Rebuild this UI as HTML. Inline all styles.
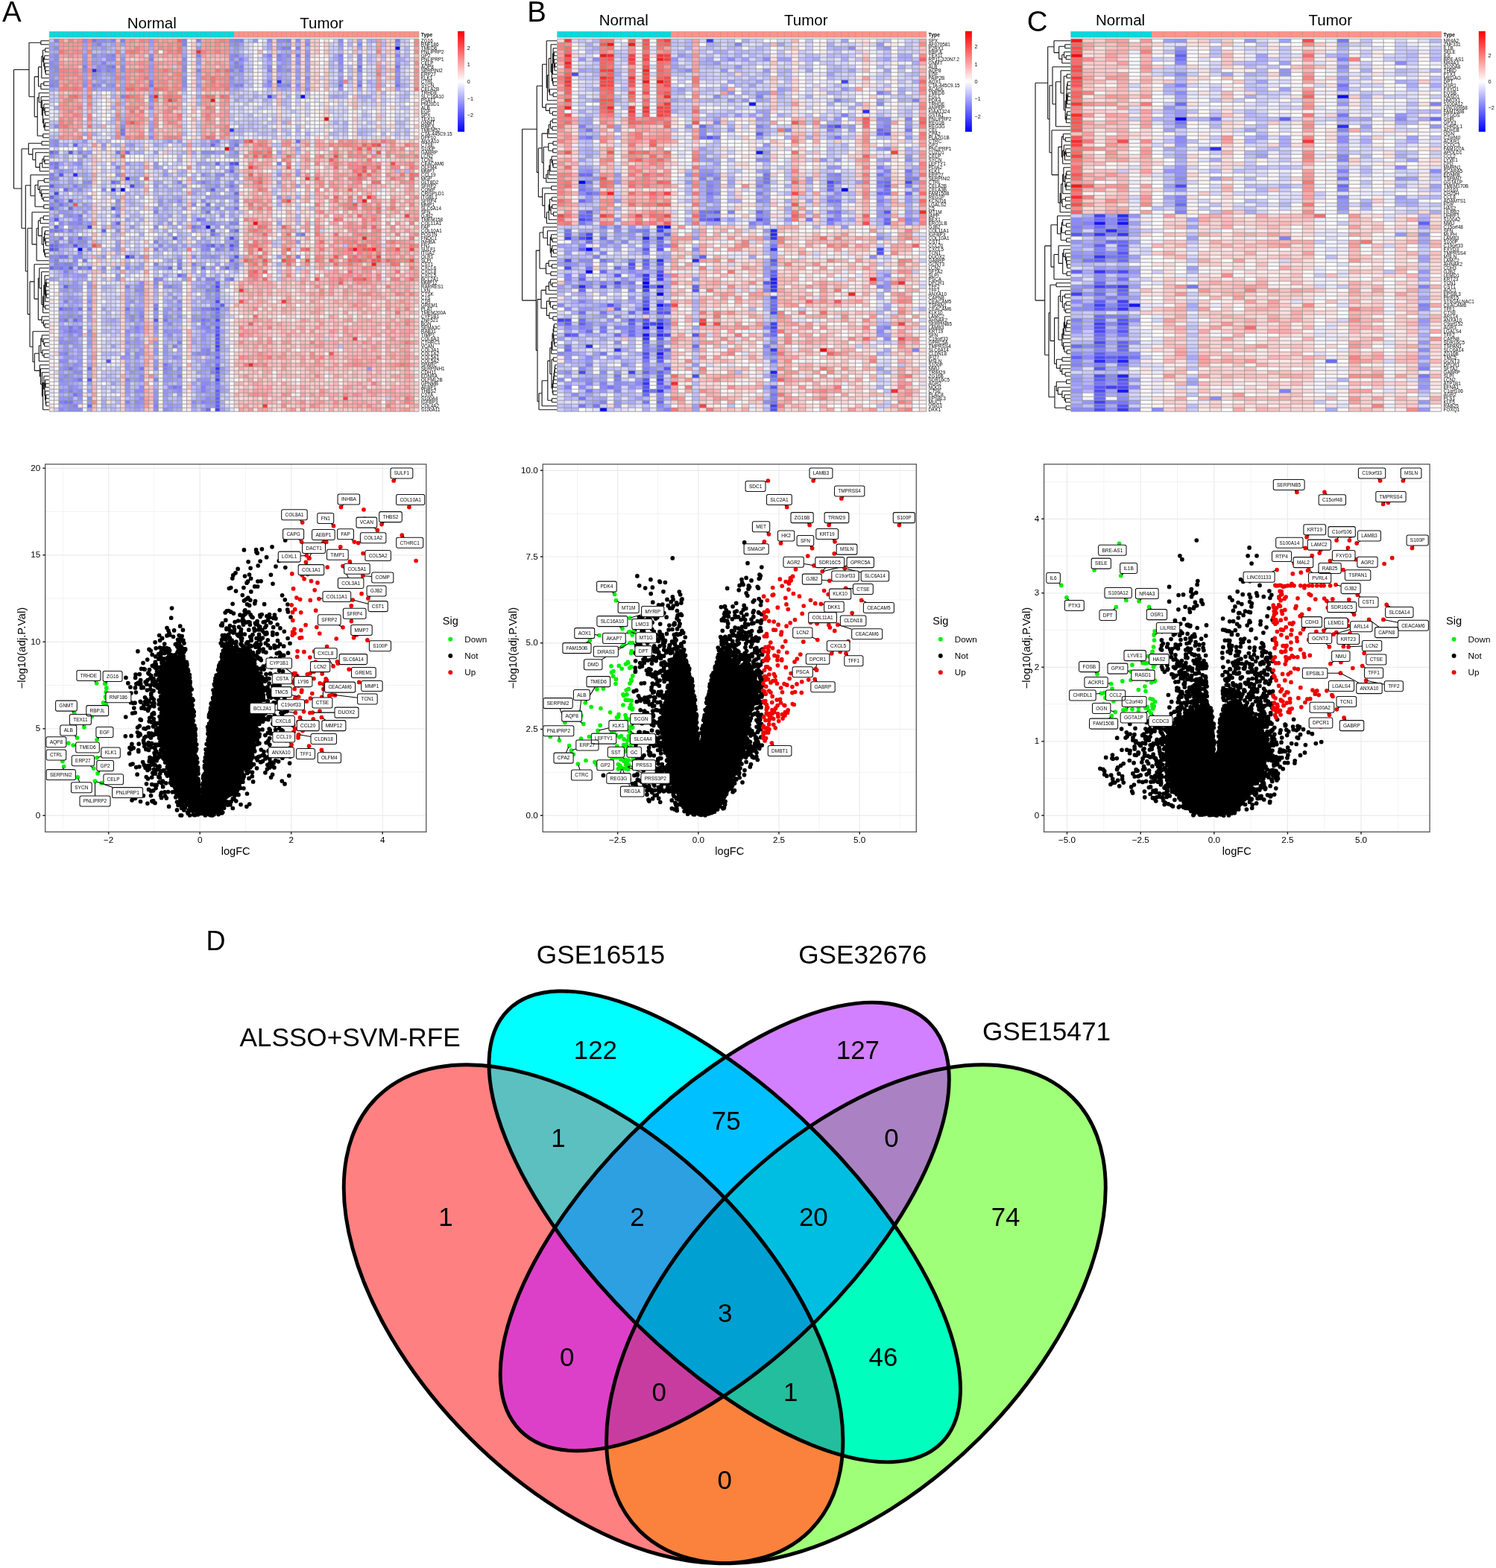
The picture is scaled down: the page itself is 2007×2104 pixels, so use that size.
<!DOCTYPE html>
<html><head><meta charset="utf-8"><title>Figure</title>
<style>
html,body{margin:0;padding:0;background:#fff}
svg{display:block}
text{font-family:"Liberation Sans",sans-serif;fill:#000}
</style></head>
<body>
<svg width="2007" height="2104" viewBox="0 0 2007 2104">
<rect width="2007" height="2104" fill="#fff"/>
<g id="venn"><defs>
<clipPath id="e1"><ellipse cx="0.35" cy="0.47" rx="0.35" ry="0.2" transform="translate(385.00 2314.80) scale(1174.5 -1173.5) rotate(135 0.35 0.47)" /></clipPath>
<clipPath id="e2"><ellipse cx="0.5" cy="0.57" rx="0.35" ry="0.15" transform="translate(385.00 2314.80) scale(1174.5 -1173.5) rotate(135 0.5 0.57)" /></clipPath>
<clipPath id="e3"><ellipse cx="0.5" cy="0.57" rx="0.33" ry="0.15" transform="translate(385.00 2314.80) scale(1174.5 -1173.5) rotate(45 0.5 0.57)" /></clipPath>
<clipPath id="e4"><ellipse cx="0.65" cy="0.47" rx="0.35" ry="0.2" transform="translate(385.00 2314.80) scale(1174.5 -1173.5) rotate(45 0.65 0.47)" /></clipPath>
</defs>
<ellipse cx="0.35" cy="0.47" rx="0.35" ry="0.2" transform="translate(385.00 2314.80) scale(1174.5 -1173.5) rotate(135 0.35 0.47)" fill="#ff8080"/>
<ellipse cx="0.5" cy="0.57" rx="0.35" ry="0.15" transform="translate(385.00 2314.80) scale(1174.5 -1173.5) rotate(135 0.5 0.57)" fill="#00ffff"/>
<ellipse cx="0.5" cy="0.57" rx="0.33" ry="0.15" transform="translate(385.00 2314.80) scale(1174.5 -1173.5) rotate(45 0.5 0.57)" fill="#d280ff"/>
<ellipse cx="0.65" cy="0.47" rx="0.35" ry="0.2" transform="translate(385.00 2314.80) scale(1174.5 -1173.5) rotate(45 0.65 0.47)" fill="#a0ff78"/>
<g clip-path="url(#e1)"><ellipse cx="0.5" cy="0.57" rx="0.35" ry="0.15" transform="translate(385.00 2314.80) scale(1174.5 -1173.5) rotate(135 0.5 0.57)" fill="#5cc0c0"/></g>
<g clip-path="url(#e1)"><ellipse cx="0.5" cy="0.57" rx="0.33" ry="0.15" transform="translate(385.00 2314.80) scale(1174.5 -1173.5) rotate(45 0.5 0.57)" fill="#dc40c8"/></g>
<g clip-path="url(#e1)"><ellipse cx="0.65" cy="0.47" rx="0.35" ry="0.2" transform="translate(385.00 2314.80) scale(1174.5 -1173.5) rotate(45 0.65 0.47)" fill="#fa823c"/></g>
<g clip-path="url(#e2)"><ellipse cx="0.5" cy="0.57" rx="0.33" ry="0.15" transform="translate(385.00 2314.80) scale(1174.5 -1173.5) rotate(45 0.5 0.57)" fill="#00c0ff"/></g>
<g clip-path="url(#e2)"><ellipse cx="0.65" cy="0.47" rx="0.35" ry="0.2" transform="translate(385.00 2314.80) scale(1174.5 -1173.5) rotate(45 0.65 0.47)" fill="#00ffbe"/></g>
<g clip-path="url(#e3)"><ellipse cx="0.65" cy="0.47" rx="0.35" ry="0.2" transform="translate(385.00 2314.80) scale(1174.5 -1173.5) rotate(45 0.65 0.47)" fill="#aa82c3"/></g>
<g clip-path="url(#e1)"><g clip-path="url(#e2)"><ellipse cx="0.5" cy="0.57" rx="0.33" ry="0.15" transform="translate(385.00 2314.80) scale(1174.5 -1173.5) rotate(45 0.5 0.57)" fill="#2da0e1"/></g></g>
<g clip-path="url(#e1)"><g clip-path="url(#e2)"><ellipse cx="0.65" cy="0.47" rx="0.35" ry="0.2" transform="translate(385.00 2314.80) scale(1174.5 -1173.5) rotate(45 0.65 0.47)" fill="#23be9e"/></g></g>
<g clip-path="url(#e1)"><g clip-path="url(#e3)"><ellipse cx="0.65" cy="0.47" rx="0.35" ry="0.2" transform="translate(385.00 2314.80) scale(1174.5 -1173.5) rotate(45 0.65 0.47)" fill="#c83ca0"/></g></g>
<g clip-path="url(#e2)"><g clip-path="url(#e3)"><ellipse cx="0.65" cy="0.47" rx="0.35" ry="0.2" transform="translate(385.00 2314.80) scale(1174.5 -1173.5) rotate(45 0.65 0.47)" fill="#00bee1"/></g></g>
<g clip-path="url(#e1)"><g clip-path="url(#e2)"><g clip-path="url(#e3)"><ellipse cx="0.65" cy="0.47" rx="0.35" ry="0.2" transform="translate(385.00 2314.80) scale(1174.5 -1173.5) rotate(45 0.65 0.47)" fill="#00a0d2"/></g></g></g>
<ellipse cx="0.35" cy="0.47" rx="0.35" ry="0.2" transform="translate(385.00 2314.80) scale(1174.5 -1173.5) rotate(135 0.35 0.47)" fill="none" stroke="#000" stroke-width="4.9" vector-effect="non-scaling-stroke"/>
<ellipse cx="0.5" cy="0.57" rx="0.35" ry="0.15" transform="translate(385.00 2314.80) scale(1174.5 -1173.5) rotate(135 0.5 0.57)" fill="none" stroke="#000" stroke-width="4.9" vector-effect="non-scaling-stroke"/>
<ellipse cx="0.5" cy="0.57" rx="0.33" ry="0.15" transform="translate(385.00 2314.80) scale(1174.5 -1173.5) rotate(45 0.5 0.57)" fill="none" stroke="#000" stroke-width="4.9" vector-effect="non-scaling-stroke"/>
<ellipse cx="0.65" cy="0.47" rx="0.35" ry="0.2" transform="translate(385.00 2314.80) scale(1174.5 -1173.5) rotate(45 0.65 0.47)" fill="none" stroke="#000" stroke-width="4.9" vector-effect="non-scaling-stroke"/>
<g font-size="34.9">
<text x="276.6" y="1274.8" font-size="36">D</text>
<g font-size="35.2"><text x="719.8" y="1292.6">GSE16515</text>
<text x="1071.2" y="1292.6">GSE32676</text>
<text x="321.4" y="1404.2">ALSSO+SVM-RFE</text>
<text x="1317.9" y="1396">GSE15471</text></g>
<g text-anchor="middle">
<text x="798.9" y="1421.4" font-size="34.9" text-anchor="middle">122</text>
<text x="1150.9" y="1421.4" font-size="34.9" text-anchor="middle">127</text>
<text x="974.2" y="1516.4" font-size="34.9" text-anchor="middle">75</text>
<text x="749.0" y="1539.3" font-size="34.9" text-anchor="middle">1</text>
<text x="1196.0" y="1539.3" font-size="34.9" text-anchor="middle">0</text>
<text x="597.9" y="1645.3" font-size="34.9" text-anchor="middle">1</text>
<text x="855.0" y="1645.3" font-size="34.9" text-anchor="middle">2</text>
<text x="1091.3" y="1645.3" font-size="34.9" text-anchor="middle">20</text>
<text x="1349.1" y="1645.3" font-size="34.9" text-anchor="middle">74</text>
<text x="972.8" y="1774.2" font-size="34.9" text-anchor="middle">3</text>
<text x="760.7" y="1833.1" font-size="34.9" text-anchor="middle">0</text>
<text x="1184.9" y="1833.1" font-size="34.9" text-anchor="middle">46</text>
<text x="884.1" y="1880.2" font-size="34.9" text-anchor="middle">0</text>
<text x="1060.8" y="1880.2" font-size="34.9" text-anchor="middle">1</text>
<text x="972.1" y="1998.0" font-size="34.9" text-anchor="middle">0</text>
</g></g></g>
<rect x="66.20" y="42.3" width="247.92" height="7.9" fill="#00dae0"/>
<rect x="314.12" y="42.3" width="247.92" height="7.9" fill="#ff9289"/>
<path fill="none" stroke="#999" stroke-width="0.9" opacity="0.55" d="M66.20 42.3v7.9M72.56 42.3v7.9M78.91 42.3v7.9M85.27 42.3v7.9M91.63 42.3v7.9M97.98 42.3v7.9M104.34 42.3v7.9M110.70 42.3v7.9M117.06 42.3v7.9M123.41 42.3v7.9M129.77 42.3v7.9M136.13 42.3v7.9M142.48 42.3v7.9M148.84 42.3v7.9M155.20 42.3v7.9M161.56 42.3v7.9M167.91 42.3v7.9M174.27 42.3v7.9M180.63 42.3v7.9M186.98 42.3v7.9M193.34 42.3v7.9M199.70 42.3v7.9M206.05 42.3v7.9M212.41 42.3v7.9M218.77 42.3v7.9M225.12 42.3v7.9M231.48 42.3v7.9M237.84 42.3v7.9M244.20 42.3v7.9M250.55 42.3v7.9M256.91 42.3v7.9M263.27 42.3v7.9M269.62 42.3v7.9M275.98 42.3v7.9M282.34 42.3v7.9M288.69 42.3v7.9M295.05 42.3v7.9M301.41 42.3v7.9M307.77 42.3v7.9M314.12 42.3v7.9M320.48 42.3v7.9M326.84 42.3v7.9M333.19 42.3v7.9M339.55 42.3v7.9M345.91 42.3v7.9M352.26 42.3v7.9M358.62 42.3v7.9M364.98 42.3v7.9M371.34 42.3v7.9M377.69 42.3v7.9M384.05 42.3v7.9M390.41 42.3v7.9M396.76 42.3v7.9M403.12 42.3v7.9M409.48 42.3v7.9M415.83 42.3v7.9M422.19 42.3v7.9M428.55 42.3v7.9M434.91 42.3v7.9M441.26 42.3v7.9M447.62 42.3v7.9M453.98 42.3v7.9M460.33 42.3v7.9M466.69 42.3v7.9M473.05 42.3v7.9M479.41 42.3v7.9M485.76 42.3v7.9M492.12 42.3v7.9M498.48 42.3v7.9M504.83 42.3v7.9M511.19 42.3v7.9M517.55 42.3v7.9M523.90 42.3v7.9M530.26 42.3v7.9M536.62 42.3v7.9M542.98 42.3v7.9M549.33 42.3v7.9M555.69 42.3v7.9M562.05 42.3v7.9M66.20 42.3h495.85M66.20 50.2h495.85"/>
<g transform="translate(66.20,52.20) scale(6.3570,5.0000)" shape-rendering="crispEdges">
<path fill="#0000ff" d="M73 2h1v1h-1zM15 40h1v1h-1zM6 56h1v1h-1z"/>
<path fill="#0b0bff" d="M53 15h1v1h-1zM33 50h1v1h-1z"/>
<path fill="#2a2aff" d="M9 8h1v1h-1zM48 11h1v1h-1zM5 36h1v1h-1zM13 40h1v1h-1z"/>
<path fill="#3535ff" d="M38 24h1v1h-1zM16 37h1v1h-1zM16 58h1v1h-1zM35 88h1v1h-1z"/>
<path fill="#4040ff" d="M46 15h1v1h-1zM8 50h1v1h-1zM35 82h1v1h-1zM35 91h1v1h-1zM35 99h1v1h-1z"/>
<path fill="#4a4aff" d="M39 33h1v1h-1zM17 39h1v1h-1zM1 41h1v1h-1zM38 53h1v1h-1zM35 66h1v1h-1zM35 70h1v1h-1zM35 75h1v1h-1zM35 79h1v1h-1z"/>
<path fill="#5555ff" d="M4 30h1v1h-1zM38 33h1v1h-1zM2 36h1v1h-1zM4 43h1v1h-1zM13 45h1v1h-1zM1 48h1v1h-1zM5 55h1v1h-1zM38 55h1v1h-1zM0 56h1v1h-1zM39 58h1v1h-1zM35 72h1v1h-1zM22 75h1v1h-1zM35 77h1v1h-1zM35 80h1v1h-1zM35 81h1v1h-1zM35 83h1v1h-1zM12 86h1v1h-1zM35 89h1v1h-1zM8 91h1v1h-1z"/>
<path fill="#6060ff" d="M5 28h1v1h-1zM0 39h1v1h-1zM34 40h1v1h-1zM0 45h1v1h-1zM14 49h1v1h-1zM1 50h1v1h-1zM11 51h1v1h-1zM34 51h1v1h-1zM26 53h1v1h-1zM34 55h1v1h-1zM4 61h1v1h-1zM35 65h1v1h-1zM3 66h1v1h-1zM36 71h1v1h-1zM35 78h1v1h-1zM35 85h1v1h-1zM35 94h1v1h-1zM35 96h1v1h-1zM35 97h1v1h-1zM35 98h1v1h-1z"/>
<path fill="#6a6aff" d="M52 27h1v1h-1zM34 28h1v1h-1zM0 30h1v1h-1zM16 30h1v1h-1zM35 33h1v1h-1zM38 35h1v1h-1zM13 38h1v1h-1zM3 40h1v1h-1zM39 41h1v1h-1zM0 42h1v1h-1zM33 44h1v1h-1zM4 45h1v1h-1zM39 51h1v1h-1zM6 53h1v1h-1zM0 55h1v1h-1zM1 56h1v1h-1zM17 58h1v1h-1zM38 59h1v1h-1zM0 61h1v1h-1zM8 61h1v1h-1zM25 61h1v1h-1zM32 61h1v1h-1zM37 61h1v1h-1zM27 63h1v1h-1zM35 67h1v1h-1zM2 72h1v1h-1zM34 72h1v1h-1zM5 75h1v1h-1zM35 87h1v1h-1zM8 88h1v1h-1zM35 90h1v1h-1zM35 95h1v1h-1zM8 98h1v1h-1zM33 99h1v1h-1z"/>
<path fill="#7575ff" d="M9 0h1v1h-1zM73 0h1v1h-1zM52 4h1v1h-1zM13 7h1v1h-1zM65 7h1v1h-1zM73 7h1v1h-1zM21 12h1v1h-1zM61 12h1v1h-1zM65 12h1v1h-1zM73 12h1v1h-1zM15 24h1v1h-1zM15 25h1v1h-1zM39 28h1v1h-1zM14 30h1v1h-1zM1 33h1v1h-1zM1 34h1v1h-1zM38 39h1v1h-1zM1 43h1v1h-1zM2 44h1v1h-1zM39 45h1v1h-1zM33 46h1v1h-1zM6 47h1v1h-1zM14 47h1v1h-1zM31 48h1v1h-1zM30 50h1v1h-1zM1 51h1v1h-1zM34 52h1v1h-1zM53 52h1v1h-1zM1 55h1v1h-1zM33 55h1v1h-1zM38 56h1v1h-1zM2 58h2v1h-2zM7 59h1v1h-1zM2 61h1v1h-1zM6 61h1v1h-1zM27 61h1v1h-1zM38 64h1v1h-1zM6 72h1v1h-1zM16 72h1v1h-1zM22 72h1v1h-1zM35 73h1v1h-1zM35 74h1v1h-1zM3 75h1v1h-1zM24 75h1v1h-1zM32 75h1v1h-1zM4 77h1v1h-1zM4 78h1v1h-1zM24 87h1v1h-1zM4 88h1v1h-1zM19 88h1v1h-1zM6 91h1v1h-1zM35 92h1v1h-1zM26 93h1v1h-1zM5 95h1v1h-1zM3 97h2v1h-2z"/>
<path fill="#8080ff" d="M1 0h1v1h-1zM13 0h1v1h-1zM15 0h1v1h-1zM28 0h1v1h-1zM31 0h1v1h-1zM39 0h2v1h-2zM50 0h1v1h-1zM10 1h1v1h-1zM28 1h1v1h-1zM49 2h2v1h-2zM52 2h1v1h-1zM13 4h1v1h-1zM31 4h1v1h-1zM39 4h1v1h-1zM46 4h1v1h-1zM48 4h1v1h-1zM61 4h1v1h-1zM73 4h1v1h-1zM21 5h1v1h-1zM40 5h1v1h-1zM11 6h1v1h-1zM39 6h1v1h-1zM7 7h1v1h-1zM12 7h1v1h-1zM39 7h2v1h-2zM10 8h1v1h-1zM12 8h1v1h-1zM31 8h1v1h-1zM38 8h1v1h-1zM40 8h1v1h-1zM46 8h1v1h-1zM65 8h1v1h-1zM21 11h1v1h-1zM46 11h1v1h-1zM0 12h1v1h-1zM9 12h1v1h-1zM39 12h2v1h-2zM48 12h1v1h-1zM50 12h1v1h-1zM15 15h1v1h-1zM21 15h1v1h-1zM35 27h1v1h-1zM1 30h1v1h-1zM6 30h1v1h-1zM0 33h1v1h-1zM48 33h1v1h-1zM14 34h1v1h-1zM38 34h1v1h-1zM0 36h1v1h-1zM0 37h1v1h-1zM14 38h1v1h-1zM27 38h1v1h-1zM32 38h1v1h-1zM5 39h1v1h-1zM39 43h1v1h-1zM22 46h1v1h-1zM6 48h1v1h-1zM32 48h1v1h-1zM6 49h1v1h-1zM38 49h2v1h-2zM0 51h1v1h-1zM2 51h1v1h-1zM4 51h1v1h-1zM2 53h1v1h-1zM1 54h1v1h-1zM4 54h1v1h-1zM22 54h1v1h-1zM39 54h1v1h-1zM36 55h1v1h-1zM39 55h1v1h-1zM8 56h1v1h-1zM22 56h1v1h-1zM33 56h1v1h-1zM35 56h1v1h-1zM6 57h1v1h-1zM52 58h1v1h-1zM1 59h1v1h-1zM1 60h1v1h-1zM3 60h2v1h-2zM22 60h1v1h-1zM27 60h1v1h-1zM30 60h1v1h-1zM39 60h1v1h-1zM1 61h1v1h-1zM14 61h1v1h-1zM39 61h1v1h-1zM3 62h1v1h-1zM22 64h1v1h-1zM33 64h2v1h-2zM16 66h1v1h-1zM25 66h1v1h-1zM33 67h1v1h-1zM35 69h1v1h-1zM3 70h1v1h-1zM22 71h1v1h-1zM3 72h2v1h-2zM8 72h1v1h-1zM27 72h1v1h-1zM32 72h2v1h-2zM19 74h1v1h-1zM33 75h1v1h-1zM32 76h1v1h-1zM35 76h1v1h-1zM6 77h1v1h-1zM18 77h1v1h-1zM33 77h1v1h-1zM5 78h1v1h-1zM27 81h1v1h-1zM26 82h1v1h-1zM33 83h1v1h-1zM3 84h1v1h-1zM33 84h1v1h-1zM35 84h1v1h-1zM24 88h1v1h-1zM34 89h1v1h-1zM27 90h1v1h-1zM16 91h1v1h-1zM22 91h1v1h-1zM27 93h1v1h-1zM32 93h1v1h-1zM35 93h1v1h-1zM4 94h1v1h-1zM32 94h1v1h-1zM2 97h1v1h-1zM16 97h1v1h-1zM32 97h1v1h-1zM5 98h1v1h-1zM22 98h1v1h-1z"/>
<path fill="#8a8aff" d="M7 0h1v1h-1zM10 0h2v1h-2zM38 0h1v1h-1zM46 0h1v1h-1zM48 0h2v1h-2zM52 0h1v1h-1zM61 0h1v1h-1zM39 1h1v1h-1zM54 1h1v1h-1zM65 1h1v1h-1zM73 1h1v1h-1zM1 2h1v1h-1zM1 4h1v1h-1zM9 4h1v1h-1zM12 4h1v1h-1zM21 4h1v1h-1zM38 4h1v1h-1zM50 4h1v1h-1zM54 4h1v1h-1zM65 4h1v1h-1zM1 5h1v1h-1zM12 5h2v1h-2zM28 5h1v1h-1zM38 5h1v1h-1zM48 5h1v1h-1zM61 5h1v1h-1zM65 5h1v1h-1zM0 6h1v1h-1zM52 6h1v1h-1zM61 6h1v1h-1zM0 7h2v1h-2zM10 7h1v1h-1zM15 7h1v1h-1zM28 7h1v1h-1zM46 7h1v1h-1zM48 7h1v1h-1zM1 8h1v1h-1zM7 8h1v1h-1zM13 8h1v1h-1zM15 8h1v1h-1zM28 8h1v1h-1zM48 8h1v1h-1zM50 8h1v1h-1zM61 8h1v1h-1zM73 8h1v1h-1zM9 9h1v1h-1zM28 10h1v1h-1zM38 10h1v1h-1zM54 10h1v1h-1zM73 10h1v1h-1zM0 11h2v1h-2zM28 11h1v1h-1zM61 11h1v1h-1zM65 11h1v1h-1zM73 11h1v1h-1zM1 12h1v1h-1zM7 12h1v1h-1zM10 12h1v1h-1zM13 12h1v1h-1zM28 12h1v1h-1zM46 12h1v1h-1zM49 12h1v1h-1zM52 12h1v1h-1zM54 13h1v1h-1zM21 16h1v1h-1zM21 18h1v1h-1zM1 23h1v1h-1zM15 23h1v1h-1zM21 26h1v1h-1zM1 27h1v1h-1zM34 27h1v1h-1zM39 27h1v1h-1zM1 28h1v1h-1zM38 29h1v1h-1zM32 30h3v1h-3zM39 30h1v1h-1zM7 31h1v1h-1zM6 33h1v1h-1zM2 35h1v1h-1zM14 36h1v1h-1zM32 36h1v1h-1zM35 36h2v1h-2zM1 37h1v1h-1zM7 38h2v1h-2zM38 38h1v1h-1zM35 39h1v1h-1zM6 40h1v1h-1zM11 40h1v1h-1zM14 43h1v1h-1zM27 43h1v1h-1zM32 43h1v1h-1zM0 44h1v1h-1zM30 44h1v1h-1zM1 45h1v1h-1zM14 45h1v1h-1zM32 45h1v1h-1zM35 45h1v1h-1zM4 47h1v1h-1zM2 49h1v1h-1zM4 49h2v1h-2zM34 49h1v1h-1zM22 50h1v1h-1zM31 50h1v1h-1zM14 51h1v1h-1zM38 51h1v1h-1zM52 52h1v1h-1zM4 53h1v1h-1zM6 54h2v1h-2zM2 55h1v1h-1zM23 55h1v1h-1zM32 55h1v1h-1zM32 56h1v1h-1zM0 58h2v1h-2zM5 58h2v1h-2zM30 58h1v1h-1zM34 58h1v1h-1zM5 59h1v1h-1zM27 59h1v1h-1zM2 60h1v1h-1zM3 61h1v1h-1zM7 61h1v1h-1zM11 61h1v1h-1zM16 61h1v1h-1zM28 63h1v1h-1zM23 64h1v1h-1zM37 64h1v1h-1zM19 65h1v1h-1zM22 65h1v1h-1zM19 66h1v1h-1zM24 66h1v1h-1zM34 66h1v1h-1zM18 67h2v1h-2zM34 67h1v1h-1zM35 68h1v1h-1zM8 70h1v1h-1zM27 70h1v1h-1zM35 71h1v1h-1zM19 73h1v1h-1zM4 74h1v1h-1zM6 74h1v1h-1zM17 74h1v1h-1zM24 74h1v1h-1zM27 74h1v1h-1zM34 74h1v1h-1zM2 75h1v1h-1zM6 75h1v1h-1zM17 75h1v1h-1zM19 75h1v1h-1zM25 76h1v1h-1zM34 76h1v1h-1zM22 77h1v1h-1zM32 77h1v1h-1zM3 78h1v1h-1zM6 78h1v1h-1zM8 78h1v1h-1zM16 78h1v1h-1zM18 78h1v1h-1zM24 78h1v1h-1zM33 78h1v1h-1zM4 79h1v1h-1zM6 79h1v1h-1zM25 79h1v1h-1zM2 81h3v1h-3zM16 81h1v1h-1zM32 83h1v1h-1zM2 84h1v1h-1zM16 84h1v1h-1zM18 84h1v1h-1zM31 84h2v1h-2zM18 85h1v1h-1zM26 85h1v1h-1zM2 86h2v1h-2zM35 86h1v1h-1zM5 87h1v1h-1zM3 88h1v1h-1zM22 88h1v1h-1zM25 88h1v1h-1zM27 88h1v1h-1zM34 88h1v1h-1zM5 89h2v1h-2zM24 89h1v1h-1zM3 90h1v1h-1zM19 90h1v1h-1zM2 91h1v1h-1zM5 91h1v1h-1zM19 91h1v1h-1zM32 92h2v1h-2zM4 93h1v1h-1zM19 93h1v1h-1zM25 93h1v1h-1zM2 94h1v1h-1zM6 94h1v1h-1zM18 94h2v1h-2zM27 94h1v1h-1zM6 95h1v1h-1zM4 96h1v1h-1zM8 96h1v1h-1zM19 96h1v1h-1zM33 96h1v1h-1zM18 97h1v1h-1zM22 97h1v1h-1zM30 97h1v1h-1zM33 97h2v1h-2zM4 98h1v1h-1zM2 99h1v1h-1zM4 99h3v1h-3zM22 99h1v1h-1zM24 99h1v1h-1z"/>
<path fill="#9595ff" d="M12 0h1v1h-1zM21 0h1v1h-1zM43 0h1v1h-1zM54 0h1v1h-1zM9 1h1v1h-1zM38 1h1v1h-1zM61 1h1v1h-1zM11 2h1v1h-1zM31 2h1v1h-1zM39 2h1v1h-1zM48 2h1v1h-1zM54 3h1v1h-1zM0 4h1v1h-1zM7 4h1v1h-1zM11 4h1v1h-1zM49 4h1v1h-1zM7 5h1v1h-1zM15 5h1v1h-1zM46 5h1v1h-1zM49 5h1v1h-1zM52 5h1v1h-1zM54 5h1v1h-1zM1 6h1v1h-1zM7 6h1v1h-1zM9 6h1v1h-1zM28 6h1v1h-1zM31 6h1v1h-1zM40 6h1v1h-1zM49 6h1v1h-1zM65 6h1v1h-1zM73 6h1v1h-1zM11 7h1v1h-1zM21 7h1v1h-1zM38 7h1v1h-1zM54 7h1v1h-1zM61 7h1v1h-1zM0 8h1v1h-1zM11 8h1v1h-1zM21 8h1v1h-1zM49 8h1v1h-1zM52 8h1v1h-1zM54 8h1v1h-1zM0 9h2v1h-2zM10 9h1v1h-1zM13 9h1v1h-1zM73 9h1v1h-1zM0 10h1v1h-1zM9 10h1v1h-1zM15 10h1v1h-1zM48 10h1v1h-1zM52 10h1v1h-1zM61 10h1v1h-1zM7 11h1v1h-1zM11 11h1v1h-1zM38 11h1v1h-1zM54 11h1v1h-1zM12 12h1v1h-1zM31 12h1v1h-1zM38 12h1v1h-1zM9 13h1v1h-1zM61 13h1v1h-1zM21 24h1v1h-1zM0 27h1v1h-1zM7 27h1v1h-1zM25 27h1v1h-1zM27 27h1v1h-1zM38 27h1v1h-1zM0 28h1v1h-1zM11 28h1v1h-1zM17 28h1v1h-1zM38 28h1v1h-1zM8 30h1v1h-1zM22 30h1v1h-1zM0 31h1v1h-1zM5 33h1v1h-1zM16 33h1v1h-1zM22 33h1v1h-1zM0 34h1v1h-1zM22 34h1v1h-1zM24 36h1v1h-1zM39 36h1v1h-1zM48 36h1v1h-1zM52 36h1v1h-1zM35 37h1v1h-1zM33 38h1v1h-1zM1 39h1v1h-1zM7 39h1v1h-1zM22 39h1v1h-1zM28 39h1v1h-1zM39 39h1v1h-1zM4 40h1v1h-1zM33 40h1v1h-1zM38 40h1v1h-1zM1 42h1v1h-1zM33 42h1v1h-1zM39 42h1v1h-1zM48 42h1v1h-1zM2 43h1v1h-1zM23 43h1v1h-1zM1 44h1v1h-1zM3 44h1v1h-1zM7 44h1v1h-1zM14 44h1v1h-1zM23 44h1v1h-1zM22 45h1v1h-1zM28 45h1v1h-1zM2 46h2v1h-2zM7 46h1v1h-1zM1 47h1v1h-1zM3 47h1v1h-1zM5 47h1v1h-1zM36 47h1v1h-1zM39 48h1v1h-1zM8 49h1v1h-1zM25 49h1v1h-1zM32 49h2v1h-2zM5 50h1v1h-1zM17 50h1v1h-1zM35 50h1v1h-1zM30 51h1v1h-1zM35 52h1v1h-1zM7 53h1v1h-1zM39 53h1v1h-1zM38 54h1v1h-1zM52 54h1v1h-1zM3 55h1v1h-1zM6 55h2v1h-2zM14 55h1v1h-1zM14 56h1v1h-1zM26 56h1v1h-1zM36 56h1v1h-1zM39 56h1v1h-1zM11 58h1v1h-1zM19 58h1v1h-1zM32 58h2v1h-2zM35 58h1v1h-1zM38 58h1v1h-1zM0 59h1v1h-1zM5 60h1v1h-1zM35 60h1v1h-1zM38 60h1v1h-1zM18 61h1v1h-1zM24 61h1v1h-1zM34 61h1v1h-1zM36 61h1v1h-1zM3 63h1v1h-1zM6 63h2v1h-2zM14 63h1v1h-1zM14 64h1v1h-1zM31 64h1v1h-1zM5 65h1v1h-1zM33 65h1v1h-1zM4 66h2v1h-2zM8 66h1v1h-1zM18 66h1v1h-1zM22 66h1v1h-1zM26 66h1v1h-1zM32 66h1v1h-1zM3 67h1v1h-1zM5 67h1v1h-1zM19 68h1v1h-1zM33 68h1v1h-1zM4 69h1v1h-1zM26 69h1v1h-1zM33 69h1v1h-1zM5 70h1v1h-1zM17 70h1v1h-1zM5 72h1v1h-1zM18 72h2v1h-2zM24 72h2v1h-2zM4 73h1v1h-1zM16 73h1v1h-1zM22 73h1v1h-1zM24 73h1v1h-1zM32 73h1v1h-1zM34 73h1v1h-1zM2 74h2v1h-2zM5 74h1v1h-1zM16 74h1v1h-1zM22 74h1v1h-1zM25 74h1v1h-1zM30 74h1v1h-1zM32 74h1v1h-1zM30 75h2v1h-2zM34 75h1v1h-1zM2 77h2v1h-2zM5 77h1v1h-1zM19 77h1v1h-1zM22 78h1v1h-1zM25 78h3v1h-3zM34 78h1v1h-1zM8 79h1v1h-1zM16 79h1v1h-1zM32 79h1v1h-1zM2 80h1v1h-1zM4 80h2v1h-2zM18 80h1v1h-1zM32 80h1v1h-1zM5 81h1v1h-1zM8 81h1v1h-1zM18 81h1v1h-1zM22 81h1v1h-1zM3 82h1v1h-1zM5 82h1v1h-1zM24 82h1v1h-1zM3 83h1v1h-1zM16 83h1v1h-1zM19 83h1v1h-1zM22 83h1v1h-1zM24 83h1v1h-1zM19 84h1v1h-1zM22 84h1v1h-1zM24 84h1v1h-1zM30 84h1v1h-1zM34 84h1v1h-1zM3 85h2v1h-2zM15 85h2v1h-2zM27 85h1v1h-1zM6 86h1v1h-1zM22 86h1v1h-1zM33 86h2v1h-2zM3 87h1v1h-1zM6 87h1v1h-1zM16 87h1v1h-1zM22 87h1v1h-1zM25 87h1v1h-1zM33 87h1v1h-1zM2 88h1v1h-1zM5 88h1v1h-1zM16 88h1v1h-1zM18 88h1v1h-1zM36 88h1v1h-1zM67 88h1v1h-1zM17 89h1v1h-1zM25 89h1v1h-1zM27 89h1v1h-1zM2 90h1v1h-1zM4 90h1v1h-1zM25 90h1v1h-1zM3 91h2v1h-2zM18 91h1v1h-1zM24 91h2v1h-2zM31 91h3v1h-3zM2 92h2v1h-2zM16 92h1v1h-1zM5 93h1v1h-1zM16 93h1v1h-1zM3 94h1v1h-1zM5 94h1v1h-1zM8 94h1v1h-1zM16 94h1v1h-1zM22 94h1v1h-1zM24 94h1v1h-1zM26 94h1v1h-1zM33 94h1v1h-1zM22 95h1v1h-1zM24 95h1v1h-1zM27 95h1v1h-1zM2 96h2v1h-2zM6 96h1v1h-1zM22 96h1v1h-1zM34 96h1v1h-1zM8 97h1v1h-1zM19 97h1v1h-1zM3 98h1v1h-1zM18 98h1v1h-1zM25 98h1v1h-1zM33 98h2v1h-2zM3 99h1v1h-1zM25 99h1v1h-1zM32 99h1v1h-1z"/>
<path fill="#9f9fff" d="M65 0h1v1h-1zM0 1h1v1h-1zM7 1h1v1h-1zM13 1h1v1h-1zM15 1h1v1h-1zM21 1h1v1h-1zM40 1h1v1h-1zM46 1h1v1h-1zM48 1h1v1h-1zM50 1h1v1h-1zM0 2h1v1h-1zM7 2h1v1h-1zM9 2h1v1h-1zM46 2h1v1h-1zM61 2h1v1h-1zM65 2h1v1h-1zM39 3h1v1h-1zM10 4h1v1h-1zM15 4h1v1h-1zM28 4h1v1h-1zM40 4h1v1h-1zM45 4h1v1h-1zM0 5h1v1h-1zM9 5h2v1h-2zM31 5h1v1h-1zM50 5h1v1h-1zM73 5h1v1h-1zM10 6h1v1h-1zM15 6h1v1h-1zM21 6h1v1h-1zM38 6h1v1h-1zM50 6h1v1h-1zM54 6h1v1h-1zM49 7h1v1h-1zM39 8h1v1h-1zM7 9h1v1h-1zM12 9h1v1h-1zM21 9h1v1h-1zM28 9h1v1h-1zM31 9h1v1h-1zM39 9h2v1h-2zM52 9h1v1h-1zM65 9h1v1h-1zM7 10h1v1h-1zM10 10h1v1h-1zM13 10h1v1h-1zM21 10h1v1h-1zM31 10h1v1h-1zM40 10h1v1h-1zM46 10h1v1h-1zM65 10h1v1h-1zM10 11h1v1h-1zM13 11h1v1h-1zM40 11h1v1h-1zM50 11h1v1h-1zM15 12h1v1h-1zM45 12h1v1h-1zM54 12h1v1h-1zM0 13h1v1h-1zM11 13h3v1h-3zM15 13h1v1h-1zM21 13h1v1h-1zM28 13h1v1h-1zM39 13h1v1h-1zM49 13h1v1h-1zM52 13h1v1h-1zM73 13h1v1h-1zM31 15h1v1h-1zM47 15h1v1h-1zM60 15h1v1h-1zM39 16h1v1h-1zM21 17h1v1h-1zM15 22h1v1h-1zM21 22h1v1h-1zM21 23h1v1h-1zM7 25h1v1h-1zM3 28h1v1h-1zM16 28h1v1h-1zM22 28h1v1h-1zM32 28h1v1h-1zM35 28h1v1h-1zM52 29h1v1h-1zM7 30h1v1h-1zM30 30h1v1h-1zM35 30h2v1h-2zM38 30h1v1h-1zM48 30h1v1h-1zM38 31h2v1h-2zM6 32h1v1h-1zM2 33h1v1h-1zM13 33h1v1h-1zM31 33h3v1h-3zM6 34h1v1h-1zM1 35h1v1h-1zM3 35h2v1h-2zM24 35h1v1h-1zM37 35h1v1h-1zM52 35h1v1h-1zM7 36h1v1h-1zM33 36h1v1h-1zM17 37h2v1h-2zM39 37h1v1h-1zM4 38h1v1h-1zM18 38h1v1h-1zM22 38h1v1h-1zM31 38h1v1h-1zM35 38h1v1h-1zM48 38h1v1h-1zM2 39h1v1h-1zM6 39h1v1h-1zM18 39h1v1h-1zM33 39h2v1h-2zM37 39h1v1h-1zM52 39h1v1h-1zM30 41h1v1h-1zM8 42h1v1h-1zM27 42h1v1h-1zM34 42h5v1h-5zM25 43h1v1h-1zM6 45h1v1h-1zM8 45h1v1h-1zM24 45h1v1h-1zM33 45h1v1h-1zM37 45h2v1h-2zM4 46h1v1h-1zM14 46h1v1h-1zM32 46h1v1h-1zM25 47h1v1h-1zM38 47h1v1h-1zM0 48h1v1h-1zM5 48h1v1h-1zM16 48h1v1h-1zM7 49h1v1h-1zM13 49h1v1h-1zM23 49h1v1h-1zM27 49h1v1h-1zM35 49h1v1h-1zM48 49h1v1h-1zM2 50h1v1h-1zM4 50h1v1h-1zM6 50h2v1h-2zM13 50h1v1h-1zM37 50h1v1h-1zM25 52h1v1h-1zM0 53h2v1h-2zM5 53h1v1h-1zM32 53h1v1h-1zM0 54h1v1h-1zM5 54h1v1h-1zM14 54h1v1h-1zM33 54h1v1h-1zM37 54h1v1h-1zM4 55h1v1h-1zM25 55h2v1h-2zM28 55h1v1h-1zM35 55h1v1h-1zM24 56h1v1h-1zM27 58h1v1h-1zM48 58h1v1h-1zM25 59h1v1h-1zM39 59h1v1h-1zM16 60h1v1h-1zM19 60h1v1h-1zM19 61h1v1h-1zM23 61h1v1h-1zM30 61h1v1h-1zM38 61h1v1h-1zM4 62h1v1h-1zM11 62h1v1h-1zM5 63h1v1h-1zM24 63h1v1h-1zM32 63h1v1h-1zM35 63h1v1h-1zM0 64h1v1h-1zM28 64h1v1h-1zM8 65h1v1h-1zM34 65h1v1h-1zM6 66h1v1h-1zM27 66h1v1h-1zM31 66h1v1h-1zM2 67h1v1h-1zM6 67h1v1h-1zM16 67h1v1h-1zM27 67h1v1h-1zM25 68h1v1h-1zM3 69h1v1h-1zM5 69h1v1h-1zM8 69h1v1h-1zM16 69h1v1h-1zM19 69h1v1h-1zM34 69h1v1h-1zM6 70h1v1h-1zM16 70h1v1h-1zM19 70h1v1h-1zM25 70h1v1h-1zM32 70h1v1h-1zM34 70h1v1h-1zM4 71h1v1h-1zM16 71h1v1h-1zM27 71h1v1h-1zM34 71h1v1h-1zM11 72h1v1h-1zM30 72h2v1h-2zM36 72h2v1h-2zM3 73h1v1h-1zM5 73h1v1h-1zM18 73h1v1h-1zM27 73h1v1h-1zM8 74h1v1h-1zM18 74h1v1h-1zM31 74h1v1h-1zM33 74h1v1h-1zM36 74h1v1h-1zM8 75h1v1h-1zM13 75h1v1h-1zM16 75h1v1h-1zM25 75h3v1h-3zM18 76h1v1h-1zM22 76h1v1h-1zM24 76h1v1h-1zM33 76h1v1h-1zM17 77h1v1h-1zM31 77h1v1h-1zM2 78h1v1h-1zM17 78h1v1h-1zM19 78h1v1h-1zM36 78h1v1h-1zM3 79h1v1h-1zM24 79h1v1h-1zM8 80h1v1h-1zM16 80h1v1h-1zM25 80h1v1h-1zM27 80h1v1h-1zM17 81h1v1h-1zM19 81h1v1h-1zM30 81h1v1h-1zM32 81h1v1h-1zM6 82h1v1h-1zM8 82h1v1h-1zM13 82h1v1h-1zM18 82h1v1h-1zM22 82h1v1h-1zM32 82h2v1h-2zM4 83h1v1h-1zM6 83h1v1h-1zM27 83h1v1h-1zM6 84h1v1h-1zM5 85h2v1h-2zM8 85h1v1h-1zM24 85h1v1h-1zM4 87h1v1h-1zM8 87h1v1h-1zM18 87h1v1h-1zM32 87h1v1h-1zM32 88h2v1h-2zM2 89h1v1h-1zM4 89h1v1h-1zM8 89h1v1h-1zM18 89h2v1h-2zM26 89h1v1h-1zM31 89h2v1h-2zM36 89h1v1h-1zM6 90h1v1h-1zM8 90h1v1h-1zM24 90h1v1h-1zM17 91h1v1h-1zM26 91h2v1h-2zM4 92h1v1h-1zM8 92h1v1h-1zM13 92h1v1h-1zM24 92h1v1h-1zM27 92h1v1h-1zM30 92h1v1h-1zM34 92h1v1h-1zM33 93h1v1h-1zM36 93h1v1h-1zM25 94h1v1h-1zM31 94h1v1h-1zM36 94h1v1h-1zM4 95h1v1h-1zM16 95h1v1h-1zM18 95h1v1h-1zM33 95h2v1h-2zM18 96h1v1h-1zM24 96h1v1h-1zM32 96h1v1h-1zM5 97h2v1h-2zM24 97h2v1h-2zM31 97h1v1h-1zM2 98h1v1h-1zM16 98h1v1h-1zM19 98h1v1h-1zM26 98h2v1h-2zM30 98h1v1h-1zM8 99h1v1h-1zM18 99h1v1h-1zM36 99h1v1h-1z"/>
<path fill="#aaaaff" d="M67 0h2v1h-2zM1 1h1v1h-1zM11 1h1v1h-1zM49 1h1v1h-1zM52 1h1v1h-1zM10 2h1v1h-1zM12 2h1v1h-1zM21 2h1v1h-1zM28 2h1v1h-1zM38 2h1v1h-1zM40 2h1v1h-1zM54 2h1v1h-1zM0 3h2v1h-2zM7 3h1v1h-1zM11 3h1v1h-1zM28 3h1v1h-1zM38 3h1v1h-1zM49 3h2v1h-2zM52 3h1v1h-1zM73 3h1v1h-1zM60 4h1v1h-1zM39 5h1v1h-1zM41 5h1v1h-1zM60 5h1v1h-1zM74 5h1v1h-1zM12 6h2v1h-2zM46 6h1v1h-1zM48 6h1v1h-1zM9 7h1v1h-1zM50 7h1v1h-1zM52 7h1v1h-1zM11 9h1v1h-1zM15 9h1v1h-1zM38 9h1v1h-1zM46 9h1v1h-1zM48 9h2v1h-2zM54 9h1v1h-1zM61 9h1v1h-1zM1 10h1v1h-1zM49 10h2v1h-2zM63 10h1v1h-1zM12 11h1v1h-1zM15 11h1v1h-1zM31 11h1v1h-1zM39 11h1v1h-1zM49 11h1v1h-1zM52 11h1v1h-1zM67 11h1v1h-1zM74 12h1v1h-1zM1 13h1v1h-1zM10 13h1v1h-1zM31 13h1v1h-1zM38 13h1v1h-1zM48 13h1v1h-1zM50 13h1v1h-1zM65 13h1v1h-1zM21 14h1v1h-1zM13 15h1v1h-1zM40 15h1v1h-1zM43 15h1v1h-1zM50 15h1v1h-1zM52 15h1v1h-1zM59 15h1v1h-1zM61 15h1v1h-1zM65 15h3v1h-3zM42 16h1v1h-1zM45 16h1v1h-1zM15 17h1v1h-1zM31 17h1v1h-1zM1 18h1v1h-1zM13 18h1v1h-1zM21 20h1v1h-1zM15 21h1v1h-1zM49 22h1v1h-1zM60 22h1v1h-1zM62 22h1v1h-1zM40 24h1v1h-1zM47 24h1v1h-1zM52 24h1v1h-1zM9 25h1v1h-1zM21 25h1v1h-1zM54 25h1v1h-1zM65 25h1v1h-1zM24 27h1v1h-1zM32 27h1v1h-1zM40 27h1v1h-1zM14 28h1v1h-1zM28 28h1v1h-1zM33 28h1v1h-1zM6 29h1v1h-1zM11 29h1v1h-1zM18 30h2v1h-2zM28 30h1v1h-1zM1 31h1v1h-1zM3 31h1v1h-1zM33 31h1v1h-1zM27 32h1v1h-1zM4 33h1v1h-1zM19 33h1v1h-1zM37 33h1v1h-1zM23 34h1v1h-1zM14 35h1v1h-1zM28 35h1v1h-1zM1 36h1v1h-1zM6 36h1v1h-1zM19 36h1v1h-1zM27 36h1v1h-1zM38 36h1v1h-1zM4 37h1v1h-1zM7 37h1v1h-1zM0 38h2v1h-2zM23 38h1v1h-1zM26 38h1v1h-1zM34 38h1v1h-1zM3 39h2v1h-2zM8 39h1v1h-1zM19 39h1v1h-1zM24 39h1v1h-1zM0 40h2v1h-2zM5 40h1v1h-1zM22 40h1v1h-1zM25 40h1v1h-1zM27 40h1v1h-1zM30 40h2v1h-2zM36 40h1v1h-1zM39 40h1v1h-1zM16 41h1v1h-1zM34 41h1v1h-1zM38 41h1v1h-1zM23 42h1v1h-1zM26 42h1v1h-1zM50 42h1v1h-1zM52 42h1v1h-1zM0 43h1v1h-1zM6 43h1v1h-1zM26 43h1v1h-1zM4 44h1v1h-1zM8 44h1v1h-1zM17 44h1v1h-1zM27 44h1v1h-1zM35 44h2v1h-2zM39 44h1v1h-1zM48 44h1v1h-1zM2 45h1v1h-1zM5 45h1v1h-1zM7 45h1v1h-1zM34 45h1v1h-1zM36 46h1v1h-1zM38 46h1v1h-1zM13 47h1v1h-1zM23 47h1v1h-1zM28 47h1v1h-1zM30 47h1v1h-1zM19 48h1v1h-1zM23 48h2v1h-2zM30 48h1v1h-1zM34 48h1v1h-1zM3 49h1v1h-1zM36 49h1v1h-1zM11 50h1v1h-1zM14 50h1v1h-1zM26 50h1v1h-1zM32 50h1v1h-1zM3 51h1v1h-1zM5 51h2v1h-2zM24 51h1v1h-1zM0 52h1v1h-1zM19 52h1v1h-1zM27 52h1v1h-1zM39 52h1v1h-1zM8 53h1v1h-1zM23 53h1v1h-1zM37 53h1v1h-1zM24 54h1v1h-1zM27 54h1v1h-1zM31 54h1v1h-1zM30 55h2v1h-2zM37 55h1v1h-1zM2 56h1v1h-1zM13 56h1v1h-1zM2 57h1v1h-1zM14 57h1v1h-1zM32 57h2v1h-2zM39 57h1v1h-1zM22 58h1v1h-1zM0 60h1v1h-1zM31 60h2v1h-2zM48 60h1v1h-1zM22 61h1v1h-1zM33 61h1v1h-1zM2 62h1v1h-1zM30 62h1v1h-1zM32 62h1v1h-1zM39 62h1v1h-1zM4 63h1v1h-1zM1 64h1v1h-1zM5 64h3v1h-3zM35 64h1v1h-1zM2 65h3v1h-3zM24 65h1v1h-1zM26 65h2v1h-2zM32 65h1v1h-1zM11 66h1v1h-1zM33 66h1v1h-1zM4 67h1v1h-1zM8 67h1v1h-1zM22 67h1v1h-1zM26 67h1v1h-1zM30 67h1v1h-1zM32 67h1v1h-1zM3 68h2v1h-2zM8 68h1v1h-1zM16 68h1v1h-1zM18 68h1v1h-1zM22 68h1v1h-1zM34 68h1v1h-1zM2 69h1v1h-1zM6 69h1v1h-1zM18 69h1v1h-1zM4 70h1v1h-1zM24 70h1v1h-1zM30 70h1v1h-1zM33 70h1v1h-1zM5 71h1v1h-1zM8 71h1v1h-1zM18 71h2v1h-2zM25 71h2v1h-2zM17 72h1v1h-1zM2 73h1v1h-1zM8 73h1v1h-1zM26 73h1v1h-1zM33 73h1v1h-1zM36 73h1v1h-1zM4 75h1v1h-1zM12 75h1v1h-1zM18 75h1v1h-1zM2 76h1v1h-1zM5 76h1v1h-1zM19 76h1v1h-1zM27 76h1v1h-1zM36 76h1v1h-1zM8 77h1v1h-1zM24 77h3v1h-3zM34 77h1v1h-1zM32 78h1v1h-1zM2 79h1v1h-1zM5 79h1v1h-1zM22 79h1v1h-1zM27 79h1v1h-1zM33 79h1v1h-1zM3 80h1v1h-1zM30 80h1v1h-1zM33 80h1v1h-1zM36 80h1v1h-1zM6 81h1v1h-1zM24 81h1v1h-1zM33 81h1v1h-1zM36 81h1v1h-1zM16 82h2v1h-2zM19 82h1v1h-1zM27 82h1v1h-1zM36 82h1v1h-1zM2 83h1v1h-1zM36 83h1v1h-1zM4 84h1v1h-1zM25 84h1v1h-1zM27 84h1v1h-1zM25 85h1v1h-1zM34 85h1v1h-1zM16 86h1v1h-1zM18 86h1v1h-1zM24 86h1v1h-1zM27 86h1v1h-1zM31 86h1v1h-1zM36 86h1v1h-1zM2 87h1v1h-1zM19 87h1v1h-1zM27 87h1v1h-1zM34 87h1v1h-1zM6 88h1v1h-1zM17 88h1v1h-1zM16 89h1v1h-1zM33 89h1v1h-1zM5 90h1v1h-1zM17 90h2v1h-2zM22 90h1v1h-1zM26 90h1v1h-1zM32 90h2v1h-2zM36 90h1v1h-1zM36 91h1v1h-1zM5 92h1v1h-1zM2 93h2v1h-2zM6 93h1v1h-1zM22 93h1v1h-1zM31 93h1v1h-1zM34 93h1v1h-1zM13 94h1v1h-1zM34 94h1v1h-1zM37 94h1v1h-1zM2 95h1v1h-1zM19 95h1v1h-1zM25 95h1v1h-1zM31 95h1v1h-1zM27 96h1v1h-1zM31 96h1v1h-1zM11 97h1v1h-1zM17 97h1v1h-1zM27 97h1v1h-1zM36 97h1v1h-1zM11 98h1v1h-1zM17 98h1v1h-1zM24 98h1v1h-1zM16 99h2v1h-2zM19 99h1v1h-1zM26 99h2v1h-2zM30 99h1v1h-1z"/>
<path fill="#b5b5ff" d="M12 1h1v1h-1zM63 1h1v1h-1zM70 1h1v1h-1zM13 2h1v1h-1zM75 2h1v1h-1zM13 3h1v1h-1zM61 3h1v1h-1zM67 4h1v1h-1zM70 4h1v1h-1zM75 4h1v1h-1zM67 5h1v1h-1zM59 6h1v1h-1zM75 6h1v1h-1zM31 7h1v1h-1zM45 7h1v1h-1zM59 7h1v1h-1zM70 7h1v1h-1zM42 8h1v1h-1zM63 8h1v1h-1zM50 9h1v1h-1zM11 10h2v1h-2zM39 10h1v1h-1zM9 11h1v1h-1zM41 11h1v1h-1zM45 11h1v1h-1zM42 12h1v1h-1zM60 12h1v1h-1zM68 12h1v1h-1zM70 12h1v1h-1zM75 12h1v1h-1zM7 13h1v1h-1zM40 13h1v1h-1zM46 13h1v1h-1zM15 14h1v1h-1zM38 14h1v1h-1zM54 14h1v1h-1zM70 14h1v1h-1zM75 14h1v1h-1zM7 15h1v1h-1zM62 15h1v1h-1zM74 15h2v1h-2zM15 16h1v1h-1zM46 16h1v1h-1zM49 16h1v1h-1zM66 16h1v1h-1zM68 16h1v1h-1zM49 17h1v1h-1zM21 19h1v1h-1zM15 20h1v1h-1zM42 20h1v1h-1zM66 20h1v1h-1zM13 21h1v1h-1zM13 22h1v1h-1zM42 22h1v1h-1zM73 22h2v1h-2zM0 23h1v1h-1zM10 23h1v1h-1zM40 23h1v1h-1zM42 23h1v1h-1zM45 23h1v1h-1zM52 23h1v1h-1zM62 23h1v1h-1zM39 24h1v1h-1zM43 24h1v1h-1zM49 24h1v1h-1zM62 24h1v1h-1zM65 24h2v1h-2zM75 24h1v1h-1zM28 25h1v1h-1zM40 25h1v1h-1zM45 25h1v1h-1zM50 25h1v1h-1zM59 25h2v1h-2zM66 25h1v1h-1zM70 25h1v1h-1zM73 25h1v1h-1zM75 25h1v1h-1zM0 26h1v1h-1zM13 26h1v1h-1zM15 26h1v1h-1zM5 27h2v1h-2zM10 27h1v1h-1zM12 27h1v1h-1zM2 28h1v1h-1zM6 28h2v1h-2zM13 28h1v1h-1zM23 28h1v1h-1zM17 29h1v1h-1zM3 30h1v1h-1zM5 30h1v1h-1zM52 30h1v1h-1zM27 31h1v1h-1zM32 31h1v1h-1zM37 31h1v1h-1zM3 32h1v1h-1zM32 32h1v1h-1zM17 33h2v1h-2zM34 33h1v1h-1zM4 34h1v1h-1zM17 34h1v1h-1zM19 34h1v1h-1zM31 34h1v1h-1zM34 34h1v1h-1zM36 34h1v1h-1zM39 34h1v1h-1zM7 35h1v1h-1zM18 35h2v1h-2zM27 35h1v1h-1zM39 35h1v1h-1zM48 35h1v1h-1zM73 35h1v1h-1zM75 35h1v1h-1zM8 36h1v1h-1zM18 36h1v1h-1zM25 36h1v1h-1zM28 36h1v1h-1zM30 36h1v1h-1zM8 37h1v1h-1zM30 37h1v1h-1zM33 37h1v1h-1zM5 38h1v1h-1zM16 38h1v1h-1zM19 38h1v1h-1zM30 38h1v1h-1zM37 38h1v1h-1zM11 39h1v1h-1zM27 39h1v1h-1zM32 39h1v1h-1zM48 39h1v1h-1zM7 40h1v1h-1zM14 40h1v1h-1zM26 40h1v1h-1zM35 40h1v1h-1zM6 41h1v1h-1zM13 41h1v1h-1zM18 41h1v1h-1zM22 41h1v1h-1zM25 41h1v1h-1zM32 41h1v1h-1zM35 41h1v1h-1zM2 42h1v1h-1zM7 42h1v1h-1zM13 42h2v1h-2zM19 42h1v1h-1zM5 43h1v1h-1zM16 43h2v1h-2zM30 43h1v1h-1zM36 43h1v1h-1zM24 44h2v1h-2zM11 45h1v1h-1zM25 45h1v1h-1zM1 46h1v1h-1zM24 46h1v1h-1zM27 46h1v1h-1zM0 47h1v1h-1zM8 47h1v1h-1zM17 47h2v1h-2zM34 47h1v1h-1zM39 47h1v1h-1zM52 47h1v1h-1zM2 48h1v1h-1zM7 48h1v1h-1zM28 48h1v1h-1zM52 48h1v1h-1zM0 49h1v1h-1zM18 49h1v1h-1zM30 49h1v1h-1zM37 49h1v1h-1zM52 49h1v1h-1zM38 50h1v1h-1zM16 51h1v1h-1zM22 51h1v1h-1zM27 51h1v1h-1zM31 51h2v1h-2zM5 52h1v1h-1zM13 52h2v1h-2zM38 52h1v1h-1zM27 53h2v1h-2zM30 53h1v1h-1zM35 53h1v1h-1zM23 54h1v1h-1zM32 54h1v1h-1zM8 55h1v1h-1zM3 56h1v1h-1zM11 56h1v1h-1zM27 56h1v1h-1zM37 56h1v1h-1zM1 57h1v1h-1zM4 57h1v1h-1zM17 57h1v1h-1zM35 57h1v1h-1zM4 58h1v1h-1zM7 58h1v1h-1zM10 58h1v1h-1zM26 58h1v1h-1zM37 58h1v1h-1zM24 59h1v1h-1zM34 59h1v1h-1zM37 60h1v1h-1zM40 60h1v1h-1zM13 61h1v1h-1zM17 61h1v1h-1zM5 62h1v1h-1zM17 62h1v1h-1zM2 63h1v1h-1zM3 64h1v1h-1zM11 64h1v1h-1zM6 65h1v1h-1zM18 65h1v1h-1zM30 65h2v1h-2zM37 65h1v1h-1zM2 66h1v1h-1zM12 66h1v1h-1zM17 66h1v1h-1zM30 66h1v1h-1zM37 66h1v1h-1zM11 67h1v1h-1zM31 67h1v1h-1zM27 68h1v1h-1zM32 68h1v1h-1zM17 69h1v1h-1zM22 69h1v1h-1zM24 69h1v1h-1zM31 69h1v1h-1zM2 70h1v1h-1zM2 71h1v1h-1zM6 71h1v1h-1zM26 72h1v1h-1zM12 73h1v1h-1zM17 73h1v1h-1zM25 73h1v1h-1zM30 73h1v1h-1zM26 74h1v1h-1zM11 75h1v1h-1zM14 75h1v1h-1zM36 75h1v1h-1zM4 76h1v1h-1zM6 76h1v1h-1zM12 76h2v1h-2zM16 76h1v1h-1zM26 76h1v1h-1zM30 76h1v1h-1zM16 77h1v1h-1zM27 77h1v1h-1zM30 77h1v1h-1zM11 78h2v1h-2zM14 78h1v1h-1zM18 79h1v1h-1zM31 79h1v1h-1zM34 79h1v1h-1zM36 79h1v1h-1zM6 80h1v1h-1zM17 80h1v1h-1zM19 80h1v1h-1zM24 80h1v1h-1zM26 80h1v1h-1zM25 81h1v1h-1zM31 81h1v1h-1zM34 81h1v1h-1zM2 82h1v1h-1zM31 82h1v1h-1zM5 83h1v1h-1zM8 83h1v1h-1zM17 83h2v1h-2zM25 83h1v1h-1zM37 83h1v1h-1zM5 84h1v1h-1zM8 84h1v1h-1zM11 84h3v1h-3zM26 84h1v1h-1zM2 85h1v1h-1zM17 85h1v1h-1zM19 85h1v1h-1zM30 85h2v1h-2zM33 85h1v1h-1zM36 85h1v1h-1zM8 86h1v1h-1zM17 86h1v1h-1zM32 86h1v1h-1zM17 87h1v1h-1zM26 87h1v1h-1zM30 88h1v1h-1zM37 88h1v1h-1zM3 89h1v1h-1zM37 89h1v1h-1zM12 90h1v1h-1zM16 90h1v1h-1zM11 91h1v1h-1zM14 91h1v1h-1zM6 92h1v1h-1zM18 92h2v1h-2zM22 92h1v1h-1zM25 92h1v1h-1zM8 93h1v1h-1zM18 93h1v1h-1zM17 94h1v1h-1zM30 94h1v1h-1zM3 95h1v1h-1zM32 95h1v1h-1zM11 96h1v1h-1zM17 96h1v1h-1zM14 97h1v1h-1zM26 97h1v1h-1zM32 98h1v1h-1zM36 98h1v1h-1zM11 99h1v1h-1zM13 99h1v1h-1zM37 99h1v1h-1z"/>
<path fill="#bfbfff" d="M0 0h1v1h-1zM42 0h1v1h-1zM63 0h1v1h-1zM70 0h1v1h-1zM74 0h1v1h-1zM31 1h1v1h-1zM67 1h1v1h-1zM45 2h1v1h-1zM67 2h1v1h-1zM9 3h2v1h-2zM12 3h1v1h-1zM15 3h1v1h-1zM21 3h1v1h-1zM40 3h1v1h-1zM46 3h1v1h-1zM48 3h1v1h-1zM75 3h1v1h-1zM41 4h1v1h-1zM63 4h1v1h-1zM68 4h1v1h-1zM11 5h1v1h-1zM45 5h1v1h-1zM59 5h1v1h-1zM70 5h1v1h-1zM45 6h1v1h-1zM67 6h1v1h-1zM74 6h1v1h-1zM60 7h1v1h-1zM63 7h1v1h-1zM41 8h1v1h-1zM59 8h1v1h-1zM70 8h1v1h-1zM70 9h1v1h-1zM42 10h1v1h-1zM75 10h1v1h-1zM59 11h2v1h-2zM63 11h1v1h-1zM68 11h1v1h-1zM74 11h1v1h-1zM59 12h1v1h-1zM67 12h1v1h-1zM7 14h1v1h-1zM13 14h1v1h-1zM28 14h1v1h-1zM31 14h1v1h-1zM39 14h1v1h-1zM43 14h1v1h-1zM46 14h1v1h-1zM52 14h1v1h-1zM62 14h1v1h-1zM68 14h1v1h-1zM39 15h1v1h-1zM44 15h1v1h-1zM54 15h1v1h-1zM0 16h1v1h-1zM28 16h1v1h-1zM31 16h1v1h-1zM40 16h1v1h-1zM50 16h1v1h-1zM70 16h1v1h-1zM74 16h1v1h-1zM13 17h1v1h-1zM41 17h1v1h-1zM46 17h1v1h-1zM50 17h1v1h-1zM15 18h1v1h-1zM38 18h1v1h-1zM40 18h1v1h-1zM44 18h1v1h-1zM50 18h1v1h-1zM74 18h2v1h-2zM51 19h1v1h-1zM38 20h1v1h-1zM38 21h1v1h-1zM47 21h1v1h-1zM50 21h1v1h-1zM75 21h1v1h-1zM0 22h2v1h-2zM39 22h1v1h-1zM43 22h1v1h-1zM46 22h2v1h-2zM67 22h1v1h-1zM9 23h1v1h-1zM31 23h1v1h-1zM74 23h1v1h-1zM41 24h2v1h-2zM45 24h1v1h-1zM50 24h1v1h-1zM60 24h2v1h-2zM67 24h2v1h-2zM73 24h1v1h-1zM1 25h1v1h-1zM38 25h2v1h-2zM44 25h1v1h-1zM47 25h1v1h-1zM52 25h1v1h-1zM62 25h1v1h-1zM1 26h1v1h-1zM47 26h1v1h-1zM16 27h2v1h-2zM22 27h1v1h-1zM33 27h1v1h-1zM37 27h1v1h-1zM18 28h2v1h-2zM24 28h1v1h-1zM30 28h2v1h-2zM47 28h2v1h-2zM19 29h1v1h-1zM17 30h1v1h-1zM27 30h1v1h-1zM6 31h1v1h-1zM14 31h1v1h-1zM48 31h1v1h-1zM8 32h1v1h-1zM3 33h1v1h-1zM24 33h1v1h-1zM27 33h1v1h-1zM36 33h1v1h-1zM7 34h1v1h-1zM33 34h1v1h-1zM6 35h1v1h-1zM11 35h1v1h-1zM16 35h1v1h-1zM31 35h1v1h-1zM33 35h1v1h-1zM3 36h2v1h-2zM17 36h1v1h-1zM23 36h1v1h-1zM34 36h1v1h-1zM26 37h1v1h-1zM34 37h1v1h-1zM2 38h2v1h-2zM11 38h1v1h-1zM17 38h1v1h-1zM40 38h1v1h-1zM26 39h1v1h-1zM8 40h1v1h-1zM18 40h1v1h-1zM23 40h2v1h-2zM32 40h1v1h-1zM47 40h1v1h-1zM0 41h1v1h-1zM3 41h1v1h-1zM5 41h1v1h-1zM31 41h1v1h-1zM37 41h1v1h-1zM47 41h1v1h-1zM5 42h1v1h-1zM17 42h1v1h-1zM22 42h1v1h-1zM24 42h2v1h-2zM3 43h1v1h-1zM22 43h1v1h-1zM24 43h1v1h-1zM28 43h1v1h-1zM33 43h2v1h-2zM38 43h1v1h-1zM48 43h1v1h-1zM6 44h1v1h-1zM13 44h1v1h-1zM16 44h1v1h-1zM18 44h2v1h-2zM38 44h1v1h-1zM19 45h1v1h-1zM52 45h1v1h-1zM55 45h1v1h-1zM0 46h1v1h-1zM5 46h2v1h-2zM16 46h1v1h-1zM18 46h1v1h-1zM23 46h1v1h-1zM25 46h1v1h-1zM35 46h1v1h-1zM40 46h1v1h-1zM22 47h1v1h-1zM24 47h1v1h-1zM27 47h1v1h-1zM33 47h1v1h-1zM4 48h1v1h-1zM17 48h1v1h-1zM22 48h1v1h-1zM27 48h1v1h-1zM48 48h1v1h-1zM22 49h1v1h-1zM18 50h1v1h-1zM25 50h1v1h-1zM28 50h1v1h-1zM34 50h1v1h-1zM39 50h1v1h-1zM18 51h1v1h-1zM4 52h1v1h-1zM11 52h1v1h-1zM28 52h2v1h-2zM32 52h1v1h-1zM13 53h1v1h-1zM22 53h1v1h-1zM33 53h1v1h-1zM3 54h1v1h-1zM16 54h1v1h-1zM25 54h1v1h-1zM35 54h1v1h-1zM47 54h1v1h-1zM18 55h1v1h-1zM24 55h1v1h-1zM27 55h1v1h-1zM47 55h1v1h-1zM62 55h1v1h-1zM4 56h1v1h-1zM7 56h1v1h-1zM18 56h1v1h-1zM23 56h1v1h-1zM25 56h1v1h-1zM28 56h1v1h-1zM11 57h1v1h-1zM18 57h1v1h-1zM22 57h2v1h-2zM36 57h3v1h-3zM8 58h1v1h-1zM13 58h2v1h-2zM18 58h1v1h-1zM23 58h1v1h-1zM31 58h1v1h-1zM40 58h1v1h-1zM2 59h2v1h-2zM16 59h1v1h-1zM32 59h1v1h-1zM35 59h1v1h-1zM8 60h1v1h-1zM18 60h1v1h-1zM23 60h1v1h-1zM25 60h1v1h-1zM5 61h1v1h-1zM10 61h1v1h-1zM52 61h1v1h-1zM1 62h1v1h-1zM8 62h1v1h-1zM14 62h1v1h-1zM18 62h1v1h-1zM22 62h1v1h-1zM34 62h1v1h-1zM48 62h1v1h-1zM1 63h1v1h-1zM16 63h1v1h-1zM22 63h1v1h-1zM25 63h1v1h-1zM31 63h1v1h-1zM37 63h1v1h-1zM13 64h1v1h-1zM48 64h1v1h-1zM25 65h1v1h-1zM13 66h1v1h-1zM36 66h1v1h-1zM17 67h1v1h-1zM24 67h1v1h-1zM5 68h1v1h-1zM17 68h1v1h-1zM14 69h1v1h-1zM25 69h1v1h-1zM27 69h1v1h-1zM32 69h1v1h-1zM36 69h1v1h-1zM18 70h1v1h-1zM22 70h1v1h-1zM26 70h1v1h-1zM37 70h1v1h-1zM3 71h1v1h-1zM30 71h2v1h-2zM13 72h1v1h-1zM6 73h1v1h-1zM31 73h1v1h-1zM37 73h1v1h-1zM11 74h2v1h-2zM37 74h1v1h-1zM8 76h1v1h-1zM11 76h1v1h-1zM14 76h1v1h-1zM37 76h1v1h-1zM13 77h1v1h-1zM36 77h1v1h-1zM31 78h1v1h-1zM37 78h1v1h-1zM13 79h1v1h-1zM19 79h1v1h-1zM26 79h1v1h-1zM30 79h1v1h-1zM31 80h1v1h-1zM34 80h1v1h-1zM12 81h1v1h-1zM26 81h1v1h-1zM4 82h1v1h-1zM25 82h1v1h-1zM30 82h1v1h-1zM34 82h1v1h-1zM37 82h1v1h-1zM61 82h1v1h-1zM31 83h1v1h-1zM34 83h1v1h-1zM14 84h1v1h-1zM36 84h1v1h-1zM22 85h1v1h-1zM4 86h2v1h-2zM19 86h1v1h-1zM26 86h1v1h-1zM30 86h1v1h-1zM37 86h1v1h-1zM30 87h1v1h-1zM37 87h1v1h-1zM14 88h1v1h-1zM26 88h1v1h-1zM31 88h1v1h-1zM11 89h1v1h-1zM13 89h1v1h-1zM22 89h1v1h-1zM13 90h1v1h-1zM34 90h1v1h-1zM12 91h2v1h-2zM34 91h1v1h-1zM14 92h1v1h-1zM26 92h1v1h-1zM31 92h1v1h-1zM36 92h2v1h-2zM11 93h1v1h-1zM17 93h1v1h-1zM24 93h1v1h-1zM30 93h1v1h-1zM37 93h1v1h-1zM36 95h1v1h-1zM5 96h1v1h-1zM13 96h2v1h-2zM16 96h1v1h-1zM25 96h2v1h-2zM30 96h1v1h-1zM37 96h1v1h-1zM12 98h2v1h-2zM31 98h1v1h-1zM31 99h1v1h-1z"/>
<path fill="#cacaff" d="M60 0h1v1h-1zM75 0h1v1h-1zM59 1h1v1h-1zM15 2h1v1h-1zM41 2h1v1h-1zM59 2h2v1h-2zM68 2h1v1h-1zM70 2h1v1h-1zM59 3h1v1h-1zM65 3h1v1h-1zM42 4h1v1h-1zM59 4h1v1h-1zM74 4h1v1h-1zM63 5h1v1h-1zM68 5h1v1h-1zM75 5h1v1h-1zM41 6h2v1h-2zM68 6h1v1h-1zM26 7h1v1h-1zM41 7h2v1h-2zM74 7h2v1h-2zM45 8h1v1h-1zM67 8h2v1h-2zM74 8h1v1h-1zM45 9h1v1h-1zM59 9h1v1h-1zM63 9h1v1h-1zM67 9h2v1h-2zM74 9h1v1h-1zM41 10h1v1h-1zM45 10h1v1h-1zM74 10h1v1h-1zM42 11h1v1h-1zM70 11h1v1h-1zM75 11h1v1h-1zM11 12h1v1h-1zM41 12h1v1h-1zM63 12h1v1h-1zM67 13h2v1h-2zM74 13h1v1h-1zM0 14h1v1h-1zM41 14h1v1h-1zM45 14h1v1h-1zM49 14h2v1h-2zM60 14h2v1h-2zM65 14h1v1h-1zM74 14h1v1h-1zM0 15h2v1h-2zM9 15h2v1h-2zM38 15h1v1h-1zM41 15h2v1h-2zM45 15h1v1h-1zM68 15h1v1h-1zM70 15h1v1h-1zM73 15h1v1h-1zM1 16h1v1h-1zM7 16h1v1h-1zM9 16h1v1h-1zM41 16h1v1h-1zM52 16h1v1h-1zM65 16h1v1h-1zM75 16h1v1h-1zM9 17h1v1h-1zM45 17h1v1h-1zM52 17h1v1h-1zM54 17h1v1h-1zM61 17h1v1h-1zM66 17h1v1h-1zM68 17h1v1h-1zM70 17h1v1h-1zM28 18h1v1h-1zM45 18h1v1h-1zM54 18h1v1h-1zM9 19h1v1h-1zM15 19h1v1h-1zM28 19h1v1h-1zM40 19h1v1h-1zM59 19h1v1h-1zM62 19h1v1h-1zM66 19h1v1h-1zM7 20h1v1h-1zM13 20h1v1h-1zM41 20h1v1h-1zM45 20h1v1h-1zM47 20h1v1h-1zM54 20h1v1h-1zM61 20h1v1h-1zM67 20h1v1h-1zM70 20h1v1h-1zM73 20h1v1h-1zM9 21h1v1h-1zM21 21h1v1h-1zM41 21h3v1h-3zM45 21h1v1h-1zM49 21h1v1h-1zM52 21h1v1h-1zM60 21h1v1h-1zM66 21h1v1h-1zM73 21h1v1h-1zM7 22h1v1h-1zM12 22h1v1h-1zM31 22h1v1h-1zM40 22h2v1h-2zM44 22h1v1h-1zM59 22h1v1h-1zM68 22h1v1h-1zM28 23h1v1h-1zM41 23h1v1h-1zM43 23h2v1h-2zM61 23h1v1h-1zM66 23h1v1h-1zM73 23h1v1h-1zM13 24h1v1h-1zM28 24h1v1h-1zM31 24h1v1h-1zM44 24h1v1h-1zM46 24h1v1h-1zM54 24h1v1h-1zM70 24h1v1h-1zM74 24h1v1h-1zM0 25h1v1h-1zM10 25h1v1h-1zM13 25h1v1h-1zM31 25h1v1h-1zM46 25h1v1h-1zM67 25h1v1h-1zM54 26h1v1h-1zM60 26h1v1h-1zM66 26h1v1h-1zM73 26h1v1h-1zM3 27h1v1h-1zM11 27h1v1h-1zM18 27h2v1h-2zM23 27h1v1h-1zM26 27h1v1h-1zM31 27h1v1h-1zM36 27h1v1h-1zM26 28h2v1h-2zM52 28h1v1h-1zM1 29h1v1h-1zM8 29h1v1h-1zM39 29h1v1h-1zM25 30h2v1h-2zM37 30h1v1h-1zM68 30h1v1h-1zM2 31h1v1h-1zM8 31h1v1h-1zM13 31h1v1h-1zM30 31h1v1h-1zM35 31h1v1h-1zM7 32h1v1h-1zM39 32h1v1h-1zM7 33h1v1h-1zM11 33h1v1h-1zM14 33h1v1h-1zM26 33h1v1h-1zM52 33h1v1h-1zM2 34h1v1h-1zM5 34h1v1h-1zM8 34h1v1h-1zM11 34h1v1h-1zM18 34h1v1h-1zM25 34h1v1h-1zM8 35h1v1h-1zM13 35h1v1h-1zM17 35h1v1h-1zM22 35h1v1h-1zM32 35h1v1h-1zM35 35h1v1h-1zM16 36h1v1h-1zM2 37h2v1h-2zM13 37h1v1h-1zM22 37h1v1h-1zM24 37h1v1h-1zM32 37h1v1h-1zM38 37h1v1h-1zM13 39h1v1h-1zM23 39h1v1h-1zM36 39h1v1h-1zM17 40h1v1h-1zM7 41h1v1h-1zM12 41h1v1h-1zM17 41h1v1h-1zM19 41h1v1h-1zM24 41h1v1h-1zM27 41h2v1h-2zM3 42h2v1h-2zM6 42h1v1h-1zM11 42h1v1h-1zM16 42h1v1h-1zM28 42h1v1h-1zM30 42h2v1h-2zM8 43h1v1h-1zM18 43h1v1h-1zM32 44h1v1h-1zM52 44h1v1h-1zM3 45h1v1h-1zM23 45h1v1h-1zM26 45h2v1h-2zM8 46h1v1h-1zM30 46h1v1h-1zM39 46h1v1h-1zM10 47h2v1h-2zM19 47h1v1h-1zM31 47h1v1h-1zM3 48h1v1h-1zM11 48h1v1h-1zM14 48h1v1h-1zM33 48h1v1h-1zM38 48h1v1h-1zM11 49h1v1h-1zM16 49h1v1h-1zM24 49h1v1h-1zM16 50h1v1h-1zM48 50h1v1h-1zM7 51h1v1h-1zM19 51h1v1h-1zM26 51h1v1h-1zM33 51h1v1h-1zM36 51h1v1h-1zM48 51h1v1h-1zM52 51h1v1h-1zM57 51h1v1h-1zM23 52h1v1h-1zM36 52h1v1h-1zM14 53h1v1h-1zM17 53h2v1h-2zM24 53h2v1h-2zM34 53h1v1h-1zM48 53h1v1h-1zM2 54h1v1h-1zM8 54h1v1h-1zM10 54h1v1h-1zM18 54h1v1h-1zM48 54h1v1h-1zM16 55h1v1h-1zM21 55h2v1h-2zM29 55h1v1h-1zM48 55h1v1h-1zM31 56h1v1h-1zM0 57h1v1h-1zM3 57h1v1h-1zM5 57h1v1h-1zM7 57h1v1h-1zM16 57h1v1h-1zM26 57h2v1h-2zM30 57h1v1h-1zM34 57h1v1h-1zM24 58h2v1h-2zM28 58h1v1h-1zM36 58h1v1h-1zM4 59h1v1h-1zM11 59h1v1h-1zM26 59h1v1h-1zM31 59h1v1h-1zM33 59h1v1h-1zM14 60h1v1h-1zM17 60h1v1h-1zM24 60h1v1h-1zM28 60h1v1h-1zM53 61h1v1h-1zM7 62h1v1h-1zM13 62h1v1h-1zM16 62h1v1h-1zM25 62h1v1h-1zM38 62h1v1h-1zM34 63h1v1h-1zM2 64h1v1h-1zM4 64h1v1h-1zM18 64h1v1h-1zM24 64h1v1h-1zM32 64h1v1h-1zM16 65h2v1h-2zM36 65h1v1h-1zM12 67h2v1h-2zM25 67h1v1h-1zM36 67h1v1h-1zM2 68h1v1h-1zM6 68h1v1h-1zM24 68h1v1h-1zM26 68h1v1h-1zM36 68h1v1h-1zM11 69h3v1h-3zM30 69h1v1h-1zM12 70h1v1h-1zM31 70h1v1h-1zM36 70h1v1h-1zM11 71h2v1h-2zM24 71h1v1h-1zM32 71h1v1h-1zM37 71h1v1h-1zM12 72h1v1h-1zM14 72h1v1h-1zM14 74h1v1h-1zM28 74h1v1h-1zM38 74h1v1h-1zM3 76h1v1h-1zM17 76h1v1h-1zM11 77h1v1h-1zM14 77h1v1h-1zM13 78h1v1h-1zM30 78h1v1h-1zM14 79h1v1h-1zM37 80h1v1h-1zM14 81h1v1h-1zM11 82h1v1h-1zM14 82h1v1h-1zM30 83h1v1h-1zM17 84h1v1h-1zM37 84h1v1h-1zM11 85h2v1h-2zM25 86h1v1h-1zM31 87h1v1h-1zM36 87h1v1h-1zM12 88h1v1h-1zM12 89h1v1h-1zM14 89h1v1h-1zM11 90h1v1h-1zM30 91h1v1h-1zM17 92h1v1h-1zM11 94h1v1h-1zM14 94h1v1h-1zM8 95h1v1h-1zM17 95h1v1h-1zM36 96h1v1h-1zM71 96h1v1h-1zM1 99h1v1h-1zM12 99h1v1h-1zM14 99h1v1h-1z"/>
<path fill="#d4d4ff" d="M41 0h1v1h-1zM41 1h1v1h-1zM45 1h1v1h-1zM60 1h1v1h-1zM74 1h2v1h-2zM63 2h1v1h-1zM74 2h1v1h-1zM60 3h1v1h-1zM67 3h1v1h-1zM70 3h1v1h-1zM42 5h1v1h-1zM44 5h1v1h-1zM60 6h1v1h-1zM67 7h1v1h-1zM60 8h1v1h-1zM41 9h2v1h-2zM60 9h1v1h-1zM57 10h1v1h-1zM59 10h1v1h-1zM68 10h1v1h-1zM41 13h1v1h-1zM63 13h1v1h-1zM10 14h1v1h-1zM40 14h1v1h-1zM42 14h1v1h-1zM59 14h1v1h-1zM67 14h1v1h-1zM28 15h1v1h-1zM49 15h1v1h-1zM13 16h1v1h-1zM38 16h1v1h-1zM43 16h1v1h-1zM59 16h1v1h-1zM61 16h1v1h-1zM67 16h1v1h-1zM73 16h1v1h-1zM0 17h1v1h-1zM7 17h1v1h-1zM38 17h1v1h-1zM65 17h1v1h-1zM67 17h1v1h-1zM73 17h2v1h-2zM7 18h1v1h-1zM9 18h2v1h-2zM31 18h1v1h-1zM39 18h1v1h-1zM43 18h1v1h-1zM46 18h1v1h-1zM49 18h1v1h-1zM59 18h1v1h-1zM61 18h2v1h-2zM65 18h1v1h-1zM68 18h1v1h-1zM70 18h1v1h-1zM7 19h1v1h-1zM43 19h1v1h-1zM49 19h2v1h-2zM52 19h1v1h-1zM54 19h1v1h-1zM60 19h2v1h-2zM70 19h1v1h-1zM75 19h1v1h-1zM1 20h1v1h-1zM28 20h1v1h-1zM39 20h2v1h-2zM46 20h1v1h-1zM52 20h1v1h-1zM60 20h1v1h-1zM74 20h1v1h-1zM40 21h1v1h-1zM44 21h1v1h-1zM61 21h1v1h-1zM65 21h1v1h-1zM70 21h1v1h-1zM9 22h2v1h-2zM28 22h1v1h-1zM38 22h1v1h-1zM52 22h1v1h-1zM54 22h1v1h-1zM61 22h1v1h-1zM65 22h1v1h-1zM70 22h1v1h-1zM75 22h1v1h-1zM7 23h1v1h-1zM13 23h1v1h-1zM59 23h2v1h-2zM65 23h1v1h-1zM70 23h1v1h-1zM71 24h1v1h-1zM12 25h1v1h-1zM43 25h1v1h-1zM49 25h1v1h-1zM61 25h1v1h-1zM72 25h1v1h-1zM74 25h1v1h-1zM38 26h1v1h-1zM40 26h1v1h-1zM43 26h1v1h-1zM45 26h1v1h-1zM49 26h1v1h-1zM52 26h1v1h-1zM62 26h1v1h-1zM68 26h1v1h-1zM70 26h1v1h-1zM75 26h1v1h-1zM2 27h1v1h-1zM4 27h1v1h-1zM8 27h1v1h-1zM21 27h1v1h-1zM30 27h1v1h-1zM4 28h1v1h-1zM8 28h1v1h-1zM36 28h1v1h-1zM40 28h1v1h-1zM70 28h1v1h-1zM16 29h1v1h-1zM23 29h1v1h-1zM27 29h1v1h-1zM33 29h1v1h-1zM48 29h1v1h-1zM13 30h1v1h-1zM31 30h1v1h-1zM40 30h1v1h-1zM21 31h2v1h-2zM52 31h1v1h-1zM2 32h1v1h-1zM4 32h1v1h-1zM14 32h1v1h-1zM10 33h1v1h-1zM13 34h1v1h-1zM16 34h1v1h-1zM26 34h1v1h-1zM48 34h1v1h-1zM52 34h1v1h-1zM5 35h1v1h-1zM23 35h1v1h-1zM11 36h1v1h-1zM22 36h1v1h-1zM26 36h1v1h-1zM37 36h1v1h-1zM40 36h1v1h-1zM47 36h1v1h-1zM5 37h1v1h-1zM11 37h1v1h-1zM14 37h1v1h-1zM25 37h1v1h-1zM36 37h2v1h-2zM47 37h1v1h-1zM6 38h1v1h-1zM12 38h1v1h-1zM25 38h1v1h-1zM36 38h1v1h-1zM39 38h1v1h-1zM10 39h1v1h-1zM16 39h1v1h-1zM25 39h1v1h-1zM19 40h1v1h-1zM48 40h1v1h-1zM2 41h1v1h-1zM11 41h1v1h-1zM23 41h1v1h-1zM26 41h1v1h-1zM52 41h1v1h-1zM55 42h1v1h-1zM7 43h1v1h-1zM11 43h1v1h-1zM64 43h1v1h-1zM28 44h1v1h-1zM37 44h1v1h-1zM16 45h2v1h-2zM21 45h1v1h-1zM31 45h1v1h-1zM48 45h1v1h-1zM17 46h1v1h-1zM26 46h1v1h-1zM31 46h1v1h-1zM7 47h1v1h-1zM32 47h1v1h-1zM8 48h1v1h-1zM13 48h1v1h-1zM18 48h1v1h-1zM36 48h1v1h-1zM19 49h1v1h-1zM28 49h1v1h-1zM31 49h1v1h-1zM55 49h1v1h-1zM0 50h1v1h-1zM23 51h1v1h-1zM28 51h1v1h-1zM3 52h1v1h-1zM7 52h1v1h-1zM37 52h1v1h-1zM11 53h1v1h-1zM19 53h1v1h-1zM11 54h1v1h-1zM28 54h1v1h-1zM34 54h1v1h-1zM70 55h1v1h-1zM17 56h1v1h-1zM19 56h1v1h-1zM52 56h1v1h-1zM8 57h1v1h-1zM21 58h1v1h-1zM18 59h2v1h-2zM7 60h1v1h-1zM11 60h2v1h-2zM34 60h1v1h-1zM47 60h1v1h-1zM70 60h1v1h-1zM31 61h1v1h-1zM48 61h1v1h-1zM0 62h1v1h-1zM24 62h1v1h-1zM28 62h1v1h-1zM36 62h1v1h-1zM52 62h1v1h-1zM26 63h1v1h-1zM30 63h1v1h-1zM26 64h1v1h-1zM52 64h1v1h-1zM14 66h1v1h-1zM12 68h2v1h-2zM30 68h1v1h-1zM37 68h1v1h-1zM37 69h1v1h-1zM13 70h1v1h-1zM13 71h1v1h-1zM17 71h1v1h-1zM33 71h1v1h-1zM11 73h1v1h-1zM14 73h1v1h-1zM13 74h1v1h-1zM12 77h1v1h-1zM11 79h1v1h-1zM17 79h1v1h-1zM12 80h2v1h-2zM58 80h1v1h-1zM11 81h1v1h-1zM13 81h1v1h-1zM12 82h1v1h-1zM11 83h2v1h-2zM37 85h1v1h-1zM11 87h1v1h-1zM10 88h1v1h-1zM13 88h1v1h-1zM1 89h1v1h-1zM30 89h1v1h-1zM14 90h1v1h-1zM30 90h2v1h-2zM37 90h1v1h-1zM10 91h1v1h-1zM37 91h1v1h-1zM12 92h1v1h-1zM12 93h1v1h-1zM14 93h1v1h-1zM28 94h1v1h-1zM11 95h1v1h-1zM30 95h1v1h-1zM37 95h1v1h-1zM12 96h1v1h-1zM13 97h1v1h-1zM37 98h1v1h-1z"/>
<path fill="#dfdfff" d="M45 0h1v1h-1zM42 1h1v1h-1zM68 1h1v1h-1zM42 2h1v1h-1zM42 3h1v1h-1zM68 3h1v1h-1zM74 3h1v1h-1zM76 5h1v1h-1zM70 6h1v1h-1zM44 7h1v1h-1zM62 7h1v1h-1zM68 7h1v1h-1zM66 8h1v1h-1zM75 8h1v1h-1zM75 9h1v1h-1zM60 10h1v1h-1zM67 10h1v1h-1zM70 10h1v1h-1zM72 11h1v1h-1zM29 12h1v1h-1zM57 12h1v1h-1zM42 13h1v1h-1zM45 13h1v1h-1zM59 13h2v1h-2zM75 13h1v1h-1zM1 14h1v1h-1zM63 14h1v1h-1zM73 14h1v1h-1zM10 16h1v1h-1zM44 16h1v1h-1zM47 16h1v1h-1zM56 16h1v1h-1zM62 16h1v1h-1zM71 16h1v1h-1zM39 17h1v1h-1zM57 17h1v1h-1zM42 18h1v1h-1zM47 18h1v1h-1zM52 18h1v1h-1zM60 18h1v1h-1zM67 18h1v1h-1zM73 18h1v1h-1zM12 19h1v1h-1zM38 19h2v1h-2zM41 19h1v1h-1zM44 19h1v1h-1zM73 19h1v1h-1zM10 20h1v1h-1zM44 20h1v1h-1zM49 20h2v1h-2zM62 20h1v1h-1zM65 20h1v1h-1zM75 20h1v1h-1zM0 21h1v1h-1zM10 21h1v1h-1zM28 21h1v1h-1zM31 21h1v1h-1zM62 21h1v1h-1zM67 21h1v1h-1zM74 21h1v1h-1zM45 22h1v1h-1zM46 23h1v1h-1zM49 23h2v1h-2zM67 23h2v1h-2zM75 23h1v1h-1zM7 24h1v1h-1zM9 24h1v1h-1zM11 24h1v1h-1zM56 24h2v1h-2zM55 25h1v1h-1zM68 25h1v1h-1zM9 26h3v1h-3zM28 26h1v1h-1zM31 26h1v1h-1zM46 26h1v1h-1zM50 26h1v1h-1zM61 26h1v1h-1zM65 26h1v1h-1zM67 26h1v1h-1zM74 26h1v1h-1zM28 27h1v1h-1zM48 27h1v1h-1zM55 27h1v1h-1zM21 28h1v1h-1zM55 28h1v1h-1zM14 29h1v1h-1zM22 29h1v1h-1zM24 29h1v1h-1zM32 29h1v1h-1zM35 29h1v1h-1zM2 30h1v1h-1zM11 30h1v1h-1zM21 30h1v1h-1zM4 31h1v1h-1zM11 31h1v1h-1zM20 31h1v1h-1zM34 31h1v1h-1zM0 32h2v1h-2zM21 32h1v1h-1zM30 32h2v1h-2zM34 32h1v1h-1zM8 33h1v1h-1zM30 33h1v1h-1zM30 34h1v1h-1zM0 35h1v1h-1zM12 35h1v1h-1zM21 35h1v1h-1zM34 35h1v1h-1zM36 35h1v1h-1zM47 35h1v1h-1zM10 36h1v1h-1zM31 36h1v1h-1zM48 37h1v1h-1zM21 38h1v1h-1zM24 38h1v1h-1zM28 38h1v1h-1zM12 39h1v1h-1zM47 39h1v1h-1zM21 41h1v1h-1zM55 41h1v1h-1zM32 42h1v1h-1zM19 43h1v1h-1zM31 43h1v1h-1zM35 43h1v1h-1zM10 44h2v1h-2zM47 44h1v1h-1zM12 45h1v1h-1zM70 45h1v1h-1zM11 46h2v1h-2zM34 46h1v1h-1zM37 46h1v1h-1zM52 46h1v1h-1zM2 47h1v1h-1zM16 47h1v1h-1zM26 47h1v1h-1zM35 47h1v1h-1zM37 47h1v1h-1zM10 48h1v1h-1zM21 48h1v1h-1zM25 48h2v1h-2zM35 48h1v1h-1zM8 51h1v1h-1zM10 51h1v1h-1zM13 51h1v1h-1zM17 51h1v1h-1zM35 51h1v1h-1zM40 51h1v1h-1zM2 52h1v1h-1zM24 52h1v1h-1zM33 52h1v1h-1zM3 53h1v1h-1zM16 53h1v1h-1zM13 54h1v1h-1zM17 54h1v1h-1zM13 55h1v1h-1zM19 55h1v1h-1zM52 55h1v1h-1zM5 56h1v1h-1zM12 56h1v1h-1zM34 56h1v1h-1zM25 57h1v1h-1zM31 57h1v1h-1zM47 58h1v1h-1zM8 59h1v1h-1zM13 59h1v1h-1zM36 59h1v1h-1zM21 61h1v1h-1zM26 61h1v1h-1zM28 61h1v1h-1zM40 61h1v1h-1zM55 61h1v1h-1zM58 61h1v1h-1zM6 62h1v1h-1zM19 62h1v1h-1zM35 62h1v1h-1zM40 62h1v1h-1zM0 63h1v1h-1zM23 63h1v1h-1zM33 63h1v1h-1zM36 63h1v1h-1zM38 63h2v1h-2zM48 63h1v1h-1zM27 64h1v1h-1zM36 64h1v1h-1zM39 64h1v1h-1zM70 64h1v1h-1zM12 65h3v1h-3zM11 68h1v1h-1zM14 68h1v1h-1zM38 69h1v1h-1zM14 70h1v1h-1zM38 70h1v1h-1zM14 71h1v1h-1zM37 75h1v1h-1zM31 76h1v1h-1zM37 77h1v1h-1zM12 79h1v1h-1zM37 79h1v1h-1zM14 80h1v1h-1zM37 81h2v1h-2zM13 83h2v1h-2zM0 85h1v1h-1zM11 86h1v1h-1zM14 87h1v1h-1zM0 88h1v1h-1zM28 88h1v1h-1zM1 91h1v1h-1zM13 93h1v1h-1zM0 94h1v1h-1zM12 94h1v1h-1zM26 95h1v1h-1zM14 98h1v1h-1zM10 99h1v1h-1zM38 99h1v1h-1z"/>
<path fill="#eaeaff" d="M41 3h1v1h-1zM63 3h1v1h-1zM29 4h1v1h-1zM44 4h1v1h-1zM66 5h1v1h-1zM29 6h1v1h-1zM57 7h1v1h-1zM44 8h1v1h-1zM29 9h1v1h-1zM43 11h1v1h-1zM66 11h1v1h-1zM44 12h1v1h-1zM62 12h1v1h-1zM76 12h1v1h-1zM70 13h1v1h-1zM9 14h1v1h-1zM44 14h1v1h-1zM47 14h1v1h-1zM66 14h1v1h-1zM76 14h1v1h-1zM12 15h1v1h-1zM29 15h1v1h-1zM56 15h2v1h-2zM71 15h1v1h-1zM54 16h1v1h-1zM72 16h1v1h-1zM10 17h1v1h-1zM28 17h1v1h-1zM40 17h1v1h-1zM42 17h1v1h-1zM44 17h1v1h-1zM60 17h1v1h-1zM62 17h1v1h-1zM0 18h1v1h-1zM41 18h1v1h-1zM57 18h1v1h-1zM66 18h1v1h-1zM0 19h2v1h-2zM10 19h1v1h-1zM13 19h1v1h-1zM42 19h1v1h-1zM46 19h2v1h-2zM53 19h1v1h-1zM67 19h1v1h-1zM74 19h1v1h-1zM0 20h1v1h-1zM31 20h1v1h-1zM43 20h1v1h-1zM59 20h1v1h-1zM68 20h1v1h-1zM1 21h1v1h-1zM7 21h1v1h-1zM39 21h1v1h-1zM59 21h1v1h-1zM68 21h1v1h-1zM66 22h1v1h-1zM12 23h1v1h-1zM38 23h1v1h-1zM47 23h1v1h-1zM57 23h1v1h-1zM0 24h2v1h-2zM10 24h1v1h-1zM12 24h1v1h-1zM29 24h1v1h-1zM76 24h1v1h-1zM29 25h1v1h-1zM41 25h2v1h-2zM56 25h1v1h-1zM7 26h1v1h-1zM41 26h2v1h-2zM44 26h1v1h-1zM53 26h1v1h-1zM59 26h1v1h-1zM20 27h1v1h-1zM37 28h1v1h-1zM0 29h1v1h-1zM18 29h1v1h-1zM26 29h1v1h-1zM36 29h1v1h-1zM9 30h1v1h-1zM20 30h1v1h-1zM23 30h1v1h-1zM70 30h1v1h-1zM5 31h1v1h-1zM17 31h1v1h-1zM31 31h1v1h-1zM11 32h1v1h-1zM22 32h1v1h-1zM24 32h2v1h-2zM33 32h1v1h-1zM52 32h1v1h-1zM70 32h1v1h-1zM28 33h1v1h-1zM40 33h1v1h-1zM3 34h1v1h-1zM32 34h1v1h-1zM37 34h1v1h-1zM55 36h1v1h-1zM6 37h1v1h-1zM23 37h1v1h-1zM28 37h1v1h-1zM52 38h1v1h-1zM14 39h1v1h-1zM31 39h1v1h-1zM2 40h1v1h-1zM28 40h1v1h-1zM37 40h1v1h-1zM70 40h1v1h-1zM4 41h1v1h-1zM14 41h1v1h-1zM48 41h1v1h-1zM29 42h1v1h-1zM47 42h1v1h-1zM52 43h1v1h-1zM22 44h1v1h-1zM26 44h1v1h-1zM34 44h1v1h-1zM18 45h1v1h-1zM36 45h1v1h-1zM10 46h1v1h-1zM13 46h1v1h-1zM48 46h1v1h-1zM20 47h1v1h-1zM40 47h1v1h-1zM47 47h1v1h-1zM55 47h1v1h-1zM12 48h1v1h-1zM15 48h1v1h-1zM17 49h1v1h-1zM19 50h1v1h-1zM52 50h1v1h-1zM25 51h1v1h-1zM55 51h1v1h-1zM1 52h1v1h-1zM8 52h1v1h-1zM18 52h1v1h-1zM10 53h1v1h-1zM12 53h1v1h-1zM36 53h1v1h-1zM52 53h1v1h-1zM70 53h1v1h-1zM19 54h1v1h-1zM26 54h1v1h-1zM30 54h1v1h-1zM36 54h1v1h-1zM70 54h1v1h-1zM12 55h1v1h-1zM20 55h1v1h-1zM16 56h1v1h-1zM30 56h1v1h-1zM9 57h1v1h-1zM19 57h1v1h-1zM48 57h1v1h-1zM70 57h1v1h-1zM6 59h1v1h-1zM14 59h1v1h-1zM30 59h1v1h-1zM48 59h1v1h-1zM6 60h1v1h-1zM36 60h1v1h-1zM55 60h1v1h-1zM12 62h1v1h-1zM26 62h1v1h-1zM55 62h1v1h-1zM8 63h1v1h-1zM10 63h1v1h-1zM17 63h1v1h-1zM19 63h1v1h-1zM70 63h1v1h-1zM8 64h1v1h-1zM10 64h1v1h-1zM16 64h1v1h-1zM47 64h1v1h-1zM11 65h1v1h-1zM10 66h1v1h-1zM14 67h1v1h-1zM0 69h1v1h-1zM10 70h1v1h-1zM0 71h1v1h-1zM28 71h1v1h-1zM0 72h1v1h-1zM13 73h1v1h-1zM23 73h1v1h-1zM7 74h1v1h-1zM10 74h1v1h-1zM0 75h2v1h-2zM28 75h1v1h-1zM7 76h1v1h-1zM23 76h1v1h-1zM38 77h1v1h-1zM10 79h1v1h-1zM11 80h1v1h-1zM7 82h1v1h-1zM1 83h1v1h-1zM0 84h1v1h-1zM23 84h1v1h-1zM13 85h2v1h-2zM14 86h1v1h-1zM10 87h1v1h-1zM12 87h2v1h-2zM11 88h1v1h-1zM77 89h1v1h-1zM10 90h1v1h-1zM23 91h1v1h-1zM28 91h1v1h-1zM38 91h1v1h-1zM10 92h1v1h-1zM28 92h1v1h-1zM10 93h1v1h-1zM23 93h1v1h-1zM0 95h1v1h-1zM12 95h2v1h-2zM1 96h1v1h-1zM38 96h1v1h-1zM37 97h1v1h-1zM23 99h1v1h-1z"/>
<path fill="#f4f4ff" d="M29 0h1v1h-1zM29 1h1v1h-1zM44 1h1v1h-1zM66 1h1v1h-1zM76 1h1v1h-1zM62 2h1v1h-1zM45 3h1v1h-1zM66 4h1v1h-1zM43 5h1v1h-1zM47 5h1v1h-1zM57 5h1v1h-1zM62 5h1v1h-1zM63 6h1v1h-1zM66 6h1v1h-1zM66 7h1v1h-1zM76 7h1v1h-1zM43 8h1v1h-1zM62 8h1v1h-1zM43 12h1v1h-1zM12 14h1v1h-1zM29 14h1v1h-1zM55 14h2v1h-2zM29 16h1v1h-1zM53 16h1v1h-1zM1 17h1v1h-1zM43 17h1v1h-1zM47 17h1v1h-1zM71 17h1v1h-1zM56 18h1v1h-1zM65 19h1v1h-1zM72 19h1v1h-1zM9 20h1v1h-1zM63 20h1v1h-1zM72 20h1v1h-1zM12 21h1v1h-1zM51 21h1v1h-1zM56 21h1v1h-1zM11 22h1v1h-1zM53 22h1v1h-1zM55 22h1v1h-1zM63 22h1v1h-1zM39 23h1v1h-1zM54 23h3v1h-3zM63 23h1v1h-1zM55 24h1v1h-1zM59 24h1v1h-1zM63 24h1v1h-1zM11 25h1v1h-1zM53 25h1v1h-1zM57 25h1v1h-1zM39 26h1v1h-1zM51 26h1v1h-1zM76 26h1v1h-1zM14 27h1v1h-1zM25 28h1v1h-1zM4 29h1v1h-1zM21 29h1v1h-1zM31 29h1v1h-1zM55 30h1v1h-1zM25 31h1v1h-1zM28 31h1v1h-1zM5 32h1v1h-1zM18 32h1v1h-1zM23 32h1v1h-1zM26 32h1v1h-1zM35 32h3v1h-3zM23 33h1v1h-1zM25 33h1v1h-1zM55 33h1v1h-1zM10 34h1v1h-1zM24 34h1v1h-1zM27 34h1v1h-1zM35 34h1v1h-1zM25 35h1v1h-1zM30 35h1v1h-1zM55 35h1v1h-1zM52 37h1v1h-1zM21 39h1v1h-1zM30 39h1v1h-1zM10 40h1v1h-1zM12 40h1v1h-1zM40 40h1v1h-1zM69 41h1v1h-1zM18 42h1v1h-1zM20 42h1v1h-1zM70 42h1v1h-1zM37 43h1v1h-1zM40 43h1v1h-1zM54 44h2v1h-2zM30 45h1v1h-1zM19 46h1v1h-1zM28 46h1v1h-1zM61 46h1v1h-1zM12 47h1v1h-1zM21 47h1v1h-1zM37 48h1v1h-1zM1 49h1v1h-1zM10 49h1v1h-1zM12 49h1v1h-1zM40 49h1v1h-1zM27 50h1v1h-1zM36 50h1v1h-1zM55 50h1v1h-1zM12 51h1v1h-1zM6 52h1v1h-1zM16 52h1v1h-1zM22 52h1v1h-1zM20 53h1v1h-1zM31 53h1v1h-1zM11 55h1v1h-1zM17 55h1v1h-1zM40 56h1v1h-1zM28 57h1v1h-1zM15 58h1v1h-1zM55 58h1v1h-1zM28 59h1v1h-1zM26 60h1v1h-1zM23 62h1v1h-1zM27 62h1v1h-1zM37 62h1v1h-1zM47 62h1v1h-1zM15 63h1v1h-1zM18 63h1v1h-1zM55 63h1v1h-1zM57 63h1v1h-1zM17 64h1v1h-1zM25 64h1v1h-1zM30 64h1v1h-1zM0 66h1v1h-1zM7 66h1v1h-1zM28 66h1v1h-1zM0 67h1v1h-1zM38 67h1v1h-1zM38 68h1v1h-1zM11 70h1v1h-1zM1 71h1v1h-1zM1 72h1v1h-1zM10 72h1v1h-1zM23 72h1v1h-1zM77 72h1v1h-1zM1 73h1v1h-1zM7 73h1v1h-1zM10 73h1v1h-1zM0 74h1v1h-1zM21 74h1v1h-1zM52 74h1v1h-1zM10 75h1v1h-1zM28 76h1v1h-1zM10 78h1v1h-1zM28 79h1v1h-1zM0 80h1v1h-1zM7 80h1v1h-1zM0 81h2v1h-2zM10 81h1v1h-1zM1 82h1v1h-1zM7 83h1v1h-1zM28 83h1v1h-1zM38 83h1v1h-1zM10 85h1v1h-1zM28 85h1v1h-1zM13 86h1v1h-1zM0 89h1v1h-1zM7 89h1v1h-1zM38 89h1v1h-1zM23 92h1v1h-1zM1 94h1v1h-1zM7 94h1v1h-1zM14 95h1v1h-1zM0 96h1v1h-1zM7 97h1v1h-1zM28 97h1v1h-1zM38 97h1v1h-1zM10 98h1v1h-1zM28 98h1v1h-1zM7 99h1v1h-1z"/>
<path fill="#ffffff" d="M44 0h1v1h-1zM57 0h1v1h-1zM62 0h1v1h-1zM76 0h1v1h-1zM43 1h1v1h-1zM57 2h1v1h-1zM76 2h1v1h-1zM23 3h1v1h-1zM76 3h1v1h-1zM43 4h1v1h-1zM57 4h1v1h-1zM62 4h1v1h-1zM76 4h1v1h-1zM29 5h1v1h-1zM58 5h1v1h-1zM64 5h1v1h-1zM44 6h1v1h-1zM57 6h1v1h-1zM29 7h1v1h-1zM43 7h1v1h-1zM47 7h1v1h-1zM29 8h1v1h-1zM57 9h1v1h-1zM66 9h1v1h-1zM29 10h1v1h-1zM29 11h1v1h-1zM66 12h1v1h-1zM71 12h1v1h-1zM43 13h2v1h-2zM11 14h1v1h-1zM30 14h1v1h-1zM58 14h1v1h-1zM51 15h1v1h-1zM63 15h1v1h-1zM76 15h1v1h-1zM11 16h1v1h-1zM76 16h1v1h-1zM11 17h1v1h-1zM55 17h1v1h-1zM59 17h1v1h-1zM75 17h1v1h-1zM11 18h1v1h-1zM51 18h1v1h-1zM55 18h1v1h-1zM29 19h1v1h-1zM45 19h1v1h-1zM68 19h1v1h-1zM71 19h1v1h-1zM76 19h1v1h-1zM12 20h1v1h-1zM51 20h1v1h-1zM55 20h1v1h-1zM11 21h1v1h-1zM29 21h1v1h-1zM56 22h1v1h-1zM51 24h1v1h-1zM51 25h1v1h-1zM63 25h1v1h-1zM69 25h1v1h-1zM55 26h1v1h-1zM57 26h1v1h-1zM63 26h1v1h-1zM13 27h1v1h-1zM47 27h1v1h-1zM2 29h2v1h-2zM5 29h1v1h-1zM34 29h1v1h-1zM47 30h1v1h-1zM16 31h1v1h-1zM18 31h2v1h-2zM55 31h1v1h-1zM16 32h2v1h-2zM48 32h1v1h-1zM12 33h1v1h-1zM47 33h1v1h-1zM12 34h1v1h-1zM28 34h1v1h-1zM40 34h1v1h-1zM57 34h1v1h-1zM70 34h1v1h-1zM19 37h1v1h-1zM31 37h1v1h-1zM70 38h1v1h-1zM9 40h1v1h-1zM16 40h1v1h-1zM21 40h1v1h-1zM52 40h2v1h-2zM55 40h1v1h-1zM57 40h1v1h-1zM10 41h1v1h-1zM33 41h1v1h-1zM70 41h1v1h-1zM10 42h1v1h-1zM71 42h1v1h-1zM9 43h1v1h-1zM13 43h1v1h-1zM20 43h1v1h-1zM47 43h1v1h-1zM55 43h1v1h-1zM21 44h1v1h-1zM40 44h1v1h-1zM42 46h1v1h-1zM49 47h1v1h-1zM70 47h1v1h-1zM29 48h1v1h-1zM40 48h1v1h-1zM55 48h1v1h-1zM70 48h1v1h-1zM58 49h1v1h-1zM70 49h1v1h-1zM72 49h1v1h-1zM3 50h1v1h-1zM20 50h2v1h-2zM70 50h1v1h-1zM20 51h1v1h-1zM37 51h1v1h-1zM21 52h1v1h-1zM26 52h1v1h-1zM30 52h1v1h-1zM48 52h1v1h-1zM21 54h1v1h-1zM40 54h1v1h-1zM55 54h1v1h-1zM40 55h1v1h-1zM21 57h1v1h-1zM24 57h1v1h-1zM47 57h1v1h-1zM53 58h1v1h-1zM52 59h1v1h-1zM21 60h1v1h-1zM33 60h1v1h-1zM52 60h1v1h-1zM31 62h1v1h-1zM33 62h1v1h-1zM12 63h2v1h-2zM40 63h1v1h-1zM45 63h1v1h-1zM52 63h1v1h-1zM21 64h1v1h-1zM55 64h1v1h-1zM28 65h1v1h-1zM1 66h1v1h-1zM38 66h1v1h-1zM1 67h1v1h-1zM7 67h1v1h-1zM37 67h1v1h-1zM0 68h1v1h-1zM28 68h1v1h-1zM1 69h1v1h-1zM1 70h1v1h-1zM23 70h1v1h-1zM10 71h1v1h-1zM23 71h1v1h-1zM52 71h1v1h-1zM28 73h1v1h-1zM23 74h1v1h-1zM40 74h1v1h-1zM38 75h1v1h-1zM10 77h1v1h-1zM1 78h1v1h-1zM7 78h1v1h-1zM10 80h1v1h-1zM23 80h1v1h-1zM7 81h1v1h-1zM23 82h1v1h-1zM28 82h1v1h-1zM52 83h1v1h-1zM38 84h1v1h-1zM1 85h1v1h-1zM7 85h1v1h-1zM23 85h1v1h-1zM1 86h1v1h-1zM7 86h1v1h-1zM10 86h1v1h-1zM29 86h1v1h-1zM28 87h1v1h-1zM21 89h1v1h-1zM23 89h1v1h-1zM28 89h1v1h-1zM23 90h1v1h-1zM0 91h1v1h-1zM7 91h1v1h-1zM29 91h1v1h-1zM39 91h1v1h-1zM52 91h1v1h-1zM1 92h1v1h-1zM7 92h1v1h-1zM11 92h1v1h-1zM21 92h1v1h-1zM38 92h1v1h-1zM23 94h1v1h-1zM1 95h1v1h-1zM10 95h1v1h-1zM7 96h1v1h-1zM23 96h1v1h-1zM28 96h1v1h-1zM70 97h1v1h-1zM1 98h1v1h-1zM34 99h1v1h-1z"/>
<path fill="#fff4f4" d="M59 0h1v1h-1zM57 1h1v1h-1zM29 2h1v1h-1zM43 2h2v1h-2zM51 2h1v1h-1zM43 3h1v1h-1zM57 3h1v1h-1zM55 5h2v1h-2zM43 6h1v1h-1zM62 6h1v1h-1zM76 6h1v1h-1zM76 8h1v1h-1zM43 9h2v1h-2zM62 9h1v1h-1zM43 10h2v1h-2zM66 10h1v1h-1zM76 10h1v1h-1zM44 11h1v1h-1zM29 13h1v1h-1zM57 13h1v1h-1zM62 13h1v1h-1zM51 14h1v1h-1zM53 14h1v1h-1zM57 14h1v1h-1zM71 14h2v1h-2zM72 15h1v1h-1zM51 16h1v1h-1zM55 16h1v1h-1zM57 16h1v1h-1zM77 16h1v1h-1zM51 17h1v1h-1zM56 17h1v1h-1zM72 17h1v1h-1zM76 17h1v1h-1zM29 18h1v1h-1zM35 18h1v1h-1zM63 18h1v1h-1zM71 18h1v1h-1zM11 19h1v1h-1zM31 19h1v1h-1zM63 19h1v1h-1zM56 20h1v1h-1zM71 20h1v1h-1zM76 20h1v1h-1zM46 21h1v1h-1zM54 21h2v1h-2zM63 21h1v1h-1zM71 21h1v1h-1zM76 21h1v1h-1zM51 22h1v1h-1zM57 22h1v1h-1zM71 22h1v1h-1zM76 22h2v1h-2zM29 23h1v1h-1zM51 23h1v1h-1zM76 23h1v1h-1zM53 24h1v1h-1zM48 25h1v1h-1zM71 25h1v1h-1zM77 25h1v1h-1zM29 26h1v1h-1zM72 26h1v1h-1zM15 27h1v1h-1zM7 29h1v1h-1zM13 29h1v1h-1zM47 29h1v1h-1zM59 29h1v1h-1zM57 30h1v1h-1zM24 31h1v1h-1zM36 31h1v1h-1zM40 31h1v1h-1zM19 32h1v1h-1zM38 32h1v1h-1zM69 32h1v1h-1zM49 33h1v1h-1zM51 33h1v1h-1zM46 35h1v1h-1zM70 35h1v1h-1zM13 36h1v1h-1zM29 36h1v1h-1zM70 36h1v1h-1zM10 37h1v1h-1zM40 37h1v1h-1zM70 37h1v1h-1zM10 38h1v1h-1zM66 38h1v1h-1zM40 39h1v1h-1zM77 39h1v1h-1zM8 41h1v1h-1zM36 41h1v1h-1zM53 41h1v1h-1zM21 42h1v1h-1zM31 44h1v1h-1zM53 44h1v1h-1zM51 45h1v1h-1zM75 45h1v1h-1zM20 46h1v1h-1zM48 47h1v1h-1zM59 47h1v1h-1zM21 49h1v1h-1zM47 49h1v1h-1zM10 50h1v1h-1zM23 50h1v1h-1zM12 52h1v1h-1zM17 52h1v1h-1zM20 52h1v1h-1zM40 52h1v1h-1zM55 52h1v1h-1zM15 53h1v1h-1zM21 53h1v1h-1zM46 53h1v1h-1zM55 53h1v1h-1zM73 53h1v1h-1zM10 56h1v1h-1zM40 57h1v1h-1zM50 57h1v1h-1zM52 57h2v1h-2zM12 58h1v1h-1zM62 58h1v1h-1zM9 59h1v1h-1zM17 59h1v1h-1zM21 59h1v1h-1zM23 59h1v1h-1zM47 59h1v1h-1zM12 61h1v1h-1zM47 61h1v1h-1zM59 61h1v1h-1zM21 62h1v1h-1zM46 62h1v1h-1zM21 63h1v1h-1zM0 65h2v1h-2zM10 65h1v1h-1zM23 66h1v1h-1zM10 67h1v1h-1zM23 67h1v1h-1zM28 67h1v1h-1zM31 68h1v1h-1zM7 69h1v1h-1zM10 69h1v1h-1zM23 69h1v1h-1zM52 69h1v1h-1zM47 70h1v1h-1zM7 71h1v1h-1zM28 72h1v1h-1zM0 73h1v1h-1zM29 73h1v1h-1zM70 73h1v1h-1zM1 74h1v1h-1zM48 74h1v1h-1zM61 74h1v1h-1zM64 74h1v1h-1zM67 74h1v1h-1zM10 76h1v1h-1zM1 77h1v1h-1zM7 77h1v1h-1zM38 78h1v1h-1zM1 79h1v1h-1zM23 79h1v1h-1zM38 80h1v1h-1zM47 80h1v1h-1zM28 81h1v1h-1zM0 82h1v1h-1zM10 82h1v1h-1zM38 82h1v1h-1zM26 83h1v1h-1zM61 83h1v1h-1zM7 84h1v1h-1zM10 84h1v1h-1zM58 84h1v1h-1zM0 86h1v1h-1zM38 86h1v1h-1zM1 88h1v1h-1zM7 88h1v1h-1zM23 88h1v1h-1zM10 89h1v1h-1zM47 89h1v1h-1zM7 90h1v1h-1zM38 90h1v1h-1zM58 90h1v1h-1zM61 91h1v1h-1zM77 91h1v1h-1zM0 92h1v1h-1zM1 93h1v1h-1zM7 93h1v1h-1zM28 93h1v1h-1zM38 93h1v1h-1zM10 94h1v1h-1zM38 94h1v1h-1zM52 94h1v1h-1zM23 95h1v1h-1zM10 96h1v1h-1zM0 97h2v1h-2zM23 97h1v1h-1zM7 98h1v1h-1zM38 98h1v1h-1zM39 99h1v1h-1z"/>
<path fill="#ffeaea" d="M66 0h1v1h-1zM62 1h1v1h-1zM64 1h1v1h-1zM30 5h1v1h-1zM71 5h2v1h-2zM64 7h1v1h-1zM57 8h1v1h-1zM76 9h1v1h-1zM62 10h1v1h-1zM57 11h1v1h-1zM66 13h1v1h-1zM76 13h1v1h-1zM64 14h1v1h-1zM55 15h1v1h-1zM20 16h1v1h-1zM58 16h1v1h-1zM69 16h1v1h-1zM12 17h1v1h-1zM53 17h1v1h-1zM76 18h1v1h-1zM55 19h3v1h-3zM11 20h1v1h-1zM53 20h1v1h-1zM57 20h1v1h-1zM64 20h1v1h-1zM35 21h1v1h-1zM53 21h1v1h-1zM72 21h1v1h-1zM77 21h1v1h-1zM23 22h1v1h-1zM29 22h1v1h-1zM69 22h1v1h-1zM72 22h1v1h-1zM23 23h1v1h-1zM20 24h1v1h-1zM72 24h1v1h-1zM77 24h1v1h-1zM30 25h1v1h-1zM76 25h1v1h-1zM12 26h1v1h-1zM12 29h1v1h-1zM28 29h1v1h-1zM30 29h1v1h-1zM55 29h1v1h-1zM75 29h1v1h-1zM10 31h1v1h-1zM12 31h1v1h-1zM23 31h1v1h-1zM26 31h1v1h-1zM28 32h1v1h-1zM40 32h1v1h-1zM21 33h1v1h-1zM55 34h1v1h-1zM74 34h1v1h-1zM20 35h1v1h-1zM45 35h1v1h-1zM54 35h1v1h-1zM77 35h1v1h-1zM12 36h1v1h-1zM21 37h1v1h-1zM27 37h1v1h-1zM67 38h1v1h-1zM15 39h1v1h-1zM41 40h1v1h-1zM73 40h1v1h-1zM65 41h1v1h-1zM12 42h1v1h-1zM40 42h1v1h-1zM75 42h1v1h-1zM58 43h1v1h-1zM67 43h1v1h-1zM12 44h1v1h-1zM58 44h1v1h-1zM70 44h1v1h-1zM40 45h1v1h-1zM47 45h1v1h-1zM49 45h1v1h-1zM58 45h1v1h-1zM21 46h1v1h-1zM29 46h1v1h-1zM47 46h1v1h-1zM49 46h1v1h-1zM55 46h1v1h-1zM53 47h1v1h-1zM73 47h1v1h-1zM72 48h1v1h-1zM26 49h1v1h-1zM61 49h1v1h-1zM75 49h1v1h-1zM77 49h1v1h-1zM40 50h1v1h-1zM59 50h1v1h-1zM73 50h1v1h-1zM9 51h1v1h-1zM29 51h1v1h-1zM53 51h1v1h-1zM59 51h1v1h-1zM62 51h1v1h-1zM10 52h1v1h-1zM51 52h1v1h-1zM70 52h1v1h-1zM75 52h1v1h-1zM40 53h1v1h-1zM47 53h1v1h-1zM71 53h1v1h-1zM77 53h1v1h-1zM12 54h1v1h-1zM58 55h1v1h-1zM47 56h1v1h-1zM44 57h1v1h-1zM55 57h1v1h-1zM46 58h1v1h-1zM22 59h1v1h-1zM74 60h1v1h-1zM9 61h1v1h-1zM15 61h1v1h-1zM29 61h1v1h-1zM35 61h1v1h-1zM49 61h1v1h-1zM51 61h1v1h-1zM61 61h1v1h-1zM56 62h1v1h-1zM70 62h1v1h-1zM41 63h1v1h-1zM47 63h1v1h-1zM40 64h1v1h-1zM7 65h1v1h-1zM54 66h1v1h-1zM58 66h1v1h-1zM51 67h1v1h-1zM70 67h1v1h-1zM7 68h1v1h-1zM10 68h1v1h-1zM39 68h1v1h-1zM28 69h1v1h-1zM39 69h1v1h-1zM47 69h2v1h-2zM28 70h1v1h-1zM38 71h1v1h-1zM7 72h1v1h-1zM61 72h1v1h-1zM21 73h1v1h-1zM38 73h2v1h-2zM58 73h1v1h-1zM29 74h1v1h-1zM49 74h1v1h-1zM54 74h1v1h-1zM57 74h1v1h-1zM76 74h2v1h-2zM7 75h1v1h-1zM48 75h1v1h-1zM51 75h1v1h-1zM1 76h1v1h-1zM23 77h1v1h-1zM29 77h1v1h-1zM70 77h1v1h-1zM23 78h1v1h-1zM0 79h1v1h-1zM61 79h1v1h-1zM28 80h1v1h-1zM39 80h1v1h-1zM43 80h1v1h-1zM48 80h1v1h-1zM70 80h1v1h-1zM23 81h1v1h-1zM0 83h1v1h-1zM23 83h1v1h-1zM39 83h1v1h-1zM70 83h1v1h-1zM15 84h1v1h-1zM28 84h1v1h-1zM70 84h1v1h-1zM77 84h1v1h-1zM38 85h1v1h-1zM28 86h1v1h-1zM70 86h1v1h-1zM0 87h2v1h-2zM7 87h1v1h-1zM38 87h1v1h-1zM52 89h1v1h-1zM1 90h1v1h-1zM28 90h1v1h-1zM47 90h1v1h-1zM40 91h1v1h-1zM47 91h1v1h-1zM49 91h1v1h-1zM51 91h1v1h-1zM58 91h1v1h-1zM70 91h1v1h-1zM52 92h1v1h-1zM61 92h1v1h-1zM70 92h1v1h-1zM0 93h1v1h-1zM28 95h2v1h-2zM51 95h2v1h-2zM29 96h1v1h-1zM54 96h1v1h-1zM58 96h1v1h-1zM77 96h1v1h-1zM10 97h1v1h-1zM28 99h2v1h-2z"/>
<path fill="#ffdfdf" d="M30 0h1v1h-1zM58 0h1v1h-1zM72 1h1v1h-1zM66 2h1v1h-1zM29 3h1v1h-1zM62 3h1v1h-1zM66 3h1v1h-1zM51 4h1v1h-1zM56 4h1v1h-1zM58 4h1v1h-1zM64 4h1v1h-1zM51 5h1v1h-1zM53 5h1v1h-1zM47 6h1v1h-1zM64 6h1v1h-1zM72 6h1v1h-1zM30 7h1v1h-1zM51 7h1v1h-1zM53 7h1v1h-1zM55 7h2v1h-2zM58 7h1v1h-1zM72 7h1v1h-1zM47 9h1v1h-1zM71 9h2v1h-2zM30 10h1v1h-1zM51 10h1v1h-1zM53 10h1v1h-1zM64 10h1v1h-1zM47 11h1v1h-1zM76 11h1v1h-1zM51 12h1v1h-1zM56 12h1v1h-1zM72 12h1v1h-1zM23 14h1v1h-1zM77 14h1v1h-1zM35 16h1v1h-1zM63 16h1v1h-1zM29 17h1v1h-1zM12 18h1v1h-1zM53 18h1v1h-1zM69 18h1v1h-1zM20 19h1v1h-1zM35 19h1v1h-1zM48 19h1v1h-1zM64 19h1v1h-1zM69 19h1v1h-1zM30 20h1v1h-1zM57 21h1v1h-1zM35 22h1v1h-1zM58 22h1v1h-1zM48 23h1v1h-1zM64 23h1v1h-1zM71 23h1v1h-1zM30 24h1v1h-1zM35 24h1v1h-1zM58 24h1v1h-1zM69 24h1v1h-1zM20 25h1v1h-1zM35 25h1v1h-1zM9 27h1v1h-1zM58 27h1v1h-1zM60 27h1v1h-1zM74 27h1v1h-1zM77 27h1v1h-1zM12 28h1v1h-1zM20 28h1v1h-1zM10 29h1v1h-1zM49 29h1v1h-1zM54 29h1v1h-1zM41 30h1v1h-1zM53 30h1v1h-1zM70 31h1v1h-1zM12 32h1v1h-1zM29 32h1v1h-1zM44 32h1v1h-1zM51 32h1v1h-1zM29 33h1v1h-1zM41 33h1v1h-1zM70 33h1v1h-1zM51 34h1v1h-1zM10 35h1v1h-1zM57 35h1v1h-1zM59 35h1v1h-1zM20 38h1v1h-1zM47 38h1v1h-1zM54 38h2v1h-2zM55 39h1v1h-1zM58 39h1v1h-1zM66 39h1v1h-1zM74 39h1v1h-1zM59 40h1v1h-1zM71 40h1v1h-1zM15 41h1v1h-1zM41 41h1v1h-1zM61 41h1v1h-1zM71 41h1v1h-1zM9 42h1v1h-1zM59 42h1v1h-1zM10 43h1v1h-1zM12 43h1v1h-1zM21 43h1v1h-1zM20 44h1v1h-1zM51 44h1v1h-1zM73 44h1v1h-1zM10 45h1v1h-1zM53 45h1v1h-1zM54 46h1v1h-1zM15 47h1v1h-1zM20 48h1v1h-1zM46 48h1v1h-1zM49 48h1v1h-1zM53 48h1v1h-1zM58 48h2v1h-2zM62 48h1v1h-1zM65 48h1v1h-1zM71 48h1v1h-1zM73 48h1v1h-1zM20 49h1v1h-1zM49 49h1v1h-1zM51 49h1v1h-1zM53 49h1v1h-1zM47 50h1v1h-1zM47 51h1v1h-1zM58 51h1v1h-1zM67 51h1v1h-1zM31 52h1v1h-1zM58 52h1v1h-1zM74 52h1v1h-1zM29 53h1v1h-1zM53 54h1v1h-1zM77 54h1v1h-1zM15 55h1v1h-1zM54 55h2v1h-2zM9 56h1v1h-1zM21 56h1v1h-1zM48 56h1v1h-1zM10 57h1v1h-1zM29 57h1v1h-1zM41 57h1v1h-1zM58 57h1v1h-1zM70 58h1v1h-1zM12 59h1v1h-1zM37 59h1v1h-1zM10 60h1v1h-1zM46 60h1v1h-1zM70 61h1v1h-1zM74 61h1v1h-1zM62 62h1v1h-1zM74 62h1v1h-1zM11 63h1v1h-1zM19 64h1v1h-1zM71 64h1v1h-1zM38 65h1v1h-1zM48 65h1v1h-1zM29 66h1v1h-1zM48 66h1v1h-1zM70 66h1v1h-1zM15 67h1v1h-1zM47 67h1v1h-1zM54 67h1v1h-1zM1 68h1v1h-1zM54 69h1v1h-1zM58 69h1v1h-1zM0 70h1v1h-1zM7 70h1v1h-1zM54 70h1v1h-1zM70 70h1v1h-1zM21 71h1v1h-1zM48 71h1v1h-1zM68 71h1v1h-1zM21 72h1v1h-1zM39 72h1v1h-1zM44 72h1v1h-1zM46 72h1v1h-1zM70 72h1v1h-1zM43 73h1v1h-1zM52 73h1v1h-1zM61 73h1v1h-1zM63 73h2v1h-2zM39 74h1v1h-1zM42 74h1v1h-1zM46 74h1v1h-1zM55 74h1v1h-1zM58 74h1v1h-1zM62 74h1v1h-1zM70 74h1v1h-1zM72 74h1v1h-1zM23 75h1v1h-1zM0 76h1v1h-1zM29 76h1v1h-1zM38 76h1v1h-1zM63 76h1v1h-1zM0 77h1v1h-1zM28 77h1v1h-1zM39 77h1v1h-1zM15 78h1v1h-1zM28 78h1v1h-1zM52 78h1v1h-1zM54 78h1v1h-1zM38 79h2v1h-2zM70 79h1v1h-1zM1 80h1v1h-1zM15 80h1v1h-1zM42 80h1v1h-1zM51 80h1v1h-1zM55 80h1v1h-1zM65 80h2v1h-2zM68 80h2v1h-2zM77 82h1v1h-1zM10 83h1v1h-1zM48 83h1v1h-1zM51 83h1v1h-1zM23 86h1v1h-1zM51 86h2v1h-2zM15 88h1v1h-1zM29 88h1v1h-1zM38 88h2v1h-2zM70 88h1v1h-1zM77 88h1v1h-1zM15 89h1v1h-1zM40 89h1v1h-1zM44 89h1v1h-1zM58 89h1v1h-1zM63 89h1v1h-1zM73 89h1v1h-1zM0 90h1v1h-1zM29 90h1v1h-1zM43 91h1v1h-1zM65 91h1v1h-1zM68 91h1v1h-1zM72 91h1v1h-1zM48 92h1v1h-1zM73 92h1v1h-1zM40 93h1v1h-1zM58 93h1v1h-1zM61 93h1v1h-1zM67 93h1v1h-1zM29 94h1v1h-1zM39 94h1v1h-1zM7 95h1v1h-1zM38 95h1v1h-1zM15 96h1v1h-1zM40 96h1v1h-1zM44 96h1v1h-1zM46 96h1v1h-1zM50 96h1v1h-1zM70 96h1v1h-1zM12 97h1v1h-1zM48 97h1v1h-1zM0 98h1v1h-1zM6 98h1v1h-1zM23 98h1v1h-1zM29 98h1v1h-1zM70 98h1v1h-1zM0 99h1v1h-1zM43 99h1v1h-1zM48 99h1v1h-1zM52 99h1v1h-1zM58 99h1v1h-1z"/>
<path fill="#ffd4d4" d="M51 0h1v1h-1zM47 1h1v1h-1zM30 2h1v1h-1zM53 2h1v1h-1zM55 2h1v1h-1zM58 2h1v1h-1zM71 2h2v1h-2zM55 3h1v1h-1zM72 3h1v1h-1zM47 4h1v1h-1zM53 4h1v1h-1zM55 4h1v1h-1zM71 4h2v1h-2zM17 5h1v1h-1zM23 5h1v1h-1zM69 5h1v1h-1zM56 6h1v1h-1zM58 6h1v1h-1zM71 7h1v1h-1zM55 8h2v1h-2zM51 9h1v1h-1zM55 9h1v1h-1zM64 9h1v1h-1zM47 10h1v1h-1zM56 10h1v1h-1zM53 11h1v1h-1zM55 11h1v1h-1zM64 11h1v1h-1zM71 11h1v1h-1zM30 12h1v1h-1zM64 12h1v1h-1zM14 14h1v1h-1zM27 14h1v1h-1zM32 14h1v1h-1zM35 14h1v1h-1zM69 14h1v1h-1zM11 15h1v1h-1zM20 15h1v1h-1zM58 15h1v1h-1zM77 15h1v1h-1zM12 16h1v1h-1zM30 16h1v1h-1zM60 16h1v1h-1zM30 17h1v1h-1zM58 17h1v1h-1zM63 17h1v1h-1zM48 18h1v1h-1zM72 18h1v1h-1zM77 18h1v1h-1zM20 20h1v1h-1zM23 20h1v1h-1zM29 20h1v1h-1zM58 20h1v1h-1zM30 22h1v1h-1zM48 22h1v1h-1zM64 22h1v1h-1zM20 23h1v1h-1zM30 23h1v1h-1zM53 23h1v1h-1zM72 23h1v1h-1zM48 24h1v1h-1zM64 24h1v1h-1zM58 25h1v1h-1zM64 25h1v1h-1zM30 26h1v1h-1zM35 26h1v1h-1zM48 26h1v1h-1zM56 26h1v1h-1zM64 26h1v1h-1zM69 26h1v1h-1zM73 27h1v1h-1zM75 27h1v1h-1zM10 28h1v1h-1zM51 28h1v1h-1zM9 29h1v1h-1zM20 29h1v1h-1zM25 29h1v1h-1zM40 29h2v1h-2zM53 29h1v1h-1zM10 30h1v1h-1zM12 30h1v1h-1zM58 30h1v1h-1zM29 31h1v1h-1zM62 31h1v1h-1zM72 31h1v1h-1zM10 32h1v1h-1zM13 32h1v1h-1zM20 32h1v1h-1zM41 32h1v1h-1zM63 32h1v1h-1zM71 32h1v1h-1zM57 33h2v1h-2zM21 34h1v1h-1zM62 34h1v1h-1zM9 35h1v1h-1zM15 35h1v1h-1zM26 35h1v1h-1zM29 35h1v1h-1zM49 35h1v1h-1zM51 35h1v1h-1zM61 35h1v1h-1zM67 35h1v1h-1zM21 36h1v1h-1zM12 37h1v1h-1zM51 37h1v1h-1zM58 37h2v1h-2zM62 37h1v1h-1zM75 37h1v1h-1zM77 37h1v1h-1zM58 38h1v1h-1zM72 38h1v1h-1zM9 39h1v1h-1zM29 39h1v1h-1zM53 39h1v1h-1zM72 39h1v1h-1zM29 40h1v1h-1zM42 40h1v1h-1zM46 40h1v1h-1zM74 40h1v1h-1zM44 41h1v1h-1zM50 41h2v1h-2zM58 41h2v1h-2zM73 41h2v1h-2zM77 41h1v1h-1zM62 42h1v1h-1zM64 42h1v1h-1zM66 42h1v1h-1zM74 43h1v1h-1zM49 44h1v1h-1zM71 44h1v1h-1zM41 45h1v1h-1zM50 45h1v1h-1zM65 45h1v1h-1zM15 46h1v1h-1zM51 46h1v1h-1zM63 46h1v1h-1zM70 46h1v1h-1zM74 46h1v1h-1zM29 47h1v1h-1zM51 47h1v1h-1zM54 47h1v1h-1zM57 47h1v1h-1zM47 48h1v1h-1zM64 48h1v1h-1zM74 48h1v1h-1zM41 49h1v1h-1zM15 50h1v1h-1zM24 50h1v1h-1zM51 50h1v1h-1zM58 50h1v1h-1zM76 50h1v1h-1zM70 51h1v1h-1zM47 52h1v1h-1zM54 52h1v1h-1zM72 52h1v1h-1zM9 53h1v1h-1zM53 53h1v1h-1zM58 53h1v1h-1zM29 54h1v1h-1zM42 54h1v1h-1zM59 54h1v1h-1zM46 55h1v1h-1zM53 55h1v1h-1zM73 55h1v1h-1zM12 57h2v1h-2zM77 58h1v1h-1zM29 59h1v1h-1zM55 59h1v1h-1zM58 59h1v1h-1zM61 59h1v1h-1zM20 60h1v1h-1zM66 60h1v1h-1zM20 61h1v1h-1zM41 61h1v1h-1zM46 61h1v1h-1zM71 61h1v1h-1zM75 61h1v1h-1zM29 62h1v1h-1zM51 62h1v1h-1zM68 62h1v1h-1zM29 63h1v1h-1zM53 63h1v1h-1zM73 63h1v1h-1zM12 64h1v1h-1zM20 64h1v1h-1zM21 65h1v1h-1zM23 65h1v1h-1zM39 65h1v1h-1zM51 65h1v1h-1zM39 66h1v1h-1zM61 66h2v1h-2zM69 66h1v1h-1zM77 66h1v1h-1zM21 67h1v1h-1zM29 67h1v1h-1zM61 67h1v1h-1zM77 67h1v1h-1zM21 68h1v1h-1zM23 68h1v1h-1zM51 68h2v1h-2zM29 69h1v1h-1zM43 69h1v1h-1zM45 69h1v1h-1zM51 69h1v1h-1zM53 69h1v1h-1zM59 69h3v1h-3zM72 69h2v1h-2zM39 70h1v1h-1zM46 70h1v1h-1zM57 70h1v1h-1zM69 70h1v1h-1zM15 71h1v1h-1zM29 71h1v1h-1zM45 71h1v1h-1zM49 71h1v1h-1zM58 71h1v1h-1zM70 71h1v1h-1zM77 71h1v1h-1zM38 72h1v1h-1zM48 72h1v1h-1zM52 72h1v1h-1zM48 73h1v1h-1zM59 73h1v1h-1zM9 74h1v1h-1zM47 74h1v1h-1zM50 74h2v1h-2zM53 74h1v1h-1zM66 74h1v1h-1zM69 74h1v1h-1zM15 75h1v1h-1zM21 75h1v1h-1zM47 75h1v1h-1zM64 75h1v1h-1zM70 75h1v1h-1zM15 76h1v1h-1zM54 76h1v1h-1zM51 77h1v1h-1zM54 77h1v1h-1zM61 77h1v1h-1zM0 78h1v1h-1zM47 78h1v1h-1zM56 78h1v1h-1zM61 78h1v1h-1zM77 78h1v1h-1zM47 79h1v1h-1zM58 79h1v1h-1zM65 79h1v1h-1zM77 79h1v1h-1zM20 80h1v1h-1zM45 80h1v1h-1zM52 80h3v1h-3zM60 80h1v1h-1zM76 80h1v1h-1zM20 81h1v1h-1zM48 81h1v1h-1zM52 81h1v1h-1zM15 82h1v1h-1zM21 82h1v1h-1zM48 82h1v1h-1zM52 82h1v1h-1zM70 82h1v1h-1zM15 83h1v1h-1zM40 83h1v1h-1zM44 83h1v1h-1zM55 83h1v1h-1zM60 83h1v1h-1zM72 83h1v1h-1zM76 83h2v1h-2zM1 84h1v1h-1zM29 84h1v1h-1zM54 84h1v1h-1zM61 84h1v1h-1zM32 85h1v1h-1zM39 85h1v1h-1zM21 86h1v1h-1zM43 86h1v1h-1zM48 86h1v1h-1zM54 86h2v1h-2zM58 86h1v1h-1zM61 86h2v1h-2zM76 86h2v1h-2zM15 87h1v1h-1zM23 87h1v1h-1zM21 88h1v1h-1zM43 88h1v1h-1zM47 88h2v1h-2zM51 88h2v1h-2zM76 88h1v1h-1zM29 89h1v1h-1zM41 89h1v1h-1zM51 89h1v1h-1zM61 89h1v1h-1zM66 89h1v1h-1zM68 89h1v1h-1zM70 89h1v1h-1zM72 89h1v1h-1zM39 90h1v1h-1zM43 90h1v1h-1zM59 90h1v1h-1zM9 91h1v1h-1zM20 91h2v1h-2zM50 91h1v1h-1zM54 91h1v1h-1zM59 91h1v1h-1zM63 91h2v1h-2zM66 91h1v1h-1zM41 92h1v1h-1zM51 92h1v1h-1zM57 92h1v1h-1zM15 93h1v1h-1zM39 93h1v1h-1zM42 93h1v1h-1zM47 93h1v1h-1zM70 93h2v1h-2zM77 93h1v1h-1zM15 94h1v1h-1zM47 94h1v1h-1zM56 94h1v1h-1zM39 96h1v1h-1zM41 96h2v1h-2zM52 96h1v1h-1zM57 96h1v1h-1zM15 97h1v1h-1zM29 97h1v1h-1zM15 98h1v1h-1zM21 98h1v1h-1zM46 98h2v1h-2zM50 98h1v1h-1zM75 98h1v1h-1zM47 99h1v1h-1zM54 99h1v1h-1zM60 99h1v1h-1zM77 99h1v1h-1z"/>
<path fill="#ffcaca" d="M47 0h1v1h-1zM53 0h1v1h-1zM55 0h2v1h-2zM71 0h2v1h-2zM30 1h1v1h-1zM53 1h1v1h-1zM55 1h2v1h-2zM58 1h1v1h-1zM71 1h1v1h-1zM56 2h1v1h-1zM64 2h1v1h-1zM47 3h1v1h-1zM53 3h1v1h-1zM20 4h1v1h-1zM30 4h1v1h-1zM3 5h1v1h-1zM18 5h1v1h-1zM30 6h1v1h-1zM51 6h1v1h-1zM53 6h1v1h-1zM55 6h1v1h-1zM71 6h1v1h-1zM35 7h1v1h-1zM47 8h1v1h-1zM53 8h1v1h-1zM58 8h1v1h-1zM30 9h1v1h-1zM53 9h1v1h-1zM56 9h1v1h-1zM55 10h1v1h-1zM58 10h1v1h-1zM30 11h1v1h-1zM51 11h1v1h-1zM58 11h1v1h-1zM55 12h1v1h-1zM30 13h1v1h-1zM51 13h1v1h-1zM56 13h1v1h-1zM64 13h1v1h-1zM71 13h1v1h-1zM3 14h1v1h-1zM20 14h1v1h-1zM34 14h1v1h-1zM48 14h1v1h-1zM30 15h1v1h-1zM48 15h1v1h-1zM69 15h1v1h-1zM23 16h1v1h-1zM23 17h1v1h-1zM35 17h1v1h-1zM69 17h1v1h-1zM58 18h1v1h-1zM26 19h1v1h-1zM77 19h1v1h-1zM48 20h1v1h-1zM77 20h1v1h-1zM23 21h1v1h-1zM48 21h1v1h-1zM64 21h1v1h-1zM58 23h1v1h-1zM6 24h1v1h-1zM8 24h1v1h-1zM23 25h1v1h-1zM58 26h1v1h-1zM71 26h1v1h-1zM51 27h1v1h-1zM67 27h1v1h-1zM73 28h1v1h-1zM50 29h1v1h-1zM61 29h1v1h-1zM70 29h1v1h-1zM76 29h1v1h-1zM56 30h1v1h-1zM62 30h1v1h-1zM75 30h1v1h-1zM67 31h1v1h-1zM47 32h1v1h-1zM55 32h1v1h-1zM62 32h1v1h-1zM64 32h1v1h-1zM68 32h1v1h-1zM72 32h2v1h-2zM75 32h1v1h-1zM9 34h1v1h-1zM41 34h1v1h-1zM47 34h1v1h-1zM56 34h1v1h-1zM43 35h1v1h-1zM50 35h1v1h-1zM53 35h1v1h-1zM58 35h1v1h-1zM51 36h1v1h-1zM59 36h1v1h-1zM53 37h1v1h-1zM67 37h1v1h-1zM15 38h1v1h-1zM50 38h1v1h-1zM77 38h1v1h-1zM46 39h1v1h-1zM50 39h1v1h-1zM62 39h1v1h-1zM71 39h1v1h-1zM64 40h1v1h-1zM77 40h1v1h-1zM9 41h1v1h-1zM40 41h1v1h-1zM49 41h1v1h-1zM68 41h1v1h-1zM72 41h1v1h-1zM41 42h2v1h-2zM51 42h1v1h-1zM53 42h1v1h-1zM69 42h1v1h-1zM29 43h1v1h-1zM70 43h2v1h-2zM77 43h1v1h-1zM15 44h1v1h-1zM59 44h1v1h-1zM75 44h1v1h-1zM9 45h1v1h-1zM20 45h1v1h-1zM29 45h1v1h-1zM57 45h1v1h-1zM45 46h1v1h-1zM53 46h1v1h-1zM58 46h1v1h-1zM71 46h1v1h-1zM9 47h1v1h-1zM41 47h3v1h-3zM50 47h1v1h-1zM56 47h1v1h-1zM62 47h1v1h-1zM64 47h1v1h-1zM74 47h1v1h-1zM63 48h1v1h-1zM15 49h1v1h-1zM57 49h1v1h-1zM65 49h1v1h-1zM74 49h1v1h-1zM9 50h1v1h-1zM71 50h1v1h-1zM75 50h1v1h-1zM15 51h1v1h-1zM71 51h1v1h-1zM73 51h1v1h-1zM77 51h1v1h-1zM59 52h1v1h-1zM61 52h1v1h-1zM63 52h1v1h-1zM51 53h1v1h-1zM59 53h1v1h-1zM72 53h1v1h-1zM74 53h2v1h-2zM54 54h1v1h-1zM51 56h1v1h-1zM55 56h1v1h-1zM70 56h1v1h-1zM15 57h1v1h-1zM20 57h1v1h-1zM46 57h1v1h-1zM51 57h1v1h-1zM59 57h1v1h-1zM15 59h1v1h-1zM9 60h1v1h-1zM13 60h1v1h-1zM41 60h1v1h-1zM54 61h1v1h-1zM62 61h1v1h-1zM41 62h1v1h-1zM57 62h1v1h-1zM9 63h1v1h-1zM20 63h1v1h-1zM51 63h1v1h-1zM75 63h1v1h-1zM15 65h1v1h-1zM29 65h1v1h-1zM54 65h1v1h-1zM63 65h1v1h-1zM70 65h2v1h-2zM77 65h1v1h-1zM15 66h1v1h-1zM21 66h1v1h-1zM42 66h1v1h-1zM50 66h3v1h-3zM50 67h1v1h-1zM52 67h1v1h-1zM56 67h1v1h-1zM58 67h1v1h-1zM60 67h1v1h-1zM66 67h1v1h-1zM47 68h1v1h-1zM60 68h2v1h-2zM21 69h1v1h-1zM40 69h2v1h-2zM46 69h1v1h-1zM49 69h1v1h-1zM63 69h2v1h-2zM67 69h1v1h-1zM71 69h1v1h-1zM77 69h1v1h-1zM15 70h1v1h-1zM21 70h1v1h-1zM29 70h1v1h-1zM42 70h1v1h-1zM51 70h1v1h-1zM58 70h1v1h-1zM40 71h1v1h-1zM53 71h3v1h-3zM62 71h1v1h-1zM29 72h1v1h-1zM40 72h1v1h-1zM58 72h1v1h-1zM66 72h1v1h-1zM72 72h1v1h-1zM15 73h1v1h-1zM20 73h1v1h-1zM40 73h1v1h-1zM45 73h1v1h-1zM47 73h1v1h-1zM51 73h1v1h-1zM54 73h1v1h-1zM69 73h1v1h-1zM72 73h1v1h-1zM15 74h1v1h-1zM20 74h1v1h-1zM41 74h1v1h-1zM44 74h1v1h-1zM68 74h1v1h-1zM74 74h2v1h-2zM29 75h1v1h-1zM39 75h1v1h-1zM49 75h2v1h-2zM52 75h1v1h-1zM55 75h1v1h-1zM58 75h1v1h-1zM61 75h1v1h-1zM73 75h1v1h-1zM21 76h1v1h-1zM39 76h1v1h-1zM44 76h1v1h-1zM51 76h2v1h-2zM55 76h2v1h-2zM58 76h2v1h-2zM62 76h1v1h-1zM70 76h1v1h-1zM77 76h1v1h-1zM15 77h1v1h-1zM47 77h1v1h-1zM58 77h2v1h-2zM21 78h1v1h-1zM39 78h1v1h-1zM45 78h2v1h-2zM48 78h1v1h-1zM58 78h1v1h-1zM15 79h1v1h-1zM21 79h1v1h-1zM48 79h1v1h-1zM54 79h1v1h-1zM60 79h1v1h-1zM67 79h1v1h-1zM40 80h1v1h-1zM59 80h1v1h-1zM73 80h1v1h-1zM77 80h1v1h-1zM29 81h1v1h-1zM51 81h1v1h-1zM61 81h1v1h-1zM70 81h1v1h-1zM39 82h1v1h-1zM50 82h1v1h-1zM21 83h1v1h-1zM29 83h1v1h-1zM47 83h1v1h-1zM54 83h1v1h-1zM56 83h1v1h-1zM39 84h1v1h-1zM50 84h1v1h-1zM56 84h1v1h-1zM62 84h1v1h-1zM54 85h1v1h-1zM61 85h1v1h-1zM70 85h1v1h-1zM15 86h1v1h-1zM41 86h1v1h-1zM47 86h1v1h-1zM60 86h1v1h-1zM72 86h1v1h-1zM21 87h1v1h-1zM58 87h1v1h-1zM61 87h1v1h-1zM50 88h1v1h-1zM53 88h1v1h-1zM61 88h1v1h-1zM64 88h1v1h-1zM68 88h1v1h-1zM20 89h1v1h-1zM39 89h1v1h-1zM48 89h1v1h-1zM53 89h2v1h-2zM57 89h1v1h-1zM60 89h1v1h-1zM65 89h1v1h-1zM71 89h1v1h-1zM44 90h1v1h-1zM46 90h1v1h-1zM62 90h1v1h-1zM70 90h2v1h-2zM77 90h1v1h-1zM15 91h1v1h-1zM45 91h1v1h-1zM48 91h1v1h-1zM56 91h1v1h-1zM60 91h1v1h-1zM69 91h1v1h-1zM71 91h1v1h-1zM29 92h1v1h-1zM45 92h1v1h-1zM54 92h3v1h-3zM58 92h2v1h-2zM62 92h1v1h-1zM67 92h1v1h-1zM77 92h1v1h-1zM20 93h1v1h-1zM48 93h1v1h-1zM52 93h1v1h-1zM55 93h1v1h-1zM68 93h1v1h-1zM48 94h1v1h-1zM54 94h1v1h-1zM59 94h3v1h-3zM64 94h1v1h-1zM77 94h1v1h-1zM15 95h1v1h-1zM40 95h1v1h-1zM48 95h1v1h-1zM70 95h1v1h-1zM77 95h1v1h-1zM9 96h1v1h-1zM53 96h1v1h-1zM55 96h1v1h-1zM60 96h2v1h-2zM66 96h4v1h-4zM74 96h1v1h-1zM39 97h1v1h-1zM54 97h1v1h-1zM73 97h1v1h-1zM77 97h1v1h-1zM39 98h1v1h-1zM42 98h1v1h-1zM44 98h1v1h-1zM48 98h1v1h-1zM51 98h1v1h-1zM54 98h1v1h-1zM58 98h1v1h-1zM61 98h1v1h-1zM15 99h1v1h-1zM21 99h1v1h-1zM49 99h1v1h-1zM55 99h1v1h-1zM62 99h2v1h-2zM66 99h1v1h-1zM70 99h1v1h-1z"/>
<path fill="#ffbfbf" d="M14 0h1v1h-1zM64 0h1v1h-1zM51 1h1v1h-1zM47 2h1v1h-1zM56 3h1v1h-1zM58 3h1v1h-1zM71 3h1v1h-1zM77 4h1v1h-1zM14 5h1v1h-1zM16 5h1v1h-1zM22 5h1v1h-1zM24 5h1v1h-1zM32 5h1v1h-1zM34 5h3v1h-3zM32 6h1v1h-1zM6 7h1v1h-1zM14 7h1v1h-1zM30 8h1v1h-1zM51 8h1v1h-1zM64 8h1v1h-1zM58 9h1v1h-1zM71 10h1v1h-1zM56 11h1v1h-1zM47 12h1v1h-1zM53 12h1v1h-1zM58 12h1v1h-1zM47 13h1v1h-1zM55 13h1v1h-1zM72 13h1v1h-1zM19 14h1v1h-1zM37 14h1v1h-1zM35 15h1v1h-1zM64 16h1v1h-1zM77 17h1v1h-1zM23 18h1v1h-1zM30 18h1v1h-1zM27 19h1v1h-1zM58 19h1v1h-1zM69 20h1v1h-1zM69 21h1v1h-1zM20 22h1v1h-1zM69 23h1v1h-1zM77 23h1v1h-1zM24 24h1v1h-1zM5 25h1v1h-1zM26 25h1v1h-1zM23 26h1v1h-1zM77 26h1v1h-1zM29 27h1v1h-1zM76 27h1v1h-1zM15 28h1v1h-1zM42 28h1v1h-1zM74 28h1v1h-1zM29 29h1v1h-1zM42 29h1v1h-1zM58 29h1v1h-1zM62 29h1v1h-1zM68 29h1v1h-1zM24 30h1v1h-1zM50 30h1v1h-1zM66 30h1v1h-1zM77 30h1v1h-1zM9 31h1v1h-1zM58 31h1v1h-1zM9 32h1v1h-1zM15 32h1v1h-1zM58 32h1v1h-1zM61 32h1v1h-1zM76 32h1v1h-1zM9 33h1v1h-1zM15 33h1v1h-1zM20 33h1v1h-1zM53 33h1v1h-1zM71 33h1v1h-1zM77 33h1v1h-1zM49 34h1v1h-1zM59 34h1v1h-1zM61 34h1v1h-1zM71 34h1v1h-1zM40 35h1v1h-1zM62 35h2v1h-2zM71 35h1v1h-1zM43 36h1v1h-1zM53 36h1v1h-1zM57 36h1v1h-1zM55 37h1v1h-1zM9 38h1v1h-1zM29 38h1v1h-1zM49 38h1v1h-1zM53 38h1v1h-1zM62 38h1v1h-1zM73 38h1v1h-1zM20 39h1v1h-1zM69 39h1v1h-1zM73 39h1v1h-1zM75 39h1v1h-1zM51 40h1v1h-1zM67 40h1v1h-1zM69 40h1v1h-1zM20 41h1v1h-1zM62 41h3v1h-3zM73 42h2v1h-2zM15 43h1v1h-1zM51 43h1v1h-1zM53 43h1v1h-1zM61 43h1v1h-1zM9 44h1v1h-1zM41 44h1v1h-1zM43 44h1v1h-1zM46 44h1v1h-1zM77 44h1v1h-1zM54 45h1v1h-1zM61 45h1v1h-1zM9 46h1v1h-1zM41 46h1v1h-1zM60 46h1v1h-1zM65 46h1v1h-1zM44 47h2v1h-2zM72 47h1v1h-1zM51 48h1v1h-1zM57 48h1v1h-1zM29 49h1v1h-1zM50 49h1v1h-1zM41 50h1v1h-1zM61 50h1v1h-1zM21 51h1v1h-1zM60 51h2v1h-2zM74 51h1v1h-1zM42 52h1v1h-1zM62 52h1v1h-1zM41 53h1v1h-1zM15 54h1v1h-1zM20 54h1v1h-1zM49 54h1v1h-1zM58 54h1v1h-1zM61 55h1v1h-1zM46 56h1v1h-1zM59 56h1v1h-1zM43 57h1v1h-1zM54 57h1v1h-1zM64 57h1v1h-1zM76 57h1v1h-1zM29 58h1v1h-1zM58 58h1v1h-1zM73 58h1v1h-1zM75 58h1v1h-1zM10 59h1v1h-1zM29 60h1v1h-1zM75 60h1v1h-1zM77 60h1v1h-1zM45 61h1v1h-1zM69 61h1v1h-1zM73 61h1v1h-1zM10 62h1v1h-1zM58 62h1v1h-1zM61 62h1v1h-1zM71 62h1v1h-1zM49 63h1v1h-1zM54 63h1v1h-1zM68 63h1v1h-1zM9 64h1v1h-1zM46 64h1v1h-1zM58 64h1v1h-1zM74 64h1v1h-1zM47 65h1v1h-1zM52 65h1v1h-1zM20 66h1v1h-1zM41 66h1v1h-1zM55 66h1v1h-1zM64 66h2v1h-2zM67 66h1v1h-1zM39 67h1v1h-1zM45 67h1v1h-1zM48 67h1v1h-1zM55 67h1v1h-1zM71 67h1v1h-1zM76 67h1v1h-1zM15 68h1v1h-1zM29 68h1v1h-1zM45 68h1v1h-1zM48 68h1v1h-1zM64 68h1v1h-1zM70 68h1v1h-1zM9 69h1v1h-1zM15 69h1v1h-1zM55 69h1v1h-1zM74 69h1v1h-1zM76 69h1v1h-1zM48 70h1v1h-1zM59 70h1v1h-1zM61 70h1v1h-1zM67 70h2v1h-2zM72 70h1v1h-1zM76 70h1v1h-1zM9 71h1v1h-1zM41 71h1v1h-1zM46 71h2v1h-2zM51 71h1v1h-1zM59 71h2v1h-2zM69 71h1v1h-1zM74 71h1v1h-1zM9 72h1v1h-1zM15 72h1v1h-1zM20 72h1v1h-1zM53 72h3v1h-3zM59 72h2v1h-2zM62 72h1v1h-1zM64 72h1v1h-1zM68 72h1v1h-1zM76 72h1v1h-1zM41 73h1v1h-1zM44 73h1v1h-1zM60 73h1v1h-1zM65 73h1v1h-1zM67 73h1v1h-1zM75 73h1v1h-1zM77 73h1v1h-1zM45 74h1v1h-1zM56 74h1v1h-1zM65 74h1v1h-1zM73 74h1v1h-1zM60 75h1v1h-1zM69 75h1v1h-1zM77 75h1v1h-1zM9 76h1v1h-1zM40 76h1v1h-1zM47 76h1v1h-1zM61 76h1v1h-1zM67 76h1v1h-1zM72 76h1v1h-1zM9 77h1v1h-1zM21 77h1v1h-1zM41 77h1v1h-1zM43 77h1v1h-1zM50 77h1v1h-1zM55 77h1v1h-1zM69 77h1v1h-1zM72 77h1v1h-1zM77 77h1v1h-1zM50 78h1v1h-1zM57 78h1v1h-1zM67 78h1v1h-1zM69 78h1v1h-1zM73 78h1v1h-1zM7 79h1v1h-1zM46 79h1v1h-1zM49 79h1v1h-1zM51 79h1v1h-1zM53 79h1v1h-1zM66 79h1v1h-1zM21 80h1v1h-1zM29 80h1v1h-1zM41 80h1v1h-1zM49 80h1v1h-1zM57 80h1v1h-1zM62 80h1v1h-1zM15 81h1v1h-1zM39 81h1v1h-1zM54 81h1v1h-1zM68 81h1v1h-1zM42 82h1v1h-1zM44 82h1v1h-1zM46 82h2v1h-2zM58 82h1v1h-1zM64 82h1v1h-1zM66 82h1v1h-1zM76 82h1v1h-1zM42 83h1v1h-1zM49 83h1v1h-1zM53 83h1v1h-1zM57 83h3v1h-3zM64 83h2v1h-2zM67 83h1v1h-1zM73 83h1v1h-1zM21 84h1v1h-1zM40 84h2v1h-2zM48 84h1v1h-1zM51 84h1v1h-1zM57 84h1v1h-1zM68 84h1v1h-1zM29 85h1v1h-1zM52 85h1v1h-1zM58 85h1v1h-1zM39 86h1v1h-1zM46 86h1v1h-1zM49 86h1v1h-1zM57 86h1v1h-1zM59 86h1v1h-1zM69 86h1v1h-1zM71 86h1v1h-1zM73 86h1v1h-1zM46 87h1v1h-1zM48 87h1v1h-1zM51 87h1v1h-1zM9 88h1v1h-1zM20 88h1v1h-1zM41 88h1v1h-1zM44 88h1v1h-1zM56 88h2v1h-2zM60 88h1v1h-1zM63 88h1v1h-1zM65 88h2v1h-2zM71 88h1v1h-1zM73 88h2v1h-2zM42 89h1v1h-1zM49 89h2v1h-2zM59 89h1v1h-1zM62 89h1v1h-1zM76 89h1v1h-1zM42 90h1v1h-1zM51 90h3v1h-3zM55 90h1v1h-1zM63 90h1v1h-1zM65 90h2v1h-2zM41 91h1v1h-1zM53 91h1v1h-1zM57 91h1v1h-1zM62 91h1v1h-1zM73 91h2v1h-2zM9 92h1v1h-1zM15 92h1v1h-1zM46 92h2v1h-2zM50 92h1v1h-1zM53 92h1v1h-1zM66 92h1v1h-1zM71 92h1v1h-1zM76 92h1v1h-1zM21 93h1v1h-1zM29 93h1v1h-1zM41 93h1v1h-1zM49 93h1v1h-1zM51 93h1v1h-1zM59 93h2v1h-2zM65 93h1v1h-1zM21 94h1v1h-1zM42 94h1v1h-1zM49 94h1v1h-1zM51 94h1v1h-1zM55 94h1v1h-1zM63 94h1v1h-1zM66 94h1v1h-1zM73 94h1v1h-1zM21 95h1v1h-1zM47 95h1v1h-1zM54 95h1v1h-1zM61 95h1v1h-1zM43 96h1v1h-1zM47 96h3v1h-3zM51 96h1v1h-1zM63 96h3v1h-3zM21 97h1v1h-1zM41 97h1v1h-1zM51 97h1v1h-1zM68 97h1v1h-1zM40 98h1v1h-1zM52 98h1v1h-1zM57 98h1v1h-1zM59 98h1v1h-1zM73 98h2v1h-2zM9 99h1v1h-1zM20 99h1v1h-1zM56 99h2v1h-2zM61 99h1v1h-1zM65 99h1v1h-1z"/>
<path fill="#ffb5b5" d="M3 0h1v1h-1zM30 3h1v1h-1zM44 3h1v1h-1zM64 3h1v1h-1zM18 4h1v1h-1zM33 4h1v1h-1zM35 4h1v1h-1zM69 4h1v1h-1zM2 5h1v1h-1zM4 5h3v1h-3zM19 5h1v1h-1zM25 5h3v1h-3zM33 5h1v1h-1zM37 5h1v1h-1zM16 7h1v1h-1zM18 7h1v1h-1zM23 7h2v1h-2zM32 7h1v1h-1zM71 8h1v1h-1zM25 9h1v1h-1zM72 10h1v1h-1zM32 11h1v1h-1zM14 12h1v1h-1zM53 13h1v1h-1zM58 13h1v1h-1zM2 14h1v1h-1zM4 14h1v1h-1zM16 14h1v1h-1zM36 14h1v1h-1zM23 15h1v1h-1zM64 15h1v1h-1zM6 16h1v1h-1zM48 16h1v1h-1zM16 17h1v1h-1zM20 17h1v1h-1zM34 17h1v1h-1zM48 17h1v1h-1zM64 17h1v1h-1zM19 18h2v1h-2zM32 18h1v1h-1zM64 18h1v1h-1zM8 19h1v1h-1zM18 19h1v1h-1zM22 19h2v1h-2zM30 19h1v1h-1zM2 20h1v1h-1zM30 21h1v1h-1zM5 22h1v1h-1zM14 22h1v1h-1zM27 22h1v1h-1zM25 23h1v1h-1zM16 24h1v1h-1zM22 24h2v1h-2zM26 24h2v1h-2zM33 24h1v1h-1zM2 25h1v1h-1zM16 25h2v1h-2zM33 25h1v1h-1zM20 26h1v1h-1zM43 27h1v1h-1zM46 27h1v1h-1zM65 27h1v1h-1zM46 28h1v1h-1zM53 28h1v1h-1zM71 28h1v1h-1zM15 29h1v1h-1zM51 29h1v1h-1zM56 29h1v1h-1zM63 29h1v1h-1zM69 29h1v1h-1zM71 29h1v1h-1zM73 29h1v1h-1zM51 30h1v1h-1zM61 30h1v1h-1zM73 30h1v1h-1zM47 31h1v1h-1zM42 32h1v1h-1zM45 32h1v1h-1zM53 32h1v1h-1zM57 32h1v1h-1zM66 32h1v1h-1zM74 32h1v1h-1zM77 32h1v1h-1zM43 33h1v1h-1zM62 33h1v1h-1zM45 34h2v1h-2zM53 34h1v1h-1zM58 34h1v1h-1zM75 34h1v1h-1zM44 35h1v1h-1zM56 35h1v1h-1zM20 36h1v1h-1zM41 36h1v1h-1zM58 36h1v1h-1zM73 36h1v1h-1zM75 36h1v1h-1zM9 37h1v1h-1zM46 37h1v1h-1zM69 37h1v1h-1zM71 37h1v1h-1zM41 38h2v1h-2zM46 38h1v1h-1zM63 38h1v1h-1zM71 38h1v1h-1zM45 39h1v1h-1zM70 39h1v1h-1zM50 40h1v1h-1zM61 40h2v1h-2zM68 40h1v1h-1zM42 41h1v1h-1zM46 41h1v1h-1zM54 41h1v1h-1zM57 41h1v1h-1zM60 41h1v1h-1zM66 41h1v1h-1zM45 42h2v1h-2zM57 42h1v1h-1zM45 43h1v1h-1zM56 43h2v1h-2zM62 43h1v1h-1zM73 43h1v1h-1zM29 44h1v1h-1zM57 44h1v1h-1zM60 44h1v1h-1zM65 44h1v1h-1zM68 44h1v1h-1zM15 45h1v1h-1zM45 45h1v1h-1zM59 45h1v1h-1zM73 45h2v1h-2zM77 45h1v1h-1zM43 46h1v1h-1zM59 46h1v1h-1zM68 46h1v1h-1zM75 46h1v1h-1zM46 47h1v1h-1zM9 48h1v1h-1zM44 48h2v1h-2zM50 48h1v1h-1zM54 48h1v1h-1zM75 48h1v1h-1zM62 49h1v1h-1zM12 50h1v1h-1zM43 50h1v1h-1zM46 50h1v1h-1zM60 50h1v1h-1zM67 50h1v1h-1zM74 50h1v1h-1zM41 51h1v1h-1zM65 51h1v1h-1zM76 51h1v1h-1zM9 52h1v1h-1zM15 52h1v1h-1zM46 52h1v1h-1zM71 52h1v1h-1zM43 53h2v1h-2zM51 55h1v1h-1zM67 55h1v1h-1zM71 55h1v1h-1zM58 56h1v1h-1zM77 56h1v1h-1zM57 57h1v1h-1zM74 57h1v1h-1zM77 57h1v1h-1zM51 58h1v1h-1zM20 59h1v1h-1zM40 59h1v1h-1zM53 59h1v1h-1zM15 60h1v1h-1zM44 60h1v1h-1zM56 60h1v1h-1zM59 60h1v1h-1zM60 61h1v1h-1zM64 61h1v1h-1zM72 61h1v1h-1zM9 62h1v1h-1zM49 62h1v1h-1zM53 62h1v1h-1zM65 62h1v1h-1zM72 62h1v1h-1zM75 62h1v1h-1zM46 63h1v1h-1zM50 64h2v1h-2zM54 64h1v1h-1zM57 64h1v1h-1zM68 64h1v1h-1zM9 65h1v1h-1zM41 65h1v1h-1zM49 65h2v1h-2zM56 65h1v1h-1zM58 65h1v1h-1zM62 65h1v1h-1zM72 65h1v1h-1zM76 65h1v1h-1zM47 66h1v1h-1zM49 66h1v1h-1zM53 66h1v1h-1zM57 66h1v1h-1zM72 66h1v1h-1zM74 66h1v1h-1zM76 66h1v1h-1zM9 67h1v1h-1zM42 67h2v1h-2zM49 67h1v1h-1zM69 67h1v1h-1zM73 67h2v1h-2zM40 68h2v1h-2zM43 68h1v1h-1zM49 68h1v1h-1zM53 68h2v1h-2zM58 68h1v1h-1zM71 68h2v1h-2zM20 69h1v1h-1zM44 69h1v1h-1zM56 69h1v1h-1zM65 69h2v1h-2zM70 69h1v1h-1zM20 70h1v1h-1zM43 70h1v1h-1zM52 70h1v1h-1zM56 70h1v1h-1zM62 70h1v1h-1zM64 70h1v1h-1zM77 70h1v1h-1zM20 71h1v1h-1zM42 71h3v1h-3zM56 71h2v1h-2zM61 71h1v1h-1zM67 71h1v1h-1zM72 71h2v1h-2zM76 71h1v1h-1zM41 72h1v1h-1zM47 72h1v1h-1zM50 72h1v1h-1zM63 72h1v1h-1zM74 72h1v1h-1zM9 73h1v1h-1zM42 73h1v1h-1zM46 73h1v1h-1zM50 73h1v1h-1zM53 73h1v1h-1zM57 73h1v1h-1zM71 73h1v1h-1zM74 73h1v1h-1zM60 74h1v1h-1zM63 74h1v1h-1zM71 74h1v1h-1zM20 75h1v1h-1zM40 75h3v1h-3zM45 75h1v1h-1zM59 75h1v1h-1zM68 75h1v1h-1zM71 75h1v1h-1zM41 76h1v1h-1zM43 76h1v1h-1zM49 76h2v1h-2zM53 76h1v1h-1zM65 76h2v1h-2zM68 76h1v1h-1zM74 76h1v1h-1zM42 77h1v1h-1zM45 77h1v1h-1zM48 77h2v1h-2zM52 77h1v1h-1zM57 77h1v1h-1zM60 77h1v1h-1zM63 77h2v1h-2zM66 77h2v1h-2zM73 77h2v1h-2zM76 77h1v1h-1zM9 78h1v1h-1zM44 78h1v1h-1zM63 78h1v1h-1zM65 78h1v1h-1zM70 78h2v1h-2zM20 79h1v1h-1zM29 79h1v1h-1zM43 79h1v1h-1zM45 79h1v1h-1zM52 79h1v1h-1zM55 79h1v1h-1zM59 79h1v1h-1zM64 79h1v1h-1zM72 79h2v1h-2zM76 79h1v1h-1zM50 80h1v1h-1zM56 80h1v1h-1zM61 80h1v1h-1zM63 80h1v1h-1zM71 80h1v1h-1zM74 80h1v1h-1zM41 81h1v1h-1zM45 81h1v1h-1zM47 81h1v1h-1zM53 81h1v1h-1zM56 81h1v1h-1zM58 81h1v1h-1zM65 81h1v1h-1zM71 81h1v1h-1zM9 82h1v1h-1zM29 82h1v1h-1zM40 82h1v1h-1zM49 82h1v1h-1zM51 82h1v1h-1zM54 82h1v1h-1zM59 82h1v1h-1zM62 82h2v1h-2zM67 82h1v1h-1zM72 82h1v1h-1zM74 82h1v1h-1zM9 83h1v1h-1zM20 83h1v1h-1zM41 83h1v1h-1zM43 83h1v1h-1zM45 83h1v1h-1zM62 83h2v1h-2zM69 83h1v1h-1zM42 84h1v1h-1zM46 84h2v1h-2zM52 84h2v1h-2zM60 84h1v1h-1zM63 84h3v1h-3zM67 84h1v1h-1zM69 84h1v1h-1zM73 84h1v1h-1zM76 84h1v1h-1zM20 85h1v1h-1zM47 85h1v1h-1zM50 85h2v1h-2zM65 85h1v1h-1zM71 85h1v1h-1zM73 85h1v1h-1zM9 86h1v1h-1zM40 86h1v1h-1zM42 86h1v1h-1zM45 86h1v1h-1zM50 86h1v1h-1zM66 86h1v1h-1zM40 87h1v1h-1zM47 87h1v1h-1zM52 87h1v1h-1zM54 87h1v1h-1zM59 87h1v1h-1zM70 87h1v1h-1zM77 87h1v1h-1zM42 88h1v1h-1zM54 88h1v1h-1zM58 88h1v1h-1zM62 88h1v1h-1zM9 89h1v1h-1zM43 89h1v1h-1zM56 89h1v1h-1zM64 89h1v1h-1zM74 89h1v1h-1zM9 90h1v1h-1zM20 90h1v1h-1zM40 90h1v1h-1zM48 90h3v1h-3zM54 90h1v1h-1zM57 90h1v1h-1zM61 90h1v1h-1zM67 90h1v1h-1zM69 90h1v1h-1zM74 90h1v1h-1zM46 91h1v1h-1zM76 91h1v1h-1zM39 92h2v1h-2zM42 92h1v1h-1zM60 92h1v1h-1zM63 92h2v1h-2zM72 92h1v1h-1zM74 92h2v1h-2zM9 93h1v1h-1zM43 93h1v1h-1zM45 93h1v1h-1zM50 93h1v1h-1zM54 93h1v1h-1zM56 93h2v1h-2zM64 93h1v1h-1zM69 93h1v1h-1zM73 93h2v1h-2zM76 93h1v1h-1zM9 94h1v1h-1zM40 94h1v1h-1zM53 94h1v1h-1zM62 94h1v1h-1zM65 94h1v1h-1zM70 94h1v1h-1zM74 94h3v1h-3zM20 95h1v1h-1zM41 95h1v1h-1zM56 95h1v1h-1zM58 95h1v1h-1zM66 95h1v1h-1zM21 96h1v1h-1zM56 96h1v1h-1zM72 96h1v1h-1zM40 97h1v1h-1zM42 97h3v1h-3zM47 97h1v1h-1zM58 97h2v1h-2zM61 97h1v1h-1zM63 97h1v1h-1zM67 97h1v1h-1zM9 98h1v1h-1zM43 98h1v1h-1zM66 98h1v1h-1zM69 98h1v1h-1zM41 99h1v1h-1zM46 99h1v1h-1zM64 99h1v1h-1zM67 99h1v1h-1zM73 99h1v1h-1zM76 99h1v1h-1z"/>
<path fill="#ffaaaa" d="M18 1h1v1h-1zM20 1h1v1h-1zM14 2h1v1h-1zM51 3h1v1h-1zM8 4h1v1h-1zM14 4h1v1h-1zM16 4h1v1h-1zM22 4h1v1h-1zM25 4h1v1h-1zM34 4h1v1h-1zM36 4h1v1h-1zM8 5h1v1h-1zM20 5h1v1h-1zM77 5h1v1h-1zM3 6h1v1h-1zM34 6h1v1h-1zM37 6h1v1h-1zM17 7h1v1h-1zM25 7h1v1h-1zM33 7h2v1h-2zM37 7h1v1h-1zM77 7h1v1h-1zM72 8h1v1h-1zM18 9h1v1h-1zM32 9h1v1h-1zM34 9h1v1h-1zM36 9h1v1h-1zM8 10h1v1h-1zM17 11h1v1h-1zM20 11h1v1h-1zM25 11h1v1h-1zM19 12h1v1h-1zM25 12h1v1h-1zM5 14h2v1h-2zM17 14h2v1h-2zM24 14h1v1h-1zM33 14h1v1h-1zM3 15h1v1h-1zM14 15h1v1h-1zM2 16h1v1h-1zM14 16h1v1h-1zM22 17h1v1h-1zM25 17h2v1h-2zM14 18h1v1h-1zM22 18h1v1h-1zM24 18h1v1h-1zM37 18h1v1h-1zM2 19h1v1h-1zM5 19h1v1h-1zM16 19h1v1h-1zM35 20h1v1h-1zM5 21h1v1h-1zM20 21h1v1h-1zM32 21h1v1h-1zM32 22h1v1h-1zM37 22h1v1h-1zM11 23h1v1h-1zM19 23h1v1h-1zM24 23h1v1h-1zM34 23h1v1h-1zM2 24h1v1h-1zM4 24h1v1h-1zM25 24h1v1h-1zM34 24h1v1h-1zM18 25h1v1h-1zM24 25h2v1h-2zM53 27h2v1h-2zM57 27h1v1h-1zM59 27h1v1h-1zM69 27h1v1h-1zM58 28h1v1h-1zM44 29h1v1h-1zM57 29h1v1h-1zM66 29h1v1h-1zM77 29h1v1h-1zM29 30h1v1h-1zM49 30h1v1h-1zM54 30h1v1h-1zM59 30h1v1h-1zM64 30h1v1h-1zM74 30h1v1h-1zM42 31h1v1h-1zM49 31h1v1h-1zM53 31h1v1h-1zM59 31h1v1h-1zM43 32h1v1h-1zM46 32h1v1h-1zM65 32h1v1h-1zM46 33h1v1h-1zM54 33h1v1h-1zM73 33h1v1h-1zM41 35h1v1h-1zM72 35h1v1h-1zM74 35h1v1h-1zM46 36h1v1h-1zM63 36h1v1h-1zM72 36h1v1h-1zM15 37h1v1h-1zM29 37h1v1h-1zM50 37h1v1h-1zM57 37h1v1h-1zM61 37h1v1h-1zM51 38h1v1h-1zM60 38h2v1h-2zM41 39h2v1h-2zM56 39h1v1h-1zM61 39h1v1h-1zM65 39h1v1h-1zM67 39h2v1h-2zM20 40h1v1h-1zM43 40h1v1h-1zM49 40h1v1h-1zM54 40h1v1h-1zM66 40h1v1h-1zM72 40h1v1h-1zM75 40h1v1h-1zM43 41h1v1h-1zM45 41h1v1h-1zM75 41h2v1h-2zM49 42h1v1h-1zM56 42h1v1h-1zM61 42h1v1h-1zM50 44h1v1h-1zM74 44h1v1h-1zM56 45h1v1h-1zM76 45h1v1h-1zM46 46h1v1h-1zM50 46h1v1h-1zM62 46h1v1h-1zM64 46h1v1h-1zM66 46h1v1h-1zM72 46h1v1h-1zM71 47h1v1h-1zM76 47h1v1h-1zM67 48h1v1h-1zM42 49h1v1h-1zM59 49h1v1h-1zM67 49h3v1h-3zM53 50h1v1h-1zM77 50h1v1h-1zM49 51h1v1h-1zM66 51h1v1h-1zM41 52h1v1h-1zM57 52h1v1h-1zM56 53h2v1h-2zM65 53h1v1h-1zM67 53h1v1h-1zM65 54h1v1h-1zM50 55h1v1h-1zM60 55h1v1h-1zM41 56h1v1h-1zM43 56h1v1h-1zM45 56h1v1h-1zM74 56h1v1h-1zM56 57h1v1h-1zM68 57h1v1h-1zM9 58h1v1h-1zM42 58h1v1h-1zM49 58h1v1h-1zM59 58h1v1h-1zM71 58h1v1h-1zM77 59h1v1h-1zM49 60h1v1h-1zM51 60h1v1h-1zM53 60h1v1h-1zM58 60h1v1h-1zM67 60h1v1h-1zM71 60h1v1h-1zM43 61h1v1h-1zM50 61h1v1h-1zM56 61h1v1h-1zM65 61h1v1h-1zM77 61h1v1h-1zM59 62h1v1h-1zM64 62h1v1h-1zM69 62h1v1h-1zM76 62h1v1h-1zM56 63h1v1h-1zM59 63h2v1h-2zM64 63h1v1h-1zM66 63h1v1h-1zM71 63h2v1h-2zM74 63h1v1h-1zM15 64h1v1h-1zM41 64h1v1h-1zM44 64h1v1h-1zM20 65h1v1h-1zM43 65h3v1h-3zM57 65h1v1h-1zM68 65h2v1h-2zM73 65h1v1h-1zM75 65h1v1h-1zM43 66h4v1h-4zM60 66h1v1h-1zM66 66h1v1h-1zM73 66h1v1h-1zM20 67h1v1h-1zM46 67h1v1h-1zM53 67h1v1h-1zM63 67h3v1h-3zM67 67h1v1h-1zM9 68h1v1h-1zM20 68h1v1h-1zM50 68h1v1h-1zM56 68h1v1h-1zM63 68h1v1h-1zM68 68h1v1h-1zM75 68h1v1h-1zM77 68h1v1h-1zM42 69h1v1h-1zM57 69h1v1h-1zM62 69h1v1h-1zM68 69h2v1h-2zM75 69h1v1h-1zM9 70h1v1h-1zM45 70h1v1h-1zM53 70h1v1h-1zM63 70h1v1h-1zM66 70h1v1h-1zM73 70h1v1h-1zM75 70h1v1h-1zM39 71h1v1h-1zM50 71h1v1h-1zM63 71h1v1h-1zM65 71h1v1h-1zM42 72h1v1h-1zM45 72h1v1h-1zM51 72h1v1h-1zM57 72h1v1h-1zM67 72h1v1h-1zM69 72h1v1h-1zM49 73h1v1h-1zM68 73h1v1h-1zM76 73h1v1h-1zM9 75h1v1h-1zM54 75h1v1h-1zM57 75h1v1h-1zM65 75h2v1h-2zM74 75h1v1h-1zM20 76h1v1h-1zM45 76h2v1h-2zM60 76h1v1h-1zM64 76h1v1h-1zM76 76h1v1h-1zM65 77h1v1h-1zM68 77h1v1h-1zM75 77h1v1h-1zM29 78h1v1h-1zM40 78h1v1h-1zM49 78h1v1h-1zM51 78h1v1h-1zM66 78h1v1h-1zM68 78h1v1h-1zM44 79h1v1h-1zM56 79h2v1h-2zM62 79h1v1h-1zM68 79h1v1h-1zM9 80h1v1h-1zM44 80h1v1h-1zM67 80h1v1h-1zM75 80h1v1h-1zM9 81h1v1h-1zM42 81h2v1h-2zM59 81h1v1h-1zM62 81h3v1h-3zM72 81h2v1h-2zM77 81h1v1h-1zM41 82h1v1h-1zM53 82h1v1h-1zM55 82h1v1h-1zM60 82h1v1h-1zM65 82h1v1h-1zM69 82h1v1h-1zM73 82h1v1h-1zM46 83h1v1h-1zM50 83h1v1h-1zM71 83h1v1h-1zM43 84h1v1h-1zM66 84h1v1h-1zM71 84h1v1h-1zM74 84h1v1h-1zM21 85h1v1h-1zM43 85h1v1h-1zM60 85h1v1h-1zM63 85h1v1h-1zM67 85h2v1h-2zM76 85h2v1h-2zM63 86h1v1h-1zM29 87h1v1h-1zM39 87h1v1h-1zM50 87h1v1h-1zM68 87h1v1h-1zM40 88h1v1h-1zM45 88h2v1h-2zM55 88h1v1h-1zM59 88h1v1h-1zM69 88h1v1h-1zM72 88h1v1h-1zM45 89h2v1h-2zM55 89h1v1h-1zM67 89h1v1h-1zM69 89h1v1h-1zM75 89h1v1h-1zM15 90h1v1h-1zM45 90h1v1h-1zM64 90h1v1h-1zM68 90h1v1h-1zM42 91h1v1h-1zM44 91h1v1h-1zM55 91h1v1h-1zM75 91h1v1h-1zM44 92h1v1h-1zM69 92h1v1h-1zM44 93h1v1h-1zM72 93h1v1h-1zM41 94h1v1h-1zM44 94h3v1h-3zM50 94h1v1h-1zM58 94h1v1h-1zM39 95h1v1h-1zM46 95h1v1h-1zM59 95h1v1h-1zM63 95h1v1h-1zM67 95h1v1h-1zM69 95h1v1h-1zM71 95h1v1h-1zM73 95h1v1h-1zM76 95h1v1h-1zM45 96h1v1h-1zM59 96h1v1h-1zM73 96h1v1h-1zM46 97h1v1h-1zM52 97h1v1h-1zM55 97h1v1h-1zM65 97h1v1h-1zM53 98h1v1h-1zM63 98h2v1h-2zM68 98h1v1h-1zM72 98h1v1h-1zM76 98h2v1h-2zM50 99h1v1h-1zM59 99h1v1h-1zM71 99h1v1h-1z"/>
<path fill="#ff9f9f" d="M5 0h1v1h-1zM18 0h1v1h-1zM23 0h1v1h-1zM25 0h1v1h-1zM32 0h1v1h-1zM34 0h1v1h-1zM14 1h1v1h-1zM16 1h2v1h-2zM19 1h1v1h-1zM22 1h1v1h-1zM24 1h1v1h-1zM32 1h1v1h-1zM34 1h1v1h-1zM36 1h1v1h-1zM69 1h1v1h-1zM3 2h1v1h-1zM6 2h1v1h-1zM8 2h1v1h-1zM16 2h2v1h-2zM20 2h1v1h-1zM22 2h1v1h-1zM26 2h1v1h-1zM32 2h1v1h-1zM34 2h1v1h-1zM36 2h1v1h-1zM77 2h1v1h-1zM19 3h1v1h-1zM2 4h2v1h-2zM5 4h2v1h-2zM19 4h1v1h-1zM23 4h1v1h-1zM27 4h1v1h-1zM32 4h1v1h-1zM37 4h1v1h-1zM4 6h2v1h-2zM17 6h1v1h-1zM24 6h3v1h-3zM36 6h1v1h-1zM69 6h1v1h-1zM2 7h2v1h-2zM5 7h1v1h-1zM8 7h1v1h-1zM19 7h1v1h-1zM27 7h1v1h-1zM36 7h1v1h-1zM34 8h1v1h-1zM17 9h1v1h-1zM4 10h2v1h-2zM17 10h1v1h-1zM24 10h1v1h-1zM2 11h2v1h-2zM35 11h1v1h-1zM2 12h1v1h-1zM4 12h1v1h-1zM6 12h1v1h-1zM32 12h1v1h-1zM8 14h1v1h-1zM19 15h1v1h-1zM5 16h1v1h-1zM17 16h1v1h-1zM27 16h1v1h-1zM36 16h1v1h-1zM4 17h2v1h-2zM18 17h1v1h-1zM27 18h1v1h-1zM36 18h1v1h-1zM6 19h1v1h-1zM14 19h1v1h-1zM32 19h1v1h-1zM36 19h1v1h-1zM4 20h1v1h-1zM25 20h2v1h-2zM34 20h1v1h-1zM36 20h1v1h-1zM3 21h1v1h-1zM17 21h2v1h-2zM26 21h1v1h-1zM34 21h1v1h-1zM37 21h1v1h-1zM6 22h1v1h-1zM8 22h1v1h-1zM24 22h1v1h-1zM36 22h1v1h-1zM50 22h1v1h-1zM5 23h1v1h-1zM14 23h1v1h-1zM16 23h2v1h-2zM26 23h1v1h-1zM32 23h2v1h-2zM35 23h1v1h-1zM3 24h1v1h-1zM14 24h1v1h-1zM17 24h3v1h-3zM32 24h1v1h-1zM3 25h2v1h-2zM6 25h1v1h-1zM22 25h1v1h-1zM32 25h1v1h-1zM36 25h1v1h-1zM4 26h1v1h-1zM37 26h1v1h-1zM56 27h1v1h-1zM62 27h1v1h-1zM66 27h1v1h-1zM68 27h1v1h-1zM41 28h1v1h-1zM57 28h1v1h-1zM65 28h1v1h-1zM77 28h1v1h-1zM72 30h1v1h-1zM76 30h1v1h-1zM51 31h1v1h-1zM54 31h1v1h-1zM61 31h1v1h-1zM69 31h1v1h-1zM76 31h1v1h-1zM56 32h1v1h-1zM44 33h2v1h-2zM61 33h1v1h-1zM65 33h1v1h-1zM68 33h1v1h-1zM74 33h1v1h-1zM15 34h1v1h-1zM20 34h1v1h-1zM44 34h1v1h-1zM54 34h1v1h-1zM42 35h1v1h-1zM60 35h1v1h-1zM69 35h1v1h-1zM9 36h1v1h-1zM45 36h1v1h-1zM49 36h1v1h-1zM62 36h1v1h-1zM68 36h2v1h-2zM41 37h1v1h-1zM45 37h1v1h-1zM49 37h1v1h-1zM74 37h1v1h-1zM45 38h1v1h-1zM49 39h1v1h-1zM51 39h1v1h-1zM54 39h1v1h-1zM58 40h1v1h-1zM65 40h1v1h-1zM56 41h1v1h-1zM67 41h1v1h-1zM15 42h1v1h-1zM43 42h2v1h-2zM54 42h1v1h-1zM72 42h1v1h-1zM76 42h1v1h-1zM54 43h1v1h-1zM59 43h1v1h-1zM69 43h1v1h-1zM75 43h2v1h-2zM44 44h1v1h-1zM43 45h1v1h-1zM71 45h1v1h-1zM44 46h1v1h-1zM73 46h1v1h-1zM76 46h2v1h-2zM58 47h1v1h-1zM60 47h2v1h-2zM66 47h2v1h-2zM69 47h1v1h-1zM77 47h1v1h-1zM76 48h1v1h-1zM46 49h1v1h-1zM60 49h1v1h-1zM64 49h1v1h-1zM29 50h1v1h-1zM57 50h1v1h-1zM62 50h1v1h-1zM69 50h1v1h-1zM45 51h1v1h-1zM50 51h2v1h-2zM43 52h1v1h-1zM49 52h1v1h-1zM76 52h1v1h-1zM42 53h1v1h-1zM45 53h1v1h-1zM49 53h2v1h-2zM54 53h1v1h-1zM60 53h3v1h-3zM9 54h1v1h-1zM41 54h1v1h-1zM44 54h1v1h-1zM46 54h1v1h-1zM51 54h1v1h-1zM61 54h1v1h-1zM75 54h2v1h-2zM45 55h1v1h-1zM56 55h2v1h-2zM59 55h1v1h-1zM64 55h1v1h-1zM72 55h1v1h-1zM74 55h2v1h-2zM15 56h1v1h-1zM20 56h1v1h-1zM56 56h1v1h-1zM75 56h1v1h-1zM60 57h1v1h-1zM71 57h2v1h-2zM75 57h1v1h-1zM45 58h1v1h-1zM54 58h1v1h-1zM61 58h1v1h-1zM68 58h1v1h-1zM72 58h1v1h-1zM44 59h1v1h-1zM46 59h1v1h-1zM62 59h1v1h-1zM70 59h1v1h-1zM61 60h1v1h-1zM65 60h1v1h-1zM69 60h1v1h-1zM76 60h1v1h-1zM42 61h1v1h-1zM57 61h1v1h-1zM63 61h1v1h-1zM15 62h1v1h-1zM20 62h1v1h-1zM44 62h1v1h-1zM50 62h1v1h-1zM54 62h1v1h-1zM77 62h1v1h-1zM44 63h1v1h-1zM58 63h1v1h-1zM61 63h1v1h-1zM67 63h1v1h-1zM76 63h1v1h-1zM49 64h1v1h-1zM53 64h1v1h-1zM63 64h1v1h-1zM77 64h1v1h-1zM40 65h1v1h-1zM46 65h1v1h-1zM55 65h1v1h-1zM60 65h1v1h-1zM64 65h1v1h-1zM74 65h1v1h-1zM59 66h1v1h-1zM68 66h1v1h-1zM75 66h1v1h-1zM41 67h1v1h-1zM44 67h1v1h-1zM59 67h1v1h-1zM68 67h1v1h-1zM72 67h1v1h-1zM42 68h1v1h-1zM46 68h1v1h-1zM50 69h1v1h-1zM41 70h1v1h-1zM44 70h1v1h-1zM60 70h1v1h-1zM65 70h1v1h-1zM71 70h1v1h-1zM66 71h1v1h-1zM71 71h1v1h-1zM75 71h1v1h-1zM49 72h1v1h-1zM56 72h1v1h-1zM65 72h1v1h-1zM73 72h1v1h-1zM55 73h2v1h-2zM62 73h1v1h-1zM66 73h1v1h-1zM59 74h1v1h-1zM44 75h1v1h-1zM46 75h1v1h-1zM56 75h1v1h-1zM62 75h1v1h-1zM67 75h1v1h-1zM72 75h1v1h-1zM76 75h1v1h-1zM48 76h1v1h-1zM69 76h1v1h-1zM71 76h1v1h-1zM73 76h1v1h-1zM20 77h1v1h-1zM44 77h1v1h-1zM53 77h1v1h-1zM20 78h1v1h-1zM42 78h2v1h-2zM53 78h1v1h-1zM60 78h1v1h-1zM64 78h1v1h-1zM74 78h3v1h-3zM41 79h1v1h-1zM69 79h1v1h-1zM71 79h1v1h-1zM74 79h1v1h-1zM22 80h1v1h-1zM46 80h1v1h-1zM21 81h1v1h-1zM60 81h1v1h-1zM67 81h1v1h-1zM20 82h1v1h-1zM43 82h1v1h-1zM45 82h1v1h-1zM71 82h1v1h-1zM75 82h1v1h-1zM66 83h1v1h-1zM68 83h1v1h-1zM74 83h2v1h-2zM9 84h1v1h-1zM20 84h1v1h-1zM45 84h1v1h-1zM72 84h1v1h-1zM42 85h1v1h-1zM56 85h1v1h-1zM62 85h1v1h-1zM64 85h1v1h-1zM66 85h1v1h-1zM74 85h1v1h-1zM20 86h1v1h-1zM44 86h1v1h-1zM53 86h1v1h-1zM65 86h1v1h-1zM67 86h2v1h-2zM74 86h2v1h-2zM9 87h1v1h-1zM20 87h1v1h-1zM53 87h1v1h-1zM55 87h1v1h-1zM57 87h1v1h-1zM67 87h1v1h-1zM69 87h1v1h-1zM71 87h1v1h-1zM76 87h1v1h-1zM49 88h1v1h-1zM75 88h1v1h-1zM60 90h1v1h-1zM72 90h2v1h-2zM76 90h1v1h-1zM67 91h1v1h-1zM20 92h1v1h-1zM43 92h1v1h-1zM49 92h1v1h-1zM65 92h1v1h-1zM46 93h1v1h-1zM53 93h1v1h-1zM62 93h2v1h-2zM66 93h1v1h-1zM20 94h1v1h-1zM43 94h1v1h-1zM68 94h2v1h-2zM71 94h2v1h-2zM9 95h1v1h-1zM53 95h1v1h-1zM60 95h1v1h-1zM72 95h1v1h-1zM74 95h1v1h-1zM20 96h1v1h-1zM45 97h1v1h-1zM49 97h2v1h-2zM56 97h1v1h-1zM62 97h1v1h-1zM64 97h1v1h-1zM66 97h1v1h-1zM71 97h1v1h-1zM74 97h1v1h-1zM20 98h1v1h-1zM41 98h1v1h-1zM56 98h1v1h-1zM60 98h1v1h-1zM62 98h1v1h-1zM40 99h1v1h-1zM44 99h2v1h-2zM68 99h2v1h-2zM72 99h1v1h-1zM74 99h1v1h-1z"/>
<path fill="#ff9595" d="M16 0h1v1h-1zM24 0h1v1h-1zM26 0h1v1h-1zM33 0h1v1h-1zM69 0h1v1h-1zM2 1h5v1h-5zM8 1h1v1h-1zM23 1h1v1h-1zM26 1h1v1h-1zM33 1h1v1h-1zM37 1h1v1h-1zM2 2h1v1h-1zM4 2h2v1h-2zM19 2h1v1h-1zM24 2h1v1h-1zM33 2h1v1h-1zM35 2h1v1h-1zM37 2h1v1h-1zM69 2h1v1h-1zM4 3h1v1h-1zM20 3h1v1h-1zM24 3h1v1h-1zM33 3h2v1h-2zM36 3h2v1h-2zM17 4h1v1h-1zM24 4h1v1h-1zM26 4h1v1h-1zM2 6h1v1h-1zM6 6h1v1h-1zM8 6h1v1h-1zM14 6h1v1h-1zM16 6h1v1h-1zM18 6h1v1h-1zM20 6h1v1h-1zM22 6h2v1h-2zM33 6h1v1h-1zM35 6h1v1h-1zM4 7h1v1h-1zM20 7h1v1h-1zM22 7h1v1h-1zM69 7h1v1h-1zM6 8h1v1h-1zM14 8h1v1h-1zM26 8h2v1h-2zM32 8h2v1h-2zM6 9h1v1h-1zM8 9h1v1h-1zM14 9h1v1h-1zM16 9h1v1h-1zM19 9h2v1h-2zM22 9h3v1h-3zM35 9h1v1h-1zM77 9h1v1h-1zM3 10h1v1h-1zM18 10h1v1h-1zM23 10h1v1h-1zM26 10h1v1h-1zM69 10h1v1h-1zM77 10h1v1h-1zM5 11h2v1h-2zM14 11h1v1h-1zM16 11h1v1h-1zM19 11h1v1h-1zM22 11h1v1h-1zM26 11h1v1h-1zM33 11h1v1h-1zM36 11h1v1h-1zM69 11h1v1h-1zM77 11h1v1h-1zM8 12h1v1h-1zM18 12h1v1h-1zM20 12h1v1h-1zM22 12h2v1h-2zM27 12h1v1h-1zM35 12h1v1h-1zM77 12h1v1h-1zM25 13h1v1h-1zM33 13h1v1h-1zM36 13h1v1h-1zM69 13h1v1h-1zM22 14h1v1h-1zM26 14h1v1h-1zM2 15h1v1h-1zM8 16h1v1h-1zM16 16h1v1h-1zM19 16h1v1h-1zM32 16h2v1h-2zM2 17h1v1h-1zM6 17h1v1h-1zM17 17h1v1h-1zM19 17h1v1h-1zM24 17h1v1h-1zM27 17h1v1h-1zM32 17h2v1h-2zM36 17h2v1h-2zM2 18h4v1h-4zM8 18h1v1h-1zM3 19h1v1h-1zM33 19h1v1h-1zM37 19h1v1h-1zM3 20h1v1h-1zM16 20h2v1h-2zM19 20h1v1h-1zM22 20h1v1h-1zM24 20h1v1h-1zM32 20h1v1h-1zM37 20h1v1h-1zM6 21h1v1h-1zM24 21h2v1h-2zM36 21h1v1h-1zM3 22h1v1h-1zM19 22h1v1h-1zM33 22h2v1h-2zM4 23h1v1h-1zM6 23h1v1h-1zM18 23h1v1h-1zM36 23h1v1h-1zM5 24h1v1h-1zM8 25h1v1h-1zM27 25h1v1h-1zM3 26h1v1h-1zM5 26h1v1h-1zM17 26h1v1h-1zM22 26h1v1h-1zM32 26h1v1h-1zM49 27h1v1h-1zM64 27h1v1h-1zM71 27h1v1h-1zM9 28h1v1h-1zM29 28h1v1h-1zM56 28h1v1h-1zM60 28h1v1h-1zM76 28h1v1h-1zM43 29h1v1h-1zM45 29h1v1h-1zM60 29h1v1h-1zM64 29h1v1h-1zM72 29h1v1h-1zM42 30h1v1h-1zM67 30h1v1h-1zM71 30h1v1h-1zM44 31h1v1h-1zM56 31h1v1h-1zM73 31h1v1h-1zM75 31h1v1h-1zM50 32h1v1h-1zM59 33h1v1h-1zM75 33h1v1h-1zM67 34h1v1h-1zM77 34h1v1h-1zM76 35h1v1h-1zM60 36h2v1h-2zM64 36h1v1h-1zM66 36h1v1h-1zM43 37h1v1h-1zM68 37h1v1h-1zM73 37h1v1h-1zM56 38h1v1h-1zM59 38h1v1h-1zM75 38h1v1h-1zM43 39h1v1h-1zM59 39h2v1h-2zM63 39h2v1h-2zM76 39h1v1h-1zM76 40h1v1h-1zM29 41h1v1h-1zM58 42h1v1h-1zM42 43h1v1h-1zM46 43h1v1h-1zM65 43h1v1h-1zM68 43h1v1h-1zM61 44h1v1h-1zM67 44h1v1h-1zM60 45h1v1h-1zM62 45h1v1h-1zM68 45h1v1h-1zM56 46h1v1h-1zM67 46h1v1h-1zM63 47h1v1h-1zM42 48h2v1h-2zM56 48h1v1h-1zM69 48h1v1h-1zM9 49h1v1h-1zM44 49h1v1h-1zM54 49h1v1h-1zM56 49h1v1h-1zM71 49h1v1h-1zM73 49h1v1h-1zM42 50h1v1h-1zM50 50h1v1h-1zM54 50h1v1h-1zM64 50h2v1h-2zM46 51h1v1h-1zM54 51h1v1h-1zM63 51h1v1h-1zM72 51h1v1h-1zM75 51h1v1h-1zM44 52h1v1h-1zM67 52h1v1h-1zM69 52h1v1h-1zM63 53h2v1h-2zM68 53h1v1h-1zM50 54h1v1h-1zM56 54h1v1h-1zM66 54h1v1h-1zM69 54h1v1h-1zM73 54h2v1h-2zM41 55h1v1h-1zM44 55h1v1h-1zM49 55h1v1h-1zM61 56h2v1h-2zM61 57h2v1h-2zM66 57h1v1h-1zM73 57h1v1h-1zM41 58h1v1h-1zM43 58h1v1h-1zM65 58h1v1h-1zM74 58h1v1h-1zM76 58h1v1h-1zM60 59h1v1h-1zM67 59h1v1h-1zM57 60h1v1h-1zM62 60h1v1h-1zM64 60h1v1h-1zM44 61h1v1h-1zM68 61h1v1h-1zM60 62h1v1h-1zM66 62h2v1h-2zM62 63h1v1h-1zM77 63h1v1h-1zM29 64h1v1h-1zM42 64h1v1h-1zM59 64h2v1h-2zM62 64h1v1h-1zM75 64h1v1h-1zM42 65h1v1h-1zM53 65h1v1h-1zM59 65h1v1h-1zM66 65h2v1h-2zM9 66h1v1h-1zM40 66h1v1h-1zM63 66h1v1h-1zM62 67h1v1h-1zM75 67h1v1h-1zM44 68h1v1h-1zM55 68h1v1h-1zM59 68h1v1h-1zM62 68h1v1h-1zM65 68h1v1h-1zM69 68h1v1h-1zM50 70h1v1h-1zM55 70h1v1h-1zM74 70h1v1h-1zM71 72h1v1h-1zM43 75h1v1h-1zM53 75h1v1h-1zM63 75h1v1h-1zM57 76h1v1h-1zM56 77h1v1h-1zM62 77h1v1h-1zM71 77h1v1h-1zM41 78h1v1h-1zM55 78h1v1h-1zM59 78h1v1h-1zM62 78h1v1h-1zM72 78h1v1h-1zM9 79h1v1h-1zM42 79h1v1h-1zM50 79h1v1h-1zM63 79h1v1h-1zM75 79h1v1h-1zM72 80h1v1h-1zM44 81h1v1h-1zM49 81h2v1h-2zM57 81h1v1h-1zM69 81h1v1h-1zM74 81h1v1h-1zM76 81h1v1h-1zM56 82h2v1h-2zM68 82h1v1h-1zM49 84h1v1h-1zM75 84h1v1h-1zM9 85h1v1h-1zM41 85h1v1h-1zM44 85h2v1h-2zM48 85h2v1h-2zM53 85h1v1h-1zM59 85h1v1h-1zM72 85h1v1h-1zM56 86h1v1h-1zM64 86h1v1h-1zM44 87h1v1h-1zM49 87h1v1h-1zM56 87h1v1h-1zM60 87h1v1h-1zM62 87h2v1h-2zM66 87h1v1h-1zM72 87h1v1h-1zM41 90h1v1h-1zM75 90h1v1h-1zM75 93h1v1h-1zM67 94h1v1h-1zM42 95h1v1h-1zM44 95h1v1h-1zM50 95h1v1h-1zM55 95h1v1h-1zM57 95h1v1h-1zM65 95h1v1h-1zM68 95h1v1h-1zM75 95h1v1h-1zM76 96h1v1h-1zM20 97h1v1h-1zM57 97h1v1h-1zM69 97h1v1h-1zM72 97h1v1h-1zM76 97h1v1h-1zM65 98h1v1h-1zM42 99h1v1h-1zM51 99h1v1h-1zM75 99h1v1h-1z"/>
<path fill="#ff8a8a" d="M2 0h1v1h-1zM6 0h1v1h-1zM17 0h1v1h-1zM20 0h1v1h-1zM22 0h1v1h-1zM35 0h1v1h-1zM37 0h1v1h-1zM77 0h1v1h-1zM25 1h1v1h-1zM35 1h1v1h-1zM77 1h1v1h-1zM23 2h1v1h-1zM25 2h1v1h-1zM3 3h1v1h-1zM5 3h2v1h-2zM22 3h1v1h-1zM26 3h1v1h-1zM77 3h1v1h-1zM4 4h1v1h-1zM19 6h1v1h-1zM77 6h1v1h-1zM4 8h1v1h-1zM16 8h2v1h-2zM20 8h1v1h-1zM22 8h2v1h-2zM25 8h1v1h-1zM36 8h1v1h-1zM69 8h1v1h-1zM77 8h1v1h-1zM2 9h3v1h-3zM26 9h1v1h-1zM33 9h1v1h-1zM37 9h1v1h-1zM2 10h1v1h-1zM6 10h1v1h-1zM16 10h1v1h-1zM19 10h1v1h-1zM22 10h1v1h-1zM25 10h1v1h-1zM27 10h1v1h-1zM33 10h1v1h-1zM35 10h3v1h-3zM4 11h1v1h-1zM8 11h1v1h-1zM18 11h1v1h-1zM23 11h2v1h-2zM27 11h1v1h-1zM37 11h1v1h-1zM5 12h1v1h-1zM16 12h1v1h-1zM24 12h1v1h-1zM26 12h1v1h-1zM33 12h1v1h-1zM69 12h1v1h-1zM18 13h1v1h-1zM26 13h1v1h-1zM32 13h1v1h-1zM34 13h2v1h-2zM25 14h1v1h-1zM6 15h1v1h-1zM3 16h1v1h-1zM18 16h1v1h-1zM24 16h1v1h-1zM37 16h1v1h-1zM3 17h1v1h-1zM14 17h1v1h-1zM16 18h2v1h-2zM25 18h1v1h-1zM34 18h1v1h-1zM24 19h1v1h-1zM34 19h1v1h-1zM6 20h1v1h-1zM18 20h1v1h-1zM2 21h1v1h-1zM4 21h1v1h-1zM14 21h1v1h-1zM16 21h1v1h-1zM19 21h1v1h-1zM22 21h1v1h-1zM22 22h1v1h-1zM26 22h1v1h-1zM22 23h1v1h-1zM27 23h1v1h-1zM36 24h2v1h-2zM14 25h1v1h-1zM19 25h1v1h-1zM34 25h1v1h-1zM2 26h1v1h-1zM8 26h1v1h-1zM24 26h1v1h-1zM27 26h1v1h-1zM36 26h1v1h-1zM44 27h2v1h-2zM50 27h1v1h-1zM61 27h1v1h-1zM63 27h1v1h-1zM72 27h1v1h-1zM43 28h1v1h-1zM49 28h2v1h-2zM54 28h1v1h-1zM61 28h1v1h-1zM64 28h1v1h-1zM67 28h1v1h-1zM72 28h1v1h-1zM74 29h1v1h-1zM15 30h1v1h-1zM45 30h1v1h-1zM63 30h1v1h-1zM65 30h1v1h-1zM41 31h1v1h-1zM64 31h2v1h-2zM71 31h1v1h-1zM74 31h1v1h-1zM54 32h1v1h-1zM60 32h1v1h-1zM42 33h1v1h-1zM63 33h2v1h-2zM66 33h2v1h-2zM69 33h1v1h-1zM29 34h1v1h-1zM63 34h2v1h-2zM68 34h1v1h-1zM73 34h1v1h-1zM65 35h1v1h-1zM44 36h1v1h-1zM50 36h1v1h-1zM54 36h1v1h-1zM56 36h1v1h-1zM71 36h1v1h-1zM42 37h1v1h-1zM60 37h1v1h-1zM66 37h1v1h-1zM57 38h1v1h-1zM64 38h1v1h-1zM74 38h1v1h-1zM76 38h1v1h-1zM44 39h1v1h-1zM57 39h1v1h-1zM45 40h1v1h-1zM56 40h1v1h-1zM60 40h1v1h-1zM77 42h1v1h-1zM41 43h1v1h-1zM43 43h2v1h-2zM45 44h1v1h-1zM62 44h1v1h-1zM72 44h1v1h-1zM42 45h1v1h-1zM46 45h1v1h-1zM66 45h2v1h-2zM68 47h1v1h-1zM77 48h1v1h-1zM45 49h1v1h-1zM63 49h1v1h-1zM63 50h1v1h-1zM72 50h1v1h-1zM44 51h1v1h-1zM56 51h1v1h-1zM64 51h1v1h-1zM68 51h1v1h-1zM64 52h1v1h-1zM66 52h1v1h-1zM68 52h1v1h-1zM77 52h1v1h-1zM69 53h1v1h-1zM45 54h1v1h-1zM60 54h1v1h-1zM62 54h1v1h-1zM67 54h1v1h-1zM71 54h1v1h-1zM63 55h1v1h-1zM68 55h1v1h-1zM77 55h1v1h-1zM49 56h1v1h-1zM60 56h1v1h-1zM69 56h1v1h-1zM71 56h2v1h-2zM49 57h1v1h-1zM63 57h1v1h-1zM67 57h1v1h-1zM20 58h1v1h-1zM57 58h1v1h-1zM66 58h1v1h-1zM43 59h1v1h-1zM57 59h1v1h-1zM74 59h1v1h-1zM42 60h1v1h-1zM54 60h1v1h-1zM67 61h1v1h-1zM63 63h1v1h-1zM65 63h1v1h-1zM67 64h1v1h-1zM65 65h1v1h-1zM56 66h1v1h-1zM57 67h1v1h-1zM57 68h1v1h-1zM66 68h2v1h-2zM74 68h1v1h-1zM64 71h1v1h-1zM43 72h1v1h-1zM75 75h1v1h-1zM40 77h1v1h-1zM40 81h1v1h-1zM46 81h1v1h-1zM66 81h1v1h-1zM44 84h1v1h-1zM55 84h1v1h-1zM40 85h1v1h-1zM55 85h1v1h-1zM75 85h1v1h-1zM43 87h1v1h-1zM65 87h1v1h-1zM73 87h1v1h-1zM21 90h1v1h-1zM56 90h1v1h-1zM57 94h1v1h-1zM43 95h1v1h-1zM45 95h1v1h-1zM49 95h1v1h-1zM62 95h1v1h-1zM64 95h1v1h-1zM9 97h1v1h-1zM53 97h1v1h-1zM60 97h1v1h-1zM49 98h1v1h-1zM55 98h1v1h-1zM67 98h1v1h-1zM53 99h1v1h-1z"/>
<path fill="#ff8080" d="M4 0h1v1h-1zM8 0h1v1h-1zM19 0h1v1h-1zM36 0h1v1h-1zM27 1h1v1h-1zM18 2h1v1h-1zM8 3h1v1h-1zM14 3h1v1h-1zM16 3h1v1h-1zM18 3h1v1h-1zM25 3h1v1h-1zM32 3h1v1h-1zM35 3h1v1h-1zM69 3h1v1h-1zM27 6h1v1h-1zM2 8h2v1h-2zM5 8h1v1h-1zM8 8h1v1h-1zM18 8h1v1h-1zM5 9h1v1h-1zM27 9h1v1h-1zM14 10h1v1h-1zM32 10h1v1h-1zM62 11h1v1h-1zM3 12h1v1h-1zM17 12h1v1h-1zM34 12h1v1h-1zM36 12h2v1h-2zM2 13h3v1h-3zM6 13h1v1h-1zM8 13h1v1h-1zM14 13h1v1h-1zM24 13h1v1h-1zM27 13h1v1h-1zM18 15h1v1h-1zM24 15h1v1h-1zM26 15h2v1h-2zM32 15h1v1h-1zM4 16h1v1h-1zM22 16h1v1h-1zM8 17h1v1h-1zM6 18h1v1h-1zM18 18h1v1h-1zM26 18h1v1h-1zM4 19h1v1h-1zM25 19h1v1h-1zM5 20h1v1h-1zM8 20h1v1h-1zM14 20h1v1h-1zM8 21h1v1h-1zM27 21h1v1h-1zM33 21h1v1h-1zM2 22h1v1h-1zM4 22h1v1h-1zM18 22h1v1h-1zM25 22h1v1h-1zM2 23h1v1h-1zM37 23h1v1h-1zM37 25h1v1h-1zM6 26h1v1h-1zM14 26h1v1h-1zM16 26h1v1h-1zM18 26h2v1h-2zM25 26h2v1h-2zM45 28h1v1h-1zM59 28h1v1h-1zM62 28h2v1h-2zM46 29h1v1h-1zM60 30h1v1h-1zM57 31h1v1h-1zM63 31h1v1h-1zM66 31h1v1h-1zM68 31h1v1h-1zM77 31h1v1h-1zM49 32h1v1h-1zM56 33h1v1h-1zM76 33h1v1h-1zM43 34h1v1h-1zM65 34h1v1h-1zM72 34h1v1h-1zM15 36h1v1h-1zM63 37h2v1h-2zM43 38h1v1h-1zM65 38h1v1h-1zM65 42h1v1h-1zM68 42h1v1h-1zM63 43h1v1h-1zM72 43h1v1h-1zM63 44h1v1h-1zM66 44h1v1h-1zM69 44h1v1h-1zM76 44h1v1h-1zM57 46h1v1h-1zM41 48h1v1h-1zM61 48h1v1h-1zM66 48h1v1h-1zM66 49h1v1h-1zM76 49h1v1h-1zM56 50h1v1h-1zM42 51h1v1h-1zM69 51h1v1h-1zM65 52h1v1h-1zM73 52h1v1h-1zM63 54h1v1h-1zM68 54h1v1h-1zM10 55h1v1h-1zM69 55h1v1h-1zM29 56h1v1h-1zM42 56h1v1h-1zM42 57h1v1h-1zM45 57h1v1h-1zM65 57h1v1h-1zM56 58h1v1h-1zM63 58h1v1h-1zM51 59h1v1h-1zM73 59h1v1h-1zM75 59h1v1h-1zM66 61h1v1h-1zM43 63h1v1h-1zM50 63h1v1h-1zM69 63h1v1h-1zM43 64h1v1h-1zM69 64h1v1h-1zM72 64h2v1h-2zM71 66h1v1h-1zM73 68h1v1h-1zM76 68h1v1h-1zM75 72h1v1h-1zM75 76h1v1h-1zM46 77h1v1h-1zM40 79h1v1h-1zM55 81h1v1h-1zM57 85h1v1h-1zM69 85h1v1h-1zM45 87h1v1h-1zM64 87h1v1h-1zM75 87h1v1h-1zM68 92h1v1h-1zM75 97h1v1h-1zM71 98h1v1h-1z"/>
<path fill="#ff7575" d="M27 2h1v1h-1zM2 3h1v1h-1zM17 3h1v1h-1zM27 3h1v1h-1zM19 8h1v1h-1zM24 8h1v1h-1zM35 8h1v1h-1zM69 9h1v1h-1zM20 10h1v1h-1zM34 10h1v1h-1zM34 11h1v1h-1zM5 13h1v1h-1zM19 13h2v1h-2zM23 13h1v1h-1zM37 13h1v1h-1zM77 13h1v1h-1zM4 15h1v1h-1zM8 15h1v1h-1zM17 15h1v1h-1zM25 15h1v1h-1zM34 15h1v1h-1zM37 15h1v1h-1zM26 16h1v1h-1zM33 18h1v1h-1zM17 19h1v1h-1zM19 19h1v1h-1zM27 20h1v1h-1zM33 20h1v1h-1zM16 22h1v1h-1zM3 23h1v1h-1zM8 23h1v1h-1zM34 26h1v1h-1zM70 27h1v1h-1zM44 28h1v1h-1zM75 28h1v1h-1zM43 30h2v1h-2zM46 31h1v1h-1zM67 32h1v1h-1zM50 33h1v1h-1zM60 33h1v1h-1zM76 34h1v1h-1zM64 35h1v1h-1zM68 35h1v1h-1zM74 36h1v1h-1zM77 36h1v1h-1zM44 37h1v1h-1zM72 37h1v1h-1zM44 40h1v1h-1zM63 42h1v1h-1zM49 43h1v1h-1zM60 43h1v1h-1zM42 44h1v1h-1zM56 44h1v1h-1zM44 45h1v1h-1zM63 45h2v1h-2zM72 45h1v1h-1zM69 46h1v1h-1zM68 48h1v1h-1zM45 50h1v1h-1zM66 50h1v1h-1zM43 51h1v1h-1zM56 52h1v1h-1zM76 53h1v1h-1zM43 54h1v1h-1zM64 54h1v1h-1zM72 54h1v1h-1zM42 55h1v1h-1zM76 55h1v1h-1zM53 56h1v1h-1zM57 56h1v1h-1zM65 56h1v1h-1zM69 57h1v1h-1zM67 58h1v1h-1zM42 59h1v1h-1zM56 59h1v1h-1zM66 59h1v1h-1zM72 59h1v1h-1zM43 60h1v1h-1zM45 60h1v1h-1zM63 60h1v1h-1zM73 60h1v1h-1zM76 61h1v1h-1zM42 62h1v1h-1zM73 62h1v1h-1zM42 63h1v1h-1zM61 64h1v1h-1zM73 73h1v1h-1zM75 81h1v1h-1zM46 85h1v1h-1zM41 87h1v1h-1zM74 87h1v1h-1zM75 96h1v1h-1z"/>
<path fill="#ff6a6a" d="M37 8h1v1h-1zM16 13h2v1h-2zM22 13h1v1h-1zM5 15h1v1h-1zM33 15h1v1h-1zM36 15h1v1h-1zM33 26h1v1h-1zM41 27h1v1h-1zM46 30h1v1h-1zM50 31h1v1h-1zM60 34h1v1h-1zM67 36h1v1h-1zM76 36h1v1h-1zM65 37h1v1h-1zM76 37h1v1h-1zM68 38h2v1h-2zM69 45h1v1h-1zM65 47h1v1h-1zM60 48h1v1h-1zM44 50h1v1h-1zM45 52h1v1h-1zM50 52h1v1h-1zM60 52h1v1h-1zM57 54h1v1h-1zM43 55h1v1h-1zM65 55h2v1h-2zM44 58h1v1h-1zM50 58h1v1h-1zM64 58h1v1h-1zM50 59h1v1h-1zM64 59h1v1h-1zM50 60h1v1h-1zM60 60h1v1h-1zM72 60h1v1h-1zM63 62h1v1h-1zM45 64h1v1h-1zM64 64h2v1h-2zM76 64h1v1h-1zM43 74h1v1h-1z"/>
<path fill="#ff6060" d="M27 0h1v1h-1zM16 15h1v1h-1zM66 28h1v1h-1zM65 29h1v1h-1zM67 29h1v1h-1zM15 31h1v1h-1zM43 31h1v1h-1zM45 31h1v1h-1zM59 32h1v1h-1zM69 34h1v1h-1zM42 36h1v1h-1zM20 37h1v1h-1zM56 37h1v1h-1zM44 38h1v1h-1zM63 40h1v1h-1zM60 42h1v1h-1zM49 50h1v1h-1zM68 50h1v1h-1zM54 56h1v1h-1zM63 56h1v1h-1zM41 59h1v1h-1zM59 59h1v1h-1zM63 59h1v1h-1zM65 59h1v1h-1zM71 59h1v1h-1zM43 62h1v1h-1zM45 62h1v1h-1zM61 65h1v1h-1zM42 76h1v1h-1z"/>
<path fill="#ff5555" d="M17 22h1v1h-1zM68 28h1v1h-1zM69 30h1v1h-1zM50 34h1v1h-1zM66 34h1v1h-1zM66 35h1v1h-1zM5 44h1v1h-1zM64 44h1v1h-1zM9 55h1v1h-1zM50 56h1v1h-1zM66 56h2v1h-2zM73 56h1v1h-1zM60 58h1v1h-1zM45 59h1v1h-1zM68 59h2v1h-2zM56 64h1v1h-1zM66 64h1v1h-1zM40 70h1v1h-1zM59 84h1v1h-1z"/>
<path fill="#ff4a4a" d="M42 27h1v1h-1zM69 28h1v1h-1zM60 31h1v1h-1zM72 33h1v1h-1zM65 36h1v1h-1zM50 43h1v1h-1zM49 59h1v1h-1zM54 59h1v1h-1zM76 59h1v1h-1z"/>
<path fill="#ff4040" d="M25 16h1v1h-1zM42 34h1v1h-1zM75 47h1v1h-1zM44 56h1v1h-1zM76 56h1v1h-1zM69 58h1v1h-1zM64 80h1v1h-1zM62 96h1v1h-1z"/>
<path fill="#ff3535" d="M54 37h1v1h-1zM67 42h1v1h-1zM40 67h1v1h-1zM49 70h1v1h-1zM45 98h1v1h-1z"/>
<path fill="#ff2a2a" d="M31 3h1v1h-1zM66 53h1v1h-1zM68 56h1v1h-1zM42 87h1v1h-1z"/>
<path fill="#ff2020" d="M22 15h1v1h-1zM68 60h1v1h-1z"/>
<path fill="#ff1515" d="M34 16h1v1h-1zM66 43h1v1h-1zM64 56h1v1h-1z"/>
<path fill="#ff0b0b" d="M43 49h1v1h-1z"/>
<path fill="#ff0000" d="M58 21h1v1h-1zM37 29h1v1h-1z"/>
</g>
<path fill="none" stroke="#999" stroke-width="0.90" d="M66.20 52.20v500.00M72.56 52.20v500.00M78.91 52.20v500.00M85.27 52.20v500.00M91.63 52.20v500.00M97.98 52.20v500.00M104.34 52.20v500.00M110.70 52.20v500.00M117.06 52.20v500.00M123.41 52.20v500.00M129.77 52.20v500.00M136.13 52.20v500.00M142.48 52.20v500.00M148.84 52.20v500.00M155.20 52.20v500.00M161.56 52.20v500.00M167.91 52.20v500.00M174.27 52.20v500.00M180.63 52.20v500.00M186.98 52.20v500.00M193.34 52.20v500.00M199.70 52.20v500.00M206.05 52.20v500.00M212.41 52.20v500.00M218.77 52.20v500.00M225.12 52.20v500.00M231.48 52.20v500.00M237.84 52.20v500.00M244.20 52.20v500.00M250.55 52.20v500.00M256.91 52.20v500.00M263.27 52.20v500.00M269.62 52.20v500.00M275.98 52.20v500.00M282.34 52.20v500.00M288.69 52.20v500.00M295.05 52.20v500.00M301.41 52.20v500.00M307.77 52.20v500.00M314.12 52.20v500.00M320.48 52.20v500.00M326.84 52.20v500.00M333.19 52.20v500.00M339.55 52.20v500.00M345.91 52.20v500.00M352.26 52.20v500.00M358.62 52.20v500.00M364.98 52.20v500.00M371.34 52.20v500.00M377.69 52.20v500.00M384.05 52.20v500.00M390.41 52.20v500.00M396.76 52.20v500.00M403.12 52.20v500.00M409.48 52.20v500.00M415.83 52.20v500.00M422.19 52.20v500.00M428.55 52.20v500.00M434.91 52.20v500.00M441.26 52.20v500.00M447.62 52.20v500.00M453.98 52.20v500.00M460.33 52.20v500.00M466.69 52.20v500.00M473.05 52.20v500.00M479.41 52.20v500.00M485.76 52.20v500.00M492.12 52.20v500.00M498.48 52.20v500.00M504.83 52.20v500.00M511.19 52.20v500.00M517.55 52.20v500.00M523.90 52.20v500.00M530.26 52.20v500.00M536.62 52.20v500.00M542.98 52.20v500.00M549.33 52.20v500.00M555.69 52.20v500.00M562.05 52.20v500.00M66.20 52.20h495.85M66.20 57.20h495.85M66.20 62.20h495.85M66.20 67.20h495.85M66.20 72.20h495.85M66.20 77.20h495.85M66.20 82.20h495.85M66.20 87.20h495.85M66.20 92.20h495.85M66.20 97.20h495.85M66.20 102.20h495.85M66.20 107.20h495.85M66.20 112.20h495.85M66.20 117.20h495.85M66.20 122.20h495.85M66.20 127.20h495.85M66.20 132.20h495.85M66.20 137.20h495.85M66.20 142.20h495.85M66.20 147.20h495.85M66.20 152.20h495.85M66.20 157.20h495.85M66.20 162.20h495.85M66.20 167.20h495.85M66.20 172.20h495.85M66.20 177.20h495.85M66.20 182.20h495.85M66.20 187.20h495.85M66.20 192.20h495.85M66.20 197.20h495.85M66.20 202.20h495.85M66.20 207.20h495.85M66.20 212.20h495.85M66.20 217.20h495.85M66.20 222.20h495.85M66.20 227.20h495.85M66.20 232.20h495.85M66.20 237.20h495.85M66.20 242.20h495.85M66.20 247.20h495.85M66.20 252.20h495.85M66.20 257.20h495.85M66.20 262.20h495.85M66.20 267.20h495.85M66.20 272.20h495.85M66.20 277.20h495.85M66.20 282.20h495.85M66.20 287.20h495.85M66.20 292.20h495.85M66.20 297.20h495.85M66.20 302.20h495.85M66.20 307.20h495.85M66.20 312.20h495.85M66.20 317.20h495.85M66.20 322.20h495.85M66.20 327.20h495.85M66.20 332.20h495.85M66.20 337.20h495.85M66.20 342.20h495.85M66.20 347.20h495.85M66.20 352.20h495.85M66.20 357.20h495.85M66.20 362.20h495.85M66.20 367.20h495.85M66.20 372.20h495.85M66.20 377.20h495.85M66.20 382.20h495.85M66.20 387.20h495.85M66.20 392.20h495.85M66.20 397.20h495.85M66.20 402.20h495.85M66.20 407.20h495.85M66.20 412.20h495.85M66.20 417.20h495.85M66.20 422.20h495.85M66.20 427.20h495.85M66.20 432.20h495.85M66.20 437.20h495.85M66.20 442.20h495.85M66.20 447.20h495.85M66.20 452.20h495.85M66.20 457.20h495.85M66.20 462.20h495.85M66.20 467.20h495.85M66.20 472.20h495.85M66.20 477.20h495.85M66.20 482.20h495.85M66.20 487.20h495.85M66.20 492.20h495.85M66.20 497.20h495.85M66.20 502.20h495.85M66.20 507.20h495.85M66.20 512.20h495.85M66.20 517.20h495.85M66.20 522.20h495.85M66.20 527.20h495.85M66.20 532.20h495.85M66.20 537.20h495.85M66.20 542.20h495.85M66.20 547.20h495.85M66.20 552.20h495.85"/>
<text x="564.8" y="48.8" font-size="6.8" font-weight="bold">Type</text>
<g font-size="6.35" fill="#111"><text x="564.8" y="57.0">ZG16</text><text x="564.8" y="62.0">RNF186</text><text x="564.8" y="67.0">TMED6</text><text x="564.8" y="72.0">PNLIPRP2</text><text x="564.8" y="77.0">GP2</text><text x="564.8" y="82.0">PNLIPRP1</text><text x="564.8" y="87.0">CELP</text><text x="564.8" y="92.0">AQP8</text><text x="564.8" y="97.0">SERPINI2</text><text x="564.8" y="102.0">ERP27</text><text x="564.8" y="107.0">KLK1</text><text x="564.8" y="112.0">CTRL</text><text x="564.8" y="117.0">SYCN</text><text x="564.8" y="122.0">CELA2B</text><text x="564.8" y="127.0">TRHDE</text><text x="564.8" y="131.9">SLC16A10</text><text x="564.8" y="136.9">PSAT1</text><text x="564.8" y="141.9">PM20D1</text><text x="564.8" y="146.9">ALB</text><text x="564.8" y="151.9">EGF</text><text x="564.8" y="156.9">SPX</text><text x="564.8" y="161.9">TEX11</text><text x="564.8" y="166.9">GNMT</text><text x="564.8" y="171.9">RBPJL</text><text x="564.8" y="176.9">TMEM52</text><text x="564.8" y="181.9">CTA-445C9.15</text><text x="564.8" y="186.9">DPP10</text><text x="564.8" y="191.9">ANXA10</text><text x="564.8" y="196.9">CTSE</text><text x="564.8" y="201.9">S100P</text><text x="564.8" y="206.9">GABRP</text><text x="564.8" y="211.9">LCN2</text><text x="564.8" y="216.9">TCN1</text><text x="564.8" y="221.9">CEACAM6</text><text x="564.8" y="226.9">OLFM4</text><text x="564.8" y="231.9">MMP7</text><text x="564.8" y="236.9">CCL19</text><text x="564.8" y="241.9">MGP</text><text x="564.8" y="246.9">GLT8D2</text><text x="564.8" y="251.9">SFRP2</text><text x="564.8" y="256.9">COMP</text><text x="564.8" y="261.9">CRISPLD1</text><text x="564.8" y="266.9">ITGBL1</text><text x="564.8" y="271.9">SFRP4</text><text x="564.8" y="276.9">MMP1</text><text x="564.8" y="281.9">SLC6A14</text><text x="564.8" y="286.9">SFN</text><text x="564.8" y="291.9">GJB2</text><text x="564.8" y="296.9">TMEM158</text><text x="564.8" y="301.9">COL11A1</text><text x="564.8" y="306.9">FAP</text><text x="564.8" y="311.9">COL10A1</text><text x="564.8" y="316.9">POSTN</text><text x="564.8" y="321.9">FNDC1</text><text x="564.8" y="326.9">INHBA</text><text x="564.8" y="331.9">FN1</text><text x="564.8" y="336.9">SULF1</text><text x="564.8" y="341.9">ITGA2</text><text x="564.8" y="346.9">OLR1</text><text x="564.8" y="351.9">SLPI</text><text x="564.8" y="356.9">CST1</text><text x="564.8" y="361.9">CXCL6</text><text x="564.8" y="366.9">CXCL8</text><text x="564.8" y="371.9">CXCL5</text><text x="564.8" y="376.9">BCL2A1</text><text x="564.8" y="381.9">MMP12</text><text x="564.8" y="386.9">RARRES1</text><text x="564.8" y="391.9">LXN</text><text x="564.8" y="396.9">CTSK</text><text x="564.8" y="401.9">C1S</text><text x="564.8" y="406.9">C1R</text><text x="564.8" y="411.9">GREM1</text><text x="564.8" y="416.9">PLAT</text><text x="564.8" y="421.9">TMEM200A</text><text x="564.8" y="426.9">CYP1B1</text><text x="564.8" y="431.9">ZNF521</text><text x="564.8" y="436.9">BGN</text><text x="564.8" y="441.9">SEMA3C</text><text x="564.8" y="446.9">RAB31</text><text x="564.8" y="451.9">TIMP1</text><text x="564.8" y="456.9">COL6A3</text><text x="564.8" y="461.9">CTHRC1</text><text x="564.8" y="466.9">VCAN</text><text x="564.8" y="471.9">COL3A1</text><text x="564.8" y="476.9">COL1A2</text><text x="564.8" y="481.9">COL5A1</text><text x="564.8" y="486.9">COL5A2</text><text x="564.8" y="491.9">SPARC</text><text x="564.8" y="496.9">SERPINH1</text><text x="564.8" y="501.9">CDH11</text><text x="564.8" y="506.9">EDNRA</text><text x="564.8" y="511.9">OLFML2B</text><text x="564.8" y="517.0">GPNMB</text><text x="564.8" y="522.0">AEBP1</text><text x="564.8" y="527.0">THBS2</text><text x="564.8" y="532.0">CSTA</text><text x="564.8" y="537.0">S100A4</text><text x="564.8" y="542.0">IGFBP3</text><text x="564.8" y="547.0">COL4A2</text><text x="564.8" y="552.0">S100A11</text></g>
<defs><linearGradient id="cb614" x1="0" y1="0" x2="0" y2="1"><stop offset="0" stop-color="#f00"/><stop offset="0.5" stop-color="#fff"/><stop offset="1" stop-color="#00f"/></linearGradient></defs>
<rect x="614.1" y="41.8" width="9.0" height="135.0" fill="url(#cb614)"/>
<text x="626.8" y="66.5" font-size="7.2" fill="#000">2</text>
<text x="626.8" y="89.2" font-size="7.2" fill="#000">1</text>
<text x="626.8" y="111.9" font-size="7.2" fill="#000">0</text>
<text x="626.8" y="134.6" font-size="7.2" fill="#000">−1</text>
<text x="626.8" y="157.3" font-size="7.2" fill="#000">−2</text>
<path fill="none" stroke="#111" stroke-width="1.1" d="M54.8 54.7L65.7 54.7M54.8 59.7L65.7 59.7M54.8 54.7L54.8 59.7M60.6 64.7L65.7 64.7M60.6 69.7L65.7 69.7M60.6 64.7L60.6 69.7M59.7 74.7L65.7 74.7M59.7 79.7L65.7 79.7M59.7 74.7L59.7 79.7M61.2 94.7L65.7 94.7M61.2 99.7L65.7 99.7M61.2 94.7L61.2 99.7M60.6 89.7L65.7 89.7M60.6 97.2L61.2 97.2M60.6 89.7L60.6 97.2M59.9 84.7L65.7 84.7M59.9 93.5L60.6 93.5M59.9 84.7L59.9 93.5M58.7 77.2L59.7 77.2M58.7 89.1L59.9 89.1M58.7 77.2L58.7 89.1M57.5 67.2L60.6 67.2M57.5 83.1L58.7 83.1M57.5 67.2L57.5 83.1M55.8 75.2L57.5 75.2M55.8 104.7L65.7 104.7M55.8 75.2L55.8 104.7M58.8 109.7L65.7 109.7M58.8 114.7L65.7 114.7M58.8 109.7L58.8 114.7M54.9 112.2L58.8 112.2M54.9 119.7L65.7 119.7M54.9 112.2L54.9 119.7M51.5 89.9L55.8 89.9M51.5 116.0L54.9 116.0M51.5 89.9L51.5 116.0M60.6 149.7L65.7 149.7M60.6 154.7L65.7 154.7M60.6 149.7L60.6 154.7M60.0 144.7L65.7 144.7M60.0 152.2L60.6 152.2M60.0 144.7L60.0 152.2M58.8 139.7L65.7 139.7M58.8 148.4L60.0 148.4M58.8 139.7L58.8 148.4M60.5 164.7L65.7 164.7M60.5 169.7L65.7 169.7M60.5 164.7L60.5 169.7M59.9 167.2L60.5 167.2M59.9 174.7L65.7 174.7M59.9 167.2L59.9 174.7M58.7 159.7L65.7 159.7M58.7 170.9L59.9 170.9M58.7 159.7L58.7 170.9M57.5 144.1L58.8 144.1M57.5 165.3L58.7 165.3M57.5 144.1L57.5 165.3M56.3 134.7L65.7 134.7M56.3 154.7L57.5 154.7M56.3 134.7L56.3 154.7M55.1 129.7L65.7 129.7M55.1 144.7L56.3 144.7M55.1 129.7L55.1 144.7M52.2 124.7L65.7 124.7M52.2 137.2L55.1 137.2M52.2 124.7L52.2 137.2M57.7 179.7L65.7 179.7M57.7 184.7L65.7 184.7M57.7 179.7L57.7 184.7M50.2 130.9L52.2 130.9M50.2 182.2L57.7 182.2M50.2 130.9L50.2 182.2M46.2 102.9L51.5 102.9M46.2 156.6L50.2 156.6M46.2 102.9L46.2 156.6M39.0 57.2L54.8 57.2M39.0 129.8L46.2 129.8M39.0 57.2L39.0 129.8M56.0 189.7L65.7 189.7M56.0 194.7L65.7 194.7M56.0 189.7L56.0 194.7M60.0 214.7L65.7 214.7M60.0 219.7L65.7 219.7M60.0 214.7L60.0 219.7M58.9 209.7L65.7 209.7M58.9 217.2L60.0 217.2M58.9 209.7L58.9 217.2M56.8 213.4L58.9 213.4M56.8 224.7L65.7 224.7M56.8 213.4L56.8 224.7M53.3 219.1L56.8 219.1M53.3 229.7L65.7 229.7M53.3 219.1L53.3 229.7M47.8 204.7L65.7 204.7M47.8 224.4L53.3 224.4M47.8 204.7L47.8 224.4M43.8 199.7L65.7 199.7M43.8 214.5L47.8 214.5M43.8 199.7L43.8 214.5M38.3 192.2L56.0 192.2M38.3 207.1L43.8 207.1M38.3 192.2L38.3 207.1M59.3 239.7L65.7 239.7M59.3 244.7L65.7 244.7M59.3 239.7L59.3 244.7M58.3 264.7L65.7 264.7M58.3 269.7L65.7 269.7M58.3 264.7L58.3 269.7M56.4 259.7L65.7 259.7M56.4 267.2L58.3 267.2M56.4 259.7L56.4 267.2M55.2 254.7L65.7 254.7M55.2 263.4L56.4 263.4M55.2 254.7L55.2 263.4M53.3 249.7L65.7 249.7M53.3 259.1L55.2 259.1M53.3 249.7L53.3 259.1M51.0 242.2L59.3 242.2M51.0 254.4L53.3 254.4M51.0 242.2L51.0 254.4M58.8 274.7L65.7 274.7M58.8 279.7L65.7 279.7M58.8 274.7L58.8 279.7M47.0 248.3L51.0 248.3M47.0 277.2L58.8 277.2M47.0 248.3L47.0 277.2M41.0 234.7L65.7 234.7M41.0 262.7L47.0 262.7M41.0 234.7L41.0 262.7M58.3 289.7L65.7 289.7M58.3 294.7L65.7 294.7M58.3 289.7L58.3 294.7M54.1 292.2L58.3 292.2M54.1 299.7L65.7 299.7M54.1 292.2L54.1 299.7M60.4 309.7L65.7 309.7M60.4 314.7L65.7 314.7M60.4 309.7L60.4 314.7M61.5 324.7L65.7 324.7M61.5 329.7L65.7 329.7M61.5 324.7L61.5 329.7M60.9 319.7L65.7 319.7M60.9 327.2L61.5 327.2M60.9 319.7L60.9 327.2M59.7 312.2L60.4 312.2M59.7 323.4L60.9 323.4M59.7 312.2L59.7 323.4M60.6 339.7L65.7 339.7M60.6 344.7L65.7 344.7M60.6 339.7L60.6 344.7M59.7 334.7L65.7 334.7M59.7 342.2L60.6 342.2M59.7 334.7L59.7 342.2M58.5 317.8L59.7 317.8M58.5 338.4L59.7 338.4M58.5 317.8L58.5 338.4M56.3 304.7L65.7 304.7M56.3 328.1L58.5 328.1M56.3 304.7L56.3 328.1M51.4 295.9L54.1 295.9M51.4 316.4L56.3 316.4M51.4 295.9L51.4 316.4M49.1 306.2L51.4 306.2M49.1 349.7L65.7 349.7M49.1 306.2L49.1 349.7M43.0 284.7L65.7 284.7M43.0 327.9L49.1 327.9M43.0 284.7L43.0 327.9M62.4 379.7L65.7 379.7M62.4 384.7L65.7 384.7M62.4 379.7L62.4 384.7M61.8 374.7L65.7 374.7M61.8 382.2L62.4 382.2M61.8 374.7L61.8 382.2M62.4 394.7L65.7 394.7M62.4 399.7L65.7 399.7M62.4 394.7L62.4 399.7M61.8 389.7L65.7 389.7M61.8 397.2L62.4 397.2M61.8 389.7L61.8 397.2M61.2 378.4L61.8 378.4M61.2 393.4L61.8 393.4M61.2 378.4L61.2 393.4M60.6 385.9L61.2 385.9M60.6 404.7L65.7 404.7M60.6 385.9L60.6 404.7M60.0 369.7L65.7 369.7M60.0 395.3L60.6 395.3M60.0 369.7L60.0 395.3M60.7 409.7L65.7 409.7M60.7 414.7L65.7 414.7M60.7 409.7L60.7 414.7M58.8 382.5L60.0 382.5M58.8 412.2L60.7 412.2M58.8 382.5L58.8 412.2M57.6 397.4L58.8 397.4M57.6 419.7L65.7 419.7M57.6 397.4L57.6 419.7M55.7 364.7L65.7 364.7M55.7 408.5L57.6 408.5M55.7 364.7L55.7 408.5M52.8 359.7L65.7 359.7M52.8 386.6L55.7 386.6M52.8 359.7L52.8 386.6M60.1 434.7L65.7 434.7M60.1 439.7L65.7 439.7M60.1 434.7L60.1 439.7M58.5 429.7L65.7 429.7M58.5 437.2L60.1 437.2M58.5 429.7L58.5 437.2M56.1 424.7L65.7 424.7M56.1 433.4L58.5 433.4M56.1 424.7L56.1 433.4M51.3 373.2L52.8 373.2M51.3 429.1L56.1 429.1M51.3 373.2L51.3 429.1M46.0 354.7L65.7 354.7M46.0 401.1L51.3 401.1M46.0 354.7L46.0 401.1M59.7 459.7L65.7 459.7M59.7 464.7L65.7 464.7M59.7 459.7L59.7 464.7M58.2 454.7L65.7 454.7M58.2 462.2L59.7 462.2M58.2 454.7L58.2 462.2M56.3 449.7L65.7 449.7M56.3 458.4L58.2 458.4M56.3 449.7L56.3 458.4M59.1 474.7L65.7 474.7M59.1 479.7L65.7 479.7M59.1 474.7L59.1 479.7M56.9 469.7L65.7 469.7M56.9 477.2L59.1 477.2M56.9 469.7L56.9 477.2M54.8 454.1L56.3 454.1M54.8 473.4L56.9 473.4M54.8 454.1L54.8 473.4M52.3 463.8L54.8 463.8M52.3 484.7L65.7 484.7M52.3 463.8L52.3 484.7M61.2 514.7L65.7 514.7M61.2 519.7L65.7 519.7M61.2 514.7L61.2 519.7M60.6 509.7L65.7 509.7M60.6 517.2L61.2 517.2M60.6 509.7L60.6 517.2M61.8 529.7L65.7 529.7M61.8 534.7L65.7 534.7M61.8 529.7L61.8 534.7M61.8 539.7L65.7 539.7M61.8 544.7L65.7 544.7M61.8 539.7L61.8 544.7M61.2 532.2L61.8 532.2M61.2 542.2L61.8 542.2M61.2 532.2L61.2 542.2M60.6 524.7L65.7 524.7M60.6 537.2L61.2 537.2M60.6 524.7L60.6 537.2M60.0 513.5L60.6 513.5M60.0 531.0L60.6 531.0M60.0 513.5L60.0 531.0M58.8 504.7L65.7 504.7M58.8 522.2L60.0 522.2M58.8 504.7L58.8 522.2M57.6 513.5L58.8 513.5M57.6 549.7L65.7 549.7M57.6 513.5L57.6 549.7M56.4 499.7L65.7 499.7M56.4 531.6L57.6 531.6M56.4 499.7L56.4 531.6M54.5 494.7L65.7 494.7M54.5 515.6L56.4 515.6M54.5 494.7L54.5 515.6M53.3 489.7L65.7 489.7M53.3 505.2L54.5 505.2M53.3 489.7L53.3 505.2M46.3 474.2L52.3 474.2M46.3 497.4L53.3 497.4M46.3 474.2L46.3 497.4M44.0 444.7L65.7 444.7M44.0 485.8L46.3 485.8M44.0 444.7L44.0 485.8M40.0 377.9L46.0 377.9M40.0 465.3L44.0 465.3M40.0 377.9L40.0 465.3M37.0 306.3L43.0 306.3M37.0 421.6L40.0 421.6M37.0 306.3L37.0 421.6M34.3 248.7L41.0 248.7M34.3 364.0L37.0 364.0M34.3 248.7L34.3 364.0M29.0 199.7L38.3 199.7M29.0 306.3L34.3 306.3M29.0 199.7L29.0 306.3M18.5 93.5L39.0 93.5M18.5 253.0L29.0 253.0M18.5 93.5L18.5 253.0"/>
<rect x="747.60" y="42.3" width="152.37" height="7.9" fill="#00dae0"/>
<rect x="899.97" y="42.3" width="342.83" height="7.9" fill="#ff9289"/>
<path fill="none" stroke="#999" stroke-width="0.9" opacity="0.55" d="M747.60 42.3v7.9M757.12 42.3v7.9M766.65 42.3v7.9M776.17 42.3v7.9M785.69 42.3v7.9M795.22 42.3v7.9M804.74 42.3v7.9M814.26 42.3v7.9M823.78 42.3v7.9M833.31 42.3v7.9M842.83 42.3v7.9M852.35 42.3v7.9M861.88 42.3v7.9M871.40 42.3v7.9M880.92 42.3v7.9M890.45 42.3v7.9M899.97 42.3v7.9M909.49 42.3v7.9M919.01 42.3v7.9M928.54 42.3v7.9M938.06 42.3v7.9M947.58 42.3v7.9M957.11 42.3v7.9M966.63 42.3v7.9M976.15 42.3v7.9M985.67 42.3v7.9M995.20 42.3v7.9M1004.72 42.3v7.9M1014.24 42.3v7.9M1023.77 42.3v7.9M1033.29 42.3v7.9M1042.81 42.3v7.9M1052.34 42.3v7.9M1061.86 42.3v7.9M1071.38 42.3v7.9M1080.90 42.3v7.9M1090.43 42.3v7.9M1099.95 42.3v7.9M1109.47 42.3v7.9M1119.00 42.3v7.9M1128.52 42.3v7.9M1138.04 42.3v7.9M1147.57 42.3v7.9M1157.09 42.3v7.9M1166.61 42.3v7.9M1176.13 42.3v7.9M1185.66 42.3v7.9M1195.18 42.3v7.9M1204.70 42.3v7.9M1214.23 42.3v7.9M1223.75 42.3v7.9M1233.27 42.3v7.9M1242.80 42.3v7.9M747.60 42.3h495.20M747.60 50.2h495.20"/>
<g transform="translate(747.60,52.20) scale(9.5230,5.0000)" shape-rendering="crispEdges">
<path fill="#0000ff" d="M3 38h1v1h-1zM40 40h1v1h-1zM4 56h1v1h-1zM12 65h1v1h-1zM14 68h1v1h-1zM14 77h1v1h-1zM6 99h1v1h-1z"/>
<path fill="#0b0bff" d="M15 50h1v1h-1zM4 62h1v1h-1z"/>
<path fill="#1515ff" d="M27 17h1v1h-1zM28 30h1v1h-1zM12 66h1v1h-1zM14 66h1v1h-1zM14 71h1v1h-1zM12 72h1v1h-1zM12 77h1v1h-1zM12 79h1v1h-1z"/>
<path fill="#2020ff" d="M12 53h1v1h-1zM30 64h1v1h-1zM30 65h1v1h-1zM14 84h1v1h-1zM30 89h1v1h-1z"/>
<path fill="#2a2aff" d="M43 19h1v1h-1zM14 50h1v1h-1zM30 51h1v1h-1zM30 52h1v1h-1zM4 53h1v1h-1zM14 59h1v1h-1zM19 59h1v1h-1zM3 66h1v1h-1zM14 76h1v1h-1zM14 79h1v1h-1zM4 82h1v1h-1z"/>
<path fill="#3535ff" d="M21 0h1v1h-1zM30 53h1v1h-1zM30 56h1v1h-1zM12 63h1v1h-1zM14 63h1v1h-1zM14 64h1v1h-1zM30 66h1v1h-1zM30 67h1v1h-1zM12 80h1v1h-1zM8 83h1v1h-1zM30 83h1v1h-1zM12 92h1v1h-1zM14 94h1v1h-1z"/>
<path fill="#4040ff" d="M40 11h1v1h-1zM22 48h1v1h-1zM14 51h1v1h-1zM1 53h1v1h-1zM14 53h1v1h-1zM12 64h1v1h-1zM12 67h1v1h-1zM0 75h1v1h-1zM12 76h1v1h-1zM30 76h1v1h-1zM30 77h1v1h-1zM14 85h1v1h-1zM10 89h1v1h-1zM14 91h1v1h-1zM30 98h1v1h-1z"/>
<path fill="#4a4aff" d="M2 9h1v1h-1zM39 23h1v1h-1zM38 38h1v1h-1zM49 38h1v1h-1zM3 48h1v1h-1zM4 52h1v1h-1zM45 56h1v1h-1zM1 59h1v1h-1zM10 60h1v1h-1zM1 61h1v1h-1zM8 65h1v1h-1zM6 66h1v1h-1zM30 69h1v1h-1zM30 73h1v1h-1zM1 75h1v1h-1zM13 76h1v1h-1zM15 79h1v1h-1zM12 84h1v1h-1zM3 89h1v1h-1zM19 90h1v1h-1zM12 94h1v1h-1z"/>
<path fill="#5555ff" d="M46 25h1v1h-1zM21 26h1v1h-1zM46 46h1v1h-1zM28 48h1v1h-1zM3 53h1v1h-1zM12 56h1v1h-1zM14 56h1v1h-1zM45 57h1v1h-1zM30 59h1v1h-1zM14 60h1v1h-1zM14 62h1v1h-1zM8 63h1v1h-1zM29 65h1v1h-1zM19 67h1v1h-1zM12 70h1v1h-1zM7 71h1v1h-1zM12 71h1v1h-1zM14 73h2v1h-2zM10 75h1v1h-1zM12 75h1v1h-1zM14 75h1v1h-1zM1 79h1v1h-1zM19 79h1v1h-1zM12 85h1v1h-1zM15 88h1v1h-1zM12 91h1v1h-1zM14 92h1v1h-1zM12 93h1v1h-1zM30 93h1v1h-1zM30 99h1v1h-1z"/>
<path fill="#6060ff" d="M28 25h1v1h-1zM46 39h1v1h-1zM4 46h1v1h-1zM22 46h1v1h-1zM4 48h1v1h-1zM21 48h1v1h-1zM46 49h1v1h-1zM15 52h1v1h-1zM3 56h1v1h-1zM20 58h1v1h-1zM12 59h1v1h-1zM12 60h1v1h-1zM10 61h1v1h-1zM30 62h1v1h-1zM30 63h1v1h-1zM3 64h1v1h-1zM19 66h1v1h-1zM15 71h1v1h-1zM8 72h1v1h-1zM14 72h1v1h-1zM12 73h1v1h-1zM1 76h1v1h-1zM3 76h1v1h-1zM10 76h1v1h-1zM14 78h1v1h-1zM30 78h1v1h-1zM2 79h1v1h-1zM14 80h1v1h-1zM12 81h1v1h-1zM14 82h1v1h-1zM14 83h2v1h-2zM14 86h1v1h-1zM12 89h1v1h-1zM14 89h1v1h-1zM14 90h1v1h-1z"/>
<path fill="#6a6aff" d="M20 23h1v1h-1zM38 23h1v1h-1zM45 24h1v1h-1zM45 25h1v1h-1zM3 36h2v1h-2zM46 38h1v1h-1zM38 39h1v1h-1zM38 40h1v1h-1zM4 41h1v1h-1zM45 41h2v1h-2zM49 41h1v1h-1zM3 43h1v1h-1zM28 46h1v1h-1zM3 47h2v1h-2zM20 48h1v1h-1zM38 48h1v1h-1zM46 48h1v1h-1zM1 52h1v1h-1zM6 53h1v1h-1zM4 54h1v1h-1zM14 55h1v1h-1zM30 60h1v1h-1zM8 61h1v1h-1zM6 62h1v1h-1zM3 67h1v1h-1zM12 69h1v1h-1zM30 71h1v1h-1zM30 72h1v1h-1zM3 73h1v1h-1zM10 73h1v1h-1zM3 75h1v1h-1zM4 78h1v1h-1zM10 78h1v1h-1zM8 79h1v1h-1zM10 79h1v1h-1zM30 79h1v1h-1zM19 82h1v1h-1zM1 83h1v1h-1zM30 90h1v1h-1zM15 93h1v1h-1zM12 95h1v1h-1zM14 97h1v1h-1z"/>
<path fill="#7575ff" d="M4 24h1v1h-1zM49 24h1v1h-1zM4 26h1v1h-1zM20 26h1v1h-1zM22 26h1v1h-1zM39 26h1v1h-1zM49 35h1v1h-1zM29 36h1v1h-1zM45 36h1v1h-1zM29 37h1v1h-1zM4 38h1v1h-1zM29 38h1v1h-1zM39 38h1v1h-1zM45 38h1v1h-1zM3 40h1v1h-1zM46 40h1v1h-1zM21 41h1v1h-1zM38 43h2v1h-2zM20 46h2v1h-2zM39 46h1v1h-1zM20 47h1v1h-1zM35 48h1v1h-1zM3 49h1v1h-1zM1 51h1v1h-1zM12 51h1v1h-1zM12 54h1v1h-1zM14 54h1v1h-1zM30 55h1v1h-1zM12 57h1v1h-1zM6 59h1v1h-1zM10 59h1v1h-1zM4 61h1v1h-1zM12 61h1v1h-1zM10 65h1v1h-1zM8 66h1v1h-1zM13 66h1v1h-1zM30 70h1v1h-1zM6 73h1v1h-1zM15 76h1v1h-1zM6 77h1v1h-1zM10 77h1v1h-1zM6 78h1v1h-1zM1 82h1v1h-1zM12 82h1v1h-1zM12 83h1v1h-1zM6 84h1v1h-1zM30 84h1v1h-1zM12 86h1v1h-1zM30 86h1v1h-1zM8 90h1v1h-1zM7 93h1v1h-1zM14 93h1v1h-1zM4 94h1v1h-1zM13 94h1v1h-1zM30 95h1v1h-1zM3 96h1v1h-1zM12 97h1v1h-1zM30 97h1v1h-1zM3 98h1v1h-1zM5 98h1v1h-1z"/>
<path fill="#8080ff" d="M25 1h1v1h-1zM45 14h1v1h-1zM28 15h1v1h-1zM39 16h1v1h-1zM50 16h1v1h-1zM40 20h1v1h-1zM49 21h1v1h-1zM22 22h1v1h-1zM3 23h1v1h-1zM28 23h1v1h-1zM46 23h1v1h-1zM32 24h1v1h-1zM38 24h1v1h-1zM46 24h1v1h-1zM45 34h1v1h-1zM46 35h1v1h-1zM21 36h1v1h-1zM39 36h1v1h-1zM20 37h1v1h-1zM22 37h1v1h-1zM46 37h1v1h-1zM49 37h2v1h-2zM3 39h1v1h-1zM21 39h1v1h-1zM28 39h1v1h-1zM45 39h1v1h-1zM49 39h1v1h-1zM5 41h1v1h-1zM28 41h1v1h-1zM45 43h1v1h-1zM3 46h1v1h-1zM24 46h1v1h-1zM38 46h1v1h-1zM29 48h1v1h-1zM39 48h1v1h-1zM49 48h1v1h-1zM27 49h1v1h-1zM29 49h1v1h-1zM38 49h1v1h-1zM6 50h1v1h-1zM8 50h1v1h-1zM11 51h1v1h-1zM3 52h1v1h-1zM12 52h1v1h-1zM15 55h1v1h-1zM6 57h1v1h-1zM5 58h1v1h-1zM14 61h1v1h-1zM1 63h1v1h-1zM3 63h1v1h-1zM1 64h1v1h-1zM6 65h1v1h-1zM45 66h1v1h-1zM10 67h1v1h-1zM14 67h1v1h-1zM29 67h1v1h-1zM3 70h1v1h-1zM14 70h1v1h-1zM15 72h1v1h-1zM15 75h1v1h-1zM3 77h1v1h-1zM8 77h1v1h-1zM29 77h1v1h-1zM46 77h1v1h-1zM14 81h1v1h-1zM30 81h1v1h-1zM29 82h1v1h-1zM50 83h1v1h-1zM4 87h1v1h-1zM12 88h1v1h-1zM8 91h1v1h-1zM30 91h1v1h-1zM4 92h1v1h-1zM6 92h1v1h-1zM1 93h1v1h-1zM8 94h1v1h-1zM14 96h1v1h-1zM30 96h1v1h-1zM6 97h1v1h-1zM15 99h1v1h-1z"/>
<path fill="#8a8aff" d="M41 2h1v1h-1zM5 5h1v1h-1zM24 5h1v1h-1zM29 5h1v1h-1zM18 8h1v1h-1zM22 15h1v1h-1zM45 17h1v1h-1zM45 21h2v1h-2zM46 22h1v1h-1zM20 24h1v1h-1zM20 25h1v1h-1zM3 26h1v1h-1zM46 29h1v1h-1zM28 32h2v1h-2zM49 32h1v1h-1zM4 35h1v1h-1zM20 36h1v1h-1zM38 36h1v1h-1zM49 36h1v1h-1zM39 37h1v1h-1zM21 38h1v1h-1zM4 40h1v1h-1zM21 40h1v1h-1zM3 41h1v1h-1zM22 41h1v1h-1zM39 41h1v1h-1zM21 42h1v1h-1zM38 42h1v1h-1zM4 43h1v1h-1zM21 43h1v1h-1zM28 43h1v1h-1zM28 47h1v1h-1zM39 47h1v1h-1zM49 49h1v1h-1zM8 51h1v1h-1zM10 51h1v1h-1zM45 53h1v1h-1zM7 54h1v1h-1zM9 54h1v1h-1zM3 55h1v1h-1zM12 55h1v1h-1zM19 56h1v1h-1zM44 58h1v1h-1zM3 59h2v1h-2zM1 60h1v1h-1zM10 62h1v1h-1zM11 63h1v1h-1zM46 63h1v1h-1zM4 65h1v1h-1zM2 66h1v1h-1zM4 66h1v1h-1zM12 68h1v1h-1zM0 71h1v1h-1zM8 71h1v1h-1zM1 72h1v1h-1zM11 72h1v1h-1zM8 74h1v1h-1zM11 75h1v1h-1zM0 76h1v1h-1zM4 76h1v1h-1zM1 77h1v1h-1zM4 77h1v1h-1zM9 77h1v1h-1zM15 77h1v1h-1zM12 78h1v1h-1zM45 78h1v1h-1zM29 79h1v1h-1zM46 80h1v1h-1zM8 81h1v1h-1zM0 84h1v1h-1zM4 85h1v1h-1zM8 85h1v1h-1zM9 87h1v1h-1zM12 87h1v1h-1zM3 88h1v1h-1zM1 89h1v1h-1zM6 89h1v1h-1zM15 89h1v1h-1zM0 91h1v1h-1zM4 91h1v1h-1zM8 92h1v1h-1zM11 92h1v1h-1zM3 93h1v1h-1zM6 93h1v1h-1zM8 93h1v1h-1zM30 94h1v1h-1zM2 95h1v1h-1zM14 95h1v1h-1zM29 97h1v1h-1zM14 98h1v1h-1z"/>
<path fill="#9595ff" d="M45 1h1v1h-1zM46 2h1v1h-1zM17 4h1v1h-1zM3 5h1v1h-1zM16 5h1v1h-1zM22 6h1v1h-1zM25 7h1v1h-1zM23 8h1v1h-1zM29 8h1v1h-1zM40 13h1v1h-1zM24 14h1v1h-1zM28 14h2v1h-2zM5 16h1v1h-1zM24 16h1v1h-1zM26 16h1v1h-1zM25 20h1v1h-1zM28 21h1v1h-1zM39 21h1v1h-1zM18 23h1v1h-1zM41 23h1v1h-1zM45 23h1v1h-1zM49 23h1v1h-1zM24 24h1v1h-1zM28 26h1v1h-1zM49 26h1v1h-1zM29 28h1v1h-1zM29 30h1v1h-1zM49 31h1v1h-1zM21 32h1v1h-1zM37 32h1v1h-1zM39 32h1v1h-1zM46 32h1v1h-1zM38 34h2v1h-2zM3 35h1v1h-1zM20 35h2v1h-2zM29 35h1v1h-1zM8 36h1v1h-1zM18 36h1v1h-1zM22 36h1v1h-1zM5 37h1v1h-1zM38 37h1v1h-1zM45 37h1v1h-1zM8 38h1v1h-1zM18 38h1v1h-1zM22 38h1v1h-1zM28 38h1v1h-1zM22 39h1v1h-1zM29 40h1v1h-1zM50 40h1v1h-1zM4 42h1v1h-1zM29 42h1v1h-1zM45 42h1v1h-1zM8 43h1v1h-1zM29 43h1v1h-1zM49 43h1v1h-1zM39 44h1v1h-1zM45 44h1v1h-1zM29 46h1v1h-1zM45 46h1v1h-1zM49 46h1v1h-1zM21 47h2v1h-2zM29 47h1v1h-1zM45 47h2v1h-2zM8 48h1v1h-1zM24 48h1v1h-1zM32 48h1v1h-1zM50 48h1v1h-1zM4 49h1v1h-1zM10 50h1v1h-1zM40 50h1v1h-1zM29 51h1v1h-1zM6 52h1v1h-1zM10 52h1v1h-1zM14 52h1v1h-1zM2 53h1v1h-1zM10 53h1v1h-1zM19 53h1v1h-1zM29 53h1v1h-1zM30 54h1v1h-1zM6 55h1v1h-1zM1 57h1v1h-1zM30 57h1v1h-1zM30 58h1v1h-1zM7 59h1v1h-1zM2 60h1v1h-1zM4 60h1v1h-1zM29 61h1v1h-1zM15 63h1v1h-1zM9 64h1v1h-1zM19 64h1v1h-1zM1 65h1v1h-1zM3 65h1v1h-1zM9 65h1v1h-1zM46 65h1v1h-1zM10 66h1v1h-1zM29 66h1v1h-1zM46 66h1v1h-1zM10 69h1v1h-1zM6 71h1v1h-1zM3 72h2v1h-2zM6 74h1v1h-1zM7 75h1v1h-1zM9 75h1v1h-1zM6 76h1v1h-1zM45 77h1v1h-1zM3 78h1v1h-1zM9 78h1v1h-1zM45 79h1v1h-1zM30 80h1v1h-1zM13 83h1v1h-1zM1 84h1v1h-1zM29 84h1v1h-1zM1 85h1v1h-1zM15 85h1v1h-1zM4 86h1v1h-1zM14 87h1v1h-1zM19 87h1v1h-1zM13 88h1v1h-1zM8 89h1v1h-1zM13 89h1v1h-1zM12 90h1v1h-1zM2 91h2v1h-2zM11 91h1v1h-1zM9 92h1v1h-1zM10 93h1v1h-1zM6 94h1v1h-1zM8 97h1v1h-1zM8 98h1v1h-1zM14 99h1v1h-1z"/>
<path fill="#9f9fff" d="M40 0h1v1h-1zM31 1h1v1h-1zM21 5h1v1h-1zM26 5h1v1h-1zM31 5h2v1h-2zM46 5h1v1h-1zM16 7h1v1h-1zM3 8h1v1h-1zM17 8h1v1h-1zM35 8h1v1h-1zM41 8h1v1h-1zM46 8h1v1h-1zM38 9h1v1h-1zM24 11h1v1h-1zM28 11h1v1h-1zM27 12h1v1h-1zM17 13h1v1h-1zM23 13h1v1h-1zM31 13h1v1h-1zM46 14h1v1h-1zM16 16h1v1h-1zM28 16h1v1h-1zM45 16h1v1h-1zM28 19h2v1h-2zM27 20h1v1h-1zM29 20h1v1h-1zM4 21h1v1h-1zM22 21h1v1h-1zM29 21h1v1h-1zM4 22h1v1h-1zM45 22h1v1h-1zM49 22h1v1h-1zM8 23h1v1h-1zM21 23h1v1h-1zM29 23h1v1h-1zM37 23h1v1h-1zM3 24h1v1h-1zM8 24h1v1h-1zM28 24h1v1h-1zM41 24h1v1h-1zM38 26h1v1h-1zM20 29h1v1h-1zM45 29h1v1h-1zM4 31h1v1h-1zM20 31h1v1h-1zM3 32h1v1h-1zM20 32h1v1h-1zM45 32h1v1h-1zM22 33h1v1h-1zM3 34h2v1h-2zM28 35h1v1h-1zM46 36h1v1h-1zM4 37h1v1h-1zM28 37h1v1h-1zM35 37h1v1h-1zM24 38h1v1h-1zM35 38h1v1h-1zM42 38h1v1h-1zM50 38h1v1h-1zM4 39h1v1h-1zM29 39h1v1h-1zM22 40h1v1h-1zM45 40h1v1h-1zM39 42h1v1h-1zM49 42h1v1h-1zM22 43h1v1h-1zM35 43h1v1h-1zM46 43h1v1h-1zM38 44h1v1h-1zM21 45h2v1h-2zM39 45h1v1h-1zM49 47h1v1h-1zM41 48h1v1h-1zM21 49h2v1h-2zM28 49h1v1h-1zM27 50h1v1h-1zM6 51h1v1h-1zM15 51h1v1h-1zM8 52h1v1h-1zM8 53h1v1h-1zM2 54h1v1h-1zM6 54h1v1h-1zM0 55h1v1h-1zM8 55h1v1h-1zM1 56h1v1h-1zM5 56h1v1h-1zM8 56h1v1h-1zM4 57h1v1h-1zM14 58h2v1h-2zM19 58h1v1h-1zM27 58h1v1h-1zM0 60h1v1h-1zM30 61h1v1h-1zM11 62h1v1h-1zM29 62h1v1h-1zM29 63h1v1h-1zM45 64h1v1h-1zM7 65h1v1h-1zM15 65h1v1h-1zM0 66h1v1h-1zM15 66h1v1h-1zM46 67h1v1h-1zM3 68h1v1h-1zM4 70h1v1h-1zM8 70h1v1h-1zM10 70h1v1h-1zM46 72h1v1h-1zM3 74h1v1h-1zM14 74h1v1h-1zM30 74h1v1h-1zM2 77h1v1h-1zM11 77h1v1h-1zM19 77h1v1h-1zM1 78h1v1h-1zM11 78h1v1h-1zM4 79h1v1h-1zM11 79h1v1h-1zM13 79h1v1h-1zM46 79h1v1h-1zM0 80h1v1h-1zM6 80h1v1h-1zM15 81h1v1h-1zM19 83h1v1h-1zM29 83h1v1h-1zM2 84h1v1h-1zM5 84h1v1h-1zM15 84h1v1h-1zM30 85h1v1h-1zM1 86h1v1h-1zM15 87h1v1h-1zM14 88h1v1h-1zM45 88h1v1h-1zM0 89h1v1h-1zM6 90h1v1h-1zM10 90h1v1h-1zM6 91h1v1h-1zM1 92h1v1h-1zM10 92h1v1h-1zM29 93h1v1h-1zM4 95h1v1h-1zM6 96h1v1h-1zM11 96h1v1h-1zM5 97h1v1h-1zM19 98h1v1h-1zM19 99h1v1h-1z"/>
<path fill="#aaaaff" d="M26 0h1v1h-1zM4 1h1v1h-1zM21 1h1v1h-1zM38 1h1v1h-1zM5 2h1v1h-1zM18 2h1v1h-1zM39 2h1v1h-1zM45 2h1v1h-1zM22 3h2v1h-2zM18 4h1v1h-1zM25 4h1v1h-1zM48 4h2v1h-2zM23 5h1v1h-1zM36 5h1v1h-1zM40 5h1v1h-1zM48 5h2v1h-2zM16 6h1v1h-1zM20 6h2v1h-2zM50 6h1v1h-1zM48 7h1v1h-1zM4 8h2v1h-2zM32 8h1v1h-1zM39 8h1v1h-1zM8 9h1v1h-1zM50 11h1v1h-1zM5 13h1v1h-1zM32 13h1v1h-1zM48 13h1v1h-1zM17 14h1v1h-1zM26 14h1v1h-1zM31 14h1v1h-1zM38 14h1v1h-1zM48 14h1v1h-1zM35 15h1v1h-1zM8 16h1v1h-1zM18 16h1v1h-1zM21 16h1v1h-1zM29 16h1v1h-1zM40 16h1v1h-1zM48 16h1v1h-1zM38 17h1v1h-1zM42 17h1v1h-1zM41 18h1v1h-1zM3 19h1v1h-1zM16 19h1v1h-1zM23 20h1v1h-1zM31 20h1v1h-1zM3 21h1v1h-1zM3 22h1v1h-1zM38 22h2v1h-2zM24 23h1v1h-1zM40 23h1v1h-1zM21 24h2v1h-2zM29 24h1v1h-1zM39 24h1v1h-1zM29 25h1v1h-1zM5 26h1v1h-1zM32 26h1v1h-1zM35 26h1v1h-1zM4 29h1v1h-1zM49 29h1v1h-1zM4 30h1v1h-1zM21 30h1v1h-1zM29 31h1v1h-1zM22 32h1v1h-1zM20 34h1v1h-1zM46 34h1v1h-1zM50 34h1v1h-1zM3 37h1v1h-1zM8 37h1v1h-1zM24 37h1v1h-1zM20 38h1v1h-1zM20 39h1v1h-1zM24 39h1v1h-1zM32 39h1v1h-1zM20 40h1v1h-1zM28 40h1v1h-1zM39 40h1v1h-1zM20 41h1v1h-1zM29 41h1v1h-1zM28 42h1v1h-1zM24 43h2v1h-2zM32 43h1v1h-1zM41 43h1v1h-1zM20 44h1v1h-1zM22 44h1v1h-1zM29 44h1v1h-1zM49 44h1v1h-1zM5 45h1v1h-1zM8 45h1v1h-1zM32 45h1v1h-1zM45 45h2v1h-2zM49 45h1v1h-1zM5 46h1v1h-1zM35 46h1v1h-1zM40 46h1v1h-1zM50 46h1v1h-1zM18 48h1v1h-1zM45 48h1v1h-1zM45 49h1v1h-1zM12 50h1v1h-1zM3 51h2v1h-2zM19 51h1v1h-1zM9 52h1v1h-1zM45 52h1v1h-1zM13 53h1v1h-1zM15 53h1v1h-1zM13 54h1v1h-1zM1 55h1v1h-1zM10 55h1v1h-1zM2 56h1v1h-1zM11 56h1v1h-1zM15 57h1v1h-1zM0 59h1v1h-1zM9 59h1v1h-1zM15 59h1v1h-1zM29 59h1v1h-1zM6 60h1v1h-1zM29 60h1v1h-1zM9 61h1v1h-1zM9 62h1v1h-1zM12 62h2v1h-2zM5 65h1v1h-1zM14 65h1v1h-1zM0 67h1v1h-1zM8 67h1v1h-1zM6 68h1v1h-1zM29 69h1v1h-1zM2 70h1v1h-1zM19 70h1v1h-1zM5 71h1v1h-1zM11 71h1v1h-1zM46 71h1v1h-1zM5 72h2v1h-2zM2 73h1v1h-1zM5 74h1v1h-1zM4 75h1v1h-1zM19 75h1v1h-1zM5 76h1v1h-1zM8 76h1v1h-1zM29 76h1v1h-1zM46 76h1v1h-1zM15 78h1v1h-1zM5 79h1v1h-1zM9 79h1v1h-1zM19 81h1v1h-1zM13 82h1v1h-1zM9 83h1v1h-1zM46 83h1v1h-1zM3 84h1v1h-1zM11 84h1v1h-1zM45 84h1v1h-1zM5 85h1v1h-1zM7 85h1v1h-1zM29 85h1v1h-1zM3 86h1v1h-1zM9 86h1v1h-1zM10 87h1v1h-1zM30 87h1v1h-1zM4 88h1v1h-1zM6 88h1v1h-1zM4 89h1v1h-1zM46 89h1v1h-1zM1 90h1v1h-1zM4 90h1v1h-1zM29 90h1v1h-1zM5 91h1v1h-1zM11 93h1v1h-1zM45 93h1v1h-1zM1 94h1v1h-1zM5 94h1v1h-1zM15 94h1v1h-1zM5 96h1v1h-1zM8 96h1v1h-1zM15 96h1v1h-1zM4 97h1v1h-1zM10 97h1v1h-1zM4 98h1v1h-1zM15 98h1v1h-1zM12 99h1v1h-1z"/>
<path fill="#b5b5ff" d="M5 0h1v1h-1zM18 0h1v1h-1zM18 1h1v1h-1zM22 1h1v1h-1zM29 1h1v1h-1zM21 2h1v1h-1zM24 2h1v1h-1zM28 2h1v1h-1zM38 2h1v1h-1zM40 2h1v1h-1zM4 3h1v1h-1zM17 3h1v1h-1zM25 3h2v1h-2zM21 4h1v1h-1zM23 4h1v1h-1zM27 4h1v1h-1zM29 4h1v1h-1zM35 4h1v1h-1zM38 4h1v1h-1zM40 4h1v1h-1zM18 5h1v1h-1zM20 5h1v1h-1zM28 5h1v1h-1zM35 5h1v1h-1zM45 5h1v1h-1zM27 6h1v1h-1zM17 7h1v1h-1zM21 7h1v1h-1zM39 7h1v1h-1zM45 7h1v1h-1zM8 8h1v1h-1zM16 8h1v1h-1zM25 8h1v1h-1zM31 8h1v1h-1zM38 8h1v1h-1zM5 9h1v1h-1zM24 9h1v1h-1zM29 9h1v1h-1zM31 9h1v1h-1zM50 9h1v1h-1zM27 10h1v1h-1zM32 10h1v1h-1zM38 10h1v1h-1zM26 11h1v1h-1zM23 12h1v1h-1zM25 12h1v1h-1zM39 12h1v1h-1zM9 13h1v1h-1zM16 13h1v1h-1zM21 13h1v1h-1zM41 13h1v1h-1zM16 14h1v1h-1zM39 14h1v1h-1zM3 15h1v1h-1zM31 15h1v1h-1zM4 16h1v1h-1zM17 16h1v1h-1zM20 16h1v1h-1zM41 16h1v1h-1zM49 16h1v1h-1zM5 18h1v1h-1zM24 19h1v1h-1zM49 19h1v1h-1zM4 20h1v1h-1zM21 20h2v1h-2zM45 20h1v1h-1zM37 21h1v1h-1zM41 21h1v1h-1zM28 22h2v1h-2zM4 23h1v1h-1zM3 25h1v1h-1zM5 25h1v1h-1zM22 25h1v1h-1zM38 25h1v1h-1zM49 25h1v1h-1zM8 26h1v1h-1zM45 26h2v1h-2zM4 27h1v1h-1zM22 27h1v1h-1zM40 28h1v1h-1zM3 29h1v1h-1zM28 29h2v1h-2zM38 29h1v1h-1zM3 30h1v1h-1zM5 30h1v1h-1zM20 30h1v1h-1zM49 30h1v1h-1zM22 31h1v1h-1zM24 32h1v1h-1zM29 33h1v1h-1zM21 34h2v1h-2zM5 35h1v1h-1zM18 35h1v1h-1zM22 35h1v1h-1zM45 35h1v1h-1zM50 35h1v1h-1zM50 36h1v1h-1zM39 39h1v1h-1zM5 40h1v1h-1zM18 40h1v1h-1zM35 40h1v1h-1zM18 41h1v1h-1zM24 41h1v1h-1zM32 41h1v1h-1zM41 41h1v1h-1zM20 42h1v1h-1zM18 43h1v1h-1zM20 43h1v1h-1zM37 43h1v1h-1zM50 43h1v1h-1zM3 44h2v1h-2zM28 45h1v1h-1zM18 46h1v1h-1zM32 46h1v1h-1zM38 47h1v1h-1zM5 48h1v1h-1zM40 48h1v1h-1zM18 49h1v1h-1zM39 49h1v1h-1zM7 50h1v1h-1zM36 50h1v1h-1zM19 52h1v1h-1zM11 53h1v1h-1zM46 53h1v1h-1zM3 54h1v1h-1zM8 54h1v1h-1zM7 55h1v1h-1zM29 56h1v1h-1zM10 57h1v1h-1zM14 57h1v1h-1zM19 57h1v1h-1zM29 57h1v1h-1zM1 58h3v1h-3zM2 59h1v1h-1zM13 59h1v1h-1zM3 60h1v1h-1zM2 61h1v1h-1zM6 61h1v1h-1zM45 62h2v1h-2zM7 63h1v1h-1zM10 63h1v1h-1zM45 63h1v1h-1zM2 64h1v1h-1zM10 64h1v1h-1zM15 64h1v1h-1zM9 66h1v1h-1zM11 66h1v1h-1zM1 67h1v1h-1zM6 67h1v1h-1zM15 67h1v1h-1zM2 68h1v1h-1zM15 68h1v1h-1zM45 68h1v1h-1zM1 69h1v1h-1zM3 69h1v1h-1zM15 69h1v1h-1zM45 69h1v1h-1zM11 70h1v1h-1zM29 70h1v1h-1zM2 71h3v1h-3zM19 71h1v1h-1zM29 71h1v1h-1zM19 72h1v1h-1zM27 72h1v1h-1zM29 72h1v1h-1zM51 72h1v1h-1zM7 73h1v1h-1zM13 73h1v1h-1zM45 73h1v1h-1zM1 74h1v1h-1zM4 74h1v1h-1zM5 75h1v1h-1zM30 75h1v1h-1zM45 76h1v1h-1zM13 77h1v1h-1zM2 80h2v1h-2zM10 80h1v1h-1zM1 81h1v1h-1zM3 81h1v1h-1zM10 81h1v1h-1zM3 82h1v1h-1zM10 82h1v1h-1zM30 82h1v1h-1zM10 84h1v1h-1zM13 84h1v1h-1zM3 85h1v1h-1zM19 85h1v1h-1zM2 86h1v1h-1zM10 86h1v1h-1zM0 87h1v1h-1zM2 87h2v1h-2zM6 87h1v1h-1zM10 88h1v1h-1zM30 88h1v1h-1zM25 89h1v1h-1zM3 90h1v1h-1zM5 90h1v1h-1zM3 92h1v1h-1zM15 92h1v1h-1zM19 92h1v1h-1zM0 93h1v1h-1zM10 94h1v1h-1zM29 94h1v1h-1zM3 95h1v1h-1zM8 95h3v1h-3zM1 96h1v1h-1zM4 96h1v1h-1zM10 96h1v1h-1zM12 96h1v1h-1zM19 96h1v1h-1zM29 96h1v1h-1zM9 97h1v1h-1zM1 98h1v1h-1zM1 99h2v1h-2zM29 99h1v1h-1z"/>
<path fill="#bfbfff" d="M3 0h1v1h-1zM16 0h1v1h-1zM24 0h1v1h-1zM35 0h1v1h-1zM46 0h1v1h-1zM16 1h2v1h-2zM24 1h1v1h-1zM49 1h1v1h-1zM4 2h1v1h-1zM25 2h1v1h-1zM48 2h2v1h-2zM5 3h1v1h-1zM8 3h1v1h-1zM20 3h1v1h-1zM27 3h2v1h-2zM31 3h1v1h-1zM39 3h1v1h-1zM46 3h1v1h-1zM8 4h2v1h-2zM31 4h1v1h-1zM36 4h1v1h-1zM39 4h1v1h-1zM46 4h1v1h-1zM9 5h1v1h-1zM25 5h1v1h-1zM34 5h1v1h-1zM42 5h1v1h-1zM50 5h1v1h-1zM5 6h1v1h-1zM35 6h1v1h-1zM38 6h1v1h-1zM4 7h1v1h-1zM20 7h1v1h-1zM22 7h3v1h-3zM35 7h1v1h-1zM38 7h1v1h-1zM40 8h1v1h-1zM48 8h1v1h-1zM50 8h1v1h-1zM16 9h2v1h-2zM20 9h1v1h-1zM26 9h1v1h-1zM28 9h1v1h-1zM32 9h1v1h-1zM46 9h1v1h-1zM49 9h1v1h-1zM3 10h3v1h-3zM8 10h1v1h-1zM20 10h1v1h-1zM25 10h1v1h-1zM29 10h1v1h-1zM45 10h1v1h-1zM8 11h1v1h-1zM25 11h1v1h-1zM27 11h1v1h-1zM32 11h1v1h-1zM48 11h1v1h-1zM46 12h1v1h-1zM4 13h1v1h-1zM18 13h1v1h-1zM26 13h1v1h-1zM49 13h1v1h-1zM20 14h1v1h-1zM27 14h1v1h-1zM8 15h1v1h-1zM23 15h1v1h-1zM25 15h1v1h-1zM27 15h1v1h-1zM48 15h2v1h-2zM22 16h1v1h-1zM25 16h1v1h-1zM31 16h1v1h-1zM3 17h1v1h-1zM32 17h1v1h-1zM4 18h1v1h-1zM9 18h1v1h-1zM16 18h2v1h-2zM25 18h1v1h-1zM29 18h1v1h-1zM5 19h1v1h-1zM20 19h1v1h-1zM32 20h1v1h-1zM35 20h1v1h-1zM39 20h1v1h-1zM41 20h1v1h-1zM49 20h1v1h-1zM20 21h2v1h-2zM24 22h1v1h-1zM35 22h1v1h-1zM5 23h1v1h-1zM22 23h1v1h-1zM5 24h1v1h-1zM16 24h1v1h-1zM18 24h1v1h-1zM30 24h1v1h-1zM4 25h1v1h-1zM39 25h1v1h-1zM40 26h2v1h-2zM3 27h1v1h-1zM4 28h1v1h-1zM21 28h2v1h-2zM21 29h1v1h-1zM40 29h1v1h-1zM38 30h1v1h-1zM50 30h1v1h-1zM38 31h1v1h-1zM50 32h1v1h-1zM45 33h1v1h-1zM49 33h1v1h-1zM29 34h1v1h-1zM49 34h1v1h-1zM25 35h1v1h-1zM32 35h1v1h-1zM37 35h2v1h-2zM24 36h1v1h-1zM32 36h1v1h-1zM18 37h1v1h-1zM21 37h1v1h-1zM32 37h1v1h-1zM30 38h1v1h-1zM37 38h1v1h-1zM40 38h1v1h-1zM18 39h1v1h-1zM37 40h1v1h-1zM38 41h1v1h-1zM40 41h1v1h-1zM5 42h1v1h-1zM22 42h1v1h-1zM5 43h1v1h-1zM28 44h1v1h-1zM46 44h1v1h-1zM20 45h1v1h-1zM29 45h1v1h-1zM41 46h1v1h-1zM23 48h1v1h-1zM24 49h1v1h-1zM32 49h1v1h-1zM50 49h1v1h-1zM1 50h1v1h-1zM5 50h1v1h-1zM45 50h1v1h-1zM2 52h1v1h-1zM29 52h1v1h-1zM46 52h1v1h-1zM2 55h1v1h-1zM19 55h1v1h-1zM29 55h1v1h-1zM45 55h1v1h-1zM11 57h1v1h-1zM4 58h1v1h-1zM12 58h1v1h-1zM8 59h1v1h-1zM11 59h1v1h-1zM8 60h1v1h-1zM13 60h1v1h-1zM45 60h1v1h-1zM1 62h1v1h-1zM3 62h1v1h-1zM7 62h2v1h-2zM13 63h1v1h-1zM5 64h1v1h-1zM7 64h2v1h-2zM11 64h1v1h-1zM46 64h1v1h-1zM2 65h1v1h-1zM45 65h1v1h-1zM1 66h1v1h-1zM5 66h1v1h-1zM7 66h1v1h-1zM0 68h1v1h-1zM10 68h1v1h-1zM4 69h1v1h-1zM8 69h1v1h-1zM14 69h1v1h-1zM1 70h1v1h-1zM5 70h2v1h-2zM9 70h1v1h-1zM10 72h1v1h-1zM8 73h1v1h-1zM11 73h1v1h-1zM19 73h1v1h-1zM45 75h1v1h-1zM2 76h1v1h-1zM7 76h1v1h-1zM11 76h1v1h-1zM0 77h1v1h-1zM0 79h1v1h-1zM7 79h1v1h-1zM19 80h1v1h-1zM4 81h1v1h-1zM6 81h1v1h-1zM29 81h1v1h-1zM46 81h1v1h-1zM0 82h1v1h-1zM6 82h1v1h-1zM8 82h1v1h-1zM10 83h1v1h-1zM8 84h1v1h-1zM46 84h1v1h-1zM10 85h1v1h-1zM13 85h1v1h-1zM6 86h1v1h-1zM13 87h1v1h-1zM48 87h1v1h-1zM1 88h1v1h-1zM7 88h2v1h-2zM11 89h1v1h-1zM19 89h1v1h-1zM45 89h1v1h-1zM13 90h1v1h-1zM15 91h1v1h-1zM45 91h1v1h-1zM2 92h1v1h-1zM5 92h1v1h-1zM30 92h1v1h-1zM4 93h1v1h-1zM3 94h1v1h-1zM19 94h1v1h-1zM46 94h1v1h-1zM1 95h1v1h-1zM5 95h1v1h-1zM19 95h1v1h-1zM2 96h1v1h-1zM0 98h1v1h-1zM10 98h1v1h-1zM12 98h1v1h-1zM24 98h1v1h-1zM45 98h1v1h-1zM7 99h1v1h-1z"/>
<path fill="#cacaff" d="M17 0h1v1h-1zM22 0h2v1h-2zM27 0h2v1h-2zM38 0h1v1h-1zM45 0h1v1h-1zM49 0h2v1h-2zM32 1h1v1h-1zM41 1h1v1h-1zM16 2h1v1h-1zM20 2h1v1h-1zM22 2h1v1h-1zM27 2h1v1h-1zM29 2h1v1h-1zM32 2h1v1h-1zM35 2h1v1h-1zM9 3h1v1h-1zM16 3h1v1h-1zM34 3h1v1h-1zM42 3h1v1h-1zM48 3h1v1h-1zM50 3h1v1h-1zM24 4h1v1h-1zM28 4h1v1h-1zM41 4h1v1h-1zM38 5h1v1h-1zM18 6h1v1h-1zM23 6h1v1h-1zM26 6h1v1h-1zM32 6h1v1h-1zM37 6h1v1h-1zM3 7h1v1h-1zM5 7h1v1h-1zM8 7h1v1h-1zM26 7h2v1h-2zM31 7h1v1h-1zM34 7h1v1h-1zM40 7h2v1h-2zM49 7h2v1h-2zM9 8h1v1h-1zM20 8h2v1h-2zM26 8h2v1h-2zM21 9h1v1h-1zM23 9h1v1h-1zM39 9h1v1h-1zM41 9h1v1h-1zM45 9h1v1h-1zM18 10h1v1h-1zM21 10h3v1h-3zM31 10h1v1h-1zM39 10h2v1h-2zM46 10h1v1h-1zM49 10h1v1h-1zM9 11h1v1h-1zM17 11h1v1h-1zM21 11h1v1h-1zM4 12h1v1h-1zM9 12h1v1h-1zM26 12h1v1h-1zM29 12h1v1h-1zM31 12h1v1h-1zM8 13h1v1h-1zM20 13h1v1h-1zM22 13h1v1h-1zM27 13h1v1h-1zM29 13h1v1h-1zM35 13h1v1h-1zM37 13h1v1h-1zM45 13h1v1h-1zM50 13h1v1h-1zM21 14h1v1h-1zM50 14h1v1h-1zM16 15h1v1h-1zM29 15h1v1h-1zM32 15h1v1h-1zM39 15h1v1h-1zM47 15h1v1h-1zM3 16h1v1h-1zM9 16h1v1h-1zM23 16h1v1h-1zM32 16h1v1h-1zM38 16h1v1h-1zM46 16h1v1h-1zM8 17h2v1h-2zM16 17h1v1h-1zM22 17h1v1h-1zM24 17h1v1h-1zM31 17h1v1h-1zM18 18h1v1h-1zM35 18h1v1h-1zM49 18h1v1h-1zM17 19h2v1h-2zM22 19h2v1h-2zM38 19h2v1h-2zM45 19h2v1h-2zM48 19h1v1h-1zM5 20h1v1h-1zM8 20h1v1h-1zM18 20h1v1h-1zM24 20h1v1h-1zM26 20h1v1h-1zM37 20h1v1h-1zM48 20h1v1h-1zM35 21h1v1h-1zM31 23h2v1h-2zM41 25h1v1h-1zM29 26h1v1h-1zM49 27h1v1h-1zM3 28h1v1h-1zM38 28h2v1h-2zM46 28h1v1h-1zM22 29h1v1h-1zM39 29h1v1h-1zM22 30h1v1h-1zM24 30h1v1h-1zM35 30h1v1h-1zM39 30h2v1h-2zM3 31h1v1h-1zM5 31h1v1h-1zM28 31h1v1h-1zM4 32h1v1h-1zM35 32h1v1h-1zM38 32h1v1h-1zM4 33h1v1h-1zM21 33h1v1h-1zM5 34h1v1h-1zM31 34h1v1h-1zM24 35h1v1h-1zM40 35h1v1h-1zM5 36h1v1h-1zM37 36h1v1h-1zM40 36h2v1h-2zM37 37h1v1h-1zM40 37h2v1h-2zM5 38h1v1h-1zM41 38h1v1h-1zM35 39h1v1h-1zM49 40h1v1h-1zM8 41h1v1h-1zM3 42h1v1h-1zM8 42h1v1h-1zM24 42h1v1h-1zM34 42h1v1h-1zM37 42h1v1h-1zM41 42h1v1h-1zM50 42h1v1h-1zM40 43h1v1h-1zM5 44h1v1h-1zM21 44h1v1h-1zM4 45h1v1h-1zM37 46h1v1h-1zM50 47h1v1h-1zM25 48h1v1h-1zM37 48h1v1h-1zM44 48h1v1h-1zM20 49h1v1h-1zM37 49h1v1h-1zM40 49h2v1h-2zM0 50h1v1h-1zM2 50h1v1h-1zM5 51h1v1h-1zM13 52h1v1h-1zM9 53h1v1h-1zM5 54h1v1h-1zM11 54h1v1h-1zM10 56h1v1h-1zM3 57h1v1h-1zM8 57h1v1h-1zM0 58h1v1h-1zM7 58h2v1h-2zM46 58h1v1h-1zM51 59h1v1h-1zM19 60h1v1h-1zM3 61h1v1h-1zM13 61h1v1h-1zM0 62h1v1h-1zM50 62h1v1h-1zM6 63h1v1h-1zM19 63h1v1h-1zM4 64h1v1h-1zM29 64h1v1h-1zM19 65h1v1h-1zM5 67h1v1h-1zM4 68h1v1h-1zM11 68h1v1h-1zM13 68h1v1h-1zM13 69h1v1h-1zM19 69h1v1h-1zM13 70h1v1h-1zM1 71h1v1h-1zM9 71h1v1h-1zM34 72h1v1h-1zM45 72h1v1h-1zM4 73h2v1h-2zM9 73h1v1h-1zM9 74h1v1h-1zM11 74h1v1h-1zM13 74h1v1h-1zM15 74h1v1h-1zM19 74h1v1h-1zM29 74h1v1h-1zM6 75h1v1h-1zM13 75h1v1h-1zM29 75h1v1h-1zM9 76h1v1h-1zM5 77h1v1h-1zM51 77h1v1h-1zM13 78h1v1h-1zM19 78h1v1h-1zM29 78h1v1h-1zM3 79h1v1h-1zM6 79h1v1h-1zM5 80h1v1h-1zM7 80h2v1h-2zM15 80h1v1h-1zM5 81h1v1h-1zM13 81h1v1h-1zM45 81h1v1h-1zM2 82h1v1h-1zM9 82h1v1h-1zM42 82h1v1h-1zM2 83h2v1h-2zM5 83h1v1h-1zM19 84h1v1h-1zM9 85h1v1h-1zM7 86h1v1h-1zM19 86h1v1h-1zM46 87h1v1h-1zM0 88h1v1h-1zM2 89h1v1h-1zM29 89h1v1h-1zM11 90h1v1h-1zM9 91h1v1h-1zM7 92h1v1h-1zM29 92h1v1h-1zM0 94h1v1h-1zM7 94h1v1h-1zM11 95h1v1h-1zM3 97h1v1h-1zM11 97h1v1h-1zM19 97h1v1h-1zM46 97h1v1h-1zM2 98h1v1h-1zM6 98h1v1h-1zM29 98h1v1h-1zM46 98h1v1h-1zM0 99h1v1h-1z"/>
<path fill="#d4d4ff" d="M2 0h1v1h-1zM4 0h1v1h-1zM20 0h1v1h-1zM31 0h2v1h-2zM3 1h1v1h-1zM5 1h1v1h-1zM9 1h1v1h-1zM23 1h1v1h-1zM26 1h1v1h-1zM28 1h1v1h-1zM35 1h1v1h-1zM40 1h1v1h-1zM44 1h1v1h-1zM50 1h1v1h-1zM9 2h1v1h-1zM17 2h1v1h-1zM23 2h1v1h-1zM50 2h1v1h-1zM18 3h1v1h-1zM24 3h1v1h-1zM29 3h1v1h-1zM35 3h1v1h-1zM38 3h1v1h-1zM49 3h1v1h-1zM3 4h2v1h-2zM16 4h1v1h-1zM20 4h1v1h-1zM32 4h1v1h-1zM34 4h1v1h-1zM45 4h1v1h-1zM4 5h1v1h-1zM8 5h1v1h-1zM17 5h1v1h-1zM27 5h1v1h-1zM4 6h1v1h-1zM8 6h2v1h-2zM28 6h2v1h-2zM40 6h1v1h-1zM46 6h1v1h-1zM13 7h1v1h-1zM18 7h1v1h-1zM32 7h1v1h-1zM22 8h1v1h-1zM28 8h1v1h-1zM42 8h1v1h-1zM3 9h2v1h-2zM13 9h1v1h-1zM18 9h1v1h-1zM22 9h1v1h-1zM27 9h1v1h-1zM40 9h1v1h-1zM48 9h1v1h-1zM9 10h1v1h-1zM17 10h1v1h-1zM24 10h1v1h-1zM26 10h1v1h-1zM28 10h1v1h-1zM35 10h1v1h-1zM41 10h1v1h-1zM48 10h1v1h-1zM50 10h1v1h-1zM4 11h2v1h-2zM22 11h1v1h-1zM35 11h1v1h-1zM41 11h1v1h-1zM45 11h1v1h-1zM3 12h1v1h-1zM16 12h1v1h-1zM18 12h1v1h-1zM28 12h1v1h-1zM32 12h1v1h-1zM36 12h1v1h-1zM38 12h1v1h-1zM40 12h1v1h-1zM3 13h1v1h-1zM28 13h1v1h-1zM38 13h2v1h-2zM5 14h1v1h-1zM9 14h1v1h-1zM32 14h1v1h-1zM35 14h1v1h-1zM40 14h1v1h-1zM5 15h1v1h-1zM17 15h1v1h-1zM41 15h1v1h-1zM50 15h1v1h-1zM17 17h2v1h-2zM20 17h1v1h-1zM25 17h1v1h-1zM29 17h1v1h-1zM40 17h1v1h-1zM3 18h1v1h-1zM26 18h1v1h-1zM28 18h1v1h-1zM31 18h2v1h-2zM48 18h1v1h-1zM50 18h1v1h-1zM4 19h1v1h-1zM3 20h1v1h-1zM17 20h1v1h-1zM28 20h1v1h-1zM46 20h1v1h-1zM8 21h1v1h-1zM18 21h1v1h-1zM38 21h1v1h-1zM18 22h1v1h-1zM26 23h1v1h-1zM50 23h1v1h-1zM23 24h1v1h-1zM30 25h1v1h-1zM35 25h1v1h-1zM37 25h1v1h-1zM44 25h1v1h-1zM16 26h1v1h-1zM24 26h2v1h-2zM37 26h1v1h-1zM50 26h1v1h-1zM38 27h1v1h-1zM8 28h1v1h-1zM5 29h1v1h-1zM32 29h1v1h-1zM50 29h1v1h-1zM21 31h1v1h-1zM39 31h1v1h-1zM46 31h1v1h-1zM32 32h1v1h-1zM41 32h1v1h-1zM3 33h1v1h-1zM32 33h1v1h-1zM38 33h1v1h-1zM8 34h1v1h-1zM24 34h1v1h-1zM32 34h1v1h-1zM8 35h1v1h-1zM41 35h1v1h-1zM37 39h1v1h-1zM41 39h1v1h-1zM50 39h1v1h-1zM24 40h1v1h-1zM26 40h1v1h-1zM30 40h1v1h-1zM41 40h1v1h-1zM31 41h1v1h-1zM35 41h1v1h-1zM44 41h1v1h-1zM50 41h1v1h-1zM35 42h1v1h-1zM46 42h1v1h-1zM17 43h1v1h-1zM32 44h1v1h-1zM35 44h1v1h-1zM37 44h1v1h-1zM3 45h1v1h-1zM18 45h1v1h-1zM24 45h1v1h-1zM37 45h2v1h-2zM50 45h1v1h-1zM8 46h1v1h-1zM16 46h1v1h-1zM27 46h1v1h-1zM5 47h1v1h-1zM32 47h1v1h-1zM35 47h1v1h-1zM41 47h1v1h-1zM27 48h1v1h-1zM31 48h1v1h-1zM8 49h1v1h-1zM44 49h1v1h-1zM3 50h2v1h-2zM9 50h1v1h-1zM11 50h1v1h-1zM30 50h1v1h-1zM0 51h1v1h-1zM9 51h1v1h-1zM13 51h1v1h-1zM26 51h1v1h-1zM45 51h1v1h-1zM7 52h1v1h-1zM11 52h1v1h-1zM7 53h1v1h-1zM51 53h1v1h-1zM10 54h1v1h-1zM15 54h1v1h-1zM27 54h1v1h-1zM29 54h1v1h-1zM13 55h1v1h-1zM0 56h1v1h-1zM6 56h1v1h-1zM36 57h1v1h-1zM6 58h1v1h-1zM10 58h1v1h-1zM46 59h1v1h-1zM24 60h1v1h-1zM15 61h1v1h-1zM2 62h1v1h-1zM0 63h1v1h-1zM13 65h1v1h-1zM51 66h1v1h-1zM7 67h1v1h-1zM8 68h1v1h-1zM19 68h1v1h-1zM7 69h1v1h-1zM0 70h1v1h-1zM7 70h1v1h-1zM10 71h1v1h-1zM13 71h1v1h-1zM2 72h1v1h-1zM50 72h1v1h-1zM0 73h1v1h-1zM29 73h1v1h-1zM47 73h1v1h-1zM0 74h1v1h-1zM10 74h1v1h-1zM46 74h1v1h-1zM46 75h1v1h-1zM51 75h1v1h-1zM2 78h1v1h-1zM7 78h1v1h-1zM46 78h1v1h-1zM21 79h1v1h-1zM1 80h1v1h-1zM4 80h1v1h-1zM29 80h1v1h-1zM47 81h1v1h-1zM23 82h1v1h-1zM44 82h1v1h-1zM4 84h1v1h-1zM11 85h1v1h-1zM11 86h1v1h-1zM46 86h1v1h-1zM1 87h1v1h-1zM21 87h1v1h-1zM45 87h1v1h-1zM9 88h1v1h-1zM19 88h1v1h-1zM7 90h1v1h-1zM15 90h1v1h-1zM19 91h1v1h-1zM46 91h1v1h-1zM45 92h2v1h-2zM9 93h1v1h-1zM19 93h1v1h-1zM9 94h1v1h-1zM29 95h1v1h-1zM46 95h1v1h-1zM0 97h1v1h-1zM15 97h1v1h-1zM8 99h1v1h-1z"/>
<path fill="#dfdfff" d="M8 0h1v1h-1zM39 0h1v1h-1zM27 1h1v1h-1zM39 1h1v1h-1zM42 1h1v1h-1zM3 2h1v1h-1zM13 2h1v1h-1zM31 2h1v1h-1zM2 3h1v1h-1zM13 3h1v1h-1zM21 3h1v1h-1zM41 3h1v1h-1zM45 3h1v1h-1zM22 4h1v1h-1zM26 4h1v1h-1zM37 4h1v1h-1zM37 5h1v1h-1zM39 5h1v1h-1zM41 5h1v1h-1zM44 5h1v1h-1zM47 5h1v1h-1zM3 6h1v1h-1zM17 6h1v1h-1zM24 6h2v1h-2zM31 6h1v1h-1zM39 6h1v1h-1zM45 6h1v1h-1zM29 7h1v1h-1zM46 7h1v1h-1zM24 8h1v1h-1zM34 8h1v1h-1zM9 9h1v1h-1zM35 9h1v1h-1zM37 9h1v1h-1zM44 10h1v1h-1zM3 11h1v1h-1zM20 11h1v1h-1zM29 11h1v1h-1zM38 11h1v1h-1zM49 11h1v1h-1zM5 12h1v1h-1zM45 12h1v1h-1zM48 12h3v1h-3zM44 13h1v1h-1zM3 14h2v1h-2zM22 14h1v1h-1zM41 14h1v1h-1zM4 15h1v1h-1zM9 15h1v1h-1zM21 15h1v1h-1zM24 15h1v1h-1zM34 15h1v1h-1zM37 15h1v1h-1zM40 15h1v1h-1zM13 16h1v1h-1zM35 16h2v1h-2zM2 17h1v1h-1zM21 17h1v1h-1zM23 17h1v1h-1zM28 17h1v1h-1zM35 17h1v1h-1zM48 17h1v1h-1zM50 17h1v1h-1zM23 18h1v1h-1zM38 18h1v1h-1zM2 19h1v1h-1zM8 19h1v1h-1zM21 19h1v1h-1zM25 19h1v1h-1zM32 19h1v1h-1zM41 19h1v1h-1zM11 20h1v1h-1zM34 20h1v1h-1zM38 20h1v1h-1zM50 20h1v1h-1zM5 21h1v1h-1zM47 21h1v1h-1zM50 22h1v1h-1zM26 24h1v1h-1zM35 24h1v1h-1zM37 24h1v1h-1zM21 25h1v1h-1zM24 25h1v1h-1zM32 25h1v1h-1zM17 26h1v1h-1zM18 27h1v1h-1zM28 27h1v1h-1zM5 28h1v1h-1zM20 28h1v1h-1zM50 28h1v1h-1zM18 29h1v1h-1zM24 29h1v1h-1zM30 29h1v1h-1zM36 29h1v1h-1zM41 29h1v1h-1zM44 29h1v1h-1zM17 30h1v1h-1zM45 30h1v1h-1zM17 31h1v1h-1zM45 31h1v1h-1zM50 31h1v1h-1zM8 33h1v1h-1zM20 33h1v1h-1zM24 33h1v1h-1zM28 34h1v1h-1zM37 34h1v1h-1zM35 35h1v1h-1zM28 36h1v1h-1zM35 36h1v1h-1zM17 37h1v1h-1zM25 37h1v1h-1zM30 37h1v1h-1zM17 38h1v1h-1zM32 38h1v1h-1zM5 39h1v1h-1zM8 39h1v1h-1zM8 40h1v1h-1zM17 40h1v1h-1zM32 40h1v1h-1zM37 41h1v1h-1zM18 42h1v1h-1zM40 42h1v1h-1zM48 43h1v1h-1zM50 44h1v1h-1zM40 45h1v1h-1zM8 47h1v1h-1zM18 47h1v1h-1zM24 47h1v1h-1zM37 47h1v1h-1zM48 47h1v1h-1zM16 48h1v1h-1zM26 48h1v1h-1zM5 49h1v1h-1zM35 49h1v1h-1zM19 50h1v1h-1zM46 50h1v1h-1zM50 52h2v1h-2zM5 53h1v1h-1zM4 55h1v1h-1zM7 56h1v1h-1zM46 56h1v1h-1zM5 57h1v1h-1zM40 57h1v1h-1zM51 57h1v1h-1zM9 58h1v1h-1zM11 58h1v1h-1zM24 58h1v1h-1zM34 58h1v1h-1zM36 58h1v1h-1zM45 58h1v1h-1zM9 60h1v1h-1zM11 60h1v1h-1zM19 61h1v1h-1zM21 61h1v1h-1zM46 61h1v1h-1zM2 63h1v1h-1zM42 63h1v1h-1zM6 64h1v1h-1zM13 64h1v1h-1zM39 64h2v1h-2zM51 65h1v1h-1zM13 67h1v1h-1zM25 67h1v1h-1zM27 67h1v1h-1zM11 69h1v1h-1zM36 69h1v1h-1zM15 70h1v1h-1zM45 70h2v1h-2zM45 71h1v1h-1zM13 72h1v1h-1zM39 74h1v1h-1zM8 75h1v1h-1zM34 75h1v1h-1zM36 75h1v1h-1zM7 77h1v1h-1zM5 78h1v1h-1zM8 78h1v1h-1zM18 78h1v1h-1zM25 80h1v1h-1zM2 81h1v1h-1zM7 82h1v1h-1zM15 82h1v1h-1zM4 83h1v1h-1zM6 83h2v1h-2zM45 83h1v1h-1zM26 84h1v1h-1zM5 86h1v1h-1zM8 86h1v1h-1zM13 86h1v1h-1zM15 86h1v1h-1zM29 86h1v1h-1zM45 86h1v1h-1zM5 87h1v1h-1zM18 87h1v1h-1zM24 87h1v1h-1zM29 87h1v1h-1zM51 87h1v1h-1zM46 88h1v1h-1zM9 89h1v1h-1zM47 89h1v1h-1zM51 89h1v1h-1zM2 90h1v1h-1zM45 90h1v1h-1zM0 92h1v1h-1zM51 92h1v1h-1zM44 93h1v1h-1zM6 95h1v1h-1zM0 96h1v1h-1zM9 96h1v1h-1zM1 97h2v1h-2zM11 98h1v1h-1zM5 99h1v1h-1zM9 99h1v1h-1zM13 99h1v1h-1zM45 99h1v1h-1z"/>
<path fill="#eaeaff" d="M11 0h1v1h-1zM48 0h1v1h-1zM34 1h1v1h-1zM8 2h1v1h-1zM40 3h1v1h-1zM44 3h1v1h-1zM47 4h1v1h-1zM50 4h1v1h-1zM2 5h1v1h-1zM22 5h1v1h-1zM41 6h1v1h-1zM48 6h1v1h-1zM2 7h1v1h-1zM9 7h1v1h-1zM45 8h1v1h-1zM33 9h1v1h-1zM36 9h1v1h-1zM44 9h1v1h-1zM2 10h1v1h-1zM16 10h1v1h-1zM11 11h1v1h-1zM23 11h1v1h-1zM31 11h1v1h-1zM37 11h1v1h-1zM42 11h1v1h-1zM8 12h1v1h-1zM21 12h2v1h-2zM35 12h1v1h-1zM13 13h1v1h-1zM2 14h1v1h-1zM8 14h1v1h-1zM18 14h1v1h-1zM42 14h1v1h-1zM20 15h1v1h-1zM26 15h1v1h-1zM45 15h2v1h-2zM2 16h1v1h-1zM11 16h1v1h-1zM27 16h1v1h-1zM34 16h1v1h-1zM37 16h1v1h-1zM26 17h1v1h-1zM39 17h1v1h-1zM41 17h1v1h-1zM46 17h1v1h-1zM49 17h1v1h-1zM24 18h1v1h-1zM27 18h1v1h-1zM40 18h1v1h-1zM13 19h1v1h-1zM26 19h2v1h-2zM31 19h1v1h-1zM34 19h1v1h-1zM37 19h1v1h-1zM50 19h1v1h-1zM9 20h1v1h-1zM16 20h1v1h-1zM44 20h1v1h-1zM23 23h1v1h-1zM30 23h1v1h-1zM17 24h1v1h-1zM40 24h1v1h-1zM48 24h1v1h-1zM18 25h1v1h-1zM40 25h1v1h-1zM18 26h1v1h-1zM21 27h1v1h-1zM40 27h1v1h-1zM2 28h1v1h-1zM17 28h2v1h-2zM16 29h1v1h-1zM8 30h1v1h-1zM23 30h1v1h-1zM37 30h1v1h-1zM5 32h1v1h-1zM40 32h1v1h-1zM5 33h1v1h-1zM17 33h2v1h-2zM28 33h1v1h-1zM37 33h1v1h-1zM39 33h1v1h-1zM50 33h1v1h-1zM18 34h1v1h-1zM25 34h1v1h-1zM30 34h1v1h-1zM40 34h2v1h-2zM44 36h1v1h-1zM27 37h1v1h-1zM16 38h1v1h-1zM44 38h1v1h-1zM30 39h1v1h-1zM40 39h1v1h-1zM17 42h1v1h-1zM44 42h1v1h-1zM48 42h1v1h-1zM31 43h1v1h-1zM18 44h1v1h-1zM24 44h1v1h-1zM40 44h1v1h-1zM35 45h1v1h-1zM31 46h1v1h-1zM44 46h1v1h-1zM40 47h1v1h-1zM17 48h1v1h-1zM30 48h1v1h-1zM25 49h1v1h-1zM21 50h1v1h-1zM29 50h1v1h-1zM2 51h1v1h-1zM7 51h1v1h-1zM0 52h1v1h-1zM5 52h1v1h-1zM23 54h1v1h-1zM45 54h1v1h-1zM47 54h1v1h-1zM9 55h1v1h-1zM11 55h1v1h-1zM46 55h1v1h-1zM13 56h1v1h-1zM0 57h1v1h-1zM2 57h1v1h-1zM9 57h1v1h-1zM24 57h3v1h-3zM31 57h1v1h-1zM18 58h1v1h-1zM25 58h1v1h-1zM29 58h1v1h-1zM38 58h1v1h-1zM41 58h1v1h-1zM43 58h1v1h-1zM45 59h1v1h-1zM15 60h1v1h-1zM7 61h1v1h-1zM17 62h1v1h-1zM19 62h1v1h-1zM40 62h1v1h-1zM4 63h2v1h-2zM23 66h1v1h-1zM27 66h1v1h-1zM4 67h1v1h-1zM11 67h1v1h-1zM45 67h1v1h-1zM30 68h1v1h-1zM2 69h1v1h-1zM51 69h1v1h-1zM47 71h1v1h-1zM51 71h1v1h-1zM9 72h1v1h-1zM21 72h1v1h-1zM40 72h1v1h-1zM44 72h1v1h-1zM1 73h1v1h-1zM2 74h1v1h-1zM7 74h1v1h-1zM45 74h1v1h-1zM33 75h1v1h-1zM0 78h1v1h-1zM27 78h1v1h-1zM11 80h1v1h-1zM45 80h1v1h-1zM7 81h1v1h-1zM44 81h1v1h-1zM33 83h1v1h-1zM7 84h1v1h-1zM9 84h1v1h-1zM6 85h1v1h-1zM45 85h2v1h-2zM7 87h1v1h-1zM29 88h1v1h-1zM7 89h1v1h-1zM0 90h1v1h-1zM9 90h1v1h-1zM28 90h1v1h-1zM34 90h1v1h-1zM10 91h1v1h-1zM40 92h1v1h-1zM0 95h1v1h-1zM13 95h1v1h-1zM15 95h1v1h-1zM18 95h1v1h-1zM7 96h1v1h-1zM44 96h1v1h-1zM27 98h1v1h-1zM4 99h1v1h-1zM10 99h1v1h-1zM27 99h1v1h-1z"/>
<path fill="#f4f4ff" d="M13 0h1v1h-1zM30 0h1v1h-1zM41 0h1v1h-1zM8 1h1v1h-1zM13 1h1v1h-1zM36 1h1v1h-1zM48 1h1v1h-1zM26 2h1v1h-1zM37 2h1v1h-1zM43 2h2v1h-2zM47 2h1v1h-1zM3 3h1v1h-1zM30 3h1v1h-1zM5 4h1v1h-1zM11 5h1v1h-1zM2 6h1v1h-1zM13 6h1v1h-1zM42 6h1v1h-1zM49 6h1v1h-1zM36 7h1v1h-1zM47 7h1v1h-1zM11 8h1v1h-1zM36 8h1v1h-1zM11 9h1v1h-1zM2 11h1v1h-1zM16 11h1v1h-1zM18 11h1v1h-1zM39 11h1v1h-1zM44 11h1v1h-1zM46 11h1v1h-1zM11 12h1v1h-1zM20 12h1v1h-1zM24 12h1v1h-1zM25 13h1v1h-1zM34 13h1v1h-1zM47 13h1v1h-1zM11 14h1v1h-1zM13 14h1v1h-1zM34 14h1v1h-1zM49 14h1v1h-1zM13 15h1v1h-1zM18 15h1v1h-1zM38 15h1v1h-1zM5 17h1v1h-1zM11 17h1v1h-1zM13 17h1v1h-1zM8 18h1v1h-1zM13 18h1v1h-1zM20 18h3v1h-3zM36 18h1v1h-1zM39 18h1v1h-1zM45 18h2v1h-2zM9 19h1v1h-1zM11 19h1v1h-1zM35 19h1v1h-1zM20 20h1v1h-1zM42 20h1v1h-1zM47 20h1v1h-1zM24 21h1v1h-1zM20 22h1v1h-1zM26 22h1v1h-1zM32 22h1v1h-1zM41 22h1v1h-1zM35 23h1v1h-1zM8 25h1v1h-1zM50 25h1v1h-1zM30 26h1v1h-1zM44 26h1v1h-1zM5 27h1v1h-1zM8 27h1v1h-1zM29 27h1v1h-1zM41 27h1v1h-1zM44 27h1v1h-1zM46 27h1v1h-1zM23 28h1v1h-1zM28 28h1v1h-1zM35 28h1v1h-1zM37 28h1v1h-1zM41 28h1v1h-1zM45 28h1v1h-1zM49 28h1v1h-1zM8 29h1v1h-1zM25 29h1v1h-1zM16 30h1v1h-1zM18 30h1v1h-1zM44 30h1v1h-1zM46 30h1v1h-1zM8 31h1v1h-1zM18 31h1v1h-1zM24 31h1v1h-1zM32 31h1v1h-1zM35 31h1v1h-1zM37 31h1v1h-1zM40 31h1v1h-1zM17 32h1v1h-1zM23 32h1v1h-1zM25 32h1v1h-1zM27 32h1v1h-1zM31 32h1v1h-1zM23 33h1v1h-1zM30 33h1v1h-1zM16 34h1v1h-1zM27 34h1v1h-1zM23 35h1v1h-1zM26 35h1v1h-1zM30 35h1v1h-1zM39 35h1v1h-1zM17 36h1v1h-1zM26 36h1v1h-1zM44 37h1v1h-1zM31 39h1v1h-1zM23 40h1v1h-1zM27 40h1v1h-1zM31 40h1v1h-1zM44 40h1v1h-1zM27 41h1v1h-1zM23 43h1v1h-1zM8 44h1v1h-1zM41 44h1v1h-1zM17 45h1v1h-1zM44 45h1v1h-1zM48 46h1v1h-1zM25 47h1v1h-1zM17 49h1v1h-1zM23 49h1v1h-1zM26 49h1v1h-1zM31 49h1v1h-1zM33 49h1v1h-1zM41 50h1v1h-1zM43 50h1v1h-1zM17 51h2v1h-2zM24 51h1v1h-1zM28 51h1v1h-1zM42 51h2v1h-2zM46 51h1v1h-1zM21 52h1v1h-1zM23 52h1v1h-1zM1 54h1v1h-1zM42 54h1v1h-1zM51 55h1v1h-1zM15 56h1v1h-1zM21 56h1v1h-1zM7 57h1v1h-1zM13 57h1v1h-1zM22 57h1v1h-1zM38 57h1v1h-1zM21 58h1v1h-1zM28 58h1v1h-1zM40 58h1v1h-1zM17 60h1v1h-1zM51 60h1v1h-1zM31 61h1v1h-1zM9 63h1v1h-1zM26 63h1v1h-1zM36 63h1v1h-1zM39 63h1v1h-1zM47 63h1v1h-1zM23 64h1v1h-1zM34 64h1v1h-1zM51 64h1v1h-1zM11 65h1v1h-1zM9 67h1v1h-1zM35 67h1v1h-1zM40 67h1v1h-1zM48 67h1v1h-1zM1 68h1v1h-1zM7 68h1v1h-1zM9 68h1v1h-1zM21 68h1v1h-1zM26 68h1v1h-1zM6 69h1v1h-1zM17 69h1v1h-1zM40 69h1v1h-1zM46 69h1v1h-1zM51 70h1v1h-1zM25 72h1v1h-1zM31 72h1v1h-1zM41 72h1v1h-1zM43 72h1v1h-1zM32 73h1v1h-1zM17 74h1v1h-1zM43 74h1v1h-1zM2 75h1v1h-1zM27 75h1v1h-1zM19 76h1v1h-1zM40 76h1v1h-1zM44 77h1v1h-1zM26 78h1v1h-1zM28 78h1v1h-1zM50 78h1v1h-1zM31 79h1v1h-1zM33 79h1v1h-1zM13 80h1v1h-1zM9 81h1v1h-1zM51 81h1v1h-1zM5 82h1v1h-1zM11 82h1v1h-1zM21 82h1v1h-1zM23 83h1v1h-1zM37 84h1v1h-1zM2 85h1v1h-1zM47 85h1v1h-1zM34 86h1v1h-1zM42 86h1v1h-1zM23 87h1v1h-1zM26 87h1v1h-1zM2 88h1v1h-1zM5 88h1v1h-1zM11 88h1v1h-1zM27 89h1v1h-1zM38 90h1v1h-1zM46 90h1v1h-1zM1 91h1v1h-1zM13 91h1v1h-1zM13 92h1v1h-1zM26 92h1v1h-1zM46 93h1v1h-1zM11 94h1v1h-1zM27 95h1v1h-1zM51 95h1v1h-1zM18 96h1v1h-1zM45 96h1v1h-1zM7 97h1v1h-1zM13 97h1v1h-1zM13 98h1v1h-1zM16 98h1v1h-1zM23 98h1v1h-1zM50 98h1v1h-1zM11 99h1v1h-1z"/>
<path fill="#ffffff" d="M9 0h1v1h-1zM25 0h1v1h-1zM29 0h1v1h-1zM36 0h1v1h-1zM47 0h1v1h-1zM20 1h1v1h-1zM2 2h1v1h-1zM11 2h1v1h-1zM30 2h1v1h-1zM36 3h1v1h-1zM44 4h1v1h-1zM13 5h1v1h-1zM36 6h1v1h-1zM28 7h1v1h-1zM37 7h1v1h-1zM44 7h1v1h-1zM44 8h1v1h-1zM49 8h1v1h-1zM30 9h1v1h-1zM34 9h1v1h-1zM42 9h1v1h-1zM47 9h1v1h-1zM34 10h1v1h-1zM37 10h1v1h-1zM36 11h1v1h-1zM17 12h1v1h-1zM41 12h1v1h-1zM47 12h1v1h-1zM2 13h1v1h-1zM11 13h1v1h-1zM25 14h1v1h-1zM44 14h1v1h-1zM42 15h1v1h-1zM42 16h1v1h-1zM44 16h1v1h-1zM47 16h1v1h-1zM4 17h1v1h-1zM2 18h1v1h-1zM11 18h1v1h-1zM1 19h1v1h-1zM40 19h1v1h-1zM13 20h1v1h-1zM36 20h1v1h-1zM32 21h1v1h-1zM40 21h1v1h-1zM17 22h1v1h-1zM31 22h1v1h-1zM44 23h1v1h-1zM48 23h1v1h-1zM42 24h1v1h-1zM50 24h1v1h-1zM23 25h1v1h-1zM26 25h2v1h-2zM31 26h1v1h-1zM48 26h1v1h-1zM20 27h1v1h-1zM23 27h3v1h-3zM32 27h1v1h-1zM35 27h1v1h-1zM37 27h1v1h-1zM45 27h1v1h-1zM24 28h3v1h-3zM48 28h1v1h-1zM35 29h1v1h-1zM37 29h1v1h-1zM26 30h1v1h-1zM31 30h2v1h-2zM25 31h1v1h-1zM8 32h1v1h-1zM18 32h1v1h-1zM48 32h1v1h-1zM31 33h1v1h-1zM35 33h1v1h-1zM40 33h2v1h-2zM23 34h1v1h-1zM35 34h1v1h-1zM44 35h1v1h-1zM27 36h1v1h-1zM31 36h1v1h-1zM16 37h1v1h-1zM31 37h1v1h-1zM25 39h1v1h-1zM47 40h2v1h-2zM17 41h1v1h-1zM26 41h1v1h-1zM23 42h1v1h-1zM27 43h1v1h-1zM44 43h1v1h-1zM23 44h1v1h-1zM27 45h1v1h-1zM30 45h1v1h-1zM36 45h1v1h-1zM17 46h1v1h-1zM23 46h1v1h-1zM26 46h1v1h-1zM17 47h1v1h-1zM44 47h1v1h-1zM35 50h1v1h-1zM21 51h1v1h-1zM37 51h2v1h-2zM51 51h1v1h-1zM17 52h1v1h-1zM44 52h1v1h-1zM0 54h1v1h-1zM19 54h1v1h-1zM34 54h1v1h-1zM49 54h1v1h-1zM18 55h1v1h-1zM35 56h1v1h-1zM50 56h1v1h-1zM23 57h1v1h-1zM50 57h1v1h-1zM33 58h1v1h-1zM18 59h1v1h-1zM7 60h1v1h-1zM20 60h1v1h-1zM35 61h1v1h-1zM45 61h1v1h-1zM47 61h1v1h-1zM5 62h1v1h-1zM42 62h1v1h-1zM51 62h1v1h-1zM34 63h1v1h-1zM41 63h1v1h-1zM0 64h1v1h-1zM38 64h1v1h-1zM35 65h1v1h-1zM17 66h1v1h-1zM46 68h1v1h-1zM50 68h1v1h-1zM5 69h1v1h-1zM9 69h1v1h-1zM50 69h1v1h-1zM24 70h1v1h-1zM44 70h1v1h-1zM0 72h1v1h-1zM17 72h1v1h-1zM28 72h1v1h-1zM33 72h1v1h-1zM39 72h1v1h-1zM49 74h1v1h-1zM50 75h1v1h-1zM17 76h1v1h-1zM38 76h1v1h-1zM36 77h1v1h-1zM47 77h1v1h-1zM23 78h1v1h-1zM36 79h1v1h-1zM40 79h1v1h-1zM0 81h1v1h-1zM33 82h1v1h-1zM38 82h1v1h-1zM46 82h1v1h-1zM0 83h1v1h-1zM11 83h1v1h-1zM17 83h1v1h-1zM42 83h1v1h-1zM24 85h1v1h-1zM36 85h1v1h-1zM26 86h1v1h-1zM37 86h1v1h-1zM27 87h2v1h-2zM42 87h1v1h-1zM33 88h1v1h-1zM17 89h2v1h-2zM23 89h1v1h-1zM37 89h1v1h-1zM41 90h1v1h-1zM7 91h1v1h-1zM29 91h1v1h-1zM43 91h1v1h-1zM23 92h1v1h-1zM25 92h1v1h-1zM44 92h1v1h-1zM50 92h1v1h-1zM2 93h1v1h-1zM5 93h1v1h-1zM13 93h1v1h-1zM40 93h1v1h-1zM2 94h1v1h-1zM28 94h1v1h-1zM45 94h1v1h-1zM51 94h1v1h-1zM33 95h1v1h-1zM35 95h1v1h-1zM25 97h1v1h-1zM43 97h1v1h-1zM25 98h1v1h-1zM39 98h1v1h-1zM44 98h1v1h-1zM51 98h1v1h-1zM3 99h1v1h-1zM36 99h1v1h-1zM39 99h1v1h-1z"/>
<path fill="#fff4f4" d="M34 0h1v1h-1zM37 0h1v1h-1zM44 0h1v1h-1zM34 2h1v1h-1zM36 2h1v1h-1zM11 3h1v1h-1zM47 3h1v1h-1zM42 7h1v1h-1zM13 8h1v1h-1zM37 8h1v1h-1zM47 8h1v1h-1zM43 9h1v1h-1zM13 11h1v1h-1zM34 11h1v1h-1zM2 12h1v1h-1zM34 12h1v1h-1zM37 12h1v1h-1zM43 13h1v1h-1zM36 14h1v1h-1zM43 14h1v1h-1zM2 15h1v1h-1zM11 15h1v1h-1zM33 15h1v1h-1zM43 15h1v1h-1zM37 17h1v1h-1zM47 17h1v1h-1zM37 18h1v1h-1zM44 19h1v1h-1zM47 19h1v1h-1zM30 20h1v1h-1zM17 21h1v1h-1zM30 21h1v1h-1zM50 21h1v1h-1zM5 22h1v1h-1zM25 22h1v1h-1zM37 22h1v1h-1zM44 22h1v1h-1zM48 22h1v1h-1zM27 23h1v1h-1zM42 23h1v1h-1zM17 25h1v1h-1zM25 25h1v1h-1zM23 26h1v1h-1zM27 26h1v1h-1zM17 27h1v1h-1zM32 28h1v1h-1zM34 28h1v1h-1zM15 29h1v1h-1zM17 29h1v1h-1zM26 29h1v1h-1zM27 30h1v1h-1zM41 30h1v1h-1zM26 32h1v1h-1zM44 32h1v1h-1zM27 33h1v1h-1zM44 33h1v1h-1zM46 33h2v1h-2zM16 35h1v1h-1zM48 35h1v1h-1zM16 36h1v1h-1zM25 36h1v1h-1zM23 38h1v1h-1zM26 38h1v1h-1zM17 39h1v1h-1zM36 39h1v1h-1zM44 39h1v1h-1zM2 40h1v1h-1zM16 40h1v1h-1zM36 40h1v1h-1zM23 41h1v1h-1zM30 41h1v1h-1zM2 42h1v1h-1zM27 42h1v1h-1zM30 42h3v1h-3zM42 42h1v1h-1zM16 43h1v1h-1zM26 43h1v1h-1zM31 44h1v1h-1zM11 45h1v1h-1zM23 45h1v1h-1zM26 45h1v1h-1zM27 47h1v1h-1zM13 50h1v1h-1zM18 50h1v1h-1zM34 51h2v1h-2zM47 51h1v1h-1zM26 52h1v1h-1zM28 52h1v1h-1zM32 52h1v1h-1zM42 52h1v1h-1zM47 52h1v1h-1zM24 54h1v1h-1zM51 54h1v1h-1zM22 55h1v1h-1zM28 55h1v1h-1zM37 55h1v1h-1zM9 56h1v1h-1zM18 56h1v1h-1zM23 56h1v1h-1zM31 56h1v1h-1zM44 57h1v1h-1zM46 57h1v1h-1zM13 58h1v1h-1zM32 58h1v1h-1zM37 58h1v1h-1zM48 58h1v1h-1zM51 58h1v1h-1zM5 59h1v1h-1zM41 59h1v1h-1zM5 60h1v1h-1zM39 60h1v1h-1zM0 61h1v1h-1zM38 61h1v1h-1zM23 62h1v1h-1zM21 63h1v1h-1zM28 63h1v1h-1zM37 63h1v1h-1zM24 64h1v1h-1zM32 66h1v1h-1zM44 66h1v1h-1zM50 66h1v1h-1zM18 67h1v1h-1zM36 67h1v1h-1zM51 67h1v1h-1zM39 69h1v1h-1zM44 69h1v1h-1zM50 70h1v1h-1zM24 71h1v1h-1zM26 71h1v1h-1zM34 71h1v1h-1zM42 71h1v1h-1zM44 71h1v1h-1zM50 71h1v1h-1zM18 72h1v1h-1zM42 72h1v1h-1zM47 72h1v1h-1zM35 73h1v1h-1zM50 73h1v1h-1zM38 74h1v1h-1zM51 74h1v1h-1zM21 75h1v1h-1zM26 75h1v1h-1zM35 75h1v1h-1zM26 76h1v1h-1zM39 76h1v1h-1zM51 76h1v1h-1zM17 77h1v1h-1zM25 78h1v1h-1zM37 78h1v1h-1zM40 78h1v1h-1zM51 78h1v1h-1zM26 79h1v1h-1zM51 79h1v1h-1zM21 80h1v1h-1zM47 80h1v1h-1zM51 80h1v1h-1zM11 81h1v1h-1zM28 81h1v1h-1zM41 81h1v1h-1zM28 82h1v1h-1zM45 82h1v1h-1zM51 82h1v1h-1zM21 83h1v1h-1zM21 84h1v1h-1zM25 84h1v1h-1zM17 85h1v1h-1zM51 85h1v1h-1zM33 86h1v1h-1zM36 86h1v1h-1zM41 86h1v1h-1zM51 86h1v1h-1zM8 87h1v1h-1zM11 87h1v1h-1zM20 87h1v1h-1zM25 87h1v1h-1zM44 87h1v1h-1zM47 87h1v1h-1zM21 88h1v1h-1zM5 89h1v1h-1zM16 89h1v1h-1zM44 89h1v1h-1zM36 90h1v1h-1zM43 90h1v1h-1zM27 92h1v1h-1zM17 93h1v1h-1zM17 94h1v1h-1zM23 94h2v1h-2zM43 94h1v1h-1zM7 95h1v1h-1zM39 95h1v1h-1zM23 97h1v1h-1zM35 97h2v1h-2zM47 97h1v1h-1zM50 97h2v1h-2zM38 98h1v1h-1zM43 98h1v1h-1zM50 99h1v1h-1z"/>
<path fill="#ffeaea" d="M2 1h1v1h-1zM37 1h1v1h-1zM46 1h2v1h-2zM32 3h1v1h-1zM37 3h1v1h-1zM11 4h1v1h-1zM30 4h1v1h-1zM42 4h1v1h-1zM33 5h1v1h-1zM11 6h1v1h-1zM34 6h1v1h-1zM44 6h1v1h-1zM47 6h1v1h-1zM11 7h1v1h-1zM33 7h1v1h-1zM36 10h1v1h-1zM47 10h1v1h-1zM47 11h1v1h-1zM13 12h1v1h-1zM42 12h1v1h-1zM47 14h1v1h-1zM36 15h1v1h-1zM43 16h1v1h-1zM44 17h1v1h-1zM34 18h1v1h-1zM44 18h1v1h-1zM47 18h1v1h-1zM42 19h1v1h-1zM2 20h1v1h-1zM26 21h1v1h-1zM40 22h1v1h-1zM16 23h2v1h-2zM47 23h1v1h-1zM25 24h1v1h-1zM27 24h1v1h-1zM44 24h1v1h-1zM47 24h1v1h-1zM26 27h1v1h-1zM50 27h1v1h-1zM27 28h1v1h-1zM12 29h1v1h-1zM33 29h1v1h-1zM48 29h1v1h-1zM25 30h1v1h-1zM27 31h1v1h-1zM31 31h1v1h-1zM36 31h1v1h-1zM48 31h1v1h-1zM16 32h1v1h-1zM36 33h1v1h-1zM48 33h1v1h-1zM9 34h1v1h-1zM17 34h1v1h-1zM34 34h1v1h-1zM44 34h1v1h-1zM47 34h1v1h-1zM27 35h1v1h-1zM48 36h1v1h-1zM26 37h1v1h-1zM27 38h1v1h-1zM31 38h1v1h-1zM36 38h1v1h-1zM48 39h1v1h-1zM12 40h1v1h-1zM48 41h1v1h-1zM16 42h1v1h-1zM26 42h1v1h-1zM2 43h1v1h-1zM17 44h1v1h-1zM44 44h1v1h-1zM9 45h1v1h-1zM16 45h1v1h-1zM48 45h1v1h-1zM9 46h1v1h-1zM25 46h1v1h-1zM30 46h1v1h-1zM23 47h1v1h-1zM47 48h1v1h-1zM30 49h1v1h-1zM34 50h1v1h-1zM37 50h1v1h-1zM42 50h1v1h-1zM31 52h1v1h-1zM34 52h1v1h-1zM37 52h1v1h-1zM0 53h1v1h-1zM21 54h2v1h-2zM5 55h1v1h-1zM34 55h1v1h-1zM40 56h1v1h-1zM44 56h1v1h-1zM51 56h1v1h-1zM21 57h1v1h-1zM26 58h1v1h-1zM35 58h1v1h-1zM39 58h1v1h-1zM47 58h1v1h-1zM49 58h1v1h-1zM23 59h1v1h-1zM47 59h1v1h-1zM21 60h1v1h-1zM38 60h1v1h-1zM42 60h1v1h-1zM11 61h1v1h-1zM51 61h1v1h-1zM16 62h1v1h-1zM26 62h1v1h-1zM35 62h1v1h-1zM22 63h1v1h-1zM40 63h1v1h-1zM51 63h1v1h-1zM18 64h1v1h-1zM36 64h1v1h-1zM42 64h1v1h-1zM34 65h1v1h-1zM41 65h2v1h-2zM41 66h1v1h-1zM2 67h1v1h-1zM20 67h1v1h-1zM5 68h1v1h-1zM36 68h1v1h-1zM39 68h1v1h-1zM42 68h1v1h-1zM44 68h1v1h-1zM51 68h1v1h-1zM26 69h1v1h-1zM17 71h1v1h-1zM23 72h1v1h-1zM35 72h1v1h-1zM38 72h1v1h-1zM18 73h1v1h-1zM46 73h1v1h-1zM23 74h1v1h-1zM26 74h1v1h-1zM33 74h1v1h-1zM17 75h1v1h-1zM37 75h1v1h-1zM42 75h1v1h-1zM42 76h1v1h-1zM42 78h1v1h-1zM18 79h1v1h-1zM23 79h1v1h-1zM39 79h1v1h-1zM41 79h1v1h-1zM27 80h1v1h-1zM23 81h1v1h-1zM24 82h1v1h-1zM26 82h1v1h-1zM47 82h1v1h-1zM22 83h1v1h-1zM27 83h1v1h-1zM36 83h1v1h-1zM47 83h1v1h-1zM18 84h1v1h-1zM44 84h1v1h-1zM50 84h1v1h-1zM0 85h1v1h-1zM18 85h1v1h-1zM21 85h1v1h-1zM0 86h1v1h-1zM39 86h1v1h-1zM47 86h1v1h-1zM50 86h1v1h-1zM41 87h1v1h-1zM50 87h1v1h-1zM27 88h1v1h-1zM39 88h1v1h-1zM42 88h1v1h-1zM51 88h1v1h-1zM21 89h1v1h-1zM18 90h1v1h-1zM27 90h1v1h-1zM39 90h1v1h-1zM51 90h1v1h-1zM26 91h1v1h-1zM17 92h2v1h-2zM24 92h1v1h-1zM31 92h1v1h-1zM34 92h2v1h-2zM37 92h1v1h-1zM43 92h1v1h-1zM33 93h1v1h-1zM35 93h1v1h-1zM23 95h1v1h-1zM26 95h1v1h-1zM41 95h1v1h-1zM13 96h1v1h-1zM26 96h1v1h-1zM46 96h1v1h-1zM51 96h1v1h-1zM18 97h1v1h-1zM26 97h1v1h-1zM41 97h2v1h-2zM9 98h1v1h-1zM21 98h2v1h-2zM36 98h1v1h-1zM40 98h2v1h-2z"/>
<path fill="#ffdfdf" d="M42 0h2v1h-2zM33 1h1v1h-1zM42 2h1v1h-1zM33 3h1v1h-1zM13 4h1v1h-1zM33 4h1v1h-1zM30 5h1v1h-1zM30 7h1v1h-1zM43 7h1v1h-1zM2 8h1v1h-1zM11 10h1v1h-1zM13 10h1v1h-1zM42 10h1v1h-1zM33 12h1v1h-1zM44 12h1v1h-1zM30 13h1v1h-1zM36 13h1v1h-1zM33 14h1v1h-1zM37 14h1v1h-1zM34 17h1v1h-1zM36 17h1v1h-1zM42 18h1v1h-1zM36 19h1v1h-1zM33 20h1v1h-1zM43 20h1v1h-1zM25 21h1v1h-1zM31 21h1v1h-1zM48 21h1v1h-1zM8 22h1v1h-1zM2 23h1v1h-1zM19 23h1v1h-1zM25 23h1v1h-1zM2 24h1v1h-1zM7 24h1v1h-1zM9 24h2v1h-2zM2 25h1v1h-1zM16 25h1v1h-1zM42 25h1v1h-1zM27 27h1v1h-1zM31 27h1v1h-1zM47 27h1v1h-1zM6 28h1v1h-1zM16 28h1v1h-1zM19 28h1v1h-1zM30 28h2v1h-2zM0 29h1v1h-1zM2 29h1v1h-1zM9 29h1v1h-1zM23 29h1v1h-1zM27 29h1v1h-1zM31 29h1v1h-1zM42 29h1v1h-1zM30 30h1v1h-1zM34 30h1v1h-1zM48 30h1v1h-1zM2 31h1v1h-1zM16 31h1v1h-1zM26 31h1v1h-1zM47 31h1v1h-1zM47 32h1v1h-1zM34 33h1v1h-1zM26 34h1v1h-1zM48 34h1v1h-1zM2 35h1v1h-1zM9 35h1v1h-1zM31 35h1v1h-1zM34 35h1v1h-1zM47 35h1v1h-1zM9 36h1v1h-1zM23 37h1v1h-1zM48 37h1v1h-1zM25 38h1v1h-1zM27 39h1v1h-1zM10 40h1v1h-1zM15 40h1v1h-1zM25 40h1v1h-1zM34 43h1v1h-1zM16 44h1v1h-1zM25 44h2v1h-2zM41 45h2v1h-2zM47 45h1v1h-1zM42 46h1v1h-1zM31 47h1v1h-1zM2 48h1v1h-1zM9 48h1v1h-1zM12 48h1v1h-1zM16 50h1v1h-1zM25 50h2v1h-2zM28 50h1v1h-1zM39 50h1v1h-1zM49 50h1v1h-1zM36 51h1v1h-1zM39 51h1v1h-1zM33 52h1v1h-1zM35 52h1v1h-1zM41 52h1v1h-1zM43 52h1v1h-1zM23 53h1v1h-1zM25 53h1v1h-1zM34 53h1v1h-1zM32 54h1v1h-1zM17 55h1v1h-1zM24 55h1v1h-1zM36 56h1v1h-1zM38 56h1v1h-1zM16 57h1v1h-1zM33 57h1v1h-1zM42 57h2v1h-2zM50 58h1v1h-1zM17 59h1v1h-1zM25 59h2v1h-2zM35 59h1v1h-1zM23 60h1v1h-1zM25 60h1v1h-1zM27 60h1v1h-1zM37 60h1v1h-1zM40 60h1v1h-1zM43 60h1v1h-1zM25 61h1v1h-1zM36 61h1v1h-1zM18 62h1v1h-1zM25 62h1v1h-1zM34 62h1v1h-1zM24 63h1v1h-1zM48 63h1v1h-1zM50 63h1v1h-1zM26 64h2v1h-2zM25 65h1v1h-1zM28 65h1v1h-1zM49 65h1v1h-1zM18 66h1v1h-1zM28 66h1v1h-1zM42 66h1v1h-1zM41 67h2v1h-2zM18 68h1v1h-1zM20 68h1v1h-1zM0 69h1v1h-1zM16 69h1v1h-1zM18 69h1v1h-1zM22 69h1v1h-1zM24 69h1v1h-1zM35 69h1v1h-1zM43 69h1v1h-1zM28 70h1v1h-1zM23 71h1v1h-1zM22 72h1v1h-1zM24 72h1v1h-1zM26 72h1v1h-1zM32 72h1v1h-1zM36 72h1v1h-1zM28 73h1v1h-1zM51 73h1v1h-1zM25 74h1v1h-1zM34 74h1v1h-1zM41 74h2v1h-2zM23 75h1v1h-1zM36 76h1v1h-1zM33 77h1v1h-1zM39 77h1v1h-1zM35 78h1v1h-1zM50 79h1v1h-1zM33 80h1v1h-1zM40 80h1v1h-1zM32 82h1v1h-1zM28 83h1v1h-1zM44 83h1v1h-1zM51 83h1v1h-1zM22 84h1v1h-1zM28 84h1v1h-1zM51 84h1v1h-1zM23 85h1v1h-1zM35 85h1v1h-1zM39 85h1v1h-1zM49 85h2v1h-2zM17 86h1v1h-1zM25 86h1v1h-1zM35 86h1v1h-1zM38 86h1v1h-1zM22 87h1v1h-1zM22 88h1v1h-1zM36 88h1v1h-1zM22 89h1v1h-1zM26 89h1v1h-1zM40 89h1v1h-1zM43 89h1v1h-1zM49 89h1v1h-1zM33 90h1v1h-1zM25 91h1v1h-1zM47 91h1v1h-1zM49 91h2v1h-2zM21 92h1v1h-1zM38 92h1v1h-1zM42 92h1v1h-1zM23 93h1v1h-1zM41 93h1v1h-1zM47 93h1v1h-1zM50 93h2v1h-2zM26 94h1v1h-1zM20 95h1v1h-1zM40 96h1v1h-1zM50 96h1v1h-1zM21 97h1v1h-1zM33 97h1v1h-1zM39 97h1v1h-1zM28 98h1v1h-1zM28 99h1v1h-1zM35 99h1v1h-1z"/>
<path fill="#ffd4d4" d="M0 0h1v1h-1zM11 1h1v1h-1zM43 1h1v1h-1zM43 3h1v1h-1zM2 4h1v1h-1zM33 6h1v1h-1zM43 6h1v1h-1zM0 7h1v1h-1zM30 8h1v1h-1zM33 8h1v1h-1zM25 9h1v1h-1zM33 10h1v1h-1zM33 11h1v1h-1zM30 12h1v1h-1zM43 12h1v1h-1zM46 13h1v1h-1zM30 15h1v1h-1zM10 17h1v1h-1zM33 18h1v1h-1zM30 19h1v1h-1zM33 19h1v1h-1zM16 21h1v1h-1zM27 21h1v1h-1zM16 22h1v1h-1zM21 22h1v1h-1zM27 22h1v1h-1zM9 23h1v1h-1zM34 24h1v1h-1zM31 25h1v1h-1zM48 25h1v1h-1zM2 27h1v1h-1zM9 28h1v1h-1zM36 28h1v1h-1zM34 29h1v1h-1zM0 31h1v1h-1zM23 31h1v1h-1zM42 31h1v1h-1zM2 32h1v1h-1zM9 32h1v1h-1zM30 32h1v1h-1zM10 33h1v1h-1zM25 33h2v1h-2zM2 34h1v1h-1zM36 34h1v1h-1zM42 34h1v1h-1zM14 35h1v1h-1zM17 35h1v1h-1zM42 35h1v1h-1zM23 36h1v1h-1zM47 36h1v1h-1zM42 37h1v1h-1zM47 38h2v1h-2zM9 39h1v1h-1zM6 40h1v1h-1zM9 40h1v1h-1zM13 40h1v1h-1zM42 40h1v1h-1zM25 41h1v1h-1zM36 42h1v1h-1zM47 42h1v1h-1zM30 43h1v1h-1zM27 44h1v1h-1zM42 44h1v1h-1zM2 45h1v1h-1zM13 45h1v1h-1zM15 45h1v1h-1zM19 45h1v1h-1zM31 45h1v1h-1zM0 46h1v1h-1zM2 46h1v1h-1zM34 46h1v1h-1zM36 46h1v1h-1zM16 47h1v1h-1zM30 47h1v1h-1zM34 48h1v1h-1zM36 48h1v1h-1zM34 49h1v1h-1zM44 50h1v1h-1zM51 50h1v1h-1zM27 51h1v1h-1zM32 51h1v1h-1zM40 51h2v1h-2zM38 53h1v1h-1zM33 54h1v1h-1zM43 54h1v1h-1zM50 54h1v1h-1zM27 55h1v1h-1zM36 55h1v1h-1zM41 55h1v1h-1zM44 55h1v1h-1zM26 56h1v1h-1zM28 56h1v1h-1zM33 56h1v1h-1zM37 56h1v1h-1zM17 57h1v1h-1zM28 57h1v1h-1zM32 57h1v1h-1zM37 57h1v1h-1zM39 57h1v1h-1zM49 57h1v1h-1zM23 58h1v1h-1zM27 59h1v1h-1zM36 59h2v1h-2zM50 59h1v1h-1zM33 60h2v1h-2zM46 60h2v1h-2zM49 60h1v1h-1zM24 61h1v1h-1zM40 61h1v1h-1zM42 61h1v1h-1zM21 62h1v1h-1zM31 62h2v1h-2zM38 62h1v1h-1zM43 62h1v1h-1zM25 63h1v1h-1zM32 63h1v1h-1zM35 63h1v1h-1zM43 63h1v1h-1zM17 64h1v1h-1zM25 64h1v1h-1zM33 65h1v1h-1zM43 65h1v1h-1zM16 66h1v1h-1zM38 66h1v1h-1zM48 66h1v1h-1zM23 67h1v1h-1zM44 67h1v1h-1zM47 67h1v1h-1zM25 68h1v1h-1zM40 68h1v1h-1zM38 69h1v1h-1zM42 69h1v1h-1zM21 70h1v1h-1zM18 71h1v1h-1zM21 71h1v1h-1zM40 71h2v1h-2zM49 71h1v1h-1zM17 73h1v1h-1zM36 73h1v1h-1zM41 73h1v1h-1zM16 74h1v1h-1zM21 74h1v1h-1zM24 75h1v1h-1zM41 75h1v1h-1zM18 76h1v1h-1zM24 76h1v1h-1zM18 77h1v1h-1zM38 77h1v1h-1zM40 77h1v1h-1zM16 78h2v1h-2zM20 78h2v1h-2zM41 78h1v1h-1zM44 78h1v1h-1zM47 78h1v1h-1zM49 78h1v1h-1zM24 79h1v1h-1zM43 79h2v1h-2zM34 80h1v1h-1zM38 80h1v1h-1zM26 81h1v1h-1zM38 81h1v1h-1zM42 81h1v1h-1zM34 82h1v1h-1zM37 82h1v1h-1zM41 82h1v1h-1zM26 83h1v1h-1zM39 83h1v1h-1zM43 83h1v1h-1zM20 84h1v1h-1zM33 84h2v1h-2zM43 84h1v1h-1zM48 84h1v1h-1zM25 85h2v1h-2zM28 85h1v1h-1zM34 85h1v1h-1zM40 85h1v1h-1zM21 86h1v1h-1zM16 87h1v1h-1zM33 87h1v1h-1zM36 87h1v1h-1zM17 88h1v1h-1zM28 89h1v1h-1zM34 89h1v1h-1zM42 89h1v1h-1zM20 90h1v1h-1zM42 90h1v1h-1zM50 90h1v1h-1zM27 91h1v1h-1zM36 91h1v1h-1zM41 91h1v1h-1zM51 91h1v1h-1zM20 92h1v1h-1zM22 92h1v1h-1zM47 92h1v1h-1zM20 93h1v1h-1zM22 93h1v1h-1zM43 93h1v1h-1zM33 94h2v1h-2zM40 94h1v1h-1zM24 95h1v1h-1zM28 95h1v1h-1zM34 95h1v1h-1zM38 95h1v1h-1zM43 95h1v1h-1zM47 95h1v1h-1zM42 96h2v1h-2zM37 97h2v1h-2zM40 97h1v1h-1zM44 97h1v1h-1zM7 98h1v1h-1zM32 98h1v1h-1zM35 98h1v1h-1zM48 98h1v1h-1zM20 99h1v1h-1zM25 99h1v1h-1zM32 99h2v1h-2zM40 99h1v1h-1zM46 99h1v1h-1zM51 99h1v1h-1z"/>
<path fill="#ffcaca" d="M33 2h1v1h-1zM43 4h1v1h-1zM51 7h1v1h-1zM30 11h1v1h-1zM43 11h1v1h-1zM0 14h1v1h-1zM44 15h1v1h-1zM30 16h1v1h-1zM30 17h1v1h-1zM23 21h1v1h-1zM44 21h1v1h-1zM42 22h1v1h-1zM6 23h1v1h-1zM14 23h1v1h-1zM34 23h1v1h-1zM33 24h1v1h-1zM36 24h1v1h-1zM6 25h1v1h-1zM12 25h1v1h-1zM47 25h1v1h-1zM26 26h1v1h-1zM42 26h1v1h-1zM47 26h1v1h-1zM39 27h1v1h-1zM48 27h1v1h-1zM7 28h1v1h-1zM12 28h1v1h-1zM15 28h1v1h-1zM42 28h1v1h-1zM44 28h1v1h-1zM47 28h1v1h-1zM51 29h1v1h-1zM2 30h1v1h-1zM9 30h1v1h-1zM42 30h1v1h-1zM1 31h1v1h-1zM30 31h1v1h-1zM41 31h1v1h-1zM34 32h1v1h-1zM16 33h1v1h-1zM19 33h1v1h-1zM6 34h1v1h-1zM15 34h1v1h-1zM6 35h1v1h-1zM36 35h1v1h-1zM30 36h1v1h-1zM34 36h1v1h-1zM9 37h1v1h-1zM34 37h1v1h-1zM36 37h1v1h-1zM47 37h1v1h-1zM2 38h1v1h-1zM23 39h1v1h-1zM34 39h1v1h-1zM14 40h1v1h-1zM19 40h1v1h-1zM34 40h1v1h-1zM9 41h1v1h-1zM16 41h1v1h-1zM1 42h1v1h-1zM9 42h1v1h-1zM25 42h1v1h-1zM36 43h1v1h-1zM42 43h1v1h-1zM9 44h1v1h-1zM34 44h1v1h-1zM10 45h1v1h-1zM12 45h1v1h-1zM14 45h1v1h-1zM25 45h1v1h-1zM47 46h1v1h-1zM26 47h1v1h-1zM42 47h1v1h-1zM42 48h1v1h-1zM16 49h1v1h-1zM36 49h1v1h-1zM23 50h1v1h-1zM48 50h1v1h-1zM16 51h1v1h-1zM22 51h1v1h-1zM33 51h1v1h-1zM48 51h1v1h-1zM24 52h1v1h-1zM27 52h1v1h-1zM38 52h1v1h-1zM35 53h1v1h-1zM47 53h1v1h-1zM20 54h1v1h-1zM41 54h1v1h-1zM46 54h1v1h-1zM23 55h1v1h-1zM27 56h1v1h-1zM32 56h1v1h-1zM41 56h1v1h-1zM35 57h1v1h-1zM41 57h1v1h-1zM48 57h1v1h-1zM42 58h1v1h-1zM32 59h1v1h-1zM43 59h2v1h-2zM22 60h1v1h-1zM5 61h1v1h-1zM23 61h1v1h-1zM28 61h1v1h-1zM39 61h1v1h-1zM50 61h1v1h-1zM15 62h1v1h-1zM28 62h1v1h-1zM33 62h1v1h-1zM37 62h1v1h-1zM41 62h1v1h-1zM17 63h1v1h-1zM27 63h1v1h-1zM16 64h1v1h-1zM21 64h1v1h-1zM35 64h1v1h-1zM43 64h1v1h-1zM50 64h1v1h-1zM17 65h1v1h-1zM24 65h1v1h-1zM40 65h1v1h-1zM50 65h1v1h-1zM25 66h1v1h-1zM34 66h1v1h-1zM47 66h1v1h-1zM16 67h1v1h-1zM22 67h1v1h-1zM33 67h1v1h-1zM38 67h1v1h-1zM43 67h1v1h-1zM33 68h2v1h-2zM38 68h1v1h-1zM41 69h1v1h-1zM47 69h1v1h-1zM26 70h1v1h-1zM33 70h1v1h-1zM43 70h1v1h-1zM25 71h1v1h-1zM28 71h1v1h-1zM36 71h2v1h-2zM48 71h1v1h-1zM20 72h1v1h-1zM16 73h1v1h-1zM21 73h1v1h-1zM26 73h1v1h-1zM33 73h1v1h-1zM38 73h1v1h-1zM12 74h1v1h-1zM24 74h1v1h-1zM25 75h1v1h-1zM28 75h1v1h-1zM39 75h1v1h-1zM44 75h1v1h-1zM47 75h1v1h-1zM21 76h1v1h-1zM23 76h1v1h-1zM27 76h1v1h-1zM34 76h1v1h-1zM49 76h1v1h-1zM50 77h1v1h-1zM34 78h1v1h-1zM36 78h1v1h-1zM38 78h2v1h-2zM16 79h1v1h-1zM28 79h1v1h-1zM47 79h1v1h-1zM24 80h1v1h-1zM39 80h1v1h-1zM17 81h1v1h-1zM25 81h1v1h-1zM31 81h1v1h-1zM18 82h1v1h-1zM20 82h1v1h-1zM27 82h1v1h-1zM35 82h2v1h-2zM39 82h2v1h-2zM43 82h1v1h-1zM49 82h2v1h-2zM16 83h1v1h-1zM18 83h1v1h-1zM36 84h1v1h-1zM41 84h1v1h-1zM48 85h1v1h-1zM16 86h1v1h-1zM20 86h1v1h-1zM27 86h1v1h-1zM43 86h1v1h-1zM17 87h1v1h-1zM31 87h1v1h-1zM38 87h1v1h-1zM40 87h1v1h-1zM23 88h1v1h-1zM25 88h1v1h-1zM41 88h1v1h-1zM47 88h1v1h-1zM49 88h1v1h-1zM31 89h1v1h-1zM35 89h1v1h-1zM39 89h1v1h-1zM35 90h1v1h-1zM47 90h1v1h-1zM17 91h1v1h-1zM28 91h1v1h-1zM37 91h1v1h-1zM39 92h1v1h-1zM32 93h1v1h-1zM25 94h1v1h-1zM27 94h1v1h-1zM32 94h1v1h-1zM41 94h2v1h-2zM25 95h1v1h-1zM36 95h1v1h-1zM42 95h1v1h-1zM50 95h1v1h-1zM21 96h1v1h-1zM27 96h1v1h-1zM31 96h1v1h-1zM34 96h1v1h-1zM39 96h1v1h-1zM47 96h1v1h-1zM16 97h1v1h-1zM20 97h1v1h-1zM28 97h1v1h-1zM34 97h1v1h-1zM45 97h1v1h-1zM18 98h1v1h-1zM26 98h1v1h-1zM49 98h1v1h-1zM23 99h1v1h-1zM42 99h1v1h-1zM47 99h1v1h-1z"/>
<path fill="#ffbfbf" d="M19 2h1v1h-1zM51 2h1v1h-1zM51 3h1v1h-1zM30 6h1v1h-1zM51 9h1v1h-1zM30 10h1v1h-1zM19 13h1v1h-1zM33 13h1v1h-1zM51 15h1v1h-1zM33 16h1v1h-1zM19 17h1v1h-1zM30 18h1v1h-1zM43 18h1v1h-1zM34 21h1v1h-1zM9 22h1v1h-1zM23 22h1v1h-1zM1 23h1v1h-1zM13 23h1v1h-1zM33 23h1v1h-1zM1 24h1v1h-1zM9 25h1v1h-1zM2 26h1v1h-1zM9 26h1v1h-1zM34 26h1v1h-1zM7 27h1v1h-1zM19 27h1v1h-1zM34 27h1v1h-1zM42 27h1v1h-1zM0 28h1v1h-1zM11 28h1v1h-1zM14 28h1v1h-1zM11 29h1v1h-1zM13 29h1v1h-1zM6 30h1v1h-1zM36 30h1v1h-1zM6 31h1v1h-1zM34 31h1v1h-1zM44 31h1v1h-1zM1 33h1v1h-1zM15 33h1v1h-1zM33 33h1v1h-1zM42 33h1v1h-1zM7 35h1v1h-1zM12 35h1v1h-1zM42 36h1v1h-1zM2 37h1v1h-1zM14 37h1v1h-1zM19 37h1v1h-1zM51 37h1v1h-1zM2 39h1v1h-1zM42 39h1v1h-1zM11 40h1v1h-1zM42 41h1v1h-1zM6 42h1v1h-1zM12 42h1v1h-1zM15 42h1v1h-1zM19 42h1v1h-1zM33 42h1v1h-1zM30 44h1v1h-1zM33 45h1v1h-1zM11 46h1v1h-1zM2 49h1v1h-1zM42 49h1v1h-1zM48 49h1v1h-1zM20 50h1v1h-1zM22 50h1v1h-1zM38 50h1v1h-1zM50 50h1v1h-1zM50 51h1v1h-1zM25 52h1v1h-1zM39 52h1v1h-1zM26 53h1v1h-1zM33 53h1v1h-1zM40 53h2v1h-2zM17 54h2v1h-2zM25 54h1v1h-1zM28 54h1v1h-1zM38 54h1v1h-1zM21 55h1v1h-1zM33 55h1v1h-1zM42 56h1v1h-1zM18 57h1v1h-1zM27 57h1v1h-1zM16 58h1v1h-1zM31 58h1v1h-1zM28 59h1v1h-1zM34 59h1v1h-1zM26 60h1v1h-1zM28 60h1v1h-1zM18 61h1v1h-1zM32 61h2v1h-2zM44 61h1v1h-1zM27 62h1v1h-1zM36 62h1v1h-1zM39 62h1v1h-1zM44 62h1v1h-1zM47 62h1v1h-1zM18 63h1v1h-1zM20 63h1v1h-1zM31 63h1v1h-1zM33 63h1v1h-1zM44 63h1v1h-1zM20 64h1v1h-1zM28 64h1v1h-1zM32 64h1v1h-1zM37 64h1v1h-1zM47 64h1v1h-1zM0 65h1v1h-1zM20 65h1v1h-1zM23 65h1v1h-1zM26 65h1v1h-1zM31 65h1v1h-1zM21 66h1v1h-1zM26 66h1v1h-1zM31 66h1v1h-1zM36 66h1v1h-1zM49 66h1v1h-1zM26 67h1v1h-1zM32 67h1v1h-1zM34 67h1v1h-1zM17 68h1v1h-1zM49 68h1v1h-1zM21 69h1v1h-1zM32 69h2v1h-2zM17 70h1v1h-1zM27 70h1v1h-1zM34 70h1v1h-1zM22 71h1v1h-1zM27 71h1v1h-1zM31 71h1v1h-1zM38 71h1v1h-1zM43 71h1v1h-1zM49 72h1v1h-1zM25 73h1v1h-1zM43 73h1v1h-1zM20 74h1v1h-1zM48 74h1v1h-1zM38 75h1v1h-1zM37 76h1v1h-1zM41 76h1v1h-1zM43 76h1v1h-1zM16 77h1v1h-1zM31 77h1v1h-1zM42 77h1v1h-1zM48 77h1v1h-1zM32 78h1v1h-1zM38 79h1v1h-1zM42 79h1v1h-1zM9 80h1v1h-1zM18 80h1v1h-1zM22 80h1v1h-1zM31 80h1v1h-1zM42 80h1v1h-1zM18 81h1v1h-1zM33 81h1v1h-1zM39 81h1v1h-1zM49 81h1v1h-1zM17 82h1v1h-1zM32 83h1v1h-1zM17 84h1v1h-1zM27 84h1v1h-1zM42 84h1v1h-1zM47 84h1v1h-1zM16 85h1v1h-1zM37 85h2v1h-2zM41 85h3v1h-3zM22 86h1v1h-1zM24 86h1v1h-1zM28 86h1v1h-1zM40 86h1v1h-1zM49 86h1v1h-1zM37 87h1v1h-1zM39 87h1v1h-1zM43 87h1v1h-1zM49 87h1v1h-1zM16 88h1v1h-1zM24 88h1v1h-1zM28 88h1v1h-1zM41 89h1v1h-1zM50 89h1v1h-1zM26 90h1v1h-1zM20 91h1v1h-1zM38 91h1v1h-1zM44 91h1v1h-1zM33 92h1v1h-1zM41 92h1v1h-1zM21 93h1v1h-1zM36 93h1v1h-1zM49 93h1v1h-1zM44 94h1v1h-1zM17 95h1v1h-1zM25 96h1v1h-1zM35 96h1v1h-1zM41 96h1v1h-1zM49 96h1v1h-1zM27 97h1v1h-1zM17 98h1v1h-1zM34 98h1v1h-1zM24 99h1v1h-1zM37 99h1v1h-1z"/>
<path fill="#ffb5b5" d="M33 0h1v1h-1zM30 1h1v1h-1zM43 8h1v1h-1zM19 9h1v1h-1zM0 16h1v1h-1zM43 17h1v1h-1zM36 23h1v1h-1zM51 24h1v1h-1zM7 25h1v1h-1zM33 25h2v1h-2zM36 26h1v1h-1zM9 27h1v1h-1zM12 27h1v1h-1zM30 27h1v1h-1zM33 28h1v1h-1zM6 29h1v1h-1zM19 29h1v1h-1zM12 31h1v1h-1zM33 31h1v1h-1zM7 33h1v1h-1zM9 33h1v1h-1zM11 33h1v1h-1zM0 34h1v1h-1zM13 34h1v1h-1zM19 35h1v1h-1zM36 36h1v1h-1zM7 37h1v1h-1zM10 37h1v1h-1zM9 38h1v1h-1zM16 39h1v1h-1zM1 40h1v1h-1zM2 41h1v1h-1zM11 42h1v1h-1zM51 42h1v1h-1zM9 43h1v1h-1zM36 44h1v1h-1zM47 44h2v1h-2zM0 45h2v1h-2zM7 45h1v1h-1zM43 45h1v1h-1zM51 45h1v1h-1zM6 46h2v1h-2zM10 46h1v1h-1zM15 46h1v1h-1zM43 46h1v1h-1zM9 47h1v1h-1zM1 48h1v1h-1zM7 48h1v1h-1zM10 48h1v1h-1zM24 50h1v1h-1zM47 50h1v1h-1zM31 51h1v1h-1zM18 52h1v1h-1zM36 52h1v1h-1zM20 53h1v1h-1zM22 53h1v1h-1zM43 53h1v1h-1zM50 53h1v1h-1zM36 54h1v1h-1zM39 54h1v1h-1zM44 54h1v1h-1zM48 54h1v1h-1zM31 55h1v1h-1zM17 56h1v1h-1zM22 56h1v1h-1zM34 56h1v1h-1zM43 56h1v1h-1zM48 56h2v1h-2zM20 57h1v1h-1zM31 59h1v1h-1zM40 59h1v1h-1zM31 60h1v1h-1zM35 60h1v1h-1zM41 60h1v1h-1zM50 60h1v1h-1zM22 61h1v1h-1zM41 61h1v1h-1zM48 61h2v1h-2zM20 62h1v1h-1zM23 63h1v1h-1zM38 63h1v1h-1zM49 63h1v1h-1zM22 64h1v1h-1zM31 64h1v1h-1zM41 64h1v1h-1zM49 64h1v1h-1zM18 65h1v1h-1zM32 65h1v1h-1zM36 65h1v1h-1zM38 65h2v1h-2zM20 66h1v1h-1zM22 66h1v1h-1zM33 66h1v1h-1zM40 66h1v1h-1zM43 66h1v1h-1zM17 67h1v1h-1zM24 67h1v1h-1zM28 67h1v1h-1zM29 68h1v1h-1zM31 68h1v1h-1zM31 69h1v1h-1zM22 70h2v1h-2zM38 70h1v1h-1zM40 70h1v1h-1zM20 71h1v1h-1zM35 71h1v1h-1zM7 72h1v1h-1zM16 72h1v1h-1zM37 72h1v1h-1zM27 73h1v1h-1zM39 73h1v1h-1zM42 73h1v1h-1zM44 73h1v1h-1zM49 73h1v1h-1zM18 74h1v1h-1zM28 74h1v1h-1zM31 76h1v1h-1zM44 76h1v1h-1zM21 77h1v1h-1zM27 77h1v1h-1zM32 77h1v1h-1zM41 77h1v1h-1zM22 78h1v1h-1zM33 78h1v1h-1zM43 78h1v1h-1zM20 80h1v1h-1zM28 80h1v1h-1zM36 80h1v1h-1zM27 81h1v1h-1zM36 81h1v1h-1zM43 81h1v1h-1zM16 82h1v1h-1zM25 82h1v1h-1zM16 84h1v1h-1zM32 84h1v1h-1zM31 86h1v1h-1zM34 87h1v1h-1zM26 88h1v1h-1zM44 88h1v1h-1zM50 88h1v1h-1zM17 90h1v1h-1zM21 90h1v1h-1zM25 90h1v1h-1zM40 90h1v1h-1zM44 90h1v1h-1zM21 91h1v1h-1zM23 91h2v1h-2zM40 91h1v1h-1zM28 92h1v1h-1zM25 93h3v1h-3zM31 93h1v1h-1zM37 93h2v1h-2zM42 93h1v1h-1zM22 94h1v1h-1zM31 94h1v1h-1zM48 94h1v1h-1zM50 94h1v1h-1zM22 95h1v1h-1zM44 95h2v1h-2zM20 96h1v1h-1zM24 96h1v1h-1zM38 96h1v1h-1zM42 98h1v1h-1zM22 99h1v1h-1zM34 99h1v1h-1zM43 99h1v1h-1z"/>
<path fill="#ffaaaa" d="M19 1h1v1h-1zM19 3h1v1h-1zM19 5h1v1h-1zM43 5h1v1h-1zM0 6h1v1h-1zM51 6h1v1h-1zM0 8h1v1h-1zM51 8h1v1h-1zM24 13h1v1h-1zM19 16h1v1h-1zM51 16h1v1h-1zM51 19h1v1h-1zM19 20h1v1h-1zM2 21h1v1h-1zM9 21h1v1h-1zM33 21h1v1h-1zM36 21h1v1h-1zM42 21h1v1h-1zM2 22h1v1h-1zM11 23h2v1h-2zM13 24h1v1h-1zM15 24h1v1h-1zM43 24h1v1h-1zM0 25h1v1h-1zM13 25h1v1h-1zM19 25h1v1h-1zM36 25h1v1h-1zM0 26h1v1h-1zM16 27h1v1h-1zM36 27h1v1h-1zM1 29h1v1h-1zM43 29h1v1h-1zM47 29h1v1h-1zM43 30h1v1h-1zM9 31h1v1h-1zM14 31h1v1h-1zM0 32h1v1h-1zM36 32h1v1h-1zM51 32h1v1h-1zM2 33h1v1h-1zM12 33h1v1h-1zM43 33h1v1h-1zM7 34h1v1h-1zM11 34h1v1h-1zM33 34h1v1h-1zM0 35h2v1h-2zM43 35h1v1h-1zM2 36h1v1h-1zM11 36h1v1h-1zM33 36h1v1h-1zM1 37h1v1h-1zM15 37h1v1h-1zM34 38h1v1h-1zM33 39h1v1h-1zM43 39h1v1h-1zM7 40h1v1h-1zM33 40h1v1h-1zM0 42h1v1h-1zM7 42h1v1h-1zM10 42h1v1h-1zM11 43h2v1h-2zM14 43h1v1h-1zM43 43h1v1h-1zM47 43h1v1h-1zM2 44h1v1h-1zM43 44h1v1h-1zM2 47h1v1h-1zM47 47h1v1h-1zM6 48h1v1h-1zM31 50h3v1h-3zM23 51h1v1h-1zM25 51h1v1h-1zM16 52h1v1h-1zM20 52h1v1h-1zM22 52h1v1h-1zM21 53h1v1h-1zM27 53h1v1h-1zM32 53h1v1h-1zM36 53h1v1h-1zM44 53h1v1h-1zM35 54h1v1h-1zM37 54h1v1h-1zM40 54h1v1h-1zM32 55h1v1h-1zM43 55h1v1h-1zM48 55h2v1h-2zM20 56h1v1h-1zM47 56h1v1h-1zM17 58h1v1h-1zM22 58h1v1h-1zM21 59h1v1h-1zM33 59h1v1h-1zM39 59h1v1h-1zM16 60h1v1h-1zM44 60h1v1h-1zM17 61h1v1h-1zM27 61h1v1h-1zM34 61h1v1h-1zM22 62h1v1h-1zM33 64h1v1h-1zM21 65h1v1h-1zM39 66h1v1h-1zM49 67h2v1h-2zM22 68h1v1h-1zM32 68h1v1h-1zM35 68h1v1h-1zM37 68h1v1h-1zM43 68h1v1h-1zM20 69h1v1h-1zM27 69h2v1h-2zM18 70h1v1h-1zM31 70h1v1h-1zM36 70h1v1h-1zM41 70h1v1h-1zM47 70h1v1h-1zM39 71h1v1h-1zM23 73h1v1h-1zM40 73h1v1h-1zM35 74h2v1h-2zM16 75h1v1h-1zM18 75h1v1h-1zM22 75h1v1h-1zM32 75h1v1h-1zM48 75h2v1h-2zM50 76h1v1h-1zM20 77h1v1h-1zM22 77h1v1h-1zM24 77h1v1h-1zM28 77h1v1h-1zM49 77h1v1h-1zM22 79h1v1h-1zM27 79h1v1h-1zM34 79h1v1h-1zM37 79h1v1h-1zM48 79h2v1h-2zM17 80h1v1h-1zM26 80h1v1h-1zM35 80h1v1h-1zM44 80h1v1h-1zM22 81h1v1h-1zM34 81h1v1h-1zM37 81h1v1h-1zM40 81h1v1h-1zM22 82h1v1h-1zM31 82h1v1h-1zM20 83h1v1h-1zM25 83h1v1h-1zM34 83h2v1h-2zM40 83h2v1h-2zM48 83h2v1h-2zM35 84h1v1h-1zM49 84h1v1h-1zM31 85h2v1h-2zM23 86h1v1h-1zM32 87h1v1h-1zM35 87h1v1h-1zM32 88h1v1h-1zM34 88h2v1h-2zM43 88h1v1h-1zM24 89h1v1h-1zM22 90h1v1h-1zM32 90h1v1h-1zM33 91h2v1h-2zM32 92h1v1h-1zM36 92h1v1h-1zM28 93h1v1h-1zM16 94h1v1h-1zM18 94h1v1h-1zM21 94h1v1h-1zM35 94h1v1h-1zM16 95h1v1h-1zM21 95h1v1h-1zM32 95h1v1h-1zM37 95h1v1h-1zM33 96h1v1h-1zM48 96h1v1h-1zM22 97h1v1h-1zM31 97h1v1h-1zM33 98h1v1h-1zM37 98h1v1h-1zM47 98h1v1h-1zM17 99h2v1h-2zM26 99h1v1h-1zM31 99h1v1h-1z"/>
<path fill="#ff9f9f" d="M19 0h1v1h-1zM51 0h1v1h-1zM15 2h1v1h-1zM0 3h1v1h-1zM7 3h1v1h-1zM0 4h1v1h-1zM19 6h1v1h-1zM19 7h1v1h-1zM0 9h1v1h-1zM43 10h1v1h-1zM0 12h1v1h-1zM42 13h1v1h-1zM23 14h1v1h-1zM51 20h1v1h-1zM7 22h1v1h-1zM30 22h1v1h-1zM47 22h1v1h-1zM6 24h1v1h-1zM11 24h1v1h-1zM14 24h1v1h-1zM14 25h1v1h-1zM7 26h1v1h-1zM12 26h1v1h-1zM1 27h1v1h-1zM51 27h1v1h-1zM1 28h1v1h-1zM43 28h1v1h-1zM10 29h1v1h-1zM33 32h1v1h-1zM42 32h1v1h-1zM12 34h1v1h-1zM13 35h1v1h-1zM51 35h1v1h-1zM13 37h1v1h-1zM14 39h1v1h-1zM47 39h1v1h-1zM51 39h1v1h-1zM51 40h1v1h-1zM11 41h1v1h-1zM34 41h1v1h-1zM36 41h1v1h-1zM14 42h1v1h-1zM19 43h1v1h-1zM33 43h1v1h-1zM6 44h1v1h-1zM11 44h1v1h-1zM34 45h1v1h-1zM12 46h1v1h-1zM12 47h1v1h-1zM13 48h1v1h-1zM15 48h1v1h-1zM19 48h1v1h-1zM14 49h1v1h-1zM47 49h1v1h-1zM20 51h1v1h-1zM48 52h1v1h-1zM28 53h1v1h-1zM42 53h1v1h-1zM48 53h1v1h-1zM20 55h1v1h-1zM35 55h1v1h-1zM39 55h1v1h-1zM47 55h1v1h-1zM16 56h1v1h-1zM39 56h1v1h-1zM16 59h1v1h-1zM18 60h1v1h-1zM16 61h1v1h-1zM22 65h1v1h-1zM31 67h1v1h-1zM16 68h1v1h-1zM24 68h1v1h-1zM28 68h1v1h-1zM47 68h1v1h-1zM23 69h1v1h-1zM34 69h1v1h-1zM37 69h1v1h-1zM20 70h1v1h-1zM25 70h1v1h-1zM32 70h1v1h-1zM32 71h1v1h-1zM27 74h1v1h-1zM32 74h1v1h-1zM37 74h1v1h-1zM47 74h1v1h-1zM50 74h1v1h-1zM31 75h1v1h-1zM40 75h1v1h-1zM32 76h1v1h-1zM47 76h1v1h-1zM23 77h1v1h-1zM34 77h1v1h-1zM24 78h1v1h-1zM17 79h1v1h-1zM35 79h1v1h-1zM37 80h1v1h-1zM24 81h1v1h-1zM50 81h1v1h-1zM31 83h1v1h-1zM38 83h1v1h-1zM23 84h1v1h-1zM40 84h1v1h-1zM27 85h1v1h-1zM33 85h1v1h-1zM48 86h1v1h-1zM18 88h1v1h-1zM38 88h1v1h-1zM36 89h1v1h-1zM48 89h1v1h-1zM23 90h2v1h-2zM31 90h1v1h-1zM16 91h1v1h-1zM39 91h1v1h-1zM42 91h1v1h-1zM48 91h1v1h-1zM16 93h1v1h-1zM38 94h1v1h-1zM40 95h1v1h-1zM48 95h1v1h-1zM23 96h1v1h-1zM28 96h1v1h-1zM36 96h1v1h-1zM17 97h1v1h-1zM24 97h1v1h-1zM32 97h1v1h-1zM38 99h1v1h-1z"/>
<path fill="#ff9595" d="M14 3h1v1h-1zM19 4h1v1h-1zM10 7h1v1h-1zM15 7h1v1h-1zM19 8h1v1h-1zM51 10h1v1h-1zM51 12h1v1h-1zM10 13h1v1h-1zM19 14h1v1h-1zM30 14h1v1h-1zM51 14h1v1h-1zM0 15h1v1h-1zM12 15h1v1h-1zM0 17h1v1h-1zM33 17h1v1h-1zM6 21h2v1h-2zM11 21h1v1h-1zM34 22h1v1h-1zM0 24h1v1h-1zM12 24h1v1h-1zM19 24h1v1h-1zM1 25h1v1h-1zM15 25h1v1h-1zM43 25h1v1h-1zM10 26h1v1h-1zM13 26h1v1h-1zM11 27h1v1h-1zM14 27h2v1h-2zM51 28h1v1h-1zM7 29h1v1h-1zM14 29h1v1h-1zM13 30h2v1h-2zM51 30h1v1h-1zM7 31h1v1h-1zM11 31h1v1h-1zM51 31h1v1h-1zM1 32h1v1h-1zM12 32h1v1h-1zM15 32h1v1h-1zM0 33h1v1h-1zM6 33h1v1h-1zM14 33h1v1h-1zM14 34h1v1h-1zM10 35h1v1h-1zM15 35h1v1h-1zM7 36h1v1h-1zM15 36h1v1h-1zM11 37h1v1h-1zM43 37h1v1h-1zM13 38h1v1h-1zM11 39h1v1h-1zM13 39h1v1h-1zM43 40h1v1h-1zM1 41h1v1h-1zM47 41h1v1h-1zM1 44h1v1h-1zM14 46h1v1h-1zM19 46h1v1h-1zM34 47h1v1h-1zM36 47h1v1h-1zM51 48h1v1h-1zM9 49h2v1h-2zM17 50h1v1h-1zM44 51h1v1h-1zM40 52h1v1h-1zM49 52h1v1h-1zM16 53h3v1h-3zM24 53h1v1h-1zM16 54h1v1h-1zM25 55h1v1h-1zM42 55h1v1h-1zM24 56h2v1h-2zM34 57h1v1h-1zM20 59h1v1h-1zM42 59h1v1h-1zM26 61h1v1h-1zM37 61h1v1h-1zM43 61h1v1h-1zM49 62h1v1h-1zM37 65h1v1h-1zM35 66h1v1h-1zM37 66h1v1h-1zM37 67h1v1h-1zM23 68h1v1h-1zM27 68h1v1h-1zM25 69h1v1h-1zM48 69h2v1h-2zM16 70h1v1h-1zM42 70h1v1h-1zM33 71h1v1h-1zM48 72h1v1h-1zM44 74h1v1h-1zM25 76h1v1h-1zM28 76h1v1h-1zM33 76h1v1h-1zM35 76h1v1h-1zM25 77h1v1h-1zM35 77h1v1h-1zM48 78h1v1h-1zM32 79h1v1h-1zM49 80h1v1h-1zM16 81h1v1h-1zM20 81h2v1h-2zM35 81h1v1h-1zM48 82h1v1h-1zM24 83h1v1h-1zM22 85h1v1h-1zM44 85h1v1h-1zM40 88h1v1h-1zM48 88h1v1h-1zM20 89h1v1h-1zM32 89h2v1h-2zM37 90h1v1h-1zM18 91h1v1h-1zM32 91h1v1h-1zM35 91h1v1h-1zM48 92h2v1h-2zM34 93h1v1h-1zM36 94h1v1h-1zM39 94h1v1h-1zM49 94h1v1h-1zM17 96h1v1h-1zM22 96h1v1h-1zM32 96h1v1h-1zM49 97h1v1h-1zM41 99h1v1h-1zM44 99h1v1h-1zM48 99h1v1h-1z"/>
<path fill="#ff8a8a" d="M1 1h1v1h-1zM51 1h1v1h-1zM10 2h1v1h-1zM10 3h1v1h-1zM51 4h1v1h-1zM0 5h1v1h-1zM19 12h1v1h-1zM0 13h1v1h-1zM19 15h1v1h-1zM15 16h1v1h-1zM51 17h1v1h-1zM19 18h1v1h-1zM12 21h1v1h-1zM15 21h1v1h-1zM19 21h1v1h-1zM14 22h1v1h-1zM36 22h1v1h-1zM10 25h1v1h-1zM1 26h1v1h-1zM6 26h1v1h-1zM14 26h2v1h-2zM19 26h1v1h-1zM33 26h1v1h-1zM43 26h1v1h-1zM10 27h1v1h-1zM43 27h1v1h-1zM0 30h1v1h-1zM19 30h1v1h-1zM10 31h1v1h-1zM6 32h1v1h-1zM43 32h1v1h-1zM51 34h1v1h-1zM6 36h1v1h-1zM13 36h1v1h-1zM0 37h1v1h-1zM33 37h1v1h-1zM11 38h1v1h-1zM19 38h1v1h-1zM15 39h1v1h-1zM26 39h1v1h-1zM0 40h1v1h-1zM12 41h1v1h-1zM14 41h1v1h-1zM43 42h1v1h-1zM1 43h1v1h-1zM6 43h2v1h-2zM10 43h1v1h-1zM13 43h1v1h-1zM15 43h1v1h-1zM7 44h1v1h-1zM51 44h1v1h-1zM6 45h1v1h-1zM1 46h1v1h-1zM10 47h1v1h-1zM51 47h1v1h-1zM43 48h1v1h-1zM48 48h1v1h-1zM12 49h1v1h-1zM47 57h1v1h-1zM22 59h1v1h-1zM24 59h1v1h-1zM49 59h1v1h-1zM36 60h1v1h-1zM48 60h1v1h-1zM48 62h1v1h-1zM48 64h1v1h-1zM27 65h1v1h-1zM24 66h1v1h-1zM48 68h1v1h-1zM37 70h1v1h-1zM49 70h1v1h-1zM24 73h1v1h-1zM31 74h1v1h-1zM40 74h1v1h-1zM43 75h1v1h-1zM16 76h1v1h-1zM26 77h1v1h-1zM37 77h1v1h-1zM20 79h1v1h-1zM16 80h1v1h-1zM23 80h1v1h-1zM32 80h1v1h-1zM41 80h1v1h-1zM50 80h1v1h-1zM39 84h1v1h-1zM20 85h1v1h-1zM18 86h1v1h-1zM32 86h1v1h-1zM31 88h1v1h-1zM38 89h1v1h-1zM48 90h1v1h-1zM22 91h1v1h-1zM24 93h1v1h-1zM20 94h1v1h-1zM49 95h1v1h-1z"/>
<path fill="#ff8080" d="M0 1h1v1h-1zM0 2h1v1h-1zM6 2h1v1h-1zM6 3h1v1h-1zM15 3h1v1h-1zM0 11h1v1h-1zM51 13h1v1h-1zM1 15h1v1h-1zM14 15h1v1h-1zM14 16h1v1h-1zM1 17h1v1h-1zM0 18h1v1h-1zM51 18h1v1h-1zM0 19h1v1h-1zM0 20h1v1h-1zM6 20h1v1h-1zM0 21h2v1h-2zM0 22h1v1h-1zM6 22h1v1h-1zM10 23h1v1h-1zM51 23h1v1h-1zM51 26h1v1h-1zM0 27h1v1h-1zM6 27h1v1h-1zM15 31h1v1h-1zM19 31h1v1h-1zM7 32h1v1h-1zM13 32h1v1h-1zM13 33h1v1h-1zM51 33h1v1h-1zM10 34h1v1h-1zM43 34h1v1h-1zM11 35h1v1h-1zM33 35h1v1h-1zM0 36h2v1h-2zM19 36h1v1h-1zM12 37h1v1h-1zM0 38h1v1h-1zM12 38h1v1h-1zM51 38h1v1h-1zM0 39h1v1h-1zM7 39h1v1h-1zM19 39h1v1h-1zM0 41h1v1h-1zM43 41h1v1h-1zM13 42h1v1h-1zM0 44h1v1h-1zM12 44h2v1h-2zM13 46h1v1h-1zM11 48h1v1h-1zM0 49h1v1h-1zM7 49h1v1h-1zM51 49h1v1h-1zM49 51h1v1h-1zM31 53h1v1h-1zM39 53h1v1h-1zM49 53h1v1h-1zM26 54h1v1h-1zM31 54h1v1h-1zM26 55h1v1h-1zM38 55h1v1h-1zM40 55h1v1h-1zM38 59h1v1h-1zM48 59h1v1h-1zM32 60h1v1h-1zM20 61h1v1h-1zM16 63h1v1h-1zM16 65h1v1h-1zM44 65h1v1h-1zM47 65h1v1h-1zM48 70h1v1h-1zM22 73h1v1h-1zM31 73h1v1h-1zM48 73h1v1h-1zM43 77h1v1h-1zM32 81h1v1h-1zM48 81h1v1h-1zM24 84h1v1h-1zM44 86h1v1h-1zM20 88h1v1h-1zM48 93h1v1h-1zM37 94h1v1h-1zM16 96h1v1h-1zM37 96h1v1h-1zM48 97h1v1h-1zM31 98h1v1h-1zM49 99h1v1h-1z"/>
<path fill="#ff7575" d="M6 0h2v1h-2zM7 2h1v1h-1zM14 2h1v1h-1zM12 3h1v1h-1zM15 6h1v1h-1zM7 7h1v1h-1zM1 8h1v1h-1zM15 8h1v1h-1zM6 9h1v1h-1zM10 9h1v1h-1zM15 9h1v1h-1zM0 10h1v1h-1zM19 10h1v1h-1zM19 11h1v1h-1zM14 12h1v1h-1zM14 13h2v1h-2zM6 14h1v1h-1zM7 15h1v1h-1zM10 16h1v1h-1zM12 17h1v1h-1zM14 17h1v1h-1zM7 20h1v1h-1zM13 21h2v1h-2zM12 22h2v1h-2zM0 23h1v1h-1zM7 23h1v1h-1zM31 24h1v1h-1zM11 25h1v1h-1zM51 25h1v1h-1zM11 26h1v1h-1zM33 27h1v1h-1zM10 28h1v1h-1zM11 30h1v1h-1zM10 32h1v1h-1zM19 32h1v1h-1zM19 34h1v1h-1zM10 36h1v1h-1zM14 36h1v1h-1zM43 36h1v1h-1zM51 36h1v1h-1zM1 38h1v1h-1zM7 38h1v1h-1zM10 38h1v1h-1zM43 38h1v1h-1zM12 39h1v1h-1zM6 41h1v1h-1zM19 41h1v1h-1zM19 44h1v1h-1zM33 46h1v1h-1zM1 47h1v1h-1zM14 47h1v1h-1zM14 48h1v1h-1zM33 48h1v1h-1zM1 49h1v1h-1zM6 49h1v1h-1zM13 49h1v1h-1zM19 49h1v1h-1zM16 55h1v1h-1zM24 62h1v1h-1zM21 67h1v1h-1zM39 67h1v1h-1zM20 73h1v1h-1zM34 73h1v1h-1zM22 74h1v1h-1zM31 78h1v1h-1zM25 79h1v1h-1zM31 84h1v1h-1zM37 88h1v1h-1zM49 90h1v1h-1zM18 93h1v1h-1zM39 93h1v1h-1zM31 95h1v1h-1zM16 99h1v1h-1zM21 99h1v1h-1z"/>
<path fill="#ff6a6a" d="M14 1h1v1h-1zM1 2h1v1h-1zM1 3h1v1h-1zM7 6h1v1h-1zM12 6h1v1h-1zM14 6h1v1h-1zM14 7h1v1h-1zM10 8h1v1h-1zM14 9h1v1h-1zM51 11h1v1h-1zM12 12h1v1h-1zM6 13h1v1h-1zM12 13h1v1h-1zM7 14h1v1h-1zM14 14h1v1h-1zM6 15h1v1h-1zM10 15h1v1h-1zM7 17h1v1h-1zM6 19h1v1h-1zM19 19h1v1h-1zM51 21h1v1h-1zM1 22h1v1h-1zM11 22h1v1h-1zM15 22h1v1h-1zM43 23h1v1h-1zM13 27h1v1h-1zM12 30h1v1h-1zM15 30h1v1h-1zM33 30h1v1h-1zM13 31h1v1h-1zM14 32h1v1h-1zM1 34h1v1h-1zM12 36h1v1h-1zM6 38h1v1h-1zM15 38h1v1h-1zM1 39h1v1h-1zM6 39h1v1h-1zM10 39h1v1h-1zM10 41h1v1h-1zM51 41h1v1h-1zM0 43h1v1h-1zM51 43h1v1h-1zM10 44h1v1h-1zM7 47h1v1h-1zM13 47h1v1h-1zM19 47h1v1h-1zM0 48h1v1h-1zM11 49h1v1h-1zM37 53h1v1h-1zM37 73h1v1h-1zM43 80h1v1h-1zM16 90h1v1h-1z"/>
<path fill="#ff6060" d="M10 0h1v1h-1zM14 0h1v1h-1zM15 1h1v1h-1zM12 2h1v1h-1zM6 5h1v1h-1zM51 5h1v1h-1zM6 6h1v1h-1zM6 7h1v1h-1zM14 8h1v1h-1zM1 9h1v1h-1zM7 9h1v1h-1zM14 10h1v1h-1zM1 13h1v1h-1zM7 13h1v1h-1zM1 14h1v1h-1zM12 16h1v1h-1zM6 17h1v1h-1zM6 18h1v1h-1zM10 21h1v1h-1zM10 22h1v1h-1zM43 22h1v1h-1zM51 22h1v1h-1zM15 23h1v1h-1zM13 28h1v1h-1zM10 30h1v1h-1zM43 31h1v1h-1zM11 32h1v1h-1zM14 38h1v1h-1zM33 38h1v1h-1zM13 41h1v1h-1zM14 44h2v1h-2zM33 47h1v1h-1zM43 47h1v1h-1zM50 55h1v1h-1zM35 70h1v1h-1zM38 84h1v1h-1zM31 91h1v1h-1z"/>
<path fill="#ff5555" d="M12 0h1v1h-1zM6 1h1v1h-1zM12 1h1v1h-1zM1 5h1v1h-1zM7 5h1v1h-1zM10 12h1v1h-1zM15 14h1v1h-1zM6 16h2v1h-2zM7 19h1v1h-1zM10 20h1v1h-1zM12 20h1v1h-1zM15 20h1v1h-1zM43 21h1v1h-1zM19 22h1v1h-1zM33 22h1v1h-1zM1 30h1v1h-1zM7 30h1v1h-1zM6 37h1v1h-1zM33 44h1v1h-1zM15 49h1v1h-1zM39 70h1v1h-1z"/>
<path fill="#ff4a4a" d="M12 4h1v1h-1zM10 6h1v1h-1zM12 7h1v1h-1zM7 10h1v1h-1zM12 10h1v1h-1zM15 10h1v1h-1zM6 11h2v1h-2zM10 11h1v1h-1zM15 11h1v1h-1zM7 12h1v1h-1zM15 12h1v1h-1zM10 14h1v1h-1zM12 14h1v1h-1zM15 18h1v1h-1zM14 19h1v1h-1zM1 20h1v1h-1zM33 41h1v1h-1zM0 47h1v1h-1zM11 47h1v1h-1zM15 47h1v1h-1zM43 49h1v1h-1zM16 71h1v1h-1zM20 75h1v1h-1zM22 76h1v1h-1zM48 80h1v1h-1z"/>
<path fill="#ff4040" d="M15 0h1v1h-1zM10 4h1v1h-1zM15 4h1v1h-1zM12 5h1v1h-1zM15 5h1v1h-1zM1 7h1v1h-1zM6 8h2v1h-2zM12 9h1v1h-1zM1 10h1v1h-1zM1 12h1v1h-1zM6 12h1v1h-1zM1 16h1v1h-1zM14 18h1v1h-1zM15 19h1v1h-1zM14 20h1v1h-1zM47 30h1v1h-1zM15 41h1v1h-1zM6 47h1v1h-1zM48 76h1v1h-1zM20 98h1v1h-1z"/>
<path fill="#ff3535" d="M1 0h1v1h-1zM14 4h1v1h-1zM10 5h1v1h-1zM10 10h1v1h-1zM1 11h1v1h-1zM15 17h1v1h-1zM10 18h1v1h-1zM12 18h1v1h-1zM10 19h1v1h-1zM12 19h1v1h-1z"/>
<path fill="#ff2a2a" d="M1 4h1v1h-1zM7 4h1v1h-1zM6 10h1v1h-1zM15 15h1v1h-1zM7 18h1v1h-1zM51 46h1v1h-1zM48 65h1v1h-1zM20 76h1v1h-1zM16 92h1v1h-1zM47 94h1v1h-1z"/>
<path fill="#ff2020" d="M14 5h1v1h-1zM1 6h1v1h-1zM12 8h1v1h-1zM1 18h1v1h-1zM7 41h1v1h-1zM44 64h1v1h-1zM41 68h1v1h-1z"/>
<path fill="#ff1515" d="M7 1h1v1h-1zM10 1h1v1h-1zM6 4h1v1h-1zM12 11h1v1h-1zM14 11h1v1h-1z"/>
<path fill="#ff0000" d="M37 83h1v1h-1z"/>
</g>
<path fill="none" stroke="#999" stroke-width="0.90" d="M747.60 52.20v500.00M757.12 52.20v500.00M766.65 52.20v500.00M776.17 52.20v500.00M785.69 52.20v500.00M795.22 52.20v500.00M804.74 52.20v500.00M814.26 52.20v500.00M823.78 52.20v500.00M833.31 52.20v500.00M842.83 52.20v500.00M852.35 52.20v500.00M861.88 52.20v500.00M871.40 52.20v500.00M880.92 52.20v500.00M890.45 52.20v500.00M899.97 52.20v500.00M909.49 52.20v500.00M919.01 52.20v500.00M928.54 52.20v500.00M938.06 52.20v500.00M947.58 52.20v500.00M957.11 52.20v500.00M966.63 52.20v500.00M976.15 52.20v500.00M985.67 52.20v500.00M995.20 52.20v500.00M1004.72 52.20v500.00M1014.24 52.20v500.00M1023.77 52.20v500.00M1033.29 52.20v500.00M1042.81 52.20v500.00M1052.34 52.20v500.00M1061.86 52.20v500.00M1071.38 52.20v500.00M1080.90 52.20v500.00M1090.43 52.20v500.00M1099.95 52.20v500.00M1109.47 52.20v500.00M1119.00 52.20v500.00M1128.52 52.20v500.00M1138.04 52.20v500.00M1147.57 52.20v500.00M1157.09 52.20v500.00M1166.61 52.20v500.00M1176.13 52.20v500.00M1185.66 52.20v500.00M1195.18 52.20v500.00M1204.70 52.20v500.00M1214.23 52.20v500.00M1223.75 52.20v500.00M1233.27 52.20v500.00M1242.80 52.20v500.00M747.60 52.20h495.20M747.60 57.20h495.20M747.60 62.20h495.20M747.60 67.20h495.20M747.60 72.20h495.20M747.60 77.20h495.20M747.60 82.20h495.20M747.60 87.20h495.20M747.60 92.20h495.20M747.60 97.20h495.20M747.60 102.20h495.20M747.60 107.20h495.20M747.60 112.20h495.20M747.60 117.20h495.20M747.60 122.20h495.20M747.60 127.20h495.20M747.60 132.20h495.20M747.60 137.20h495.20M747.60 142.20h495.20M747.60 147.20h495.20M747.60 152.20h495.20M747.60 157.20h495.20M747.60 162.20h495.20M747.60 167.20h495.20M747.60 172.20h495.20M747.60 177.20h495.20M747.60 182.20h495.20M747.60 187.20h495.20M747.60 192.20h495.20M747.60 197.20h495.20M747.60 202.20h495.20M747.60 207.20h495.20M747.60 212.20h495.20M747.60 217.20h495.20M747.60 222.20h495.20M747.60 227.20h495.20M747.60 232.20h495.20M747.60 237.20h495.20M747.60 242.20h495.20M747.60 247.20h495.20M747.60 252.20h495.20M747.60 257.20h495.20M747.60 262.20h495.20M747.60 267.20h495.20M747.60 272.20h495.20M747.60 277.20h495.20M747.60 282.20h495.20M747.60 287.20h495.20M747.60 292.20h495.20M747.60 297.20h495.20M747.60 302.20h495.20M747.60 307.20h495.20M747.60 312.20h495.20M747.60 317.20h495.20M747.60 322.20h495.20M747.60 327.20h495.20M747.60 332.20h495.20M747.60 337.20h495.20M747.60 342.20h495.20M747.60 347.20h495.20M747.60 352.20h495.20M747.60 357.20h495.20M747.60 362.20h495.20M747.60 367.20h495.20M747.60 372.20h495.20M747.60 377.20h495.20M747.60 382.20h495.20M747.60 387.20h495.20M747.60 392.20h495.20M747.60 397.20h495.20M747.60 402.20h495.20M747.60 407.20h495.20M747.60 412.20h495.20M747.60 417.20h495.20M747.60 422.20h495.20M747.60 427.20h495.20M747.60 432.20h495.20M747.60 437.20h495.20M747.60 442.20h495.20M747.60 447.20h495.20M747.60 452.20h495.20M747.60 457.20h495.20M747.60 462.20h495.20M747.60 467.20h495.20M747.60 472.20h495.20M747.60 477.20h495.20M747.60 482.20h495.20M747.60 487.20h495.20M747.60 492.20h495.20M747.60 497.20h495.20M747.60 502.20h495.20M747.60 507.20h495.20M747.60 512.20h495.20M747.60 517.20h495.20M747.60 522.20h495.20M747.60 527.20h495.20M747.60 532.20h495.20M747.60 537.20h495.20M747.60 542.20h495.20M747.60 547.20h495.20M747.60 552.20h495.20"/>
<text x="1245.6" y="48.8" font-size="6.8" font-weight="bold">Type</text>
<g font-size="6.35" fill="#111"><text x="1245.6" y="57.0">SPX</text><text x="1245.6" y="62.0">AF070581</text><text x="1245.6" y="67.0">P2RX1</text><text x="1245.6" y="72.0">RBPJL</text><text x="1245.6" y="77.0">TEX11</text><text x="1245.6" y="82.0">RP11-320N7.2</text><text x="1245.6" y="87.0">GNMT</text><text x="1245.6" y="92.0">ALB</text><text x="1245.6" y="97.0">AQP8</text><text x="1245.6" y="102.0">EGF</text><text x="1245.6" y="107.0">PAIP2B</text><text x="1245.6" y="112.0">AOX1</text><text x="1245.6" y="117.0">CTA-445C9.15</text><text x="1245.6" y="122.0">ACADL</text><text x="1245.6" y="127.0">TMED6</text><text x="1245.6" y="131.9">FGL1</text><text x="1245.6" y="136.9">PDK4</text><text x="1245.6" y="141.9">TRHDE</text><text x="1245.6" y="146.9">ANPEP</text><text x="1245.6" y="151.9">KIAA1324</text><text x="1245.6" y="156.9">GSTA1</text><text x="1245.6" y="161.9">PNLIPRP2</text><text x="1245.6" y="166.9">REG1B</text><text x="1245.6" y="171.9">REG3G</text><text x="1245.6" y="176.9">CEL</text><text x="1245.6" y="181.9">CPA2</text><text x="1245.6" y="186.9">PLA2G1B</text><text x="1245.6" y="191.9">CTRC</text><text x="1245.6" y="196.9">GP2</text><text x="1245.6" y="201.9">PNLIPRP1</text><text x="1245.6" y="206.9">CUZD1</text><text x="1245.6" y="211.9">CELP</text><text x="1245.6" y="216.9">SYCN</text><text x="1245.6" y="221.9">LEFTY1</text><text x="1245.6" y="226.9">PDIA2</text><text x="1245.6" y="231.9">KLK1</text><text x="1245.6" y="236.9">ERP27</text><text x="1245.6" y="241.9">SERPINI2</text><text x="1245.6" y="246.9">CTRL</text><text x="1245.6" y="251.9">CELA2B</text><text x="1245.6" y="256.9">CELA3B</text><text x="1245.6" y="261.9">FAM150B</text><text x="1245.6" y="266.9">REG1P</text><text x="1245.6" y="271.9">KCNJ16</text><text x="1245.6" y="276.9">LGALS2</text><text x="1245.6" y="281.9">C5</text><text x="1245.6" y="286.9">MT1M</text><text x="1245.6" y="291.9">IAPP</text><text x="1245.6" y="296.9">BEX1</text><text x="1245.6" y="301.9">ERO1LB</text><text x="1245.6" y="306.9">GJB2</text><text x="1245.6" y="311.9">COL11A1</text><text x="1245.6" y="316.9">IGFBP3</text><text x="1245.6" y="321.9">COL10A1</text><text x="1245.6" y="326.9">CST1</text><text x="1245.6" y="331.9">CCL20</text><text x="1245.6" y="336.9">CXCL5</text><text x="1245.6" y="341.9">TCN1</text><text x="1245.6" y="346.9">DUOX2</text><text x="1245.6" y="351.9">GABRP</text><text x="1245.6" y="356.9">GCNT3</text><text x="1245.6" y="361.9">LCN2</text><text x="1245.6" y="366.9">SFTA2</text><text x="1245.6" y="371.9">SLPI</text><text x="1245.6" y="376.9">PSCA</text><text x="1245.6" y="381.9">DPCR1</text><text x="1245.6" y="386.9">TFF2</text><text x="1245.6" y="391.9">TFF1</text><text x="1245.6" y="396.9">ANXA10</text><text x="1245.6" y="401.9">CAPN8</text><text x="1245.6" y="406.9">CEACAM5</text><text x="1245.6" y="411.9">TSPAN1</text><text x="1245.6" y="416.9">CEACAM6</text><text x="1245.6" y="421.9">KLK10</text><text x="1245.6" y="426.9">LAMC2</text><text x="1245.6" y="431.9">AHNAK2</text><text x="1245.6" y="436.9">SERPINB5</text><text x="1245.6" y="441.9">LAMB3</text><text x="1245.6" y="446.9">KRT19</text><text x="1245.6" y="451.9">SFN</text><text x="1245.6" y="456.9">C19orf33</text><text x="1245.6" y="461.9">GPRC5A</text><text x="1245.6" y="466.9">TMPRSS4</text><text x="1245.6" y="471.9">SLC6A14</text><text x="1245.6" y="476.9">CLDN18</text><text x="1245.6" y="481.9">IFI27</text><text x="1245.6" y="486.9">MSLN</text><text x="1245.6" y="491.9">S100P</text><text x="1245.6" y="496.9">NMU</text><text x="1245.6" y="501.9">TRIM29</text><text x="1245.6" y="506.9">ZG16B</text><text x="1245.6" y="511.9">SDR16C5</text><text x="1245.6" y="517.0">AGR2</text><text x="1245.6" y="522.0">NQO1</text><text x="1245.6" y="527.0">CTSE</text><text x="1245.6" y="532.0">PLAC8</text><text x="1245.6" y="537.0">EPS8L3</text><text x="1245.6" y="542.0">MUC1</text><text x="1245.6" y="547.0">VSIG1</text><text x="1245.6" y="552.0">DKK1</text></g>
<defs><linearGradient id="cb1294" x1="0" y1="0" x2="0" y2="1"><stop offset="0" stop-color="#f00"/><stop offset="0.5" stop-color="#fff"/><stop offset="1" stop-color="#00f"/></linearGradient></defs>
<rect x="1294.9" y="41.8" width="9.0" height="135.0" fill="url(#cb1294)"/>
<text x="1307.6" y="65.1" font-size="7.2" fill="#000">2</text>
<text x="1307.6" y="88.5" font-size="7.2" fill="#000">1</text>
<text x="1307.6" y="111.9" font-size="7.2" fill="#000">0</text>
<text x="1307.6" y="135.3" font-size="7.2" fill="#000">−1</text>
<text x="1307.6" y="158.7" font-size="7.2" fill="#000">−2</text>
<path fill="none" stroke="#111" stroke-width="1.1" d="M743.3 69.7L747.1 69.7M743.3 74.7L747.1 74.7M743.3 69.7L743.3 74.7M744.5 84.7L747.1 84.7M744.5 89.7L747.1 89.7M744.5 84.7L744.5 89.7M743.9 87.2L744.5 87.2M743.9 94.7L747.1 94.7M743.9 87.2L743.9 94.7M743.3 79.7L747.1 79.7M743.3 91.0L743.9 91.0M743.3 79.7L743.3 91.0M742.7 72.2L743.3 72.2M742.7 85.3L743.3 85.3M742.7 72.2L742.7 85.3M742.1 64.7L747.1 64.7M742.1 78.8L742.7 78.8M742.1 64.7L742.1 78.8M741.5 71.7L742.1 71.7M741.5 99.7L747.1 99.7M741.5 71.7L741.5 99.7M742.1 109.7L747.1 109.7M742.1 114.7L747.1 114.7M742.1 109.7L742.1 114.7M741.5 104.7L747.1 104.7M741.5 112.2L742.1 112.2M741.5 104.7L741.5 112.2M740.3 85.7L741.5 85.7M740.3 108.5L741.5 108.5M740.3 85.7L740.3 108.5M739.1 59.7L747.1 59.7M739.1 97.1L740.3 97.1M739.1 59.7L739.1 97.1M742.1 124.7L747.1 124.7M742.1 129.7L747.1 129.7M742.1 124.7L742.1 129.7M737.4 119.7L747.1 119.7M737.4 127.2L742.1 127.2M737.4 119.7L737.4 127.2M736.2 78.4L739.1 78.4M736.2 123.4L737.4 123.4M736.2 78.4L736.2 123.4M734.4 100.9L736.2 100.9M734.4 134.7L747.1 134.7M734.4 100.9L734.4 134.7M733.2 54.7L747.1 54.7M733.2 117.8L734.4 117.8M733.2 54.7L733.2 117.8M741.3 149.7L747.1 149.7M741.3 154.7L747.1 154.7M741.3 149.7L741.3 154.7M737.4 144.7L747.1 144.7M737.4 152.2L741.3 152.2M737.4 144.7L737.4 152.2M732.3 139.7L747.1 139.7M732.3 148.4L737.4 148.4M732.3 139.7L732.3 148.4M727.6 86.3L733.2 86.3M727.6 144.1L732.3 144.1M727.6 86.3L727.6 144.1M741.1 159.7L747.1 159.7M741.1 164.7L747.1 164.7M741.1 159.7L741.1 164.7M740.9 169.7L747.1 169.7M740.9 174.7L747.1 174.7M740.9 169.7L740.9 174.7M738.4 162.2L741.1 162.2M738.4 172.2L740.9 172.2M738.4 162.2L738.4 172.2M736.2 167.2L738.4 167.2M736.2 179.7L747.1 179.7M736.2 167.2L736.2 179.7M734.7 173.4L736.2 173.4M734.7 184.7L747.1 184.7M734.7 173.4L734.7 184.7M742.0 189.7L747.1 189.7M742.0 194.7L747.1 194.7M742.0 189.7L742.0 194.7M741.7 199.7L747.1 199.7M741.7 204.7L747.1 204.7M741.7 199.7L741.7 204.7M735.8 192.2L742.0 192.2M735.8 202.2L741.7 202.2M735.8 192.2L735.8 202.2M742.0 219.7L747.1 219.7M742.0 224.7L747.1 224.7M742.0 219.7L742.0 224.7M741.3 214.7L747.1 214.7M741.3 222.2L742.0 222.2M741.3 214.7L741.3 222.2M740.1 209.7L747.1 209.7M740.1 218.4L741.3 218.4M740.1 209.7L740.1 218.4M738.1 214.1L740.1 214.1M738.1 229.7L747.1 229.7M738.1 214.1L738.1 229.7M736.9 221.9L738.1 221.9M736.9 234.7L747.1 234.7M736.9 221.9L736.9 234.7M734.9 228.3L736.9 228.3M734.9 239.7L747.1 239.7M734.9 228.3L734.9 239.7M732.8 234.0L734.9 234.0M732.8 244.7L747.1 244.7M732.8 234.0L732.8 244.7M729.2 197.2L735.8 197.2M729.2 239.3L732.8 239.3M729.2 197.2L729.2 239.3M727.1 179.1L734.7 179.1M727.1 218.3L729.2 218.3M727.1 179.1L727.1 218.3M739.7 249.7L747.1 249.7M739.7 254.7L747.1 254.7M739.7 249.7L739.7 254.7M740.3 264.7L747.1 264.7M740.3 269.7L747.1 269.7M740.3 264.7L740.3 269.7M740.8 274.7L747.1 274.7M740.8 279.7L747.1 279.7M740.8 274.7L740.8 279.7M742.4 284.7L747.1 284.7M742.4 289.7L747.1 289.7M742.4 284.7L742.4 289.7M739.0 277.2L740.8 277.2M739.0 287.2L742.4 287.2M739.0 277.2L739.0 287.2M737.5 267.2L740.3 267.2M737.5 282.2L739.0 282.2M737.5 267.2L737.5 282.2M736.3 274.7L737.5 274.7M736.3 294.7L747.1 294.7M736.3 274.7L736.3 294.7M733.4 284.7L736.3 284.7M733.4 299.7L747.1 299.7M733.4 284.7L733.4 299.7M730.8 259.7L747.1 259.7M730.8 292.2L733.4 292.2M730.8 259.7L730.8 292.2M727.7 252.2L739.7 252.2M727.7 275.9L730.8 275.9M727.7 252.2L727.7 275.9M722.3 198.7L727.1 198.7M722.3 264.1L727.7 264.1M722.3 198.7L722.3 264.1M720.2 115.2L727.6 115.2M720.2 231.4L722.3 231.4M720.2 115.2L720.2 231.4M741.1 319.7L747.1 319.7M741.1 324.7L747.1 324.7M741.1 319.7L741.1 324.7M739.5 314.7L747.1 314.7M739.5 322.2L741.1 322.2M739.5 314.7L739.5 322.2M742.4 334.7L747.1 334.7M742.4 339.7L747.1 339.7M742.4 334.7L742.4 339.7M740.7 329.7L747.1 329.7M740.7 337.2L742.4 337.2M740.7 329.7L740.7 337.2M739.5 333.4L740.7 333.4M739.5 344.7L747.1 344.7M739.5 333.4L739.5 344.7M738.3 318.4L739.5 318.4M738.3 339.1L739.5 339.1M738.3 318.4L738.3 339.1M734.4 309.7L747.1 309.7M734.4 328.8L738.3 328.8M734.4 309.7L734.4 328.8M728.8 304.7L747.1 304.7M728.8 319.2L734.4 319.2M728.8 304.7L728.8 319.2M740.4 354.7L747.1 354.7M740.4 359.7L747.1 359.7M740.4 354.7L740.4 359.7M736.1 349.7L747.1 349.7M736.1 357.2L740.4 357.2M736.1 349.7L736.1 357.2M738.9 364.7L747.1 364.7M738.9 369.7L747.1 369.7M738.9 364.7L738.9 369.7M732.5 353.4L736.1 353.4M732.5 367.2L738.9 367.2M732.5 353.4L732.5 367.2M724.0 312.0L728.8 312.0M724.0 360.3L732.5 360.3M724.0 312.0L724.0 360.3M740.8 379.7L747.1 379.7M740.8 384.7L747.1 384.7M740.8 379.7L740.8 384.7M738.6 374.7L747.1 374.7M738.6 382.2L740.8 382.2M738.6 374.7L738.6 382.2M736.4 378.4L738.6 378.4M736.4 389.7L747.1 389.7M736.4 378.4L736.4 389.7M732.3 384.1L736.4 384.1M732.3 394.7L747.1 394.7M732.3 384.1L732.3 394.7M741.6 409.7L747.1 409.7M741.6 414.7L747.1 414.7M741.6 409.7L741.6 414.7M738.3 404.7L747.1 404.7M738.3 412.2L741.6 412.2M738.3 404.7L738.3 412.2M737.0 399.7L747.1 399.7M737.0 408.4L738.3 408.4M737.0 399.7L737.0 408.4M741.9 424.7L747.1 424.7M741.9 429.7L747.1 429.7M741.9 424.7L741.9 429.7M736.9 419.7L747.1 419.7M736.9 427.2L741.9 427.2M736.9 419.7L736.9 427.2M733.4 404.1L737.0 404.1M733.4 423.4L736.9 423.4M733.4 404.1L733.4 423.4M726.0 389.4L732.3 389.4M726.0 413.8L733.4 413.8M726.0 389.4L726.0 413.8M743.4 434.7L747.1 434.7M743.4 439.7L747.1 439.7M743.4 434.7L743.4 439.7M742.8 437.2L743.4 437.2M742.8 444.7L747.1 444.7M742.8 437.2L742.8 444.7M744.0 459.7L747.1 459.7M744.0 464.7L747.1 464.7M744.0 459.7L744.0 464.7M743.4 454.7L747.1 454.7M743.4 462.2L744.0 462.2M743.4 454.7L743.4 462.2M742.8 449.7L747.1 449.7M742.8 458.4L743.4 458.4M742.8 449.7L742.8 458.4M742.2 440.9L742.8 440.9M742.2 454.1L742.8 454.1M742.2 440.9L742.2 454.1M741.0 447.5L742.2 447.5M741.0 469.7L747.1 469.7M741.0 447.5L741.0 469.7M739.8 458.6L741.0 458.6M739.8 474.7L747.1 474.7M739.8 458.6L739.8 474.7M742.3 479.7L747.1 479.7M742.3 484.7L747.1 484.7M742.3 479.7L742.3 484.7M744.6 489.7L747.1 489.7M744.6 494.7L747.1 494.7M744.6 489.7L744.6 494.7M744.3 492.2L744.6 492.2M744.3 499.7L747.1 499.7M744.3 492.2L744.3 499.7M743.7 495.9L744.3 495.9M743.7 504.7L747.1 504.7M743.7 495.9L743.7 504.7M743.1 500.3L743.7 500.3M743.1 509.7L747.1 509.7M743.1 500.3L743.1 509.7M742.5 505.0L743.1 505.0M742.5 514.7L747.1 514.7M742.5 505.0L742.5 514.7M741.9 509.9L742.5 509.9M741.9 519.7L747.1 519.7M741.9 509.9L741.9 519.7M741.9 524.7L747.1 524.7M741.9 529.7L747.1 529.7M741.9 524.7L741.9 529.7M741.2 514.8L741.9 514.8M741.2 527.2L741.9 527.2M741.2 514.8L741.2 527.2M740.0 482.2L742.3 482.2M740.0 521.0L741.2 521.0M740.0 482.2L740.0 521.0M737.8 466.7L739.8 466.7M737.8 501.6L740.0 501.6M737.8 466.7L737.8 501.6M740.4 534.7L747.1 534.7M740.4 539.7L747.1 539.7M740.4 534.7L740.4 539.7M734.8 484.1L737.8 484.1M734.8 537.2L740.4 537.2M734.8 484.1L734.8 537.2M727.1 510.7L734.8 510.7M727.1 544.7L747.1 544.7M727.1 510.7L727.1 544.7M723.0 527.7L727.1 527.7M723.0 549.7L747.1 549.7M723.0 527.7L723.0 549.7M721.0 401.6L726.0 401.6M721.0 538.7L723.0 538.7M721.0 401.6L721.0 538.7M719.2 336.1L724.0 336.1M719.2 470.1L721.0 470.1M719.2 336.1L719.2 470.1M700.6 173.3L720.2 173.3M700.6 403.1L719.2 403.1M700.6 173.3L700.6 403.1"/>
<rect x="1436.60" y="42.3" width="108.76" height="7.9" fill="#00dae0"/>
<rect x="1545.36" y="42.3" width="388.43" height="7.9" fill="#ff9289"/>
<path fill="none" stroke="#999" stroke-width="0.9" opacity="0.55" d="M1436.60 42.3v7.9M1452.14 42.3v7.9M1467.67 42.3v7.9M1483.21 42.3v7.9M1498.75 42.3v7.9M1514.28 42.3v7.9M1529.82 42.3v7.9M1545.36 42.3v7.9M1560.90 42.3v7.9M1576.43 42.3v7.9M1591.97 42.3v7.9M1607.51 42.3v7.9M1623.04 42.3v7.9M1638.58 42.3v7.9M1654.12 42.3v7.9M1669.65 42.3v7.9M1685.19 42.3v7.9M1700.73 42.3v7.9M1716.27 42.3v7.9M1731.80 42.3v7.9M1747.34 42.3v7.9M1762.88 42.3v7.9M1778.41 42.3v7.9M1793.95 42.3v7.9M1809.49 42.3v7.9M1825.02 42.3v7.9M1840.56 42.3v7.9M1856.10 42.3v7.9M1871.64 42.3v7.9M1887.17 42.3v7.9M1902.71 42.3v7.9M1918.25 42.3v7.9M1933.78 42.3v7.9M1436.60 42.3h497.18M1436.60 50.2h497.18"/>
<g transform="translate(1436.60,52.20) scale(15.5370,5.0000)" shape-rendering="crispEdges">
<path fill="#0000ff" d="M9 21h1v1h-1z"/>
<path fill="#0b0bff" d="M23 15h1v1h-1z"/>
<path fill="#1515ff" d="M2 49h1v1h-1zM4 49h1v1h-1zM5 71h1v1h-1zM4 94h1v1h-1z"/>
<path fill="#2020ff" d="M4 86h1v1h-1zM4 90h1v1h-1z"/>
<path fill="#2a2aff" d="M23 23h1v1h-1zM12 29h1v1h-1zM4 47h1v1h-1zM3 51h1v1h-1zM2 86h1v1h-1z"/>
<path fill="#3535ff" d="M2 52h1v1h-1zM4 52h1v1h-1zM2 58h1v1h-1zM2 62h1v1h-1zM4 66h1v1h-1zM4 72h1v1h-1zM4 99h1v1h-1z"/>
<path fill="#4040ff" d="M2 47h1v1h-1zM2 66h1v1h-1zM0 68h1v1h-1zM4 70h1v1h-1zM2 71h1v1h-1zM2 76h1v1h-1zM3 93h1v1h-1zM2 97h1v1h-1z"/>
<path fill="#4a4aff" d="M9 39h1v1h-1zM4 48h1v1h-1zM4 62h1v1h-1zM4 76h1v1h-1zM2 77h1v1h-1zM2 78h1v1h-1zM2 81h1v1h-1zM2 85h1v1h-1zM4 85h1v1h-1zM2 90h1v1h-1zM4 93h1v1h-1zM2 94h1v1h-1zM2 99h1v1h-1z"/>
<path fill="#5555ff" d="M0 52h1v1h-1zM4 57h1v1h-1zM4 71h1v1h-1zM2 72h1v1h-1zM4 75h1v1h-1zM4 78h1v1h-1zM2 88h1v1h-1zM4 91h1v1h-1zM2 93h1v1h-1zM4 98h1v1h-1z"/>
<path fill="#6060ff" d="M9 4h1v1h-1zM18 21h1v1h-1zM30 49h1v1h-1zM2 55h1v1h-1zM4 55h1v1h-1zM2 59h1v1h-1zM0 62h1v1h-1zM3 66h1v1h-1zM4 67h1v1h-1zM2 70h1v1h-1zM2 75h1v1h-1zM4 81h1v1h-1zM4 82h1v1h-1zM2 84h1v1h-1zM0 85h1v1h-1zM3 85h1v1h-1zM2 91h1v1h-1zM4 92h1v1h-1z"/>
<path fill="#6a6aff" d="M9 17h1v1h-1zM12 21h1v1h-1zM31 21h1v1h-1zM23 39h1v1h-1zM9 44h1v1h-1zM2 48h1v1h-1zM2 50h1v1h-1zM3 54h2v1h-2zM4 58h1v1h-1zM4 59h1v1h-1zM4 64h1v1h-1zM2 65h1v1h-1zM2 68h1v1h-1zM4 68h1v1h-1zM2 74h1v1h-1zM4 77h1v1h-1zM2 79h1v1h-1zM0 82h1v1h-1zM2 82h1v1h-1zM4 83h1v1h-1zM22 86h1v1h-1zM4 87h1v1h-1zM2 95h1v1h-1zM2 96h1v1h-1zM2 98h1v1h-1z"/>
<path fill="#7575ff" d="M23 0h1v1h-1zM9 5h1v1h-1zM23 12h1v1h-1zM23 20h1v1h-1zM9 22h1v1h-1zM23 37h1v1h-1zM4 50h1v1h-1zM4 51h1v1h-1zM4 56h1v1h-1zM2 57h1v1h-1zM3 58h1v1h-1zM1 59h1v1h-1zM3 62h1v1h-1zM10 66h1v1h-1zM3 72h1v1h-1zM4 74h1v1h-1zM4 79h1v1h-1zM2 80h1v1h-1zM5 85h1v1h-1zM3 86h1v1h-1zM30 90h1v1h-1zM2 92h1v1h-1zM4 97h1v1h-1z"/>
<path fill="#8080ff" d="M9 3h1v1h-1zM23 5h1v1h-1zM9 12h1v1h-1zM31 17h1v1h-1zM23 24h1v1h-1zM23 31h1v1h-1zM23 32h1v1h-1zM23 35h1v1h-1zM23 40h1v1h-1zM9 42h1v1h-1zM23 42h1v1h-1zM9 43h1v1h-1zM9 46h1v1h-1zM1 49h1v1h-1zM0 50h1v1h-1zM2 51h1v1h-1zM1 52h1v1h-1zM3 52h1v1h-1zM18 53h1v1h-1zM2 56h1v1h-1zM30 66h1v1h-1zM2 67h1v1h-1zM3 69h1v1h-1zM30 71h1v1h-1zM3 74h1v1h-1zM0 75h1v1h-1zM2 83h1v1h-1zM4 84h1v1h-1zM0 87h1v1h-1zM2 87h1v1h-1zM30 88h1v1h-1zM18 94h1v1h-1zM3 97h1v1h-1z"/>
<path fill="#8a8aff" d="M9 6h1v1h-1zM28 6h1v1h-1zM23 7h1v1h-1zM9 9h1v1h-1zM23 13h1v1h-1zM9 14h1v1h-1zM28 21h1v1h-1zM9 23h1v1h-1zM9 26h1v1h-1zM23 26h1v1h-1zM9 27h1v1h-1zM23 27h1v1h-1zM28 34h1v1h-1zM31 35h1v1h-1zM9 37h1v1h-1zM0 48h1v1h-1zM3 48h1v1h-1zM0 49h1v1h-1zM3 49h1v1h-1zM0 51h1v1h-1zM30 52h1v1h-1zM3 57h1v1h-1zM0 58h1v1h-1zM2 63h1v1h-1zM2 64h1v1h-1zM1 66h1v1h-1zM0 67h1v1h-1zM0 70h1v1h-1zM1 71h1v1h-1zM3 71h1v1h-1zM0 72h2v1h-2zM30 72h1v1h-1zM5 75h1v1h-1zM3 76h1v1h-1zM0 77h1v1h-1zM1 82h1v1h-1zM30 83h1v1h-1zM0 84h1v1h-1zM3 84h1v1h-1zM5 84h1v1h-1zM1 85h1v1h-1zM0 86h1v1h-1zM4 88h1v1h-1zM3 90h1v1h-1zM3 91h1v1h-1zM5 93h1v1h-1zM4 96h1v1h-1zM12 96h1v1h-1zM0 99h2v1h-2zM3 99h1v1h-1zM5 99h1v1h-1zM7 99h1v1h-1z"/>
<path fill="#9595ff" d="M9 0h1v1h-1zM15 0h1v1h-1zM9 2h1v1h-1zM18 8h1v1h-1zM18 9h1v1h-1zM23 10h1v1h-1zM23 17h1v1h-1zM8 18h1v1h-1zM9 19h1v1h-1zM9 20h1v1h-1zM28 20h1v1h-1zM31 23h1v1h-1zM9 28h1v1h-1zM9 34h1v1h-1zM8 35h2v1h-2zM9 36h1v1h-1zM28 37h1v1h-1zM9 38h1v1h-1zM9 40h1v1h-1zM23 43h1v1h-1zM23 44h1v1h-1zM9 45h1v1h-1zM23 45h1v1h-1zM5 47h1v1h-1zM1 48h1v1h-1zM1 50h1v1h-1zM3 50h1v1h-1zM28 52h1v1h-1zM2 53h1v1h-1zM0 54h1v1h-1zM2 54h1v1h-1zM0 57h1v1h-1zM1 58h1v1h-1zM3 59h1v1h-1zM2 61h1v1h-1zM4 61h1v1h-1zM5 62h1v1h-1zM30 62h1v1h-1zM0 66h1v1h-1zM1 68h1v1h-1zM2 69h1v1h-1zM4 69h1v1h-1zM5 72h1v1h-1zM30 75h1v1h-1zM0 76h1v1h-1zM0 78h1v1h-1zM3 78h1v1h-1zM5 81h1v1h-1zM30 81h1v1h-1zM30 85h1v1h-1zM30 87h1v1h-1zM0 91h1v1h-1zM5 91h1v1h-1zM30 91h1v1h-1zM3 92h1v1h-1zM30 93h1v1h-1zM0 94h1v1h-1zM4 95h1v1h-1zM1 97h1v1h-1zM30 97h1v1h-1zM30 99h1v1h-1z"/>
<path fill="#9f9fff" d="M8 0h1v1h-1zM18 0h1v1h-1zM23 1h1v1h-1zM16 4h1v1h-1zM23 4h1v1h-1zM18 6h1v1h-1zM23 8h1v1h-1zM13 9h1v1h-1zM16 11h1v1h-1zM18 13h1v1h-1zM9 15h1v1h-1zM23 21h1v1h-1zM25 21h1v1h-1zM25 23h1v1h-1zM8 24h1v1h-1zM15 24h1v1h-1zM16 26h1v1h-1zM29 26h1v1h-1zM9 31h1v1h-1zM16 31h1v1h-1zM29 32h1v1h-1zM12 37h1v1h-1zM29 37h1v1h-1zM8 39h1v1h-1zM31 39h1v1h-1zM8 42h1v1h-1zM28 42h1v1h-1zM25 44h1v1h-1zM3 47h1v1h-1zM10 48h1v1h-1zM5 49h1v1h-1zM10 50h1v1h-1zM30 50h1v1h-1zM10 53h1v1h-1zM5 54h1v1h-1zM30 54h1v1h-1zM1 55h1v1h-1zM1 57h1v1h-1zM5 58h1v1h-1zM30 58h1v1h-1zM0 59h1v1h-1zM30 59h1v1h-1zM10 61h1v1h-1zM4 63h1v1h-1zM0 64h1v1h-1zM30 64h1v1h-1zM4 65h1v1h-1zM5 66h1v1h-1zM5 69h1v1h-1zM30 69h1v1h-1zM30 76h1v1h-1zM3 81h1v1h-1zM1 84h1v1h-1zM1 87h1v1h-1zM0 88h1v1h-1zM0 90h1v1h-1zM0 92h1v1h-1zM10 92h1v1h-1zM30 92h1v1h-1zM1 93h1v1h-1zM3 94h1v1h-1zM5 97h1v1h-1zM0 98h1v1h-1z"/>
<path fill="#aaaaff" d="M23 2h1v1h-1zM16 5h1v1h-1zM25 8h1v1h-1zM31 8h1v1h-1zM15 9h1v1h-1zM9 10h1v1h-1zM23 11h1v1h-1zM28 11h1v1h-1zM8 12h1v1h-1zM29 12h1v1h-1zM31 12h1v1h-1zM15 15h1v1h-1zM25 15h1v1h-1zM9 16h1v1h-1zM23 16h1v1h-1zM8 19h1v1h-1zM31 19h1v1h-1zM30 21h1v1h-1zM8 22h1v1h-1zM28 22h1v1h-1zM18 26h1v1h-1zM15 27h1v1h-1zM18 27h1v1h-1zM25 27h1v1h-1zM29 27h1v1h-1zM18 28h1v1h-1zM8 29h1v1h-1zM11 29h1v1h-1zM23 29h1v1h-1zM9 30h1v1h-1zM16 30h1v1h-1zM23 30h1v1h-1zM28 31h1v1h-1zM9 32h1v1h-1zM12 32h1v1h-1zM23 34h1v1h-1zM23 36h1v1h-1zM18 39h1v1h-1zM28 39h1v1h-1zM28 43h2v1h-2zM29 44h1v1h-1zM15 46h1v1h-1zM23 46h1v1h-1zM31 46h1v1h-1zM1 47h1v1h-1zM30 48h1v1h-1zM5 51h1v1h-1zM5 52h1v1h-1zM30 53h1v1h-1zM1 54h1v1h-1zM0 56h1v1h-1zM3 61h1v1h-1zM5 61h1v1h-1zM1 62h1v1h-1zM5 63h1v1h-1zM3 64h1v1h-1zM3 67h1v1h-1zM3 70h1v1h-1zM10 71h1v1h-1zM2 73h1v1h-1zM1 75h1v1h-1zM1 77h1v1h-1zM3 79h1v1h-1zM30 79h1v1h-1zM4 80h1v1h-1zM0 83h1v1h-1zM10 85h1v1h-1zM5 86h1v1h-1zM3 88h1v1h-1zM10 91h1v1h-1zM0 93h1v1h-1zM0 95h1v1h-1zM3 95h1v1h-1zM0 96h1v1h-1zM3 98h1v1h-1zM22 99h1v1h-1z"/>
<path fill="#b5b5ff" d="M31 0h1v1h-1zM22 4h1v1h-1zM29 4h1v1h-1zM31 5h1v1h-1zM15 6h2v1h-2zM23 6h1v1h-1zM15 7h1v1h-1zM9 8h1v1h-1zM16 8h1v1h-1zM28 8h1v1h-1zM8 9h1v1h-1zM16 9h1v1h-1zM9 11h1v1h-1zM29 11h1v1h-1zM8 13h2v1h-2zM16 13h1v1h-1zM8 14h1v1h-1zM16 14h1v1h-1zM29 17h1v1h-1zM9 18h1v1h-1zM15 19h1v1h-1zM23 19h1v1h-1zM29 19h1v1h-1zM8 20h1v1h-1zM15 20h1v1h-1zM7 21h2v1h-2zM10 21h2v1h-2zM16 21h1v1h-1zM24 21h1v1h-1zM23 22h1v1h-1zM29 22h1v1h-1zM12 23h1v1h-1zM16 23h1v1h-1zM25 24h1v1h-1zM16 25h1v1h-1zM23 25h1v1h-1zM15 26h1v1h-1zM25 26h1v1h-1zM23 28h1v1h-1zM9 29h1v1h-1zM15 30h1v1h-1zM28 30h1v1h-1zM25 31h1v1h-1zM9 33h1v1h-1zM16 34h1v1h-1zM18 34h1v1h-1zM12 35h1v1h-1zM25 35h1v1h-1zM8 37h1v1h-1zM15 37h1v1h-1zM15 39h1v1h-1zM8 40h1v1h-1zM16 40h1v1h-1zM31 40h1v1h-1zM31 42h1v1h-1zM8 43h1v1h-1zM15 43h1v1h-1zM25 43h1v1h-1zM8 44h1v1h-1zM18 44h1v1h-1zM28 44h1v1h-1zM25 45h1v1h-1zM30 47h1v1h-1zM4 53h1v1h-1zM0 55h1v1h-1zM5 59h1v1h-1zM0 60h2v1h-2zM4 60h1v1h-1zM10 62h1v1h-1zM5 65h1v1h-1zM30 67h1v1h-1zM5 68h1v1h-1zM1 70h1v1h-1zM0 71h1v1h-1zM10 72h1v1h-1zM4 73h1v1h-1zM5 74h1v1h-1zM1 76h1v1h-1zM5 76h1v1h-1zM3 77h1v1h-1zM30 77h1v1h-1zM0 79h1v1h-1zM0 81h2v1h-2zM3 82h1v1h-1zM1 83h1v1h-1zM3 83h1v1h-1zM1 86h1v1h-1zM5 87h1v1h-1zM3 89h1v1h-1zM1 91h1v1h-1zM23 91h1v1h-1zM1 92h1v1h-1zM1 94h1v1h-1zM30 94h1v1h-1zM0 97h1v1h-1z"/>
<path fill="#bfbfff" d="M12 0h1v1h-1zM25 0h1v1h-1zM16 1h1v1h-1zM12 2h1v1h-1zM18 2h1v1h-1zM8 3h1v1h-1zM12 3h1v1h-1zM23 3h1v1h-1zM29 3h1v1h-1zM31 3h1v1h-1zM12 4h1v1h-1zM31 4h1v1h-1zM29 5h1v1h-1zM14 6h1v1h-1zM9 7h1v1h-1zM17 7h1v1h-1zM12 8h1v1h-1zM29 8h1v1h-1zM23 9h1v1h-1zM28 9h1v1h-1zM25 10h1v1h-1zM31 10h1v1h-1zM15 12h1v1h-1zM15 13h1v1h-1zM29 13h1v1h-1zM25 14h1v1h-1zM12 16h1v1h-1zM10 19h1v1h-1zM30 19h1v1h-1zM12 20h1v1h-1zM16 20h1v1h-1zM29 20h1v1h-1zM15 21h1v1h-1zM17 21h1v1h-1zM12 22h1v1h-1zM8 23h1v1h-1zM31 26h1v1h-1zM8 27h1v1h-1zM10 27h1v1h-1zM17 29h1v1h-1zM18 30h1v1h-1zM29 30h1v1h-1zM8 31h1v1h-1zM15 31h1v1h-1zM18 32h1v1h-1zM8 34h1v1h-1zM15 34h1v1h-1zM25 34h1v1h-1zM14 35h1v1h-1zM8 36h1v1h-1zM31 36h1v1h-1zM31 37h1v1h-1zM25 38h1v1h-1zM16 39h1v1h-1zM30 42h1v1h-1zM12 44h1v1h-1zM16 44h1v1h-1zM31 44h1v1h-1zM7 45h1v1h-1zM15 45h1v1h-1zM12 46h1v1h-1zM29 46h1v1h-1zM5 50h1v1h-1zM10 52h1v1h-1zM10 54h1v1h-1zM30 55h1v1h-1zM3 56h1v1h-1zM22 58h1v1h-1zM10 59h1v1h-1zM2 60h1v1h-1zM30 61h1v1h-1zM27 62h1v1h-1zM1 63h1v1h-1zM30 63h1v1h-1zM1 65h1v1h-1zM3 65h1v1h-1zM1 67h1v1h-1zM3 68h1v1h-1zM30 68h1v1h-1zM0 69h1v1h-1zM30 70h1v1h-1zM0 73h1v1h-1zM0 74h1v1h-1zM30 74h1v1h-1zM3 75h1v1h-1zM10 77h1v1h-1zM5 79h1v1h-1zM10 79h1v1h-1zM3 80h1v1h-1zM30 80h1v1h-1zM30 82h1v1h-1zM10 84h1v1h-1zM30 84h1v1h-1zM10 86h1v1h-1zM30 86h1v1h-1zM10 88h1v1h-1zM2 89h1v1h-1zM1 90h1v1h-1zM10 95h1v1h-1zM1 98h1v1h-1zM10 98h1v1h-1z"/>
<path fill="#cacaff" d="M24 1h2v1h-2zM28 1h1v1h-1zM15 2h1v1h-1zM28 2h1v1h-1zM31 2h1v1h-1zM18 3h1v1h-1zM25 3h1v1h-1zM28 3h1v1h-1zM18 4h1v1h-1zM25 4h1v1h-1zM28 4h1v1h-1zM7 5h1v1h-1zM17 5h2v1h-2zM27 5h2v1h-2zM25 6h1v1h-1zM29 6h1v1h-1zM8 7h1v1h-1zM25 7h1v1h-1zM8 8h1v1h-1zM10 9h1v1h-1zM15 10h1v1h-1zM15 11h1v1h-1zM31 11h1v1h-1zM16 12h1v1h-1zM25 12h1v1h-1zM12 13h1v1h-1zM24 13h1v1h-1zM31 13h1v1h-1zM17 14h2v1h-2zM23 14h1v1h-1zM17 15h1v1h-1zM27 15h2v1h-2zM31 15h1v1h-1zM14 16h1v1h-1zM16 16h1v1h-1zM25 16h1v1h-1zM8 17h1v1h-1zM16 17h1v1h-1zM25 17h1v1h-1zM18 18h1v1h-1zM25 18h1v1h-1zM12 19h1v1h-1zM5 21h1v1h-1zM22 21h1v1h-1zM29 21h1v1h-1zM16 22h1v1h-1zM25 22h1v1h-1zM15 23h1v1h-1zM9 24h1v1h-1zM16 24h1v1h-1zM29 24h1v1h-1zM9 25h1v1h-1zM12 26h1v1h-1zM16 27h1v1h-1zM28 27h1v1h-1zM25 28h1v1h-1zM28 28h1v1h-1zM31 28h1v1h-1zM16 29h1v1h-1zM8 30h1v1h-1zM12 30h1v1h-1zM24 30h1v1h-1zM31 30h1v1h-1zM28 32h1v1h-1zM15 33h1v1h-1zM23 33h1v1h-1zM17 34h1v1h-1zM19 34h1v1h-1zM4 35h1v1h-1zM15 35h1v1h-1zM28 35h1v1h-1zM25 36h1v1h-1zM29 36h1v1h-1zM18 37h1v1h-1zM8 38h1v1h-1zM23 38h1v1h-1zM28 38h1v1h-1zM17 39h1v1h-1zM19 39h1v1h-1zM18 40h1v1h-1zM16 41h1v1h-1zM21 41h1v1h-1zM16 43h1v1h-1zM18 43h1v1h-1zM11 45h1v1h-1zM0 47h1v1h-1zM5 48h1v1h-1zM10 49h1v1h-1zM23 49h1v1h-1zM6 51h1v1h-1zM30 51h1v1h-1zM1 53h1v1h-1zM3 53h1v1h-1zM21 54h1v1h-1zM5 55h1v1h-1zM1 56h1v1h-1zM30 56h1v1h-1zM30 57h1v1h-1zM1 61h1v1h-1zM7 62h1v1h-1zM3 63h1v1h-1zM21 63h1v1h-1zM23 66h1v1h-1zM10 68h1v1h-1zM1 69h1v1h-1zM5 70h1v1h-1zM10 70h1v1h-1zM1 73h1v1h-1zM30 73h1v1h-1zM1 74h1v1h-1zM10 76h1v1h-1zM1 78h1v1h-1zM5 78h1v1h-1zM30 78h1v1h-1zM1 79h1v1h-1zM5 80h1v1h-1zM10 82h1v1h-1zM10 83h1v1h-1zM3 87h1v1h-1zM1 89h1v1h-1zM4 89h1v1h-1zM5 90h1v1h-1zM10 90h1v1h-1zM5 92h1v1h-1zM5 94h1v1h-1zM30 95h1v1h-1zM5 96h1v1h-1zM21 97h1v1h-1zM5 98h1v1h-1zM10 99h1v1h-1z"/>
<path fill="#d4d4ff" d="M16 0h1v1h-1zM28 0h1v1h-1zM16 2h1v1h-1zM29 2h1v1h-1zM27 4h1v1h-1zM8 5h1v1h-1zM12 6h1v1h-1zM12 7h1v1h-1zM16 7h1v1h-1zM7 8h1v1h-1zM7 9h1v1h-1zM12 9h1v1h-1zM29 9h1v1h-1zM16 10h1v1h-1zM18 11h1v1h-1zM24 11h1v1h-1zM5 12h1v1h-1zM10 12h1v1h-1zM12 12h1v1h-1zM21 12h1v1h-1zM26 12h1v1h-1zM26 14h1v1h-1zM16 15h1v1h-1zM19 16h1v1h-1zM29 16h1v1h-1zM18 17h1v1h-1zM19 18h1v1h-1zM23 18h1v1h-1zM29 18h1v1h-1zM5 19h1v1h-1zM7 19h1v1h-1zM14 19h1v1h-1zM16 19h1v1h-1zM25 19h1v1h-1zM26 20h1v1h-1zM19 21h1v1h-1zM21 21h1v1h-1zM27 21h1v1h-1zM18 22h1v1h-1zM24 22h1v1h-1zM28 23h1v1h-1zM14 24h1v1h-1zM18 24h1v1h-1zM28 24h1v1h-1zM8 26h1v1h-1zM12 27h1v1h-1zM7 28h1v1h-1zM15 28h2v1h-2zM18 29h1v1h-1zM25 29h1v1h-1zM25 30h1v1h-1zM18 31h1v1h-1zM29 31h1v1h-1zM31 31h1v1h-1zM15 32h1v1h-1zM25 32h1v1h-1zM10 34h1v1h-1zM12 34h1v1h-1zM29 35h1v1h-1zM16 36h1v1h-1zM18 36h1v1h-1zM10 38h1v1h-1zM12 39h1v1h-1zM25 39h1v1h-1zM30 40h1v1h-1zM9 41h1v1h-1zM12 41h1v1h-1zM14 41h2v1h-2zM5 42h1v1h-1zM21 42h1v1h-1zM29 42h1v1h-1zM11 43h1v1h-1zM14 44h1v1h-1zM24 44h1v1h-1zM30 44h1v1h-1zM8 45h1v1h-1zM14 45h1v1h-1zM18 45h1v1h-1zM29 45h1v1h-1zM16 46h1v1h-1zM28 46h1v1h-1zM1 51h1v1h-1zM5 53h1v1h-1zM3 55h1v1h-1zM27 55h1v1h-1zM6 56h1v1h-1zM10 56h1v1h-1zM6 57h1v1h-1zM10 58h1v1h-1zM18 59h1v1h-1zM3 60h1v1h-1zM30 60h1v1h-1zM5 64h2v1h-2zM10 64h1v1h-1zM30 65h1v1h-1zM21 66h1v1h-1zM5 67h1v1h-1zM10 74h1v1h-1zM7 75h1v1h-1zM23 75h1v1h-1zM5 77h1v1h-1zM10 78h1v1h-1zM0 80h2v1h-2zM10 80h1v1h-1zM10 81h1v1h-1zM5 82h1v1h-1zM5 83h1v1h-1zM6 85h1v1h-1zM27 86h1v1h-1zM10 87h1v1h-1zM0 89h1v1h-1zM9 93h1v1h-1zM22 93h1v1h-1zM5 95h1v1h-1zM30 98h1v1h-1z"/>
<path fill="#dfdfff" d="M30 0h1v1h-1zM8 1h2v1h-2zM31 1h1v1h-1zM8 2h1v1h-1zM26 2h1v1h-1zM15 3h2v1h-2zM19 4h1v1h-1zM11 5h1v1h-1zM21 6h1v1h-1zM29 7h1v1h-1zM10 8h1v1h-1zM30 8h1v1h-1zM24 9h2v1h-2zM27 9h1v1h-1zM29 10h1v1h-1zM17 12h1v1h-1zM10 14h1v1h-1zM12 14h1v1h-1zM28 14h2v1h-2zM12 15h1v1h-1zM18 15h1v1h-1zM29 15h1v1h-1zM17 16h1v1h-1zM15 17h1v1h-1zM5 18h1v1h-1zM15 18h2v1h-2zM21 18h1v1h-1zM18 20h1v1h-1zM13 21h2v1h-2zM7 22h1v1h-1zM21 22h1v1h-1zM18 23h1v1h-1zM12 24h1v1h-1zM31 24h1v1h-1zM17 26h1v1h-1zM24 27h1v1h-1zM31 27h1v1h-1zM29 28h1v1h-1zM10 29h1v1h-1zM26 29h1v1h-1zM28 29h1v1h-1zM11 32h1v1h-1zM17 32h1v1h-1zM26 32h1v1h-1zM5 34h1v1h-1zM14 34h1v1h-1zM31 34h1v1h-1zM11 35h1v1h-1zM16 35h1v1h-1zM7 36h1v1h-1zM28 36h1v1h-1zM14 37h1v1h-1zM18 38h1v1h-1zM29 38h1v1h-1zM31 38h1v1h-1zM29 39h1v1h-1zM12 40h1v1h-1zM28 40h1v1h-1zM18 41h2v1h-2zM23 41h1v1h-1zM27 41h1v1h-1zM31 41h1v1h-1zM18 42h2v1h-2zM5 43h1v1h-1zM19 43h1v1h-1zM17 44h1v1h-1zM27 45h1v1h-1zM30 45h2v1h-2zM27 47h1v1h-1zM27 48h1v1h-1zM6 49h1v1h-1zM7 51h1v1h-1zM10 51h1v1h-1zM12 51h1v1h-1zM22 51h1v1h-1zM28 51h1v1h-1zM21 52h1v1h-1zM23 52h1v1h-1zM22 53h1v1h-1zM23 54h1v1h-1zM10 55h1v1h-1zM5 56h1v1h-1zM22 56h1v1h-1zM5 57h1v1h-1zM23 60h1v1h-1zM0 61h1v1h-1zM23 62h1v1h-1zM0 63h1v1h-1zM23 63h1v1h-1zM1 64h1v1h-1zM0 65h1v1h-1zM7 65h1v1h-1zM10 69h1v1h-1zM19 70h1v1h-1zM23 71h1v1h-1zM3 73h1v1h-1zM5 73h1v1h-1zM10 75h1v1h-1zM22 76h1v1h-1zM22 77h1v1h-1zM21 79h1v1h-1zM27 79h1v1h-1zM7 81h1v1h-1zM27 81h1v1h-1zM6 82h1v1h-1zM21 84h1v1h-1zM6 87h2v1h-2zM1 88h1v1h-1zM7 88h1v1h-1zM5 89h1v1h-1zM7 91h1v1h-1zM29 91h1v1h-1zM23 93h1v1h-1zM7 94h1v1h-1zM10 94h1v1h-1zM27 94h1v1h-1zM22 95h1v1h-1zM23 98h1v1h-1z"/>
<path fill="#eaeaff" d="M17 0h1v1h-1zM22 0h1v1h-1zM14 1h1v1h-1zM29 1h1v1h-1zM14 2h1v1h-1zM24 2h2v1h-2zM5 3h1v1h-1zM22 3h1v1h-1zM30 3h1v1h-1zM15 4h1v1h-1zM21 4h1v1h-1zM15 5h1v1h-1zM24 6h1v1h-1zM31 6h1v1h-1zM11 7h1v1h-1zM22 8h1v1h-1zM27 8h1v1h-1zM14 9h1v1h-1zM18 10h1v1h-1zM17 11h1v1h-1zM25 11h1v1h-1zM11 12h1v1h-1zM24 12h1v1h-1zM5 13h1v1h-1zM21 14h1v1h-1zM24 14h1v1h-1zM8 15h1v1h-1zM10 15h2v1h-2zM11 17h1v1h-1zM28 17h1v1h-1zM10 18h1v1h-1zM12 18h1v1h-1zM17 18h1v1h-1zM26 18h3v1h-3zM22 19h1v1h-1zM24 19h1v1h-1zM26 19h1v1h-1zM28 19h1v1h-1zM21 20h1v1h-1zM25 20h1v1h-1zM31 20h1v1h-1zM11 22h1v1h-1zM10 24h1v1h-1zM14 25h1v1h-1zM26 25h2v1h-2zM24 26h1v1h-1zM28 26h1v1h-1zM7 27h1v1h-1zM30 27h1v1h-1zM11 28h1v1h-1zM24 28h1v1h-1zM27 29h1v1h-1zM17 30h1v1h-1zM19 30h1v1h-1zM21 30h1v1h-1zM12 31h1v1h-1zM21 31h1v1h-1zM17 33h3v1h-3zM25 33h1v1h-1zM24 34h1v1h-1zM27 34h1v1h-1zM18 35h1v1h-1zM22 35h1v1h-1zM24 35h1v1h-1zM26 35h1v1h-1zM30 35h1v1h-1zM15 36h1v1h-1zM27 36h1v1h-1zM7 37h1v1h-1zM25 37h1v1h-1zM5 38h1v1h-1zM15 38h3v1h-3zM30 38h1v1h-1zM21 39h1v1h-1zM5 40h1v1h-1zM10 40h1v1h-1zM15 40h1v1h-1zM25 40h1v1h-1zM27 40h1v1h-1zM8 41h1v1h-1zM25 41h2v1h-2zM17 42h1v1h-1zM24 42h1v1h-1zM10 43h1v1h-1zM27 43h1v1h-1zM5 44h1v1h-1zM7 44h1v1h-1zM15 44h1v1h-1zM22 44h1v1h-1zM5 45h1v1h-1zM16 45h1v1h-1zM28 45h1v1h-1zM25 46h1v1h-1zM6 47h1v1h-1zM21 48h1v1h-1zM15 51h1v1h-1zM21 51h1v1h-1zM22 52h1v1h-1zM15 53h1v1h-1zM27 53h1v1h-1zM7 54h1v1h-1zM6 55h1v1h-1zM23 56h1v1h-1zM10 57h1v1h-1zM22 59h1v1h-1zM27 59h1v1h-1zM10 60h1v1h-1zM21 61h1v1h-1zM21 62h1v1h-1zM9 63h2v1h-2zM22 64h1v1h-1zM21 65h1v1h-1zM22 66h1v1h-1zM10 67h1v1h-1zM23 70h1v1h-1zM6 71h2v1h-2zM12 71h1v1h-1zM27 71h1v1h-1zM6 72h1v1h-1zM31 72h1v1h-1zM10 73h1v1h-1zM27 73h1v1h-1zM7 74h1v1h-1zM21 77h1v1h-1zM6 78h1v1h-1zM21 78h1v1h-1zM6 79h1v1h-1zM22 79h2v1h-2zM7 80h1v1h-1zM22 80h1v1h-1zM6 81h1v1h-1zM27 82h1v1h-1zM23 83h1v1h-1zM22 85h1v1h-1zM21 88h1v1h-1zM23 88h1v1h-1zM7 89h1v1h-1zM30 89h1v1h-1zM21 91h2v1h-2zM27 91h1v1h-1zM7 93h1v1h-1zM10 93h1v1h-1zM27 93h1v1h-1zM21 94h1v1h-1zM6 96h1v1h-1zM30 96h1v1h-1zM10 97h2v1h-2zM23 97h1v1h-1zM27 98h1v1h-1z"/>
<path fill="#f4f4ff" d="M5 0h1v1h-1zM7 0h1v1h-1zM14 0h1v1h-1zM26 0h1v1h-1zM29 0h1v1h-1zM12 1h1v1h-1zM18 1h1v1h-1zM7 2h1v1h-1zM10 2h1v1h-1zM30 2h1v1h-1zM10 3h1v1h-1zM17 3h1v1h-1zM19 3h1v1h-1zM24 3h1v1h-1zM7 4h1v1h-1zM26 5h1v1h-1zM5 6h1v1h-1zM8 6h1v1h-1zM11 6h1v1h-1zM22 6h1v1h-1zM27 6h1v1h-1zM5 7h1v1h-1zM18 7h1v1h-1zM28 7h1v1h-1zM31 7h1v1h-1zM22 9h1v1h-1zM31 9h1v1h-1zM8 10h1v1h-1zM21 10h1v1h-1zM27 10h1v1h-1zM18 12h2v1h-2zM28 12h1v1h-1zM11 13h1v1h-1zM13 13h1v1h-1zM22 13h1v1h-1zM25 13h4v1h-4zM30 13h1v1h-1zM7 14h1v1h-1zM14 14h1v1h-1zM31 14h1v1h-1zM22 15h1v1h-1zM7 16h2v1h-2zM10 16h1v1h-1zM22 16h1v1h-1zM31 16h1v1h-1zM13 17h1v1h-1zM17 17h1v1h-1zM19 17h1v1h-1zM22 17h1v1h-1zM27 17h1v1h-1zM2 18h1v1h-1zM14 18h1v1h-1zM21 19h1v1h-1zM17 20h1v1h-1zM31 22h1v1h-1zM7 23h1v1h-1zM21 23h1v1h-1zM11 24h1v1h-1zM3 25h1v1h-1zM7 25h1v1h-1zM12 25h1v1h-1zM18 25h1v1h-1zM25 25h1v1h-1zM30 25h1v1h-1zM27 26h1v1h-1zM5 27h1v1h-1zM11 27h1v1h-1zM21 27h1v1h-1zM7 29h1v1h-1zM15 29h1v1h-1zM19 29h1v1h-1zM24 29h1v1h-1zM29 29h1v1h-1zM7 30h1v1h-1zM10 30h1v1h-1zM22 30h1v1h-1zM22 32h1v1h-1zM27 32h1v1h-1zM5 33h1v1h-1zM8 33h1v1h-1zM22 33h1v1h-1zM29 34h1v1h-1zM21 35h1v1h-1zM5 36h1v1h-1zM17 36h1v1h-1zM16 37h1v1h-1zM22 37h1v1h-1zM26 37h1v1h-1zM12 38h1v1h-1zM10 39h1v1h-1zM14 39h1v1h-1zM11 40h1v1h-1zM14 40h1v1h-1zM29 40h1v1h-1zM10 41h1v1h-1zM17 41h1v1h-1zM22 41h1v1h-1zM29 41h1v1h-1zM15 42h1v1h-1zM25 42h1v1h-1zM27 42h1v1h-1zM30 43h1v1h-1zM10 44h2v1h-2zM12 45h1v1h-1zM21 45h1v1h-1zM26 45h1v1h-1zM7 46h2v1h-2zM17 46h2v1h-2zM21 46h2v1h-2zM27 46h1v1h-1zM7 47h1v1h-1zM10 47h1v1h-1zM22 48h2v1h-2zM21 49h1v1h-1zM0 53h1v1h-1zM16 53h1v1h-1zM6 54h1v1h-1zM22 54h1v1h-1zM21 55h2v1h-2zM25 55h1v1h-1zM21 56h1v1h-1zM27 56h1v1h-1zM21 57h3v1h-3zM27 57h1v1h-1zM6 58h1v1h-1zM6 59h1v1h-1zM5 60h1v1h-1zM17 60h1v1h-1zM6 61h1v1h-1zM15 61h1v1h-1zM11 62h1v1h-1zM21 64h1v1h-1zM6 65h1v1h-1zM10 65h1v1h-1zM17 65h1v1h-1zM22 65h1v1h-1zM6 66h1v1h-1zM27 66h1v1h-1zM22 68h1v1h-1zM21 69h1v1h-1zM27 69h1v1h-1zM23 72h1v1h-1zM27 72h1v1h-1zM21 74h1v1h-1zM7 76h1v1h-1zM12 79h2v1h-2zM19 80h1v1h-1zM21 80h1v1h-1zM21 81h2v1h-2zM6 84h1v1h-1zM27 84h1v1h-1zM7 85h1v1h-1zM21 86h1v1h-1zM21 87h1v1h-1zM27 87h1v1h-1zM5 88h1v1h-1zM22 88h1v1h-1zM27 88h1v1h-1zM31 88h1v1h-1zM23 89h1v1h-1zM27 89h1v1h-1zM22 90h1v1h-1zM6 91h1v1h-1zM6 92h1v1h-1zM21 92h1v1h-1zM12 93h1v1h-1zM14 93h1v1h-1zM20 93h2v1h-2zM25 93h1v1h-1zM6 95h2v1h-2zM1 96h1v1h-1zM3 96h1v1h-1zM22 97h1v1h-1zM6 98h1v1h-1z"/>
<path fill="#ffffff" d="M19 0h1v1h-1zM27 0h1v1h-1zM15 1h1v1h-1zM19 1h1v1h-1zM26 1h2v1h-2zM30 1h1v1h-1zM27 2h1v1h-1zM11 3h1v1h-1zM27 3h1v1h-1zM5 4h1v1h-1zM10 4h1v1h-1zM5 5h1v1h-1zM10 5h1v1h-1zM12 5h1v1h-1zM25 5h1v1h-1zM7 6h1v1h-1zM17 6h1v1h-1zM19 6h1v1h-1zM26 6h1v1h-1zM30 6h1v1h-1zM30 7h1v1h-1zM21 8h1v1h-1zM5 9h1v1h-1zM19 9h1v1h-1zM21 9h1v1h-1zM12 10h1v1h-1zM14 10h1v1h-1zM19 10h1v1h-1zM26 10h1v1h-1zM28 10h1v1h-1zM12 11h2v1h-2zM27 11h1v1h-1zM7 12h1v1h-1zM14 12h1v1h-1zM10 13h1v1h-1zM19 14h1v1h-1zM7 15h1v1h-1zM11 16h1v1h-1zM15 16h1v1h-1zM26 16h1v1h-1zM28 16h1v1h-1zM30 16h1v1h-1zM7 17h1v1h-1zM12 17h1v1h-1zM11 18h1v1h-1zM22 18h1v1h-1zM30 18h1v1h-1zM27 19h1v1h-1zM11 20h1v1h-1zM19 20h1v1h-1zM27 20h1v1h-1zM15 22h1v1h-1zM10 23h2v1h-2zM22 23h1v1h-1zM24 23h1v1h-1zM26 23h1v1h-1zM29 23h2v1h-2zM5 24h1v1h-1zM17 24h1v1h-1zM19 24h1v1h-1zM15 25h1v1h-1zM31 25h1v1h-1zM10 26h1v1h-1zM14 26h1v1h-1zM19 26h1v1h-1zM21 26h1v1h-1zM17 27h1v1h-1zM26 27h2v1h-2zM12 28h1v1h-1zM21 28h2v1h-2zM27 28h1v1h-1zM5 29h1v1h-1zM21 29h1v1h-1zM2 30h1v1h-1zM5 30h1v1h-1zM11 30h1v1h-1zM30 30h1v1h-1zM7 31h1v1h-1zM14 31h1v1h-1zM19 31h1v1h-1zM26 31h1v1h-1zM30 31h1v1h-1zM8 32h1v1h-1zM14 32h1v1h-1zM11 33h1v1h-1zM16 33h1v1h-1zM21 33h1v1h-1zM29 33h1v1h-1zM7 34h1v1h-1zM11 34h1v1h-1zM21 34h2v1h-2zM26 34h1v1h-1zM19 35h1v1h-1zM27 35h1v1h-1zM12 36h2v1h-2zM19 36h1v1h-1zM24 37h1v1h-1zM27 37h1v1h-1zM2 38h1v1h-1zM7 38h1v1h-1zM21 38h1v1h-1zM26 38h1v1h-1zM7 39h1v1h-1zM11 39h1v1h-1zM22 39h1v1h-1zM24 39h1v1h-1zM19 40h1v1h-1zM22 40h1v1h-1zM26 40h1v1h-1zM7 41h1v1h-1zM24 41h1v1h-1zM28 41h1v1h-1zM7 42h1v1h-1zM11 42h2v1h-2zM16 42h1v1h-1zM14 43h1v1h-1zM17 43h1v1h-1zM22 43h1v1h-1zM31 43h1v1h-1zM21 44h1v1h-1zM27 44h1v1h-1zM6 45h1v1h-1zM22 45h1v1h-1zM11 46h1v1h-1zM26 46h1v1h-1zM22 47h2v1h-2zM7 48h1v1h-1zM26 48h1v1h-1zM7 49h1v1h-1zM22 49h1v1h-1zM27 49h1v1h-1zM19 50h1v1h-1zM13 51h1v1h-1zM23 51h1v1h-1zM7 52h1v1h-1zM31 52h1v1h-1zM6 53h2v1h-2zM9 53h1v1h-1zM21 53h1v1h-1zM23 53h2v1h-2zM7 56h1v1h-1zM25 56h1v1h-1zM29 56h1v1h-1zM7 58h1v1h-1zM21 58h1v1h-1zM7 59h2v1h-2zM13 59h1v1h-1zM23 59h1v1h-1zM6 60h1v1h-1zM22 60h1v1h-1zM25 60h1v1h-1zM27 60h1v1h-1zM7 61h1v1h-1zM9 61h1v1h-1zM17 61h1v1h-1zM22 61h2v1h-2zM27 61h1v1h-1zM9 62h1v1h-1zM22 62h1v1h-1zM29 62h1v1h-1zM6 63h2v1h-2zM14 63h1v1h-1zM20 63h1v1h-1zM15 64h1v1h-1zM25 64h1v1h-1zM27 64h1v1h-1zM27 65h1v1h-1zM23 67h1v1h-1zM7 69h1v1h-1zM11 69h1v1h-1zM22 69h1v1h-1zM21 70h1v1h-1zM22 71h1v1h-1zM12 72h1v1h-1zM14 72h1v1h-1zM23 73h1v1h-1zM6 74h1v1h-1zM23 74h1v1h-1zM6 75h1v1h-1zM11 75h1v1h-1zM21 76h1v1h-1zM27 76h1v1h-1zM6 77h1v1h-1zM7 78h1v1h-1zM7 79h1v1h-1zM15 79h1v1h-1zM17 79h1v1h-1zM31 79h1v1h-1zM6 80h1v1h-1zM15 80h1v1h-1zM15 81h1v1h-1zM23 82h1v1h-1zM26 82h1v1h-1zM22 83h1v1h-1zM27 83h1v1h-1zM7 84h1v1h-1zM23 86h1v1h-1zM22 87h1v1h-1zM16 88h2v1h-2zM19 88h1v1h-1zM10 89h1v1h-1zM21 90h1v1h-1zM23 92h1v1h-1zM13 94h1v1h-1zM22 94h1v1h-1zM1 95h1v1h-1zM15 95h1v1h-1zM29 95h1v1h-1zM10 96h1v1h-1zM6 97h1v1h-1zM13 97h1v1h-1zM21 98h1v1h-1zM13 99h1v1h-1z"/>
<path fill="#fff4f4" d="M21 0h1v1h-1zM13 2h1v1h-1zM14 3h1v1h-1zM8 4h1v1h-1zM14 4h1v1h-1zM30 4h1v1h-1zM30 5h1v1h-1zM10 6h1v1h-1zM27 7h1v1h-1zM5 8h1v1h-1zM13 8h1v1h-1zM17 8h1v1h-1zM24 8h1v1h-1zM26 8h1v1h-1zM5 10h1v1h-1zM30 10h1v1h-1zM11 11h1v1h-1zM19 11h1v1h-1zM22 11h1v1h-1zM3 12h1v1h-1zM27 12h1v1h-1zM30 12h1v1h-1zM17 13h1v1h-1zM21 13h1v1h-1zM2 14h1v1h-1zM27 14h1v1h-1zM14 15h1v1h-1zM21 15h1v1h-1zM30 15h1v1h-1zM5 16h1v1h-1zM18 16h1v1h-1zM27 16h1v1h-1zM14 17h1v1h-1zM21 17h1v1h-1zM26 17h1v1h-1zM24 18h1v1h-1zM11 19h1v1h-1zM17 19h3v1h-3zM7 20h1v1h-1zM2 21h1v1h-1zM26 21h1v1h-1zM10 22h1v1h-1zM22 22h1v1h-1zM26 22h1v1h-1zM5 23h1v1h-1zM17 23h1v1h-1zM19 23h1v1h-1zM27 23h1v1h-1zM7 24h1v1h-1zM21 24h1v1h-1zM30 24h1v1h-1zM8 25h1v1h-1zM10 25h1v1h-1zM21 25h1v1h-1zM24 25h1v1h-1zM29 25h1v1h-1zM30 26h1v1h-1zM19 27h1v1h-1zM2 28h1v1h-1zM5 28h1v1h-1zM10 28h1v1h-1zM14 28h1v1h-1zM30 28h1v1h-1zM14 30h1v1h-1zM26 30h1v1h-1zM11 31h1v1h-1zM17 31h1v1h-1zM24 31h1v1h-1zM3 33h1v1h-1zM28 33h1v1h-1zM2 34h2v1h-2zM17 35h1v1h-1zM11 36h1v1h-1zM14 36h1v1h-1zM21 36h1v1h-1zM24 36h1v1h-1zM26 36h1v1h-1zM5 37h1v1h-1zM11 37h1v1h-1zM17 37h1v1h-1zM21 37h1v1h-1zM3 38h1v1h-1zM11 38h1v1h-1zM14 38h1v1h-1zM19 38h1v1h-1zM24 38h1v1h-1zM5 39h1v1h-1zM26 39h2v1h-2zM21 40h1v1h-1zM1 41h2v1h-2zM5 41h1v1h-1zM14 42h1v1h-1zM22 42h1v1h-1zM7 43h1v1h-1zM24 43h1v1h-1zM19 44h1v1h-1zM10 45h1v1h-1zM17 45h1v1h-1zM19 45h1v1h-1zM24 45h1v1h-1zM5 46h1v1h-1zM29 49h1v1h-1zM6 50h2v1h-2zM14 50h1v1h-1zM22 50h2v1h-2zM8 51h2v1h-2zM19 51h1v1h-1zM26 52h2v1h-2zM8 53h1v1h-1zM11 53h2v1h-2zM20 53h1v1h-1zM26 53h1v1h-1zM31 53h1v1h-1zM23 55h1v1h-1zM29 55h1v1h-1zM11 56h1v1h-1zM18 56h1v1h-1zM31 56h1v1h-1zM25 57h1v1h-1zM26 58h1v1h-1zM21 59h1v1h-1zM29 59h1v1h-1zM9 60h1v1h-1zM15 60h1v1h-1zM21 60h1v1h-1zM24 60h1v1h-1zM11 61h3v1h-3zM6 62h1v1h-1zM14 62h1v1h-1zM20 62h1v1h-1zM17 63h1v1h-1zM25 63h1v1h-1zM31 63h1v1h-1zM23 64h1v1h-1zM28 64h1v1h-1zM9 65h1v1h-1zM18 65h1v1h-1zM31 65h1v1h-1zM7 66h1v1h-1zM6 69h1v1h-1zM7 70h1v1h-1zM12 70h1v1h-1zM27 70h1v1h-1zM8 71h1v1h-1zM14 71h1v1h-1zM21 72h1v1h-1zM22 74h1v1h-1zM26 74h2v1h-2zM29 74h1v1h-1zM21 75h1v1h-1zM6 76h1v1h-1zM23 77h1v1h-1zM20 78h1v1h-1zM23 78h1v1h-1zM8 79h1v1h-1zM16 79h1v1h-1zM27 80h1v1h-1zM23 81h1v1h-1zM21 82h1v1h-1zM13 83h1v1h-1zM18 83h1v1h-1zM25 83h1v1h-1zM20 84h1v1h-1zM22 84h1v1h-1zM7 86h1v1h-1zM15 87h1v1h-1zM23 87h1v1h-1zM25 87h1v1h-1zM21 89h1v1h-1zM6 90h2v1h-2zM23 90h1v1h-1zM11 91h1v1h-1zM18 91h1v1h-1zM25 91h1v1h-1zM8 92h1v1h-1zM15 92h1v1h-1zM6 93h1v1h-1zM16 93h1v1h-1zM29 93h1v1h-1zM6 94h1v1h-1zM26 94h1v1h-1zM31 94h1v1h-1zM8 95h1v1h-1zM20 95h2v1h-2zM23 95h1v1h-1zM23 96h1v1h-1zM7 97h1v1h-1zM27 97h1v1h-1zM7 98h1v1h-1zM31 98h1v1h-1zM6 99h1v1h-1zM23 99h1v1h-1zM27 99h1v1h-1zM31 99h1v1h-1z"/>
<path fill="#ffeaea" d="M24 0h1v1h-1zM17 1h1v1h-1zM22 1h1v1h-1zM11 2h1v1h-1zM19 2h1v1h-1zM21 2h2v1h-2zM7 3h1v1h-1zM26 3h1v1h-1zM17 4h1v1h-1zM24 4h1v1h-1zM26 4h1v1h-1zM14 5h1v1h-1zM21 5h1v1h-1zM14 7h1v1h-1zM26 7h1v1h-1zM4 8h1v1h-1zM14 8h2v1h-2zM11 9h1v1h-1zM30 9h1v1h-1zM17 10h1v1h-1zM24 10h1v1h-1zM5 11h1v1h-1zM2 12h1v1h-1zM20 12h1v1h-1zM7 13h1v1h-1zM19 13h1v1h-1zM22 14h1v1h-1zM30 14h1v1h-1zM1 15h1v1h-1zM21 16h1v1h-1zM24 16h1v1h-1zM3 18h1v1h-1zM7 18h1v1h-1zM31 18h1v1h-1zM20 19h1v1h-1zM2 20h1v1h-1zM5 20h1v1h-1zM10 20h1v1h-1zM14 20h1v1h-1zM24 20h1v1h-1zM30 20h1v1h-1zM5 22h1v1h-1zM27 22h1v1h-1zM30 22h1v1h-1zM14 23h1v1h-1zM26 24h1v1h-1zM2 25h1v1h-1zM11 25h1v1h-1zM13 25h1v1h-1zM17 25h1v1h-1zM19 25h1v1h-1zM28 25h1v1h-1zM7 26h1v1h-1zM11 26h1v1h-1zM14 27h1v1h-1zM8 28h1v1h-1zM26 28h1v1h-1zM14 29h1v1h-1zM22 29h1v1h-1zM30 29h1v1h-1zM10 32h1v1h-1zM16 32h1v1h-1zM19 32h1v1h-1zM30 32h1v1h-1zM12 33h1v1h-1zM26 33h1v1h-1zM30 33h1v1h-1zM30 34h1v1h-1zM7 35h1v1h-1zM10 35h1v1h-1zM22 36h1v1h-1zM30 36h1v1h-1zM6 37h1v1h-1zM10 37h1v1h-1zM30 37h1v1h-1zM6 38h1v1h-1zM13 38h1v1h-1zM22 38h1v1h-1zM24 40h1v1h-1zM30 41h1v1h-1zM26 42h1v1h-1zM12 43h2v1h-2zM21 43h1v1h-1zM26 44h1v1h-1zM13 45h1v1h-1zM10 46h1v1h-1zM19 46h1v1h-1zM24 46h1v1h-1zM14 47h2v1h-2zM29 47h1v1h-1zM6 48h1v1h-1zM21 50h1v1h-1zM27 50h1v1h-1zM16 51h1v1h-1zM27 51h1v1h-1zM19 52h1v1h-1zM13 53h1v1h-1zM19 53h1v1h-1zM28 53h1v1h-1zM26 54h1v1h-1zM11 55h1v1h-1zM9 56h1v1h-1zM13 56h1v1h-1zM16 57h2v1h-2zM12 58h1v1h-1zM23 58h1v1h-1zM27 58h1v1h-1zM15 59h1v1h-1zM17 59h1v1h-1zM26 60h1v1h-1zM8 61h1v1h-1zM25 61h1v1h-1zM12 62h1v1h-1zM16 62h1v1h-1zM18 62h1v1h-1zM8 63h1v1h-1zM12 63h1v1h-1zM15 63h1v1h-1zM26 63h1v1h-1zM7 64h1v1h-1zM13 64h1v1h-1zM20 64h1v1h-1zM24 64h1v1h-1zM20 65h1v1h-1zM23 65h1v1h-1zM26 65h1v1h-1zM17 66h3v1h-3zM7 67h1v1h-1zM22 67h1v1h-1zM25 67h1v1h-1zM27 67h1v1h-1zM16 68h1v1h-1zM21 68h1v1h-1zM27 68h1v1h-1zM9 69h1v1h-1zM13 69h1v1h-1zM23 69h1v1h-1zM6 70h1v1h-1zM13 70h1v1h-1zM25 70h1v1h-1zM28 70h1v1h-1zM31 70h1v1h-1zM19 71h1v1h-1zM21 71h1v1h-1zM28 73h1v1h-1zM27 75h1v1h-1zM9 76h1v1h-1zM19 76h1v1h-1zM26 76h1v1h-1zM19 77h1v1h-1zM27 77h1v1h-1zM31 77h1v1h-1zM12 78h1v1h-1zM27 78h2v1h-2zM26 79h1v1h-1zM16 80h1v1h-1zM18 80h1v1h-1zM29 80h1v1h-1zM18 81h1v1h-1zM7 82h1v1h-1zM6 83h1v1h-1zM16 83h1v1h-1zM21 83h1v1h-1zM14 84h3v1h-3zM23 84h1v1h-1zM12 85h1v1h-1zM6 86h1v1h-1zM17 86h2v1h-2zM8 87h2v1h-2zM12 87h2v1h-2zM26 87h1v1h-1zM28 87h1v1h-1zM8 88h1v1h-1zM11 88h1v1h-1zM28 88h1v1h-1zM6 89h1v1h-1zM22 89h1v1h-1zM27 90h1v1h-1zM14 91h1v1h-1zM17 91h1v1h-1zM28 91h1v1h-1zM31 91h1v1h-1zM7 92h1v1h-1zM8 93h1v1h-1zM13 93h1v1h-1zM31 93h1v1h-1zM8 94h1v1h-1zM14 94h1v1h-1zM17 94h1v1h-1zM23 94h1v1h-1zM11 95h1v1h-1zM16 95h2v1h-2zM27 96h1v1h-1zM14 97h1v1h-1zM16 97h1v1h-1zM8 98h1v1h-1zM17 98h1v1h-1zM11 99h1v1h-1zM15 99h1v1h-1zM21 99h1v1h-1zM28 99h1v1h-1z"/>
<path fill="#ffdfdf" d="M10 0h1v1h-1zM10 1h2v1h-2zM2 2h1v1h-1zM17 2h1v1h-1zM1 4h1v1h-1zM11 4h1v1h-1zM19 5h1v1h-1zM22 5h1v1h-1zM22 7h1v1h-1zM24 7h1v1h-1zM11 8h1v1h-1zM19 8h1v1h-1zM26 9h1v1h-1zM2 10h1v1h-1zM7 10h1v1h-1zM10 10h1v1h-1zM3 11h1v1h-1zM7 11h1v1h-1zM10 11h1v1h-1zM21 11h1v1h-1zM26 11h1v1h-1zM13 12h1v1h-1zM22 12h1v1h-1zM14 13h1v1h-1zM5 14h1v1h-1zM11 14h1v1h-1zM19 15h1v1h-1zM26 15h1v1h-1zM2 16h1v1h-1zM6 16h1v1h-1zM10 17h1v1h-1zM24 17h1v1h-1zM30 17h1v1h-1zM1 18h1v1h-1zM13 18h1v1h-1zM4 19h1v1h-1zM13 19h1v1h-1zM1 21h1v1h-1zM14 22h1v1h-1zM19 22h1v1h-1zM13 23h1v1h-1zM2 24h1v1h-1zM22 24h1v1h-1zM22 25h1v1h-1zM2 26h1v1h-1zM5 26h2v1h-2zM22 26h1v1h-1zM2 27h1v1h-1zM22 27h1v1h-1zM19 28h1v1h-1zM13 29h1v1h-1zM27 30h1v1h-1zM5 31h1v1h-1zM27 31h1v1h-1zM7 32h1v1h-1zM13 32h1v1h-1zM21 32h1v1h-1zM4 33h1v1h-1zM10 33h1v1h-1zM24 33h1v1h-1zM27 33h1v1h-1zM31 33h1v1h-1zM4 34h1v1h-1zM1 35h1v1h-1zM5 35h1v1h-1zM13 35h1v1h-1zM27 38h1v1h-1zM30 39h1v1h-1zM7 40h1v1h-1zM13 41h1v1h-1zM2 42h1v1h-1zM10 42h1v1h-1zM4 44h1v1h-1zM13 44h1v1h-1zM1 45h1v1h-1zM9 47h1v1h-1zM25 47h1v1h-1zM28 47h1v1h-1zM8 48h1v1h-1zM15 48h1v1h-1zM31 48h1v1h-1zM28 49h1v1h-1zM11 50h1v1h-1zM15 50h1v1h-1zM25 50h1v1h-1zM29 50h1v1h-1zM18 51h1v1h-1zM29 51h1v1h-1zM13 52h1v1h-1zM14 53h1v1h-1zM17 53h1v1h-1zM25 53h1v1h-1zM11 54h1v1h-1zM27 54h1v1h-1zM19 55h1v1h-1zM17 56h1v1h-1zM12 57h1v1h-1zM14 57h1v1h-1zM19 57h1v1h-1zM16 58h1v1h-1zM9 59h1v1h-1zM20 59h1v1h-1zM7 60h1v1h-1zM13 60h2v1h-2zM19 60h2v1h-2zM28 60h1v1h-1zM31 60h1v1h-1zM8 62h1v1h-1zM17 62h1v1h-1zM16 63h1v1h-1zM18 63h1v1h-1zM24 63h1v1h-1zM28 63h1v1h-1zM11 64h1v1h-1zM17 64h1v1h-1zM31 64h1v1h-1zM29 65h1v1h-1zM28 66h1v1h-1zM28 67h1v1h-1zM31 67h1v1h-1zM6 68h2v1h-2zM12 68h1v1h-1zM20 68h1v1h-1zM23 68h1v1h-1zM15 69h1v1h-1zM17 69h1v1h-1zM20 69h1v1h-1zM26 69h1v1h-1zM14 70h1v1h-1zM16 70h1v1h-1zM18 70h1v1h-1zM18 72h1v1h-1zM22 72h1v1h-1zM7 73h1v1h-1zM14 73h1v1h-1zM18 73h1v1h-1zM22 73h1v1h-1zM31 73h1v1h-1zM16 74h1v1h-1zM20 74h1v1h-1zM17 76h1v1h-1zM23 76h1v1h-1zM31 76h1v1h-1zM7 77h1v1h-1zM13 77h1v1h-1zM16 77h1v1h-1zM22 78h1v1h-1zM25 78h1v1h-1zM19 79h2v1h-2zM25 79h1v1h-1zM28 79h1v1h-1zM23 80h2v1h-2zM28 80h1v1h-1zM14 81h1v1h-1zM16 81h1v1h-1zM20 81h1v1h-1zM26 81h1v1h-1zM29 81h1v1h-1zM8 83h1v1h-1zM26 83h1v1h-1zM28 83h2v1h-2zM8 84h1v1h-1zM31 84h1v1h-1zM16 85h1v1h-1zM23 85h1v1h-1zM27 85h1v1h-1zM31 85h1v1h-1zM9 86h1v1h-1zM19 86h1v1h-1zM31 87h1v1h-1zM6 88h1v1h-1zM14 88h1v1h-1zM18 88h1v1h-1zM20 88h1v1h-1zM16 89h1v1h-1zM28 89h1v1h-1zM9 91h1v1h-1zM12 91h1v1h-1zM16 91h1v1h-1zM24 91h1v1h-1zM14 92h1v1h-1zM16 92h1v1h-1zM20 92h1v1h-1zM22 92h1v1h-1zM29 92h1v1h-1zM31 92h1v1h-1zM18 93h2v1h-2zM28 93h1v1h-1zM12 94h1v1h-1zM15 94h1v1h-1zM28 94h1v1h-1zM9 95h1v1h-1zM12 95h1v1h-1zM25 95h3v1h-3zM7 96h1v1h-1zM20 96h2v1h-2zM18 97h1v1h-1zM11 98h1v1h-1zM13 98h1v1h-1zM15 98h1v1h-1zM19 98h2v1h-2zM22 98h1v1h-1zM24 98h2v1h-2zM12 99h1v1h-1z"/>
<path fill="#ffd4d4" d="M7 1h1v1h-1zM20 2h1v1h-1zM1 3h2v1h-2zM21 3h1v1h-1zM2 4h1v1h-1zM3 6h1v1h-1zM1 7h1v1h-1zM10 7h1v1h-1zM6 9h1v1h-1zM17 9h1v1h-1zM11 10h1v1h-1zM22 10h1v1h-1zM6 12h1v1h-1zM15 14h1v1h-1zM6 18h1v1h-1zM3 19h1v1h-1zM22 20h1v1h-1zM6 24h1v1h-1zM13 24h1v1h-1zM27 24h1v1h-1zM5 25h2v1h-2zM26 26h1v1h-1zM17 28h1v1h-1zM31 29h1v1h-1zM1 30h1v1h-1zM4 30h1v1h-1zM2 31h1v1h-1zM10 31h1v1h-1zM13 31h1v1h-1zM22 31h1v1h-1zM2 32h1v1h-1zM5 32h1v1h-1zM31 32h1v1h-1zM7 33h1v1h-1zM13 33h2v1h-2zM1 34h1v1h-1zM13 34h1v1h-1zM20 34h1v1h-1zM10 36h1v1h-1zM19 37h1v1h-1zM3 40h1v1h-1zM3 41h1v1h-1zM13 42h1v1h-1zM2 45h1v1h-1zM30 46h1v1h-1zM17 47h1v1h-1zM26 47h1v1h-1zM31 47h1v1h-1zM9 48h1v1h-1zM28 48h1v1h-1zM9 49h1v1h-1zM12 49h1v1h-1zM15 49h1v1h-1zM20 49h1v1h-1zM25 49h1v1h-1zM31 49h1v1h-1zM18 50h1v1h-1zM11 51h1v1h-1zM14 51h1v1h-1zM17 51h1v1h-1zM20 51h1v1h-1zM24 51h2v1h-2zM31 51h1v1h-1zM6 52h1v1h-1zM20 52h1v1h-1zM29 53h1v1h-1zM13 54h1v1h-1zM15 54h1v1h-1zM8 55h1v1h-1zM14 55h1v1h-1zM8 56h1v1h-1zM12 56h1v1h-1zM15 56h2v1h-2zM19 56h1v1h-1zM26 56h1v1h-1zM9 57h1v1h-1zM13 57h1v1h-1zM18 57h1v1h-1zM28 57h1v1h-1zM11 58h1v1h-1zM14 58h2v1h-2zM19 58h1v1h-1zM28 58h2v1h-2zM12 59h1v1h-1zM16 59h1v1h-1zM26 59h1v1h-1zM28 59h1v1h-1zM8 60h1v1h-1zM11 60h1v1h-1zM18 60h1v1h-1zM29 60h1v1h-1zM14 61h1v1h-1zM16 61h1v1h-1zM20 61h1v1h-1zM24 61h1v1h-1zM31 61h1v1h-1zM15 62h1v1h-1zM19 62h1v1h-1zM26 62h1v1h-1zM31 62h1v1h-1zM11 63h1v1h-1zM27 63h1v1h-1zM9 64h1v1h-1zM19 64h1v1h-1zM29 64h1v1h-1zM15 65h1v1h-1zM12 66h1v1h-1zM20 66h1v1h-1zM25 66h1v1h-1zM9 67h1v1h-1zM31 68h1v1h-1zM16 69h1v1h-1zM19 69h1v1h-1zM25 69h1v1h-1zM9 70h1v1h-1zM20 70h1v1h-1zM11 71h1v1h-1zM13 71h1v1h-1zM15 71h1v1h-1zM24 71h2v1h-2zM29 71h1v1h-1zM11 73h1v1h-1zM13 73h1v1h-1zM21 73h1v1h-1zM8 74h1v1h-1zM15 74h1v1h-1zM18 74h1v1h-1zM13 75h1v1h-1zM16 75h1v1h-1zM22 75h1v1h-1zM11 76h2v1h-2zM14 76h1v1h-1zM16 76h1v1h-1zM20 76h1v1h-1zM28 76h1v1h-1zM11 77h1v1h-1zM28 77h2v1h-2zM8 78h1v1h-1zM16 78h1v1h-1zM9 79h1v1h-1zM11 79h1v1h-1zM24 79h1v1h-1zM29 79h1v1h-1zM12 80h1v1h-1zM14 80h1v1h-1zM9 81h1v1h-1zM11 81h3v1h-3zM17 81h1v1h-1zM19 81h1v1h-1zM28 81h1v1h-1zM31 81h1v1h-1zM12 82h1v1h-1zM20 82h1v1h-1zM22 82h1v1h-1zM7 83h1v1h-1zM11 83h2v1h-2zM17 83h1v1h-1zM19 83h2v1h-2zM31 83h1v1h-1zM17 84h2v1h-2zM25 84h1v1h-1zM28 84h1v1h-1zM19 85h1v1h-1zM16 86h1v1h-1zM18 87h1v1h-1zM29 87h1v1h-1zM13 88h1v1h-1zM11 89h1v1h-1zM13 89h1v1h-1zM25 89h1v1h-1zM31 89h1v1h-1zM9 90h1v1h-1zM12 90h1v1h-1zM17 90h1v1h-1zM29 90h1v1h-1zM8 91h1v1h-1zM13 91h1v1h-1zM15 91h1v1h-1zM19 91h2v1h-2zM12 92h1v1h-1zM18 92h1v1h-1zM27 92h1v1h-1zM11 93h1v1h-1zM15 93h1v1h-1zM24 93h1v1h-1zM16 94h1v1h-1zM19 94h2v1h-2zM13 95h1v1h-1zM28 95h1v1h-1zM31 95h1v1h-1zM8 96h1v1h-1zM13 96h1v1h-1zM19 96h1v1h-1zM25 96h1v1h-1zM29 96h1v1h-1zM9 97h1v1h-1zM12 97h1v1h-1zM17 97h1v1h-1zM26 97h1v1h-1zM9 98h1v1h-1zM28 98h1v1h-1zM8 99h1v1h-1zM18 99h3v1h-3z"/>
<path fill="#ffcaca" d="M1 0h2v1h-2zM11 0h1v1h-1zM13 0h1v1h-1zM21 1h1v1h-1zM5 2h1v1h-1zM13 3h1v1h-1zM2 5h1v1h-1zM4 5h1v1h-1zM13 5h1v1h-1zM1 6h2v1h-2zM20 6h1v1h-1zM2 7h1v1h-1zM7 7h1v1h-1zM13 7h1v1h-1zM2 8h2v1h-2zM2 9h1v1h-1zM8 11h1v1h-1zM14 11h1v1h-1zM30 11h1v1h-1zM1 13h3v1h-3zM3 14h1v1h-1zM5 15h1v1h-1zM24 15h1v1h-1zM1 16h1v1h-1zM3 16h1v1h-1zM13 16h1v1h-1zM4 17h2v1h-2zM1 19h2v1h-2zM2 22h1v1h-1zM13 22h1v1h-1zM17 22h1v1h-1zM3 23h1v1h-1zM20 25h1v1h-1zM1 28h1v1h-1zM6 28h1v1h-1zM13 28h1v1h-1zM24 32h1v1h-1zM3 37h1v1h-1zM6 40h1v1h-1zM11 41h1v1h-1zM1 43h2v1h-2zM26 43h1v1h-1zM2 44h1v1h-1zM1 46h2v1h-2zM14 46h1v1h-1zM13 47h1v1h-1zM12 48h1v1h-1zM14 48h1v1h-1zM18 48h2v1h-2zM25 48h1v1h-1zM8 49h1v1h-1zM14 49h1v1h-1zM16 49h2v1h-2zM19 49h1v1h-1zM24 49h1v1h-1zM26 49h1v1h-1zM8 50h1v1h-1zM12 50h1v1h-1zM16 50h1v1h-1zM20 50h1v1h-1zM28 50h1v1h-1zM26 51h1v1h-1zM9 52h1v1h-1zM9 54h1v1h-1zM28 54h1v1h-1zM12 55h1v1h-1zM16 55h1v1h-1zM28 55h1v1h-1zM14 56h1v1h-1zM20 56h1v1h-1zM28 56h1v1h-1zM7 57h1v1h-1zM11 57h1v1h-1zM26 57h1v1h-1zM8 58h1v1h-1zM13 58h1v1h-1zM17 58h1v1h-1zM25 58h1v1h-1zM31 58h1v1h-1zM25 59h1v1h-1zM31 59h1v1h-1zM12 60h1v1h-1zM19 61h1v1h-1zM26 61h1v1h-1zM29 61h1v1h-1zM13 62h1v1h-1zM25 62h1v1h-1zM8 64h1v1h-1zM12 64h1v1h-1zM14 64h1v1h-1zM18 64h1v1h-1zM26 64h1v1h-1zM8 65h1v1h-1zM25 65h1v1h-1zM28 65h1v1h-1zM11 66h1v1h-1zM13 66h1v1h-1zM29 66h1v1h-1zM8 67h1v1h-1zM16 67h1v1h-1zM21 67h1v1h-1zM8 68h1v1h-1zM15 68h1v1h-1zM18 68h1v1h-1zM25 68h1v1h-1zM29 68h1v1h-1zM8 69h1v1h-1zM18 69h1v1h-1zM24 69h1v1h-1zM28 69h2v1h-2zM31 69h1v1h-1zM8 70h1v1h-1zM11 70h1v1h-1zM26 70h1v1h-1zM16 71h1v1h-1zM18 71h1v1h-1zM26 71h1v1h-1zM28 71h1v1h-1zM7 72h1v1h-1zM13 72h1v1h-1zM28 72h2v1h-2zM6 73h1v1h-1zM8 73h1v1h-1zM15 73h3v1h-3zM20 73h1v1h-1zM11 74h2v1h-2zM25 74h1v1h-1zM28 74h1v1h-1zM12 75h1v1h-1zM20 75h1v1h-1zM28 75h1v1h-1zM17 77h1v1h-1zM13 78h2v1h-2zM26 78h1v1h-1zM18 79h1v1h-1zM14 82h1v1h-1zM17 82h2v1h-2zM13 84h1v1h-1zM8 85h1v1h-1zM15 85h1v1h-1zM20 86h1v1h-1zM17 87h1v1h-1zM19 87h2v1h-2zM12 88h1v1h-1zM26 88h1v1h-1zM8 89h1v1h-1zM12 89h1v1h-1zM14 89h2v1h-2zM19 89h2v1h-2zM24 89h1v1h-1zM29 89h1v1h-1zM26 91h1v1h-1zM13 92h1v1h-1zM28 92h1v1h-1zM17 93h1v1h-1zM26 93h1v1h-1zM9 94h1v1h-1zM18 95h1v1h-1zM24 95h1v1h-1zM8 97h1v1h-1zM15 97h1v1h-1zM25 97h1v1h-1zM28 97h2v1h-2zM12 98h1v1h-1zM14 98h1v1h-1zM16 98h1v1h-1zM18 98h1v1h-1zM29 98h1v1h-1zM26 99h1v1h-1z"/>
<path fill="#ffbfbf" d="M2 1h2v1h-2zM5 1h2v1h-2zM13 1h1v1h-1zM3 2h1v1h-1zM4 4h1v1h-1zM13 6h1v1h-1zM3 7h2v1h-2zM19 7h1v1h-1zM21 7h1v1h-1zM13 10h1v1h-1zM1 12h1v1h-1zM6 13h1v1h-1zM4 14h1v1h-1zM2 15h1v1h-1zM13 15h1v1h-1zM13 20h1v1h-1zM3 21h1v1h-1zM20 21h1v1h-1zM4 23h1v1h-1zM1 24h1v1h-1zM0 25h1v1h-1zM20 29h1v1h-1zM1 33h1v1h-1zM6 34h1v1h-1zM2 35h2v1h-2zM2 36h1v1h-1zM6 36h1v1h-1zM1 37h1v1h-1zM4 38h1v1h-1zM17 40h1v1h-1zM4 41h1v1h-1zM3 42h1v1h-1zM18 47h2v1h-2zM13 48h1v1h-1zM16 48h2v1h-2zM20 48h1v1h-1zM11 49h1v1h-1zM26 50h1v1h-1zM31 50h1v1h-1zM8 52h1v1h-1zM12 52h1v1h-1zM16 52h1v1h-1zM25 52h1v1h-1zM8 54h1v1h-1zM14 54h1v1h-1zM20 55h1v1h-1zM26 55h1v1h-1zM24 57h1v1h-1zM31 57h1v1h-1zM18 58h1v1h-1zM20 58h1v1h-1zM19 59h1v1h-1zM16 60h1v1h-1zM19 63h1v1h-1zM22 63h1v1h-1zM16 64h1v1h-1zM11 65h1v1h-1zM13 65h2v1h-2zM8 66h1v1h-1zM6 67h1v1h-1zM12 67h1v1h-1zM14 67h1v1h-1zM18 67h1v1h-1zM11 68h1v1h-1zM17 68h1v1h-1zM19 68h1v1h-1zM26 68h1v1h-1zM22 70h1v1h-1zM29 70h1v1h-1zM9 71h1v1h-1zM19 72h2v1h-2zM9 73h1v1h-1zM12 73h1v1h-1zM25 73h1v1h-1zM14 74h1v1h-1zM9 75h1v1h-1zM14 75h1v1h-1zM18 75h1v1h-1zM29 75h1v1h-1zM25 76h1v1h-1zM8 77h1v1h-1zM19 78h1v1h-1zM29 78h1v1h-1zM8 80h2v1h-2zM11 80h1v1h-1zM17 80h1v1h-1zM25 80h1v1h-1zM8 81h1v1h-1zM25 81h1v1h-1zM8 82h1v1h-1zM19 82h1v1h-1zM28 82h1v1h-1zM31 82h1v1h-1zM14 83h2v1h-2zM24 83h1v1h-1zM11 84h2v1h-2zM29 84h1v1h-1zM14 85h1v1h-1zM18 85h1v1h-1zM21 85h1v1h-1zM25 85h1v1h-1zM28 85h1v1h-1zM26 86h1v1h-1zM14 87h1v1h-1zM9 88h1v1h-1zM15 88h1v1h-1zM24 88h2v1h-2zM29 88h1v1h-1zM18 89h1v1h-1zM14 90h3v1h-3zM20 90h1v1h-1zM17 92h1v1h-1zM25 92h1v1h-1zM11 94h1v1h-1zM19 95h1v1h-1zM16 96h1v1h-1zM19 97h2v1h-2zM31 97h1v1h-1zM9 99h1v1h-1zM17 99h1v1h-1zM24 99h1v1h-1z"/>
<path fill="#ffb5b5" d="M4 2h1v1h-1zM6 4h1v1h-1zM13 4h1v1h-1zM6 5h1v1h-1zM1 8h1v1h-1zM20 8h1v1h-1zM1 9h1v1h-1zM3 9h1v1h-1zM6 10h1v1h-1zM1 11h2v1h-2zM4 12h1v1h-1zM4 13h1v1h-1zM6 14h1v1h-1zM13 14h1v1h-1zM6 20h1v1h-1zM4 21h1v1h-1zM4 22h1v1h-1zM1 23h2v1h-2zM3 24h1v1h-1zM4 25h1v1h-1zM1 26h1v1h-1zM4 28h1v1h-1zM3 29h1v1h-1zM13 30h1v1h-1zM4 31h1v1h-1zM6 32h1v1h-1zM2 33h1v1h-1zM6 33h1v1h-1zM4 36h1v1h-1zM4 37h1v1h-1zM2 39h1v1h-1zM13 39h1v1h-1zM1 40h1v1h-1zM13 40h1v1h-1zM6 41h1v1h-1zM4 42h1v1h-1zM20 43h1v1h-1zM3 44h1v1h-1zM3 45h1v1h-1zM20 45h1v1h-1zM11 47h1v1h-1zM24 48h1v1h-1zM13 49h1v1h-1zM18 49h1v1h-1zM9 50h1v1h-1zM17 50h1v1h-1zM14 52h1v1h-1zM18 52h1v1h-1zM29 52h1v1h-1zM16 54h1v1h-1zM18 54h1v1h-1zM31 54h1v1h-1zM7 55h1v1h-1zM9 55h1v1h-1zM15 55h1v1h-1zM31 55h1v1h-1zM24 56h1v1h-1zM29 57h1v1h-1zM9 58h1v1h-1zM24 58h1v1h-1zM28 61h1v1h-1zM24 62h1v1h-1zM28 62h1v1h-1zM29 63h1v1h-1zM19 65h1v1h-1zM14 66h1v1h-1zM24 66h1v1h-1zM26 66h1v1h-1zM31 66h1v1h-1zM13 67h1v1h-1zM13 68h1v1h-1zM12 69h1v1h-1zM8 72h1v1h-1zM15 72h1v1h-1zM17 72h1v1h-1zM24 73h1v1h-1zM26 73h1v1h-1zM29 73h1v1h-1zM19 74h1v1h-1zM31 74h1v1h-1zM25 75h1v1h-1zM31 75h1v1h-1zM8 76h1v1h-1zM15 76h1v1h-1zM18 76h1v1h-1zM24 76h1v1h-1zM29 76h1v1h-1zM14 77h1v1h-1zM18 77h1v1h-1zM20 77h1v1h-1zM24 77h1v1h-1zM26 77h1v1h-1zM9 78h1v1h-1zM15 78h1v1h-1zM24 78h1v1h-1zM20 80h1v1h-1zM9 82h1v1h-1zM13 82h1v1h-1zM15 82h1v1h-1zM25 82h1v1h-1zM19 84h1v1h-1zM24 84h1v1h-1zM9 85h1v1h-1zM13 85h1v1h-1zM17 85h1v1h-1zM8 86h1v1h-1zM12 86h1v1h-1zM14 86h1v1h-1zM28 86h2v1h-2zM31 86h1v1h-1zM24 87h1v1h-1zM9 89h1v1h-1zM17 89h1v1h-1zM31 90h1v1h-1zM9 92h1v1h-1zM11 92h1v1h-1zM19 92h1v1h-1zM24 92h1v1h-1zM26 92h1v1h-1zM29 94h1v1h-1zM14 96h2v1h-2zM17 96h1v1h-1zM22 96h1v1h-1zM28 96h1v1h-1zM16 99h1v1h-1zM25 99h1v1h-1z"/>
<path fill="#ffaaaa" d="M1 2h1v1h-1zM3 3h2v1h-2zM3 5h1v1h-1zM6 6h1v1h-1zM4 11h1v1h-1zM6 11h1v1h-1zM4 16h1v1h-1zM20 16h1v1h-1zM4 20h1v1h-1zM6 21h1v1h-1zM4 24h1v1h-1zM24 24h1v1h-1zM3 26h2v1h-2zM3 27h1v1h-1zM4 29h1v1h-1zM1 31h1v1h-1zM1 32h1v1h-1zM3 32h1v1h-1zM20 33h1v1h-1zM13 37h1v1h-1zM1 38h1v1h-1zM20 41h1v1h-1zM4 43h1v1h-1zM4 45h1v1h-1zM12 47h1v1h-1zM16 47h1v1h-1zM20 47h1v1h-1zM11 48h1v1h-1zM29 48h1v1h-1zM13 50h1v1h-1zM11 52h1v1h-1zM15 52h1v1h-1zM12 54h1v1h-1zM17 54h1v1h-1zM19 54h2v1h-2zM29 54h1v1h-1zM13 55h1v1h-1zM17 55h1v1h-1zM8 57h1v1h-1zM15 57h1v1h-1zM11 59h1v1h-1zM18 61h1v1h-1zM12 65h1v1h-1zM16 65h1v1h-1zM24 65h1v1h-1zM16 66h1v1h-1zM20 67h1v1h-1zM29 67h1v1h-1zM14 68h1v1h-1zM24 68h1v1h-1zM24 70h1v1h-1zM17 71h1v1h-1zM31 71h1v1h-1zM9 72h1v1h-1zM16 72h1v1h-1zM25 72h2v1h-2zM19 73h1v1h-1zM9 74h1v1h-1zM13 74h1v1h-1zM17 74h1v1h-1zM24 74h1v1h-1zM15 75h1v1h-1zM19 75h1v1h-1zM26 75h1v1h-1zM9 77h1v1h-1zM25 77h1v1h-1zM11 78h1v1h-1zM17 78h2v1h-2zM31 78h1v1h-1zM14 79h1v1h-1zM11 82h1v1h-1zM29 82h1v1h-1zM9 83h1v1h-1zM26 84h1v1h-1zM20 85h1v1h-1zM29 85h1v1h-1zM11 87h1v1h-1zM16 87h1v1h-1zM26 89h1v1h-1zM13 90h1v1h-1zM18 90h2v1h-2zM9 96h1v1h-1zM11 96h1v1h-1zM18 96h1v1h-1zM31 96h1v1h-1zM14 99h1v1h-1z"/>
<path fill="#ff9f9f" d="M3 0h2v1h-2zM1 1h1v1h-1zM4 1h1v1h-1zM6 2h1v1h-1zM20 3h1v1h-1zM3 4h1v1h-1zM4 6h1v1h-1zM6 8h1v1h-1zM4 9h1v1h-1zM1 10h1v1h-1zM4 10h1v1h-1zM20 11h1v1h-1zM20 13h1v1h-1zM4 15h1v1h-1zM2 17h1v1h-1zM4 18h1v1h-1zM6 19h1v1h-1zM3 20h1v1h-1zM1 22h1v1h-1zM3 22h1v1h-1zM6 22h1v1h-1zM6 23h1v1h-1zM20 24h1v1h-1zM1 25h1v1h-1zM13 27h1v1h-1zM20 28h1v1h-1zM6 29h1v1h-1zM3 31h1v1h-1zM6 31h1v1h-1zM4 32h1v1h-1zM6 35h1v1h-1zM20 35h1v1h-1zM1 36h1v1h-1zM2 37h1v1h-1zM6 39h1v1h-1zM2 40h1v1h-1zM4 40h1v1h-1zM20 42h1v1h-1zM6 43h1v1h-1zM3 46h2v1h-2zM6 46h1v1h-1zM13 46h1v1h-1zM8 47h1v1h-1zM24 50h1v1h-1zM17 52h1v1h-1zM24 52h1v1h-1zM24 54h1v1h-1zM24 55h1v1h-1zM20 57h1v1h-1zM14 59h1v1h-1zM15 66h1v1h-1zM17 67h1v1h-1zM19 67h1v1h-1zM24 67h1v1h-1zM26 67h1v1h-1zM28 68h1v1h-1zM14 69h1v1h-1zM15 70h1v1h-1zM17 70h1v1h-1zM11 72h1v1h-1zM8 75h1v1h-1zM17 75h1v1h-1zM12 77h1v1h-1zM13 80h1v1h-1zM26 80h1v1h-1zM24 81h1v1h-1zM9 84h1v1h-1zM11 85h1v1h-1zM26 85h1v1h-1zM11 86h1v1h-1zM13 86h1v1h-1zM25 86h1v1h-1zM11 90h1v1h-1zM28 90h1v1h-1zM24 94h2v1h-2zM26 96h1v1h-1zM24 97h1v1h-1z"/>
<path fill="#ff9595" d="M6 0h1v1h-1zM20 5h1v1h-1zM6 7h1v1h-1zM20 7h1v1h-1zM20 9h1v1h-1zM3 10h1v1h-1zM3 15h1v1h-1zM6 15h1v1h-1zM3 17h1v1h-1zM20 17h1v1h-1zM1 20h1v1h-1zM20 22h1v1h-1zM13 26h1v1h-1zM3 28h1v1h-1zM2 29h1v1h-1zM3 30h1v1h-1zM6 30h1v1h-1zM3 36h1v1h-1zM20 36h1v1h-1zM20 37h1v1h-1zM0 38h1v1h-1zM3 39h2v1h-2zM20 39h1v1h-1zM20 40h1v1h-1zM6 42h1v1h-1zM1 44h1v1h-1zM24 47h1v1h-1zM18 55h1v1h-1zM24 59h1v1h-1zM9 66h1v1h-1zM11 67h1v1h-1zM9 68h1v1h-1zM13 76h1v1h-1zM31 80h1v1h-1zM16 82h1v1h-1zM24 82h1v1h-1zM15 86h1v1h-1zM24 86h1v1h-1zM8 90h1v1h-1zM25 90h1v1h-1zM14 95h1v1h-1zM24 96h1v1h-1z"/>
<path fill="#ff8a8a" d="M20 1h1v1h-1zM1 5h1v1h-1zM1 17h1v1h-1zM20 18h1v1h-1zM0 19h1v1h-1zM20 23h1v1h-1zM6 27h1v1h-1zM20 30h1v1h-1zM20 32h1v1h-1zM0 33h1v1h-1zM3 43h1v1h-1zM6 44h1v1h-1zM0 45h1v1h-1zM20 46h1v1h-1zM13 63h1v1h-1zM20 71h1v1h-1zM24 75h1v1h-1zM24 90h1v1h-1zM26 90h1v1h-1zM29 99h1v1h-1z"/>
<path fill="#ff8080" d="M6 3h1v1h-1zM24 5h1v1h-1zM20 10h1v1h-1zM0 13h1v1h-1zM1 14h1v1h-1zM20 14h1v1h-1zM0 18h1v1h-1zM20 26h1v1h-1zM1 29h1v1h-1zM20 31h1v1h-1zM1 42h1v1h-1zM15 67h1v1h-1zM24 72h1v1h-1zM24 85h1v1h-1zM26 98h1v1h-1z"/>
<path fill="#ff7575" d="M0 16h1v1h-1zM6 17h1v1h-1zM20 20h1v1h-1zM1 27h1v1h-1zM0 29h1v1h-1zM0 32h1v1h-1zM0 35h1v1h-1zM20 38h1v1h-1zM0 41h1v1h-1zM20 44h1v1h-1zM25 54h1v1h-1z"/>
<path fill="#ff6a6a" d="M20 4h1v1h-1zM0 5h1v1h-1zM0 6h1v1h-1zM0 9h1v1h-1zM0 30h1v1h-1zM0 34h1v1h-1zM0 37h1v1h-1zM0 43h1v1h-1zM21 47h1v1h-1zM15 77h1v1h-1z"/>
<path fill="#ff6060" d="M0 1h1v1h-1zM0 14h1v1h-1zM0 15h1v1h-1zM20 15h1v1h-1zM0 23h1v1h-1zM1 39h1v1h-1zM0 40h1v1h-1zM0 46h1v1h-1z"/>
<path fill="#ff5555" d="M0 3h1v1h-1zM0 11h1v1h-1zM0 12h1v1h-1zM0 21h1v1h-1zM0 22h1v1h-1zM0 24h1v1h-1zM0 26h1v1h-1zM0 36h1v1h-1z"/>
<path fill="#ff4a4a" d="M20 0h1v1h-1zM0 2h1v1h-1zM0 7h1v1h-1zM0 8h1v1h-1zM4 27h1v1h-1zM0 44h1v1h-1z"/>
<path fill="#ff4040" d="M0 28h1v1h-1zM0 31h1v1h-1z"/>
<path fill="#ff3535" d="M0 10h1v1h-1zM0 17h1v1h-1zM20 27h1v1h-1z"/>
<path fill="#ff2a2a" d="M0 20h1v1h-1zM0 27h1v1h-1zM0 42h1v1h-1z"/>
<path fill="#ff1515" d="M0 0h1v1h-1zM0 39h1v1h-1z"/>
<path fill="#ff0b0b" d="M0 4h1v1h-1z"/>
</g>
<path fill="none" stroke="#999" stroke-width="0.90" d="M1436.60 52.20v500.00M1452.14 52.20v500.00M1467.67 52.20v500.00M1483.21 52.20v500.00M1498.75 52.20v500.00M1514.28 52.20v500.00M1529.82 52.20v500.00M1545.36 52.20v500.00M1560.90 52.20v500.00M1576.43 52.20v500.00M1591.97 52.20v500.00M1607.51 52.20v500.00M1623.04 52.20v500.00M1638.58 52.20v500.00M1654.12 52.20v500.00M1669.65 52.20v500.00M1685.19 52.20v500.00M1700.73 52.20v500.00M1716.27 52.20v500.00M1731.80 52.20v500.00M1747.34 52.20v500.00M1762.88 52.20v500.00M1778.41 52.20v500.00M1793.95 52.20v500.00M1809.49 52.20v500.00M1825.02 52.20v500.00M1840.56 52.20v500.00M1856.10 52.20v500.00M1871.64 52.20v500.00M1887.17 52.20v500.00M1902.71 52.20v500.00M1918.25 52.20v500.00M1933.78 52.20v500.00M1436.60 52.20h497.18M1436.60 57.20h497.18M1436.60 62.20h497.18M1436.60 67.20h497.18M1436.60 72.20h497.18M1436.60 77.20h497.18M1436.60 82.20h497.18M1436.60 87.20h497.18M1436.60 92.20h497.18M1436.60 97.20h497.18M1436.60 102.20h497.18M1436.60 107.20h497.18M1436.60 112.20h497.18M1436.60 117.20h497.18M1436.60 122.20h497.18M1436.60 127.20h497.18M1436.60 132.20h497.18M1436.60 137.20h497.18M1436.60 142.20h497.18M1436.60 147.20h497.18M1436.60 152.20h497.18M1436.60 157.20h497.18M1436.60 162.20h497.18M1436.60 167.20h497.18M1436.60 172.20h497.18M1436.60 177.20h497.18M1436.60 182.20h497.18M1436.60 187.20h497.18M1436.60 192.20h497.18M1436.60 197.20h497.18M1436.60 202.20h497.18M1436.60 207.20h497.18M1436.60 212.20h497.18M1436.60 217.20h497.18M1436.60 222.20h497.18M1436.60 227.20h497.18M1436.60 232.20h497.18M1436.60 237.20h497.18M1436.60 242.20h497.18M1436.60 247.20h497.18M1436.60 252.20h497.18M1436.60 257.20h497.18M1436.60 262.20h497.18M1436.60 267.20h497.18M1436.60 272.20h497.18M1436.60 277.20h497.18M1436.60 282.20h497.18M1436.60 287.20h497.18M1436.60 292.20h497.18M1436.60 297.20h497.18M1436.60 302.20h497.18M1436.60 307.20h497.18M1436.60 312.20h497.18M1436.60 317.20h497.18M1436.60 322.20h497.18M1436.60 327.20h497.18M1436.60 332.20h497.18M1436.60 337.20h497.18M1436.60 342.20h497.18M1436.60 347.20h497.18M1436.60 352.20h497.18M1436.60 357.20h497.18M1436.60 362.20h497.18M1436.60 367.20h497.18M1436.60 372.20h497.18M1436.60 377.20h497.18M1436.60 382.20h497.18M1436.60 387.20h497.18M1436.60 392.20h497.18M1436.60 397.20h497.18M1436.60 402.20h497.18M1436.60 407.20h497.18M1436.60 412.20h497.18M1436.60 417.20h497.18M1436.60 422.20h497.18M1436.60 427.20h497.18M1436.60 432.20h497.18M1436.60 437.20h497.18M1436.60 442.20h497.18M1436.60 447.20h497.18M1436.60 452.20h497.18M1436.60 457.20h497.18M1436.60 462.20h497.18M1436.60 467.20h497.18M1436.60 472.20h497.18M1436.60 477.20h497.18M1436.60 482.20h497.18M1436.60 487.20h497.18M1436.60 492.20h497.18M1436.60 497.20h497.18M1436.60 502.20h497.18M1436.60 507.20h497.18M1436.60 512.20h497.18M1436.60 517.20h497.18M1436.60 522.20h497.18M1436.60 527.20h497.18M1436.60 532.20h497.18M1436.60 537.20h497.18M1436.60 542.20h497.18M1436.60 547.20h497.18M1436.60 552.20h497.18"/>
<text x="1936.6" y="48.8" font-size="6.8" font-weight="bold">Type</text>
<g font-size="6.35" fill="#111"><text x="1936.6" y="57.0">NR4A2</text><text x="1936.6" y="62.0">ZNF331</text><text x="1936.6" y="67.0">IL1B</text><text x="1936.6" y="72.0">SELE</text><text x="1936.6" y="77.0">IL6</text><text x="1936.6" y="82.0">BRE-AS1</text><text x="1936.6" y="87.0">NR4A3</text><text x="1936.6" y="92.0">S100A8</text><text x="1936.6" y="97.0">THBD</text><text x="1936.6" y="102.0">PTX3</text><text x="1936.6" y="107.0">MEDAG</text><text x="1936.6" y="112.0">DPT</text><text x="1936.6" y="117.0">OSR1</text><text x="1936.6" y="122.0">FXYD1</text><text x="1936.6" y="127.0">FOSB</text><text x="1936.6" y="131.9">RASD1</text><text x="1936.6" y="136.9">HMOX1</text><text x="1936.6" y="141.9">S100A12</text><text x="1936.6" y="146.9">LINC00968</text><text x="1936.6" y="151.9">FAM150B</text><text x="1936.6" y="156.9">PTGDS</text><text x="1936.6" y="161.9">GHR</text><text x="1936.6" y="166.9">GPX3</text><text x="1936.6" y="171.9">CHRDL1</text><text x="1936.6" y="176.9">ADH1B</text><text x="1936.6" y="181.9">OGN</text><text x="1936.6" y="186.9">C2orf40</text><text x="1936.6" y="191.9">ACKR1</text><text x="1936.6" y="196.9">CCDC3</text><text x="1936.6" y="201.9">FAM107A</text><text x="1936.6" y="206.9">APOLD1</text><text x="1936.6" y="211.9">CCL2</text><text x="1936.6" y="216.9">LYVE1</text><text x="1936.6" y="221.9">CFD</text><text x="1936.6" y="226.9">MMRN1</text><text x="1936.6" y="231.9">SCARA5</text><text x="1936.6" y="236.9">EDNRB</text><text x="1936.6" y="241.9">TSPAN7</text><text x="1936.6" y="246.9">GGTA1P</text><text x="1936.6" y="251.9">TMEM170B</text><text x="1936.6" y="256.9">CD163</text><text x="1936.6" y="261.9">CH25H</text><text x="1936.6" y="266.9">CCL8</text><text x="1936.6" y="271.9">ADAMTS1</text><text x="1936.6" y="276.9">FGR</text><text x="1936.6" y="281.9">HAS2</text><text x="1936.6" y="286.9">LILRB2</text><text x="1936.6" y="291.9">UHRF1</text><text x="1936.6" y="296.9">S100A2</text><text x="1936.6" y="301.9">NMU</text><text x="1936.6" y="306.9">C15orf48</text><text x="1936.6" y="311.9">SFN</text><text x="1936.6" y="316.9">MLPH</text><text x="1936.6" y="321.9">LAMB3</text><text x="1936.6" y="326.9">S100P</text><text x="1936.6" y="331.9">C19orf33</text><text x="1936.6" y="336.9">FXYD3</text><text x="1936.6" y="341.9">TMPRSS4</text><text x="1936.6" y="346.9">MSLN</text><text x="1936.6" y="351.9">LAMC2</text><text x="1936.6" y="356.9">AHNAK2</text><text x="1936.6" y="361.9">CDH3</text><text x="1936.6" y="366.9">GJB2</text><text x="1936.6" y="371.9">LEMD1</text><text x="1936.6" y="376.9">KRT23</text><text x="1936.6" y="381.9">TCN1</text><text x="1936.6" y="386.9">CST1</text><text x="1936.6" y="391.9">AOC1</text><text x="1936.6" y="396.9">EPS8L3</text><text x="1936.6" y="401.9">PRR15</text><text x="1936.6" y="406.9">ST6GALNAC1</text><text x="1936.6" y="411.9">CEACAM6</text><text x="1936.6" y="416.9">TFF1</text><text x="1936.6" y="421.9">CTSE</text><text x="1936.6" y="426.9">ARL14</text><text x="1936.6" y="431.9">ANXA10</text><text x="1936.6" y="436.9">C9orf152</text><text x="1936.6" y="441.9">AGR3</text><text x="1936.6" y="446.9">LGALS4</text><text x="1936.6" y="451.9">TFF2</text><text x="1936.6" y="456.9">CAPN8</text><text x="1936.6" y="461.9">SDR16C5</text><text x="1936.6" y="466.9">TSPAN1</text><text x="1936.6" y="471.9">SLC6A14</text><text x="1936.6" y="476.9">ZG16B</text><text x="1936.6" y="481.9">TMC5</text><text x="1936.6" y="486.9">GCNT3</text><text x="1936.6" y="491.9">DPCR1</text><text x="1936.6" y="496.9">SFTA2</text><text x="1936.6" y="501.9">GABRP</text><text x="1936.6" y="506.9">SLPI</text><text x="1936.6" y="511.9">LCN2</text><text x="1936.6" y="517.0">ATP1B1</text><text x="1936.6" y="522.0">EFNA1</text><text x="1936.6" y="527.0">C1orf106</text><text x="1936.6" y="532.0">AGR2</text><text x="1936.6" y="537.0">PLS1</text><text x="1936.6" y="542.0">KLF5</text><text x="1936.6" y="547.0">RAB25</text><text x="1936.6" y="552.0">FOXQ1</text></g>
<defs><linearGradient id="cb1983" x1="0" y1="0" x2="0" y2="1"><stop offset="0" stop-color="#f00"/><stop offset="0.5" stop-color="#fff"/><stop offset="1" stop-color="#00f"/></linearGradient></defs>
<rect x="1983.8" y="41.8" width="9.0" height="135.0" fill="url(#cb1983)"/>
<text x="1996.5" y="77.2" font-size="7.2" fill="#000">2</text>
<text x="1996.5" y="111.9" font-size="7.2" fill="#000">0</text>
<text x="1996.5" y="146.6" font-size="7.2" fill="#000">−2</text>
<path fill="none" stroke="#111" stroke-width="1.1" d="M1428.8 59.7L1436.1 59.7M1428.8 64.7L1436.1 64.7M1428.8 59.7L1428.8 64.7M1430.2 74.7L1436.1 74.7M1430.2 79.7L1436.1 79.7M1430.2 74.7L1430.2 79.7M1427.5 69.7L1436.1 69.7M1427.5 77.2L1430.2 77.2M1427.5 69.7L1427.5 77.2M1424.8 73.5L1427.5 73.5M1424.8 84.7L1436.1 84.7M1424.8 73.5L1424.8 84.7M1420.7 62.2L1428.8 62.2M1420.7 79.1L1424.8 79.1M1420.7 62.2L1420.7 79.1M1414.0 54.7L1436.1 54.7M1414.0 70.6L1420.7 70.6M1414.0 54.7L1414.0 70.6M1431.1 99.7L1436.1 99.7M1431.1 104.7L1436.1 104.7M1431.1 99.7L1431.1 104.7M1432.2 109.7L1436.1 109.7M1432.2 114.7L1436.1 114.7M1432.2 109.7L1432.2 114.7M1431.6 112.2L1432.2 112.2M1431.6 119.7L1436.1 119.7M1431.6 112.2L1431.6 119.7M1432.8 124.7L1436.1 124.7M1432.8 129.7L1436.1 129.7M1432.8 124.7L1432.8 129.7M1432.2 127.2L1432.8 127.2M1432.2 134.7L1436.1 134.7M1432.2 127.2L1432.2 134.7M1431.6 130.9L1432.2 130.9M1431.6 139.7L1436.1 139.7M1431.6 130.9L1431.6 139.7M1431.0 116.0L1431.6 116.0M1431.0 135.3L1431.6 135.3M1431.0 116.0L1431.0 135.3M1430.4 125.6L1431.0 125.6M1430.4 144.7L1436.1 144.7M1430.4 125.6L1430.4 144.7M1431.6 149.7L1436.1 149.7M1431.6 154.7L1436.1 154.7M1431.6 149.7L1431.6 154.7M1431.0 152.2L1431.6 152.2M1431.0 159.7L1436.1 159.7M1431.0 152.2L1431.0 159.7M1430.4 155.9L1431.0 155.9M1430.4 164.7L1436.1 164.7M1430.4 155.9L1430.4 164.7M1429.2 135.2L1430.4 135.2M1429.2 160.3L1430.4 160.3M1429.2 135.2L1429.2 160.3M1427.3 102.2L1431.1 102.2M1427.3 147.7L1429.2 147.7M1427.3 102.2L1427.3 147.7M1423.1 94.7L1436.1 94.7M1423.1 125.0L1427.3 125.0M1423.1 94.7L1423.1 125.0M1416.5 109.8L1423.1 109.8M1416.5 169.7L1436.1 169.7M1416.5 109.8L1416.5 169.7M1412.0 89.7L1436.1 89.7M1412.0 139.8L1416.5 139.8M1412.0 89.7L1412.0 139.8M1429.2 184.7L1436.1 184.7M1429.2 189.7L1436.1 189.7M1429.2 184.7L1429.2 189.7M1426.4 179.7L1436.1 179.7M1426.4 187.2L1429.2 187.2M1426.4 179.7L1426.4 187.2M1430.6 204.7L1436.1 204.7M1430.6 209.7L1436.1 209.7M1430.6 204.7L1430.6 209.7M1429.7 199.7L1436.1 199.7M1429.7 207.2L1430.6 207.2M1429.7 199.7L1429.7 207.2M1428.5 203.4L1429.7 203.4M1428.5 214.7L1436.1 214.7M1428.5 203.4L1428.5 214.7M1427.3 194.7L1436.1 194.7M1427.3 209.1L1428.5 209.1M1427.3 194.7L1427.3 209.1M1425.7 201.9L1427.3 201.9M1425.7 219.7L1436.1 219.7M1425.7 201.9L1425.7 219.7M1424.4 183.4L1426.4 183.4M1424.4 210.8L1425.7 210.8M1424.4 183.4L1424.4 210.8M1430.9 229.7L1436.1 229.7M1430.9 234.7L1436.1 234.7M1430.9 229.7L1430.9 234.7M1430.1 232.2L1430.9 232.2M1430.1 239.7L1436.1 239.7M1430.1 232.2L1430.1 239.7M1430.9 244.7L1436.1 244.7M1430.9 249.7L1436.1 249.7M1430.9 244.7L1430.9 249.7M1430.1 247.2L1430.9 247.2M1430.1 254.7L1436.1 254.7M1430.1 247.2L1430.1 254.7M1428.9 235.9L1430.1 235.9M1428.9 250.9L1430.1 250.9M1428.9 235.9L1428.9 250.9M1426.9 224.7L1436.1 224.7M1426.9 243.4L1428.9 243.4M1426.9 224.7L1426.9 243.4M1425.7 234.1L1426.9 234.1M1425.7 259.7L1436.1 259.7M1425.7 234.1L1425.7 259.7M1429.4 264.7L1436.1 264.7M1429.4 269.7L1436.1 269.7M1429.4 264.7L1429.4 269.7M1429.9 274.7L1436.1 274.7M1429.9 279.7L1436.1 279.7M1429.9 274.7L1429.9 279.7M1425.1 267.2L1429.4 267.2M1425.1 277.2L1429.9 277.2M1425.1 267.2L1425.1 277.2M1423.6 246.9L1425.7 246.9M1423.6 272.2L1425.1 272.2M1423.6 246.9L1423.6 272.2M1422.2 259.5L1423.6 259.5M1422.2 284.7L1436.1 284.7M1422.2 259.5L1422.2 284.7M1419.9 197.1L1424.4 197.1M1419.9 272.1L1422.2 272.1M1419.9 197.1L1419.9 272.1M1411.0 174.7L1436.1 174.7M1411.0 234.6L1419.9 234.6M1411.0 174.7L1411.0 234.6M1408.0 114.7L1412.0 114.7M1408.0 204.7L1411.0 204.7M1408.0 114.7L1408.0 204.7M1405.7 62.7L1414.0 62.7M1405.7 159.7L1408.0 159.7M1405.7 62.7L1405.7 159.7M1430.6 299.7L1436.1 299.7M1430.6 304.7L1436.1 304.7M1430.6 299.7L1430.6 304.7M1425.7 294.7L1436.1 294.7M1425.7 302.2L1430.6 302.2M1425.7 294.7L1425.7 302.2M1429.3 309.7L1436.1 309.7M1429.3 314.7L1436.1 314.7M1429.3 309.7L1429.3 314.7M1424.4 298.4L1425.7 298.4M1424.4 312.2L1429.3 312.2M1424.4 298.4L1424.4 312.2M1430.7 319.7L1436.1 319.7M1430.7 324.7L1436.1 324.7M1430.7 319.7L1430.7 324.7M1423.2 305.3L1424.4 305.3M1423.2 322.2L1430.7 322.2M1423.2 305.3L1423.2 322.2M1418.5 289.7L1436.1 289.7M1418.5 313.8L1423.2 313.8M1418.5 289.7L1418.5 313.8M1431.7 354.7L1436.1 354.7M1431.7 359.7L1436.1 359.7M1431.7 354.7L1431.7 359.7M1431.1 349.7L1436.1 349.7M1431.1 357.2L1431.7 357.2M1431.1 349.7L1431.1 357.2M1430.5 344.7L1436.1 344.7M1430.5 353.4L1431.1 353.4M1430.5 344.7L1430.5 353.4M1429.3 339.7L1436.1 339.7M1429.3 349.1L1430.5 349.1M1429.3 339.7L1429.3 349.1M1426.9 334.7L1436.1 334.7M1426.9 344.4L1429.3 344.4M1426.9 334.7L1426.9 344.4M1431.1 364.7L1436.1 364.7M1431.1 369.7L1436.1 369.7M1431.1 364.7L1431.1 369.7M1425.7 339.5L1426.9 339.5M1425.7 367.2L1431.1 367.2M1425.7 339.5L1425.7 367.2M1420.1 329.7L1436.1 329.7M1420.1 353.4L1425.7 353.4M1420.1 329.7L1420.1 353.4M1414.0 341.5L1420.1 341.5M1414.0 374.7L1436.1 374.7M1414.0 341.5L1414.0 374.7M1410.0 301.7L1418.5 301.7M1410.0 358.1L1414.0 358.1M1410.0 301.7L1410.0 358.1M1417.0 379.7L1436.1 379.7M1417.0 384.7L1436.1 384.7M1417.0 379.7L1417.0 384.7M1428.6 394.7L1436.1 394.7M1428.6 399.7L1436.1 399.7M1428.6 394.7L1428.6 399.7M1430.1 404.7L1436.1 404.7M1430.1 409.7L1436.1 409.7M1430.1 404.7L1430.1 409.7M1429.7 414.7L1436.1 414.7M1429.7 419.7L1436.1 419.7M1429.7 414.7L1429.7 419.7M1427.8 407.2L1430.1 407.2M1427.8 417.2L1429.7 417.2M1427.8 407.2L1427.8 417.2M1425.4 397.2L1428.6 397.2M1425.4 412.2L1427.8 412.2M1425.4 397.2L1425.4 412.2M1422.7 389.7L1436.1 389.7M1422.7 404.7L1425.4 404.7M1422.7 389.7L1422.7 404.7M1431.5 429.7L1436.1 429.7M1431.5 434.7L1436.1 434.7M1431.5 429.7L1431.5 434.7M1430.9 432.2L1431.5 432.2M1430.9 439.7L1436.1 439.7M1430.9 432.2L1430.9 439.7M1429.7 435.9L1430.9 435.9M1429.7 444.7L1436.1 444.7M1429.7 435.9L1429.7 444.7M1428.5 424.7L1436.1 424.7M1428.5 440.3L1429.7 440.3M1428.5 424.7L1428.5 440.3M1427.3 432.5L1428.5 432.5M1427.3 449.7L1436.1 449.7M1427.3 432.5L1427.3 449.7M1426.1 441.1L1427.3 441.1M1426.1 454.7L1436.1 454.7M1426.1 441.1L1426.1 454.7M1431.1 469.7L1436.1 469.7M1431.1 474.7L1436.1 474.7M1431.1 469.7L1431.1 474.7M1427.9 464.7L1436.1 464.7M1427.9 472.2L1431.1 472.2M1427.9 464.7L1427.9 472.2M1426.5 459.7L1436.1 459.7M1426.5 468.4L1427.9 468.4M1426.5 459.7L1426.5 468.4M1424.8 447.9L1426.1 447.9M1424.8 464.1L1426.5 464.1M1424.8 447.9L1424.8 464.1M1420.0 397.2L1422.7 397.2M1420.0 456.0L1424.8 456.0M1420.0 397.2L1420.0 456.0M1425.0 479.7L1436.1 479.7M1425.0 484.7L1436.1 484.7M1425.0 479.7L1425.0 484.7M1429.1 499.7L1436.1 499.7M1429.1 504.7L1436.1 504.7M1429.1 499.7L1429.1 504.7M1424.7 494.7L1436.1 494.7M1424.7 502.2L1429.1 502.2M1424.7 494.7L1424.7 502.2M1422.3 489.7L1436.1 489.7M1422.3 498.4L1424.7 498.4M1422.3 489.7L1422.3 498.4M1417.4 482.2L1425.0 482.2M1417.4 494.1L1422.3 494.1M1417.4 482.2L1417.4 494.1M1414.6 426.6L1420.0 426.6M1414.6 488.1L1417.4 488.1M1414.6 426.6L1414.6 488.1M1409.0 382.2L1417.0 382.2M1409.0 457.4L1414.6 457.4M1409.0 382.2L1409.0 457.4M1430.6 509.7L1436.1 509.7M1430.6 514.7L1436.1 514.7M1430.6 509.7L1430.6 514.7M1429.4 534.7L1436.1 534.7M1429.4 539.7L1436.1 539.7M1429.4 534.7L1429.4 539.7M1428.0 529.7L1436.1 529.7M1428.0 537.2L1429.4 537.2M1428.0 529.7L1428.0 537.2M1424.9 524.7L1436.1 524.7M1424.9 533.5L1428.0 533.5M1424.9 524.7L1424.9 533.5M1419.3 519.7L1436.1 519.7M1419.3 529.1L1424.9 529.1M1419.3 519.7L1419.3 529.1M1417.3 512.2L1430.6 512.2M1417.3 524.4L1419.3 524.4M1417.3 512.2L1417.3 524.4M1430.1 544.7L1436.1 544.7M1430.1 549.7L1436.1 549.7M1430.1 544.7L1430.1 549.7M1415.0 518.3L1417.3 518.3M1415.0 547.2L1430.1 547.2M1415.0 518.3L1415.0 547.2M1407.0 419.8L1409.0 419.8M1407.0 532.7L1415.0 532.7M1407.0 419.8L1407.0 532.7M1401.7 329.9L1410.0 329.9M1401.7 476.3L1407.0 476.3M1401.7 329.9L1401.7 476.3M1389.0 111.2L1405.7 111.2M1389.0 403.1L1401.7 403.1M1389.0 111.2L1389.0 403.1"/>
<text x="2.9" y="29.4" font-size="38.4" text-anchor="start">A</text><text x="707.2" y="29.4" font-size="38.4" text-anchor="start">B</text><text x="1377.8" y="41.6" font-size="38.4" text-anchor="start">C</text><text x="203.8" y="38.0" font-size="20.5" text-anchor="middle">Normal</text><text x="431.6" y="38.0" font-size="20.5" text-anchor="middle">Tumor</text><text x="836.8" y="34.0" font-size="20.5" text-anchor="middle">Normal</text><text x="1081.3" y="34.0" font-size="20.5" text-anchor="middle">Tumor</text><text x="1503.1" y="34.0" font-size="20.5" text-anchor="middle">Normal</text><text x="1784.8" y="34.0" font-size="20.5" text-anchor="middle">Tumor</text>
<g id="volA">
<rect x="60.7" y="622.9" width="511.1" height="493.4" fill="#fff"/>
<path d="M84.4 622.9V1116.3M206.9 622.9V1116.3M329.4 622.9V1116.3M451.9 622.9V1116.3M60.7 1036.0H571.8M60.7 919.5H571.8M60.7 803.0H571.8M60.7 686.5H571.8" stroke="#ebebeb" stroke-width="0.6" fill="none"/>
<path d="M145.7 622.9V1116.3M268.2 622.9V1116.3M390.7 622.9V1116.3M513.2 622.9V1116.3M60.7 1094.3H571.8M60.7 977.8H571.8M60.7 861.3H571.8M60.7 744.8H571.8M60.7 628.3H571.8" stroke="#ebebeb" stroke-width="1.2" fill="none"/>
<path d="M268.4 1094.5 L275.9 1093.9 L286.5 1088.6 L299.9 1077.8 L310.8 1064.3 L320.3 1049.3 L328.4 1031.6 L335.3 1011.2 L340.8 990.6 L346.2 970.1 L350.3 949.6 L351.7 929.4 L347.6 911.8 L340.9 895.6 L331.5 882.3 L321.0 875.7 L308.0 873.1 L300.8 875.5 L298.3 881.7 L294.2 895.3 L290.1 911.7 L286.7 929.5 L283.3 950.1 L280.5 970.6 L278.5 991.2 L276.4 1011.8 L272.3 1052.9 L270.2 1073.5 L269.7 1084.4 L269.7 1084.6 L269.7 1084.7 L269.6 1084.9 L269.6 1085.0 L269.5 1085.1 L269.4 1085.3 L269.3 1085.4 L269.2 1085.5 L269.1 1085.6 L269.0 1085.7 L268.8 1085.7 L268.7 1085.8 L268.6 1085.8 L268.4 1085.9 L268.3 1085.9 L268.1 1085.9 L268.0 1085.9 L267.8 1085.8 L267.7 1085.8 L267.6 1085.7 L267.4 1085.7 L267.3 1085.6 L267.2 1085.5 L267.1 1085.4 L267.0 1085.3 L266.9 1085.1 L266.8 1085.0 L266.8 1084.9 L266.7 1084.7 L266.7 1084.6 L266.7 1084.4 L266.3 1073.4 L265.5 1052.9 L264.5 1032.3 L263.1 1011.7 L261.8 991.1 L260.4 970.5 L258.3 950.0 L258.3 949.9 L257.0 929.4 L254.2 911.6 L251.5 895.3 L247.5 882.0 L245.4 879.9 L235.2 878.6 L230.5 879.8 L225.4 886.1 L220.1 898.1 L217.4 911.6 L216.0 929.2 L217.4 949.7 L218.8 970.3 L220.1 990.9 L222.9 1011.4 L227.0 1031.8 L232.4 1049.5 L239.2 1064.5 L247.3 1077.9 L258.0 1088.7 z" fill="#000"/>
<path d="M252.6 900.3h0M349.6 915.1h0M254.2 905.4h0M264.1 1064.8h0M284.8 1090.0h0M313.1 849.1h0M265.2 1036.5h0M218.3 985.2h0M350.8 965.8h0M278.4 1006.1h0M219.3 970.5h0M345.4 1020.0h0M338.3 1041.7h0M264.7 1044.2h0M334.1 1010.4h0M218.4 921.4h0M265.6 1053.9h0M330.9 1032.8h0M221.6 991.8h0M212.4 1016.3h0M226.8 1033.3h0M237.8 1066.1h0M293.0 1092.7h0M259.3 967.0h0M324.1 878.2h0M211.3 922.6h0M328.9 1024.1h0M325.6 829.2h0M345.4 968.5h0M345.3 908.2h0M361.2 978.1h0M345.2 896.5h0M218.4 966.1h0M345.4 898.3h0M215.8 973.8h0M262.8 1007.4h0M200.4 988.0h0M243.0 878.2h0M286.9 935.8h0M290.0 908.9h0M221.2 896.9h0M336.5 859.4h0M296.5 895.8h0M342.5 982.7h0M341.8 986.7h0M212.3 911.8h0M235.3 1061.2h0M311.1 1065.5h0M347.6 954.9h0M254.7 917.2h0M276.8 1017.3h0M229.6 1041.9h0M301.5 877.3h0M241.9 874.5h0M215.7 934.5h0M272.5 1072.3h0M231.1 1043.9h0M265.6 1074.1h0M255.9 1083.1h0M182.4 929.0h0M280.3 989.0h0M352.4 927.8h0M330.9 1027.5h0M279.3 979.8h0M272.0 1052.0h0M229.2 881.1h0M224.0 1002.7h0M224.4 1029.4h0M228.3 883.8h0M218.7 925.0h0M217.2 957.0h0M288.8 918.1h0M272.5 1052.1h0M218.5 971.2h0M342.7 898.5h0M243.0 1066.2h0M313.2 875.2h0M265.6 1064.7h0M248.6 888.5h0M283.2 951.0h0M219.0 975.8h0M223.1 1009.2h0M355.9 986.6h0M211.9 977.4h0M262.1 992.1h0M328.8 883.2h0M337.4 1005.3h0M230.0 1040.1h0M270.6 1062.2h0M349.9 897.2h0M227.7 885.3h0M297.4 1083.6h0M326.6 1042.1h0M340.0 892.3h0M271.2 1076.4h0M219.0 995.8h0M280.4 962.2h0M267.3 1091.2h0M207.2 915.7h0M311.6 1058.7h0M213.6 990.2h0M353.1 937.6h0M264.0 1024.6h0M327.2 1041.9h0M347.7 950.5h0M221.5 989.9h0M229.1 1034.4h0M353.9 939.5h0M260.5 1007.9h0M255.4 937.5h0M223.5 1011.4h0M305.9 863.4h0M255.1 1084.0h0M274.5 1027.3h0M300.0 874.3h0M305.9 863.2h0M320.6 841.3h0M223.1 1001.7h0M276.4 1028.0h0M242.3 1067.9h0M226.3 870.7h0M206.6 947.7h0M253.2 1087.1h0M317.5 868.1h0M220.1 967.7h0M297.8 877.8h0M305.4 1080.1h0M224.7 1014.9h0M325.9 867.4h0M306.2 873.3h0M216.8 976.8h0M266.3 1071.0h0M315.8 1052.7h0M306.8 871.1h0M352.3 856.0h0M340.0 1004.9h0M275.8 1022.5h0M238.5 875.3h0M265.4 1061.5h0M265.6 1045.0h0M284.1 950.4h0M228.7 880.0h0M341.5 901.7h0M321.5 1055.5h0M287.8 936.3h0M212.9 895.7h0M224.5 1041.1h0M263.6 1052.6h0M337.5 1002.4h0M342.8 977.0h0M280.4 993.6h0M328.8 1023.7h0M337.4 1027.5h0M326.9 1057.8h0M285.1 1094.1h0M343.3 973.9h0M269.7 1071.4h0M250.3 890.1h0M308.8 1066.2h0M260.8 1002.5h0M359.1 954.3h0M241.3 1066.1h0M217.1 969.1h0M364.8 1011.7h0M311.8 873.7h0M353.0 925.3h0M282.7 955.5h0M214.3 951.2h0M320.0 1066.4h0M227.5 886.0h0M221.8 979.1h0M251.1 899.9h0M282.5 1090.5h0M216.5 917.1h0M351.6 967.6h0M302.7 857.9h0M277.6 1012.0h0M350.7 923.1h0M347.9 971.4h0M218.7 920.1h0M219.2 951.3h0M366.3 970.6h0M336.1 824.9h0M300.8 1079.3h0M261.8 1005.7h0M338.5 895.3h0M323.8 1045.1h0M225.5 1029.6h0M266.0 1084.9h0M341.0 991.0h0M206.1 911.9h0M237.2 1061.4h0M324.7 1036.9h0M244.0 1083.6h0M353.9 958.7h0M351.3 947.4h0M312.7 871.1h0M227.4 1038.3h0M219.7 947.7h0M260.9 973.5h0M275.3 1045.7h0M275.1 1048.6h0M219.9 1012.1h0M226.2 872.5h0M264.2 1076.6h0M265.2 1077.8h0M216.2 952.0h0M217.0 889.3h0M217.2 950.0h0M349.6 922.8h0M349.4 917.1h0M339.6 883.9h0M334.9 876.0h0M343.4 985.7h0M332.8 1031.4h0M316.2 1053.9h0M352.2 930.1h0M294.2 892.3h0M214.0 983.7h0M262.3 977.8h0M225.2 1017.9h0M244.2 877.0h0M315.5 1055.9h0M261.2 1009.5h0M328.5 876.3h0M343.8 977.0h0M353.5 956.9h0M267.2 1083.6h0M349.5 925.6h0M283.8 952.3h0M221.5 1019.6h0M220.9 900.0h0M321.8 877.5h0M348.7 922.5h0M274.2 1045.3h0M319.6 1048.1h0M241.8 1071.7h0M214.5 884.5h0M359.8 1015.7h0M203.4 968.9h0M232.0 1053.4h0M248.2 890.8h0M252.0 913.0h0M251.2 1079.9h0M302.2 873.3h0M331.3 880.2h0M265.5 1033.9h0M345.8 905.8h0M349.3 922.2h0M214.6 944.0h0M330.1 1033.0h0M294.5 1085.3h0M233.7 1062.4h0M226.7 1031.4h0M287.0 930.3h0M266.6 1075.4h0M338.5 1012.9h0M262.2 987.2h0M339.0 893.1h0M273.1 1066.2h0M216.3 981.7h0M219.5 1018.1h0M225.3 1030.7h0M240.9 1065.5h0M346.8 966.0h0M254.0 912.6h0M318.9 1059.2h0M360.4 925.7h0M341.6 890.5h0M332.8 1019.2h0M321.1 1042.3h0M337.2 1004.7h0M225.4 882.5h0M348.1 969.2h0M341.9 999.0h0M346.6 987.1h0M256.6 1086.5h0M241.8 874.1h0M349.6 1022.7h0M341.3 887.0h0M334.1 887.3h0M305.7 868.9h0M224.7 1006.7h0M295.9 1088.3h0M341.5 896.2h0M218.5 886.0h0M348.6 939.5h0M219.8 965.8h0M217.4 911.5h0M215.7 961.0h0M331.9 1013.8h0M305.1 869.6h0M245.2 882.2h0M347.9 997.4h0M325.6 1043.4h0M322.3 1057.5h0M250.2 888.3h0M345.3 909.6h0M304.2 855.0h0M261.8 1002.6h0M241.1 1066.1h0M350.3 959.4h0M314.1 1072.3h0M260.8 994.4h0M207.1 1010.3h0M323.0 1046.7h0M262.6 1036.2h0M272.9 1062.5h0M280.0 978.0h0M330.2 1021.0h0M221.3 1010.5h0M331.7 1037.4h0M297.6 1090.9h0M336.0 866.4h0M227.3 881.5h0M216.8 910.1h0M314.7 1062.2h0M280.1 976.9h0M265.6 1031.6h0M344.3 970.4h0M352.3 956.7h0M340.1 898.1h0M222.6 1003.7h0M349.6 913.3h0M261.8 984.1h0M280.5 975.2h0M258.4 968.5h0M347.0 910.0h0M247.9 871.0h0M219.1 946.0h0M274.4 1030.1h0M266.1 1073.3h0M234.4 1056.3h0M350.3 949.2h0M279.2 1092.4h0M217.8 938.2h0M281.9 1093.2h0M353.2 936.6h0M282.9 969.1h0M215.0 976.2h0M331.3 1034.7h0M269.2 1084.8h0M335.8 1015.4h0M298.7 1090.1h0M270.8 1067.6h0M244.9 877.2h0M275.4 1094.0h0M301.1 864.5h0M247.3 870.8h0M246.0 1081.7h0M282.5 952.0h0M344.5 968.7h0M312.3 1084.5h0M224.1 1007.6h0M326.4 1029.8h0M248.7 871.7h0M348.0 955.4h0M258.2 969.5h0M220.5 906.2h0M293.7 893.5h0M226.3 889.1h0M293.3 897.4h0M299.6 1074.4h0M386.3 926.7h0M345.3 998.6h0M275.7 1041.2h0M332.3 876.5h0M298.2 882.0h0M211.5 920.7h0M331.5 1065.0h0M297.7 1077.6h0M307.5 1065.4h0M335.7 1029.7h0M260.5 1007.0h0M290.2 906.0h0M236.8 1058.1h0M231.3 1062.8h0M351.2 932.9h0M353.1 960.1h0M227.5 872.9h0M300.5 1078.2h0M225.1 884.1h0M330.5 863.5h0M288.2 927.8h0M217.6 922.0h0M339.4 887.7h0M278.6 975.4h0M321.2 1041.6h0M340.0 885.5h0M258.9 952.5h0M278.8 984.5h0M278.2 1015.4h0M332.2 1023.5h0M336.4 1023.1h0M306.2 1067.4h0M223.9 889.9h0M335.8 1009.3h0M344.1 895.3h0M356.8 875.4h0M345.4 985.7h0M282.5 1093.8h0M214.5 919.8h0M216.6 968.6h0M270.3 1070.5h0M342.7 973.7h0M192.2 922.7h0M284.4 943.6h0M360.1 1007.7h0M351.4 967.7h0M339.2 896.7h0M317.6 1061.3h0M324.2 865.6h0M230.8 1053.4h0M331.2 881.2h0M352.8 951.9h0M345.7 960.3h0M221.6 997.7h0M292.6 899.0h0M282.6 968.1h0M217.9 1001.1h0M297.4 881.4h0M238.6 858.3h0M278.5 1010.4h0M265.4 1093.0h0M325.8 1049.2h0M289.4 925.4h0M340.7 1005.1h0M257.9 959.3h0M349.1 944.6h0M236.9 864.3h0M244.2 875.1h0M216.9 941.4h0M261.1 978.9h0M217.2 922.0h0M349.4 944.6h0M254.6 923.3h0M290.0 920.0h0M340.3 885.4h0M337.6 1017.9h0M355.1 951.1h0M305.8 875.2h0M213.2 944.9h0M298.3 863.8h0M265.6 1029.8h0M345.6 881.7h0M214.1 921.5h0M281.3 976.8h0M291.7 913.8h0M287.3 931.9h0M296.3 894.2h0M222.5 1021.7h0M350.3 1006.0h0M223.9 1036.8h0M304.0 1068.9h0M208.6 1033.0h0M357.0 912.7h0M229.7 829.2h0M350.0 926.7h0M306.4 871.3h0M325.7 879.0h0M266.8 1070.5h0M221.4 990.9h0M330.4 878.3h0M220.1 1033.5h0M336.0 892.2h0M346.1 996.3h0M339.6 1048.9h0M256.5 939.6h0M332.9 1020.0h0M334.0 1044.4h0M287.5 933.1h0M227.0 1035.7h0M219.3 959.6h0M265.9 1046.6h0M255.5 932.2h0M262.3 1032.5h0M259.9 986.3h0M251.6 908.5h0M218.4 1034.2h0M221.0 989.9h0M341.2 1000.4h0M254.6 1094.0h0M196.5 917.4h0M330.0 1020.1h0M278.3 999.0h0M217.4 978.4h0M334.0 890.1h0M320.9 871.5h0M313.4 873.1h0M202.2 873.0h0M263.8 1034.7h0M349.2 959.7h0M310.2 866.6h0M221.4 900.0h0M288.0 919.9h0M337.5 887.3h0M359.2 940.7h0M268.7 1081.6h0M357.1 996.6h0M286.4 1088.1h0M240.2 852.6h0M354.0 1008.7h0M280.5 960.1h0M352.0 978.9h0M272.6 1042.1h0M225.7 1019.2h0M290.4 916.0h0M221.7 984.2h0M345.1 969.7h0M332.6 1017.9h0M325.9 1039.5h0M265.1 1052.0h0M228.5 883.6h0M303.3 856.4h0M259.0 961.7h0M222.7 1050.8h0M346.7 1015.6h0M304.8 1068.2h0M317.8 1050.0h0M290.8 1089.2h0M334.4 1035.5h0M261.2 1003.5h0M223.4 1009.5h0M219.7 902.5h0M213.9 981.0h0M232.3 1041.4h0M314.3 1055.6h0M259.1 939.5h0M275.4 1016.4h0M230.7 879.2h0M253.6 917.9h0M232.8 1049.8h0M229.6 1045.9h0M343.4 879.5h0M323.1 874.9h0M264.0 1073.5h0M305.6 1076.2h0M340.5 885.3h0M322.0 825.2h0M355.2 914.2h0M251.1 899.8h0M218.1 949.2h0M226.6 1082.2h0M258.2 946.0h0M344.5 1030.8h0M215.7 901.1h0M268.9 1077.8h0M349.2 966.6h0M235.9 1051.7h0M218.2 945.6h0M221.0 1062.8h0M335.0 835.2h0M215.5 979.7h0M315.7 872.9h0M279.0 993.3h0M223.0 1003.1h0M280.5 986.6h0M332.6 1017.7h0M229.8 1037.2h0M245.3 1070.7h0M257.3 955.3h0M338.5 1008.2h0M314.7 872.9h0M243.5 1084.3h0M293.6 905.0h0M211.0 905.1h0M230.5 1049.2h0M351.0 928.5h0M228.8 1029.7h0M286.0 926.1h0M237.5 1086.9h0M228.4 1027.8h0M300.6 1079.9h0M289.9 924.1h0M242.1 1078.0h0M217.6 941.6h0M348.9 941.6h0M263.5 1032.1h0M352.0 936.5h0M343.3 907.1h0M211.5 999.9h0M290.2 921.1h0M315.7 1060.8h0M357.5 849.0h0M289.6 924.4h0M345.0 969.6h0M289.1 1086.6h0M298.1 886.0h0M209.5 978.9h0M334.2 1024.6h0M335.3 1003.0h0M348.5 939.5h0M339.8 893.5h0M246.1 885.3h0M350.2 921.4h0M346.8 959.1h0M216.2 939.6h0M212.8 877.6h0M349.2 930.0h0M215.1 997.5h0M281.3 974.8h0M263.6 1030.1h0M284.2 962.2h0M326.8 871.4h0M332.6 887.0h0M290.4 916.8h0M288.5 925.7h0M220.6 1002.3h0M336.5 1004.3h0M297.7 886.6h0M231.5 1051.3h0M282.0 955.9h0M260.5 979.7h0M220.8 903.2h0M214.0 909.9h0M266.2 1048.7h0M246.1 880.5h0M214.5 918.2h0M287.4 918.0h0M320.0 1047.8h0M245.2 1071.1h0M220.1 983.5h0M275.7 1039.9h0M297.1 1079.8h0M219.1 887.2h0M308.5 1066.5h0M362.6 932.9h0M321.6 1049.0h0M277.2 998.4h0M263.0 1017.4h0M257.3 959.2h0M312.8 874.5h0M283.9 961.7h0M240.7 874.4h0M236.5 1064.5h0M351.5 956.0h0M224.6 874.7h0M297.0 1077.2h0M282.3 1088.2h0M336.5 1005.8h0M246.4 884.4h0M222.3 1022.4h0M321.7 1050.5h0M330.5 1025.0h0M232.7 1053.1h0M333.7 1011.6h0M264.9 1063.0h0M243.6 1094.1h0M216.5 1009.0h0M168.7 962.0h0M332.2 871.0h0M254.1 919.0h0M222.1 890.3h0M220.7 980.4h0M284.1 943.1h0M215.3 962.9h0M267.9 1078.1h0M343.3 979.2h0M221.6 1000.8h0M353.4 932.9h0M255.0 916.7h0M323.8 878.6h0M212.0 970.3h0M217.8 964.0h0M215.9 1015.1h0M299.8 854.2h0M220.7 1017.8h0M303.6 1076.4h0M280.1 984.5h0M331.2 1020.6h0M215.8 1006.4h0M220.6 871.2h0M266.6 1060.9h0M218.9 1017.1h0M218.3 931.7h0M246.8 1086.9h0M324.1 875.6h0M343.8 1017.0h0M272.5 1044.3h0M335.1 1006.8h0M250.3 897.4h0M366.6 933.0h0M348.5 961.7h0M216.3 1000.7h0M305.5 873.4h0M336.3 876.6h0M340.9 894.4h0M312.3 1071.8h0M345.4 903.1h0M214.0 961.6h0M290.0 921.8h0M310.4 875.7h0M348.9 942.3h0M327.4 1029.4h0M288.1 932.9h0M245.8 881.6h0M352.9 910.3h0M363.3 927.0h0M291.9 1081.6h0M223.5 869.7h0M273.8 1048.1h0M315.4 1059.2h0M219.3 918.9h0M219.2 901.0h0M298.0 866.4h0M222.9 993.5h0M216.6 946.9h0M325.6 876.9h0M265.4 1091.8h0M228.6 1032.5h0M350.1 923.2h0M261.3 1093.7h0M343.3 907.1h0M321.8 878.7h0M266.2 1049.0h0M314.8 1067.6h0M308.9 1079.8h0M342.8 973.3h0M261.7 1022.1h0M205.9 910.7h0M288.7 913.6h0M223.0 889.5h0M318.1 872.8h0M217.3 900.4h0M234.2 879.2h0M382.5 949.2h0M272.9 1061.7h0M233.3 1048.1h0M296.3 1077.9h0M289.2 928.8h0M260.1 960.3h0M280.2 998.0h0M219.0 950.9h0M168.3 987.8h0M316.2 1054.8h0M337.6 882.9h0M244.5 1071.2h0M218.5 902.9h0M259.8 992.5h0M287.3 927.8h0M272.8 1055.6h0M317.9 1058.0h0M273.0 1040.6h0M310.1 871.6h0M283.5 1092.0h0M306.0 865.8h0M349.7 928.0h0M222.5 1001.3h0M340.2 900.4h0M226.9 1023.2h0M353.8 922.9h0M217.2 927.0h0M215.1 905.1h0M266.0 1064.7h0M239.4 875.7h0M220.9 1009.5h0M262.4 1027.9h0M336.2 885.4h0M264.8 1056.9h0M225.7 889.8h0M237.9 1061.1h0M261.1 981.8h0M253.6 913.5h0M271.5 1081.1h0M225.8 1035.7h0M318.3 1056.3h0M351.6 956.7h0M335.5 1009.8h0M272.3 1056.4h0M336.7 1006.2h0M225.1 1026.6h0M351.3 908.3h0M301.9 1074.8h0M218.7 988.0h0M251.9 900.5h0M257.1 946.7h0M237.0 1066.8h0M333.6 1013.3h0M320.6 1047.4h0M251.7 1090.3h0M220.5 892.4h0M332.1 1020.9h0M213.4 1011.6h0M342.7 902.8h0M216.5 919.9h0M258.0 946.8h0M275.8 1032.4h0M307.1 874.3h0M335.2 879.5h0M218.2 912.0h0M357.7 892.5h0M223.1 891.9h0M310.1 1062.2h0M311.6 1059.7h0M293.5 1087.1h0M234.1 1051.0h0M302.6 877.3h0M317.2 1060.5h0M265.1 1073.6h0M239.1 862.9h0M291.0 911.1h0M296.7 839.0h0M200.7 948.7h0M228.2 1039.4h0M256.1 940.3h0M261.5 1013.2h0M280.6 986.8h0M310.0 1075.5h0M347.2 874.7h0M215.2 916.3h0M215.4 917.6h0M318.6 1057.0h0M238.9 869.1h0M312.5 869.5h0M350.3 885.8h0M248.6 893.7h0M275.4 1029.4h0M257.3 940.9h0M228.6 1050.4h0M320.9 872.8h0M341.2 889.0h0M283.7 953.5h0M343.9 983.3h0M279.8 992.0h0M356.0 957.0h0M282.0 1091.4h0M347.8 953.7h0M217.6 999.2h0M356.0 926.3h0M336.9 999.9h0M332.0 861.6h0M224.0 842.5h0M282.6 949.8h0M300.6 1084.2h0M296.2 890.0h0M301.6 1071.8h0M276.4 1011.2h0M211.6 1031.9h0M266.5 1091.5h0M324.5 865.5h0M344.3 970.5h0M232.8 1052.5h0M347.5 919.9h0M293.2 904.5h0M240.6 875.3h0M227.2 888.2h0M217.8 918.7h0M217.1 956.0h0M342.6 903.4h0M263.6 1065.8h0M219.6 884.1h0M218.1 910.6h0M281.6 956.3h0M259.7 979.6h0M347.3 979.6h0M219.2 1012.6h0M242.0 1094.0h0M237.9 875.7h0M261.4 1016.3h0M249.8 895.5h0M327.1 1040.2h0M216.5 899.3h0M284.1 1090.0h0M345.4 986.9h0M326.2 870.0h0M325.4 1040.1h0M255.5 922.4h0M351.0 919.9h0M223.6 1016.6h0M250.9 892.6h0M295.4 897.2h0M204.3 893.3h0M216.4 908.6h0M349.8 949.2h0M302.3 869.7h0M221.4 899.9h0M337.4 888.8h0M340.6 988.3h0M291.1 905.8h0M220.1 980.8h0M339.9 990.8h0M260.7 987.1h0M329.5 883.6h0M242.9 1080.9h0M266.8 1053.4h0M246.7 875.1h0M349.7 903.0h0M217.2 958.5h0M216.1 914.8h0M251.8 903.3h0M274.9 1027.9h0M347.9 968.1h0M219.8 1002.9h0M265.9 1038.2h0M256.1 1084.7h0M348.2 985.0h0M261.8 999.4h0M313.8 841.0h0M274.4 1043.3h0M211.3 985.3h0M263.6 1004.9h0M279.9 1002.1h0M306.6 870.5h0M240.7 1064.0h0M297.4 892.5h0M217.7 957.3h0M340.6 1007.5h0M252.2 900.1h0M280.6 958.9h0M250.8 890.8h0M281.3 1093.2h0M279.3 992.8h0M287.1 1092.7h0M355.6 964.9h0M207.5 1003.5h0M336.6 892.3h0M263.7 1029.3h0M251.2 905.4h0M326.2 1044.6h0M222.0 991.3h0M274.4 1038.6h0M277.0 1014.6h0M238.0 1068.4h0M237.5 1076.0h0M355.9 1036.8h0M220.8 969.5h0M181.0 943.2h0M259.8 1087.5h0M225.6 1062.5h0M346.8 956.2h0M240.2 1067.3h0M317.4 1050.8h0M252.0 898.4h0M219.7 1011.8h0M204.7 914.7h0M275.6 1022.5h0M234.7 879.0h0M250.8 899.6h0M274.3 1049.8h0M355.5 951.0h0M311.2 1063.3h0M345.3 991.7h0M278.3 1014.6h0M252.7 910.1h0M217.1 903.9h0M272.2 1068.5h0M277.8 1090.4h0M316.0 1053.5h0M250.1 897.5h0M218.0 936.6h0M274.7 1038.1h0M352.6 956.7h0M217.5 993.2h0M216.7 958.6h0M241.1 880.0h0M374.7 987.4h0M225.2 1019.0h0M340.5 1025.7h0M264.4 1050.9h0M345.8 978.8h0M215.3 965.7h0M221.1 905.8h0M361.4 949.0h0M339.8 892.3h0M333.1 879.7h0M328.1 871.1h0M298.5 1083.6h0M217.8 964.6h0M216.4 946.5h0M250.6 903.5h0M288.0 930.6h0M350.6 951.8h0M218.3 1006.2h0M254.4 909.3h0M330.2 869.3h0M338.3 998.5h0M277.9 1012.7h0M350.4 933.7h0M255.0 926.8h0M262.2 1017.8h0M313.8 1059.2h0M337.3 1000.7h0M222.2 991.9h0M343.2 980.5h0M276.1 1005.7h0M279.6 995.1h0M203.1 962.2h0M317.9 1061.8h0M303.3 873.5h0M225.4 887.6h0M221.6 1022.9h0M341.8 898.9h0M220.1 969.7h0M238.8 1057.6h0M341.7 900.8h0M253.2 1088.7h0M218.9 946.6h0M348.6 949.4h0M276.2 1024.2h0M217.6 911.3h0M334.1 877.1h0M272.9 1070.9h0M212.7 901.6h0M213.3 903.4h0M281.3 978.7h0M239.8 1066.7h0M209.5 919.0h0M263.7 998.9h0M244.5 881.9h0M241.7 840.2h0M213.9 923.9h0M216.5 894.5h0M291.9 906.7h0M219.4 869.4h0M352.6 968.3h0M239.0 1080.5h0M302.6 876.7h0M350.5 1022.5h0M313.4 1061.0h0M336.1 1018.0h0M274.3 1092.3h0M264.8 1022.8h0M216.8 1063.7h0M318.3 851.5h0M232.2 1050.8h0M276.0 1018.6h0M255.6 924.4h0M348.0 917.0h0M281.9 975.6h0M240.2 1062.5h0M349.7 858.3h0M335.2 1006.7h0M218.4 954.6h0M235.3 864.5h0M218.7 964.9h0M270.1 1073.0h0M217.2 871.0h0M298.3 836.3h0M347.7 969.3h0M263.0 1015.2h0M375.1 919.5h0M323.0 1079.6h0M323.5 857.0h0M221.1 969.7h0M333.0 887.2h0M245.1 1070.6h0M289.0 910.1h0M295.5 889.3h0M300.4 1075.8h0M258.1 937.9h0M226.9 878.2h0M241.9 1074.0h0M217.5 888.2h0M252.2 908.2h0M285.9 938.0h0M299.4 873.2h0M338.5 1036.3h0M228.4 1033.4h0M239.0 873.6h0M215.5 997.1h0M220.8 964.1h0M281.0 962.6h0M220.3 963.2h0M330.9 1082.3h0M316.9 1050.9h0M347.1 907.5h0M257.3 950.8h0M233.0 880.2h0M336.1 1000.7h0M338.7 1015.9h0M324.2 850.9h0M292.1 914.6h0M257.9 1088.0h0M348.6 965.8h0M297.6 1085.0h0M230.0 1040.9h0M252.3 1091.6h0M319.9 1050.4h0M339.3 995.8h0M225.4 888.7h0M260.3 975.0h0M352.8 966.8h0M223.6 1009.1h0M233.6 1047.7h0M218.7 923.3h0M223.0 997.5h0M349.3 935.9h0M219.1 972.7h0M265.3 1067.1h0M213.6 990.2h0M255.8 1086.2h0M350.4 950.0h0M220.6 973.9h0M270.6 1084.0h0M302.1 1077.7h0M250.4 1078.4h0M330.2 1024.1h0M272.3 1067.2h0M348.9 910.8h0M344.0 973.1h0M348.7 918.3h0M263.3 1031.0h0M357.2 952.1h0M250.1 1077.4h0M218.8 942.6h0M243.3 1074.2h0M238.4 1076.5h0M331.4 886.1h0M368.3 971.4h0M274.5 1021.6h0M270.6 1073.8h0M264.2 1017.5h0M349.0 958.9h0M219.7 909.7h0M276.4 1036.0h0M270.6 1059.3h0M276.6 1011.1h0M348.0 1015.2h0M277.6 1023.0h0M260.2 955.2h0M216.2 874.3h0M330.1 881.9h0M320.6 1053.0h0M266.1 1055.8h0M217.4 954.2h0M220.6 893.0h0M222.8 1037.9h0M218.4 902.7h0M298.8 864.4h0M269.2 1072.4h0M307.4 844.7h0M296.0 893.8h0M285.6 936.4h0M343.0 905.2h0M316.7 1074.8h0M334.3 1013.3h0M350.5 962.6h0M257.2 925.0h0M214.8 988.1h0M348.1 957.1h0M262.1 979.1h0M344.7 981.3h0M237.6 1064.7h0M300.8 1074.5h0M283.2 944.2h0M240.3 871.8h0M340.6 900.7h0M258.7 973.4h0M206.6 958.0h0M216.1 914.1h0M228.4 878.3h0M316.8 862.4h0M243.4 1069.0h0M218.3 943.6h0M268.0 1083.1h0M214.4 928.6h0M250.2 896.4h0M347.8 987.9h0M334.0 1017.1h0M319.1 1049.4h0M260.4 999.6h0M323.0 864.3h0M200.0 871.3h0M317.8 871.0h0M273.5 1046.2h0M351.4 962.8h0M220.1 909.1h0M222.5 883.6h0M220.7 984.6h0M293.2 1083.5h0M265.7 1090.1h0M220.7 892.8h0M216.4 903.0h0M333.3 883.3h0M280.5 971.1h0M248.4 1083.8h0M220.8 902.5h0M350.5 917.8h0M323.7 880.3h0M275.1 1021.2h0M261.8 1021.0h0M218.2 944.7h0M351.0 921.2h0M265.0 1059.4h0M276.1 1018.6h0M335.9 1004.4h0M262.1 1023.1h0M299.7 853.4h0M235.7 1069.8h0M344.1 970.6h0M271.9 1074.1h0M234.7 1053.5h0M216.2 969.5h0M314.8 1061.3h0M255.2 914.6h0M315.8 1066.2h0M254.6 919.5h0M345.9 903.8h0M243.8 873.7h0M338.1 999.8h0M245.6 1076.0h0M254.8 1082.3h0M304.6 874.6h0M341.9 885.3h0M281.5 977.2h0M351.7 954.2h0M368.2 943.6h0M243.3 1080.7h0M255.9 1084.6h0M323.4 880.1h0M213.4 981.3h0M236.1 1057.4h0M348.9 962.6h0M321.5 1041.6h0M272.9 1071.4h0M283.6 954.8h0M371.4 936.5h0M341.8 1008.1h0M312.5 873.3h0M279.3 991.8h0M219.6 965.9h0M254.1 906.6h0M224.3 1020.2h0M220.6 975.5h0M341.8 895.4h0M282.0 1088.5h0M341.5 993.4h0M217.5 950.5h0M272.3 1050.8h0M226.0 881.6h0M338.7 1014.5h0M216.5 956.9h0M244.2 1072.7h0M345.3 978.5h0M259.6 1093.0h0M217.8 924.0h0M243.6 1072.1h0M217.1 906.3h0M215.0 995.4h0M262.0 993.9h0M229.2 885.0h0M339.0 889.4h0M226.4 1025.9h0M347.4 920.8h0M246.8 1073.3h0M323.1 1039.6h0M309.3 868.9h0M213.2 939.7h0M224.3 1006.2h0M254.5 909.6h0M342.2 845.8h0M335.4 838.3h0M335.8 805.3h0M332.8 802.0h0M381.3 847.3h0M304.2 819.8h0M375.2 818.6h0M368.6 886.1h0M332.4 861.8h0M345.9 780.1h0M328.3 851.0h0M375.6 881.6h0M378.4 906.5h0M379.5 900.9h0M316.9 861.0h0M319.5 833.0h0M369.6 905.0h0M351.2 897.6h0M327.2 868.7h0M386.4 820.9h0M341.0 886.6h0M299.2 854.6h0M326.2 836.7h0M340.9 843.3h0M362.8 869.4h0M336.6 776.3h0M361.8 828.3h0M336.7 878.5h0M345.1 833.5h0M374.3 752.5h0M362.6 903.9h0M312.1 810.3h0M330.8 875.3h0M363.2 835.6h0M314.3 848.3h0M323.0 855.4h0M301.0 867.4h0M324.7 856.5h0M353.2 871.0h0M335.7 854.3h0M347.3 883.4h0M347.2 840.0h0M361.5 824.6h0M378.6 798.8h0M363.4 771.3h0M336.8 793.9h0M308.5 839.5h0M365.8 852.0h0M354.1 898.1h0M329.5 823.6h0M297.6 858.4h0M326.9 788.6h0M348.2 884.1h0M319.1 763.4h0M346.4 865.7h0M338.7 884.1h0M349.2 883.5h0M389.0 863.3h0M357.0 904.6h0M337.2 859.2h0M359.3 858.8h0M330.2 835.2h0M376.1 877.3h0M345.2 742.2h0M301.4 852.3h0M314.1 846.4h0M351.9 846.2h0M336.1 762.3h0M328.5 773.1h0M374.4 895.7h0M333.9 868.1h0M366.9 829.4h0M386.5 876.2h0M368.6 869.4h0M356.4 863.2h0M382.3 804.8h0M371.3 876.8h0M364.8 893.0h0M341.8 809.8h0M371.6 850.7h0M331.5 810.8h0M390.0 828.0h0M299.1 855.6h0M347.5 854.2h0M372.5 859.7h0M374.6 900.1h0M323.2 847.5h0M330.3 804.1h0M344.0 856.5h0M326.9 874.7h0M357.9 826.8h0M307.4 789.5h0M331.3 874.3h0M366.0 783.3h0M327.4 806.1h0M306.8 865.5h0M327.0 825.4h0M307.1 856.1h0M298.4 852.7h0M308.7 860.7h0M374.8 875.5h0M332.5 780.2h0M302.8 832.2h0M347.6 851.3h0M320.0 853.2h0M337.3 867.1h0M343.2 837.7h0M359.5 832.2h0M369.8 883.9h0M323.5 844.6h0M368.0 866.0h0M363.7 883.7h0M298.1 839.3h0M321.9 850.2h0M385.5 907.3h0M327.6 876.0h0M303.9 844.3h0M342.4 836.0h0M345.3 837.7h0M366.7 841.7h0M370.7 906.2h0M344.0 740.7h0M347.0 844.9h0M385.4 889.6h0M353.3 894.2h0M386.1 856.5h0M385.9 811.0h0M368.4 825.2h0M349.2 827.6h0M350.1 779.8h0M326.9 832.9h0M333.7 821.4h0M343.6 737.5h0M372.9 867.5h0M348.8 841.0h0M349.1 753.1h0M309.8 821.2h0M308.3 855.9h0M345.6 787.0h0M347.6 858.5h0M308.4 845.9h0M312.8 862.2h0M316.5 865.3h0M359.6 865.9h0M337.1 855.3h0M313.4 823.1h0M341.5 846.3h0M387.8 890.8h0M338.0 879.4h0M333.1 753.8h0M342.5 806.6h0M339.0 828.5h0M326.5 838.3h0M343.0 868.2h0M372.2 838.0h0M351.4 845.0h0M364.3 895.6h0M335.5 873.1h0M380.7 879.4h0M356.0 850.9h0M321.5 872.2h0M307.3 865.2h0M311.1 859.0h0M348.1 871.2h0M341.7 786.9h0M303.9 843.0h0M328.2 819.9h0M342.4 866.4h0M314.5 844.6h0M353.2 874.2h0M325.3 798.6h0M313.8 847.5h0M300.1 853.7h0M357.6 848.8h0M300.0 854.4h0M369.9 829.9h0M324.7 833.0h0M333.8 845.2h0M333.5 874.3h0M326.3 867.7h0M347.8 866.6h0M382.7 886.6h0M375.9 842.9h0M322.4 873.3h0M382.8 761.6h0M334.6 812.4h0M306.7 819.5h0M365.9 848.7h0M334.7 876.7h0M380.7 867.2h0M375.7 864.4h0M355.8 841.8h0M310.3 847.7h0M353.3 834.8h0M346.0 874.4h0M332.5 862.9h0M351.2 824.6h0M366.4 890.1h0M357.6 747.7h0M355.4 834.3h0M348.9 825.4h0M349.7 864.2h0M385.7 818.1h0M351.4 736.8h0M333.0 834.5h0M331.0 782.2h0M339.5 875.9h0M354.4 848.8h0M303.0 858.6h0M337.5 827.4h0M315.1 834.5h0M342.3 865.2h0M339.0 851.5h0M345.8 875.7h0M344.0 862.9h0M334.5 771.0h0M328.8 818.8h0M302.2 822.0h0M348.2 844.3h0M362.6 835.5h0M354.6 810.7h0M370.0 760.1h0M357.9 850.2h0M296.2 863.1h0M344.4 867.8h0M304.4 864.0h0M357.2 839.5h0M306.8 851.3h0M324.1 860.1h0M316.5 793.1h0M361.7 990.6h0M375.5 929.4h0M366.8 943.9h0M367.0 984.5h0M376.4 929.5h0M363.8 933.3h0M369.7 972.8h0M374.7 977.3h0M384.9 954.3h0M369.8 920.5h0M368.2 960.0h0M356.0 1017.9h0M378.2 959.3h0M365.6 927.5h0M389.2 912.7h0M360.6 934.9h0M364.8 1028.2h0M370.6 924.3h0M358.4 1032.1h0M371.0 1011.8h0M381.2 929.6h0M370.3 936.5h0M387.1 1008.6h0M367.9 1029.9h0M368.8 1007.4h0M373.3 1014.8h0M368.3 966.9h0M366.2 934.8h0M352.0 1013.5h0M365.9 971.3h0M359.5 931.3h0M362.5 961.7h0M365.2 1023.0h0M381.1 955.8h0M361.1 917.2h0M372.7 919.0h0M363.6 936.1h0M380.1 912.7h0M382.0 1007.0h0M369.1 973.8h0M389.1 1015.1h0M359.1 921.8h0M377.0 956.5h0M379.2 980.6h0M364.0 1024.7h0M369.6 983.1h0M367.0 1024.1h0M373.6 1021.8h0M361.7 1030.0h0M388.5 930.8h0M363.4 984.3h0M377.3 965.3h0M359.9 965.6h0M368.2 921.4h0M378.3 1048.0h0M383.8 993.6h0M383.9 1006.4h0M389.3 1014.2h0M363.7 953.3h0M359.9 994.1h0M377.7 979.5h0M362.3 979.9h0M354.5 1014.1h0M369.7 979.3h0M381.8 937.2h0M376.2 1014.6h0M360.3 930.0h0M361.8 1018.5h0M361.2 946.4h0M371.8 925.0h0M387.8 1040.8h0M375.5 987.2h0M388.6 1024.1h0M359.1 942.8h0M352.5 1021.3h0M362.5 951.5h0M375.5 967.1h0M360.2 961.8h0M378.9 1017.2h0M367.2 942.9h0M358.2 910.1h0M376.6 982.9h0M365.6 1039.3h0M371.8 942.4h0M358.8 1026.3h0M366.1 920.6h0M361.0 910.6h0M372.1 926.9h0M382.4 990.1h0M368.5 1006.9h0M370.0 918.8h0M362.1 1023.8h0M369.7 1020.4h0M366.8 1011.6h0M377.1 947.8h0M363.6 1043.1h0M373.0 937.2h0M359.5 983.3h0M368.7 919.9h0M361.8 999.2h0M175.6 942.7h0M209.9 1033.0h0M202.8 937.0h0M209.1 1019.5h0M206.8 944.8h0M188.3 941.3h0M186.2 998.2h0M188.2 985.9h0M205.5 986.4h0M203.7 1017.8h0M182.9 917.7h0M198.0 912.5h0M207.9 1013.7h0M204.3 943.9h0M177.7 957.0h0M198.3 945.5h0M208.3 999.0h0M223.3 1070.9h0M216.6 1070.6h0M193.8 989.9h0M193.6 1027.1h0M206.0 926.8h0M189.9 950.2h0M195.9 1005.5h0M175.8 930.1h0M204.4 936.6h0M201.1 984.8h0M212.7 1032.5h0M185.8 1008.5h0M192.9 996.7h0M200.1 1028.9h0M206.3 938.6h0M182.7 1029.6h0M213.3 1028.6h0M174.0 1003.4h0M199.2 996.6h0M209.6 905.3h0M203.5 997.4h0M181.4 1071.3h0M209.5 999.4h0M181.4 922.9h0M207.0 919.1h0M189.6 897.4h0M194.5 935.8h0M201.3 1021.0h0M201.7 924.8h0M200.7 963.3h0M185.7 1006.6h0M181.2 956.3h0M197.4 926.1h0M198.0 1033.4h0M200.5 898.7h0M199.2 976.0h0M201.5 910.5h0M194.7 941.6h0M207.6 1053.3h0M201.8 919.7h0M168.9 909.3h0M208.0 1077.5h0M206.0 914.9h0M203.7 1052.6h0M214.0 1029.1h0M208.9 1016.6h0M174.9 922.0h0M203.8 1020.1h0M205.8 1024.9h0M195.1 915.0h0M189.8 922.9h0M218.6 1055.7h0M205.4 974.8h0M206.5 1032.3h0M212.1 1028.9h0M216.2 1064.3h0M210.6 999.2h0M215.6 1034.9h0M214.8 1038.0h0M189.3 966.2h0M208.2 1005.1h0M199.9 904.3h0M187.2 904.7h0M194.1 898.2h0M198.0 1027.6h0M203.9 1075.0h0M193.0 946.0h0M209.1 1057.6h0M178.0 1025.1h0M212.8 1042.4h0M191.4 922.1h0M205.0 946.7h0M197.9 1078.1h0M210.1 1020.7h0M202.4 1021.0h0M204.1 958.3h0M202.4 990.0h0M191.6 1022.6h0M194.5 999.1h0M195.3 977.9h0M204.7 1037.1h0M192.3 1067.7h0M194.5 951.0h0M202.8 930.6h0M199.5 1006.4h0M198.6 1032.4h0M184.4 982.5h0M196.5 917.8h0M209.1 905.4h0M185.6 987.7h0M184.1 1039.2h0M210.6 900.4h0M188.6 912.6h0M209.9 1008.6h0M203.2 984.0h0M198.4 1044.9h0M199.6 950.8h0M199.5 1059.4h0M176.9 998.4h0M203.7 1043.1h0M200.7 1027.6h0M196.6 938.5h0M193.1 1026.0h0M175.7 1005.4h0M205.0 957.6h0M187.2 918.0h0M215.6 1067.2h0M198.6 953.6h0M199.8 941.0h0M186.9 1028.8h0M218.3 1048.0h0M178.6 943.5h0M176.1 987.4h0M188.7 917.4h0M205.0 1020.8h0M179.8 950.1h0M203.1 1002.6h0M196.8 918.2h0M173.5 1010.9h0M209.2 915.2h0M221.6 1068.1h0M209.5 981.6h0M206.3 956.7h0M207.8 919.9h0M193.1 977.5h0M205.6 1038.3h0M181.6 909.4h0M196.5 1005.3h0M199.7 983.8h0M206.9 969.1h0M202.6 1061.4h0M208.1 890.2h0M182.9 1062.7h0M193.8 1001.6h0M180.4 1066.3h0M171.8 916.7h0M205.1 1075.7h0M207.6 985.2h0M211.4 1017.5h0M188.2 965.4h0M187.2 974.0h0M198.9 903.2h0M202.7 932.5h0M206.8 943.3h0M198.5 976.0h0M196.3 1042.6h0M208.1 1026.7h0M204.0 1026.1h0M188.9 942.1h0M188.5 1075.5h0M195.1 1030.3h0M213.9 1028.0h0M200.5 1031.8h0M196.5 1051.8h0M192.5 993.7h0M185.6 916.2h0M201.0 1016.3h0M195.6 988.3h0M182.0 905.1h0M205.7 969.6h0M184.6 976.2h0M187.3 984.3h0M202.8 906.6h0M199.8 1000.4h0M175.2 1026.0h0M200.6 1020.2h0M179.1 1003.7h0M202.5 1067.6h0M177.0 1073.8h0M208.4 896.1h0M195.1 942.6h0M206.2 964.6h0M208.7 972.9h0M205.7 1074.5h0M208.6 1038.1h0M205.7 1060.8h0M193.2 897.5h0M217.0 1050.7h0M210.1 1053.4h0M200.2 967.9h0M200.3 1021.7h0M213.6 1049.5h0M214.4 1043.7h0M215.8 878.7h0M225.9 846.1h0M208.4 888.3h0M220.8 876.6h0M212.8 884.2h0M209.2 891.4h0M214.5 869.0h0M214.6 859.3h0M243.7 870.6h0M239.6 868.8h0M204.2 878.4h0M197.7 885.1h0M241.3 860.7h0M192.0 889.6h0M208.7 880.9h0M243.1 876.2h0M243.5 868.1h0M209.2 869.8h0M184.9 873.9h0M233.6 845.9h0M217.3 883.5h0M220.7 864.0h0M207.3 892.2h0M226.9 849.3h0M245.8 859.1h0M237.8 867.6h0M242.4 856.4h0M217.6 856.4h0M222.0 875.7h0M224.0 852.9h0M245.4 845.4h0M243.8 858.8h0M246.9 863.1h0M227.7 851.9h0M241.1 865.8h0M214.4 882.3h0M207.1 894.8h0M238.8 865.2h0M208.1 861.8h0M248.6 870.8h0M236.4 864.2h0M244.1 853.6h0M213.7 852.5h0M232.5 854.3h0M245.6 871.5h0M327.4 737.9h0M365.0 733.8h0M346.2 759.0h0M316.0 768.8h0M312.8 771.9h0M311.8 776.1h0M309.7 788.6h0M230.5 816.1h0M382.7 725.0h0M382.0 1051.9h0M334.7 1079.0h0" fill="none" stroke="#000" stroke-width="5.70" stroke-linecap="round"/>
<path d="M142.5 936.7h0M141.5 950.9h0M142.8 923.2h0M141.6 916.7h0M142.2 945.1h0M141.2 917.5h0M142.2 928.7h0M141.6 934.9h0M129.6 916.8h0M140.7 917.5h0M138.6 942.9h0M99.6 957.1h0M123.2 961.4h0M112.9 975.7h0M103.6 990.0h0M130.0 992.5h0M91.8 997.1h0M98.2 1000.0h0M130.0 1016.8h0M83.9 1021.4h0M125.7 1031.1h0M131.1 1037.9h0M85.7 1028.6h0M136.1 1050.7h0M104.3 1042.9h0M127.5 1048.2h0M127.5 1048.2h0" fill="none" stroke="#00f000" stroke-width="5.70" stroke-linecap="round"/>
<path d="M403.8 845.7h0M488.0 683.8h0M478.7 851.8h0M428.8 850.0h0M441.8 933.4h0M395.9 936.7h0M394.9 844.0h0M404.7 855.5h0M402.1 856.1h0M393.8 973.1h0M407.9 874.7h0M404.8 926.2h0M432.2 904.1h0M421.0 910.6h0M424.8 841.6h0M437.2 910.8h0M393.6 789.9h0M423.4 888.3h0M400.2 968.7h0M392.3 852.2h0M395.2 924.4h0M400.1 989.9h0M391.8 769.9h0M404.5 928.6h0M395.2 849.8h0M392.5 821.7h0M415.9 956.5h0M407.7 973.9h0M485.1 796.7h0M397.9 802.1h0M416.4 937.1h0M398.8 906.9h0M449.4 932.9h0M395.7 817.7h0M468.8 804.8h0M394.6 903.6h0M433.9 924.5h0M436.4 915.2h0M426.0 781.9h0M417.5 779.7h0M429.0 954.1h0M451.2 857.0h0M400.0 988.0h0M403.7 971.5h0M400.3 986.4h0M406.1 980.6h0M412.9 770.6h0M402.6 804.3h0M420.9 901.4h0M400.4 919.9h0M408.9 976.8h0M438.4 913.0h0M439.2 761.1h0M412.3 904.9h0M405.5 772.0h0M420.3 964.8h0M406.4 943.9h0M421.6 874.0h0M438.6 867.5h0M391.2 811.8h0M489.2 696.2h0M454.3 924.9h0M392.8 832.4h0M403.7 821.8h0M437.8 727.3h0M415.9 882.1h0M398.7 881.3h0M418.8 930.6h0M471.3 812.9h0M431.7 935.4h0M399.1 873.8h0M423.5 873.3h0M558.1 752.5h0M422.2 791.8h0M410.1 838.7h0M408.1 776.8h0M407.6 954.8h0M432.3 900.6h0M402.2 973.7h0M453.4 890.2h0M416.3 805.4h0M394.0 916.2h0M415.1 749.1h0M429.2 916.9h0M395.3 914.6h0M392.5 848.1h0M395.7 911.8h0M402.5 856.1h0M394.1 982.1h0M423.7 819.2h0M528.2 645.0h0M457.5 680.4h0M548.9 680.4h0M405.7 701.1h0M447.5 705.7h0M512.1 703.6h0M506.4 711.4h0M404.6 727.1h0M433.9 727.9h0M475.4 727.1h0M480.7 728.6h0M539.3 718.2h0M414.3 749.3h0M456.8 733.9h0M487.1 742.5h0M411.4 745.4h0M410.4 754.3h0M469.3 753.6h0M486.8 772.5h0M460.0 759.6h0M493.9 802.9h0M427.9 803.6h0M473.2 805.0h0M471.4 833.6h0M460.0 841.8h0M474.6 855.7h0M492.9 858.9h0M447.1 893.9h0M452.5 887.9h0M394.6 905.4h0M416.1 903.6h0M468.2 898.2h0M394.6 914.3h0M396.4 903.6h0M481.8 915.4h0M434.3 917.9h0M400.7 935.0h0M445.4 932.1h0M434.3 917.9h0M411.4 941.1h0M396.4 956.4h0M419.3 956.1h0M395.7 977.9h0M402.5 962.9h0M431.4 962.5h0M391.1 999.3h0M400.7 985.7h0M391.1 999.3h0M414.6 1001.1h0M431.4 1006.4h0" fill="none" stroke="#f00000" stroke-width="5.70" stroke-linecap="round"/>
<path d="M531.4 642.0L529.5 643.8M460.9 677.0L458.7 679.1M402.2 697.7L404.5 699.9M444.0 702.4L446.3 704.5M515.7 700.6L513.4 702.5M501.7 708.1L505.0 710.4M401.1 723.8L403.4 726.0M433.9 724.5L433.9 726.1M471.5 723.8L474.1 726.0M542.4 721.2L540.5 719.4M417.7 742.4L415.0 747.7M455.5 737.3L456.2 735.5M403.1 746.0L409.7 745.5M412.7 757.6L411.3 755.7M471.9 756.2L470.5 754.8M498.7 773.6L488.5 772.7M467.4 775.5L460.7 761.2M497.3 799.9L495.2 801.7M433.0 802.9L429.6 803.3M494.0 810.3L474.9 805.4M472.8 830.2L472.1 832.0M454.5 838.8L458.5 841.0M478.0 852.4L475.9 854.5M441.0 883.8L446.3 892.5M383.6 897.0L393.3 904.3M419.0 901.6L417.5 902.6M471.5 898.9L469.9 898.6M400.2 907.6L397.6 904.8M391.1 932.4L399.1 934.5M479.6 936.3L447.1 932.3M433.0 935.9L434.2 919.6M369.0 952.7L394.7 956.2M449.0 956.1L421.0 956.1M390.6 974.5L394.3 976.9M406.2 966.6L403.7 964.1M437.5 966.6L432.8 963.5M387.7 995.9L389.9 998.1M417.0 988.5L402.4 986.0M386.6 1002.6L389.7 1000.3M413.1 1004.4L413.9 1002.6M434.8 1009.8L432.6 1007.6M126.2 913.4L128.4 915.6M143.8 914.5L141.9 916.3M142.0 941.6L140.2 942.3M96.4 954.1L98.4 956.0M111.2 972.4L112.1 974.2M100.0 987.0L102.3 988.9M133.1 989.5L131.2 991.3M101.7 1000.5L99.9 1000.3M135.8 1014.7L131.6 1016.2M121.1 1027.7L124.3 1030.1M134.3 1034.5L132.3 1036.6M84.3 1032.6L85.1 1030.2M106.8 1049.8L104.9 1044.5M151.2 1056.6L129.1 1048.8M127.5 1068.0L127.5 1049.9" stroke="#000" stroke-width="1.05" fill="none"/>
<path d="M526.2 628.0h25.4a2.2 2.2 0 0 1 2.2 2.2v9.6a2.2 2.2 0 0 1 -2.2 2.2h-25.4a2.2 2.2 0 0 1 -2.2 -2.2v-9.6a2.2 2.2 0 0 1 2.2 -2.2zM455.3 663.0h25.1a2.2 2.2 0 0 1 2.2 2.2v9.6a2.2 2.2 0 0 1 -2.2 2.2h-25.1a2.2 2.2 0 0 1 -2.2 -2.2v-9.6a2.2 2.2 0 0 1 2.2 -2.2zM533.8 663.4h33.7a2.2 2.2 0 0 1 2.2 2.2v9.6a2.2 2.2 0 0 1 -2.2 2.2h-33.7a2.2 2.2 0 0 1 -2.2 -2.2v-9.6a2.2 2.2 0 0 1 2.2 -2.2zM379.9 683.7h30.1a2.2 2.2 0 0 1 2.2 2.2v9.6a2.2 2.2 0 0 1 -2.2 2.2h-30.1a2.2 2.2 0 0 1 -2.2 -2.2v-9.6a2.2 2.2 0 0 1 2.2 -2.2zM428.0 688.4h17.5a2.2 2.2 0 0 1 2.2 2.2v9.6a2.2 2.2 0 0 1 -2.2 2.2h-17.5a2.2 2.2 0 0 1 -2.2 -2.2v-9.6a2.2 2.2 0 0 1 2.2 -2.2zM510.9 686.6h26.2a2.2 2.2 0 0 1 2.2 2.2v9.6a2.2 2.2 0 0 1 -2.2 2.2h-26.2a2.2 2.2 0 0 1 -2.2 -2.2v-9.6a2.2 2.2 0 0 1 2.2 -2.2zM480.2 694.1h23.3a2.2 2.2 0 0 1 2.2 2.2v9.6a2.2 2.2 0 0 1 -2.2 2.2h-23.3a2.2 2.2 0 0 1 -2.2 -2.2v-9.6a2.2 2.2 0 0 1 2.2 -2.2zM381.8 709.8h23.6a2.2 2.2 0 0 1 2.2 2.2v9.6a2.2 2.2 0 0 1 -2.2 2.2h-23.6a2.2 2.2 0 0 1 -2.2 -2.2v-9.6a2.2 2.2 0 0 1 2.2 -2.2zM420.8 710.5h26.2a2.2 2.2 0 0 1 2.2 2.2v9.6a2.2 2.2 0 0 1 -2.2 2.2h-26.2a2.2 2.2 0 0 1 -2.2 -2.2v-9.6a2.2 2.2 0 0 1 2.2 -2.2zM454.8 709.8h17.5a2.2 2.2 0 0 1 2.2 2.2v9.6a2.2 2.2 0 0 1 -2.2 2.2h-17.5a2.2 2.2 0 0 1 -2.2 -2.2v-9.6a2.2 2.2 0 0 1 2.2 -2.2zM485.6 714.8h30.1a2.2 2.2 0 0 1 2.2 2.2v9.6a2.2 2.2 0 0 1 -2.2 2.2h-30.1a2.2 2.2 0 0 1 -2.2 -2.2v-9.6a2.2 2.2 0 0 1 2.2 -2.2zM533.9 721.2h31.6a2.2 2.2 0 0 1 2.2 2.2v9.6a2.2 2.2 0 0 1 -2.2 2.2h-31.6a2.2 2.2 0 0 1 -2.2 -2.2v-9.6a2.2 2.2 0 0 1 2.2 -2.2zM407.8 728.4h26.5a2.2 2.2 0 0 1 2.2 2.2v9.6a2.2 2.2 0 0 1 -2.2 2.2h-26.5a2.2 2.2 0 0 1 -2.2 -2.2v-9.6a2.2 2.2 0 0 1 2.2 -2.2zM440.7 737.3h24.3a2.2 2.2 0 0 1 2.2 2.2v9.6a2.2 2.2 0 0 1 -2.2 2.2h-24.3a2.2 2.2 0 0 1 -2.2 -2.2v-9.6a2.2 2.2 0 0 1 2.2 -2.2zM492.1 738.4h30.1a2.2 2.2 0 0 1 2.2 2.2v9.6a2.2 2.2 0 0 1 -2.2 2.2h-30.1a2.2 2.2 0 0 1 -2.2 -2.2v-9.6a2.2 2.2 0 0 1 2.2 -2.2zM375.5 740.1h25.4a2.2 2.2 0 0 1 2.2 2.2v9.6a2.2 2.2 0 0 1 -2.2 2.2h-25.4a2.2 2.2 0 0 1 -2.2 -2.2v-9.6a2.2 2.2 0 0 1 2.2 -2.2zM402.4 757.6h30.1a2.2 2.2 0 0 1 2.2 2.2v9.6a2.2 2.2 0 0 1 -2.2 2.2h-30.1a2.2 2.2 0 0 1 -2.2 -2.2v-9.6a2.2 2.2 0 0 1 2.2 -2.2zM463.9 756.2h30.1a2.2 2.2 0 0 1 2.2 2.2v9.6a2.2 2.2 0 0 1 -2.2 2.2h-30.1a2.2 2.2 0 0 1 -2.2 -2.2v-9.6a2.2 2.2 0 0 1 2.2 -2.2zM500.9 768.0h24.7a2.2 2.2 0 0 1 2.2 2.2v9.6a2.2 2.2 0 0 1 -2.2 2.2h-24.7a2.2 2.2 0 0 1 -2.2 -2.2v-9.6a2.2 2.2 0 0 1 2.2 -2.2zM455.6 775.5h30.1a2.2 2.2 0 0 1 2.2 2.2v9.6a2.2 2.2 0 0 1 -2.2 2.2h-30.1a2.2 2.2 0 0 1 -2.2 -2.2v-9.6a2.2 2.2 0 0 1 2.2 -2.2zM494.3 785.9h21.5a2.2 2.2 0 0 1 2.2 2.2v9.6a2.2 2.2 0 0 1 -2.2 2.2h-21.5a2.2 2.2 0 0 1 -2.2 -2.2v-9.6a2.2 2.2 0 0 1 2.2 -2.2zM435.2 793.4h33.3a2.2 2.2 0 0 1 2.2 2.2v9.6a2.2 2.2 0 0 1 -2.2 2.2h-33.3a2.2 2.2 0 0 1 -2.2 -2.2v-9.6a2.2 2.2 0 0 1 2.2 -2.2zM496.2 806.6h21.8a2.2 2.2 0 0 1 2.2 2.2v9.6a2.2 2.2 0 0 1 -2.2 2.2h-21.8a2.2 2.2 0 0 1 -2.2 -2.2v-9.6a2.2 2.2 0 0 1 2.2 -2.2zM462.6 816.2h26.2a2.2 2.2 0 0 1 2.2 2.2v9.6a2.2 2.2 0 0 1 -2.2 2.2h-26.2a2.2 2.2 0 0 1 -2.2 -2.2v-9.6a2.2 2.2 0 0 1 2.2 -2.2zM428.7 824.8h26.2a2.2 2.2 0 0 1 2.2 2.2v9.6a2.2 2.2 0 0 1 -2.2 2.2h-26.2a2.2 2.2 0 0 1 -2.2 -2.2v-9.6a2.2 2.2 0 0 1 2.2 -2.2zM473.0 838.4h24.0a2.2 2.2 0 0 1 2.2 2.2v9.6a2.2 2.2 0 0 1 -2.2 2.2h-24.0a2.2 2.2 0 0 1 -2.2 -2.2v-9.6a2.2 2.2 0 0 1 2.2 -2.2zM497.6 859.8h24.7a2.2 2.2 0 0 1 2.2 2.2v9.6a2.2 2.2 0 0 1 -2.2 2.2h-24.7a2.2 2.2 0 0 1 -2.2 -2.2v-9.6a2.2 2.2 0 0 1 2.2 -2.2zM423.7 869.8h26.2a2.2 2.2 0 0 1 2.2 2.2v9.6a2.2 2.2 0 0 1 -2.2 2.2h-26.2a2.2 2.2 0 0 1 -2.2 -2.2v-9.6a2.2 2.2 0 0 1 2.2 -2.2zM457.4 877.6h33.0a2.2 2.2 0 0 1 2.2 2.2v9.6a2.2 2.2 0 0 1 -2.2 2.2h-33.0a2.2 2.2 0 0 1 -2.2 -2.2v-9.6a2.2 2.2 0 0 1 2.2 -2.2zM359.2 883.0h30.1a2.2 2.2 0 0 1 2.2 2.2v9.6a2.2 2.2 0 0 1 -2.2 2.2h-30.1a2.2 2.2 0 0 1 -2.2 -2.2v-9.6a2.2 2.2 0 0 1 2.2 -2.2zM418.7 887.6h21.8a2.2 2.2 0 0 1 2.2 2.2v9.6a2.2 2.2 0 0 1 -2.2 2.2h-21.8a2.2 2.2 0 0 1 -2.2 -2.2v-9.6a2.2 2.2 0 0 1 2.2 -2.2zM473.7 895.5h28.3a2.2 2.2 0 0 1 2.2 2.2v9.6a2.2 2.2 0 0 1 -2.2 2.2h-28.3a2.2 2.2 0 0 1 -2.2 -2.2v-9.6a2.2 2.2 0 0 1 2.2 -2.2zM367.5 903.7h22.1a2.2 2.2 0 0 1 2.2 2.2v9.6a2.2 2.2 0 0 1 -2.2 2.2h-22.1a2.2 2.2 0 0 1 -2.2 -2.2v-9.6a2.2 2.2 0 0 1 2.2 -2.2zM396.8 907.6h19.9a2.2 2.2 0 0 1 2.2 2.2v9.6a2.2 2.2 0 0 1 -2.2 2.2h-19.9a2.2 2.2 0 0 1 -2.2 -2.2v-9.6a2.2 2.2 0 0 1 2.2 -2.2zM486.9 913.4h24.0a2.2 2.2 0 0 1 2.2 2.2v9.6a2.2 2.2 0 0 1 -2.2 2.2h-24.0a2.2 2.2 0 0 1 -2.2 -2.2v-9.6a2.2 2.2 0 0 1 2.2 -2.2zM437.8 915.1h36.6a2.2 2.2 0 0 1 2.2 2.2v9.6a2.2 2.2 0 0 1 -2.2 2.2h-36.6a2.2 2.2 0 0 1 -2.2 -2.2v-9.6a2.2 2.2 0 0 1 2.2 -2.2zM366.1 921.6h22.9a2.2 2.2 0 0 1 2.2 2.2v9.6a2.2 2.2 0 0 1 -2.2 2.2h-22.9a2.2 2.2 0 0 1 -2.2 -2.2v-9.6a2.2 2.2 0 0 1 2.2 -2.2zM481.8 930.9h22.2a2.2 2.2 0 0 1 2.2 2.2v9.6a2.2 2.2 0 0 1 -2.2 2.2h-22.2a2.2 2.2 0 0 1 -2.2 -2.2v-9.6a2.2 2.2 0 0 1 2.2 -2.2zM421.2 935.9h22.5a2.2 2.2 0 0 1 2.2 2.2v9.6a2.2 2.2 0 0 1 -2.2 2.2h-22.5a2.2 2.2 0 0 1 -2.2 -2.2v-9.6a2.2 2.2 0 0 1 2.2 -2.2zM374.4 938.7h31.9a2.2 2.2 0 0 1 2.2 2.2v9.6a2.2 2.2 0 0 1 -2.2 2.2h-31.9a2.2 2.2 0 0 1 -2.2 -2.2v-9.6a2.2 2.2 0 0 1 2.2 -2.2zM337.4 943.4h29.4a2.2 2.2 0 0 1 2.2 2.2v9.6a2.2 2.2 0 0 1 -2.2 2.2h-29.4a2.2 2.2 0 0 1 -2.2 -2.2v-9.6a2.2 2.2 0 0 1 2.2 -2.2zM451.2 949.1h27.6a2.2 2.2 0 0 1 2.2 2.2v9.6a2.2 2.2 0 0 1 -2.2 2.2h-27.6a2.2 2.2 0 0 1 -2.2 -2.2v-9.6a2.2 2.2 0 0 1 2.2 -2.2zM366.9 960.5h26.2a2.2 2.2 0 0 1 2.2 2.2v9.6a2.2 2.2 0 0 1 -2.2 2.2h-26.2a2.2 2.2 0 0 1 -2.2 -2.2v-9.6a2.2 2.2 0 0 1 2.2 -2.2zM400.5 966.6h25.4a2.2 2.2 0 0 1 2.2 2.2v9.6a2.2 2.2 0 0 1 -2.2 2.2h-25.4a2.2 2.2 0 0 1 -2.2 -2.2v-9.6a2.2 2.2 0 0 1 2.2 -2.2zM434.1 966.6h27.6a2.2 2.2 0 0 1 2.2 2.2v9.6a2.2 2.2 0 0 1 -2.2 2.2h-27.6a2.2 2.2 0 0 1 -2.2 -2.2v-9.6a2.2 2.2 0 0 1 2.2 -2.2zM368.0 981.9h25.4a2.2 2.2 0 0 1 2.2 2.2v9.6a2.2 2.2 0 0 1 -2.2 2.2h-25.4a2.2 2.2 0 0 1 -2.2 -2.2v-9.6a2.2 2.2 0 0 1 2.2 -2.2zM419.2 984.4h30.1a2.2 2.2 0 0 1 2.2 2.2v9.6a2.2 2.2 0 0 1 -2.2 2.2h-30.1a2.2 2.2 0 0 1 -2.2 -2.2v-9.6a2.2 2.2 0 0 1 2.2 -2.2zM362.1 1002.6h30.1a2.2 2.2 0 0 1 2.2 2.2v9.6a2.2 2.2 0 0 1 -2.2 2.2h-30.1a2.2 2.2 0 0 1 -2.2 -2.2v-9.6a2.2 2.2 0 0 1 2.2 -2.2zM399.6 1004.4h20.7a2.2 2.2 0 0 1 2.2 2.2v9.6a2.2 2.2 0 0 1 -2.2 2.2h-20.7a2.2 2.2 0 0 1 -2.2 -2.2v-9.6a2.2 2.2 0 0 1 2.2 -2.2zM428.4 1009.8h26.9a2.2 2.2 0 0 1 2.2 2.2v9.6a2.2 2.2 0 0 1 -2.2 2.2h-26.9a2.2 2.2 0 0 1 -2.2 -2.2v-9.6a2.2 2.2 0 0 1 2.2 -2.2zM105.1 899.4h27.6a2.2 2.2 0 0 1 2.2 2.2v9.6a2.2 2.2 0 0 1 -2.2 2.2h-27.6a2.2 2.2 0 0 1 -2.2 -2.2v-9.6a2.2 2.2 0 0 1 2.2 -2.2zM140.3 900.5h21.5a2.2 2.2 0 0 1 2.2 2.2v9.6a2.2 2.2 0 0 1 -2.2 2.2h-21.5a2.2 2.2 0 0 1 -2.2 -2.2v-9.6a2.2 2.2 0 0 1 2.2 -2.2zM144.2 928.7h29.4a2.2 2.2 0 0 1 2.2 2.2v9.6a2.2 2.2 0 0 1 -2.2 2.2h-29.4a2.2 2.2 0 0 1 -2.2 -2.2v-9.6a2.2 2.2 0 0 1 2.2 -2.2zM76.8 940.1h24.3a2.2 2.2 0 0 1 2.2 2.2v9.6a2.2 2.2 0 0 1 -2.2 2.2h-24.3a2.2 2.2 0 0 1 -2.2 -2.2v-9.6a2.2 2.2 0 0 1 2.2 -2.2zM118.0 946.6h25.4a2.2 2.2 0 0 1 2.2 2.2v9.6a2.2 2.2 0 0 1 -2.2 2.2h-25.4a2.2 2.2 0 0 1 -2.2 -2.2v-9.6a2.2 2.2 0 0 1 2.2 -2.2zM95.6 958.4h24.6a2.2 2.2 0 0 1 2.2 2.2v9.6a2.2 2.2 0 0 1 -2.2 2.2h-24.6a2.2 2.2 0 0 1 -2.2 -2.2v-9.6a2.2 2.2 0 0 1 2.2 -2.2zM83.0 973.0h17.5a2.2 2.2 0 0 1 2.2 2.2v9.6a2.2 2.2 0 0 1 -2.2 2.2h-17.5a2.2 2.2 0 0 1 -2.2 -2.2v-9.6a2.2 2.2 0 0 1 2.2 -2.2zM131.1 975.5h18.6a2.2 2.2 0 0 1 2.2 2.2v9.6a2.2 2.2 0 0 1 -2.2 2.2h-18.6a2.2 2.2 0 0 1 -2.2 -2.2v-9.6a2.2 2.2 0 0 1 2.2 -2.2zM64.1 988.7h22.5a2.2 2.2 0 0 1 2.2 2.2v9.6a2.2 2.2 0 0 1 -2.2 2.2h-22.5a2.2 2.2 0 0 1 -2.2 -2.2v-9.6a2.2 2.2 0 0 1 2.2 -2.2zM103.9 995.9h27.2a2.2 2.2 0 0 1 2.2 2.2v9.6a2.2 2.2 0 0 1 -2.2 2.2h-27.2a2.2 2.2 0 0 1 -2.2 -2.2v-9.6a2.2 2.2 0 0 1 2.2 -2.2zM138.0 1003.0h21.1a2.2 2.2 0 0 1 2.2 2.2v9.6a2.2 2.2 0 0 1 -2.2 2.2h-21.1a2.2 2.2 0 0 1 -2.2 -2.2v-9.6a2.2 2.2 0 0 1 2.2 -2.2zM64.3 1005.9h22.2a2.2 2.2 0 0 1 2.2 2.2v9.6a2.2 2.2 0 0 1 -2.2 2.2h-22.2a2.2 2.2 0 0 1 -2.2 -2.2v-9.6a2.2 2.2 0 0 1 2.2 -2.2zM98.5 1013.7h25.8a2.2 2.2 0 0 1 2.2 2.2v9.6a2.2 2.2 0 0 1 -2.2 2.2h-25.8a2.2 2.2 0 0 1 -2.2 -2.2v-9.6a2.2 2.2 0 0 1 2.2 -2.2zM132.0 1020.5h18.2a2.2 2.2 0 0 1 2.2 2.2v9.6a2.2 2.2 0 0 1 -2.2 2.2h-18.2a2.2 2.2 0 0 1 -2.2 -2.2v-9.6a2.2 2.2 0 0 1 2.2 -2.2zM64.4 1032.6h34.8a2.2 2.2 0 0 1 2.2 2.2v9.6a2.2 2.2 0 0 1 -2.2 2.2h-34.8a2.2 2.2 0 0 1 -2.2 -2.2v-9.6a2.2 2.2 0 0 1 2.2 -2.2zM141.1 1038.7h22.2a2.2 2.2 0 0 1 2.2 2.2v9.6a2.2 2.2 0 0 1 -2.2 2.2h-22.2a2.2 2.2 0 0 1 -2.2 -2.2v-9.6a2.2 2.2 0 0 1 2.2 -2.2zM97.7 1049.8h23.3a2.2 2.2 0 0 1 2.2 2.2v9.6a2.2 2.2 0 0 1 -2.2 2.2h-23.3a2.2 2.2 0 0 1 -2.2 -2.2v-9.6a2.2 2.2 0 0 1 2.2 -2.2zM152.8 1056.6h36.6a2.2 2.2 0 0 1 2.2 2.2v9.6a2.2 2.2 0 0 1 -2.2 2.2h-36.6a2.2 2.2 0 0 1 -2.2 -2.2v-9.6a2.2 2.2 0 0 1 2.2 -2.2zM109.2 1068.0h36.6a2.2 2.2 0 0 1 2.2 2.2v9.6a2.2 2.2 0 0 1 -2.2 2.2h-36.6a2.2 2.2 0 0 1 -2.2 -2.2v-9.6a2.2 2.2 0 0 1 2.2 -2.2z" stroke="#111" stroke-width="1.05" fill="#fff"/>
<g font-size="6.50" text-anchor="middle" fill="#1a1a1a"><text x="538.9" y="637.2">SULF1</text><text x="467.9" y="672.2">INHBA</text><text x="550.7" y="672.6">COL10A1</text><text x="395.0" y="693.0">COL8A1</text><text x="436.8" y="697.6">FN1</text><text x="523.9" y="695.8">THBS2</text><text x="491.8" y="703.3">VCAN</text><text x="393.6" y="719.0">CAPG</text><text x="433.9" y="719.8">AEBP1</text><text x="463.6" y="719.0">FAP</text><text x="500.7" y="724.0">COL1A2</text><text x="549.6" y="730.5">CTHRC1</text><text x="421.1" y="737.6">DACT1</text><text x="452.9" y="746.5">TIMP1</text><text x="507.1" y="747.6">COL5A2</text><text x="388.2" y="749.4">LOXL1</text><text x="417.5" y="766.9">COL1A1</text><text x="478.9" y="765.5">COL5A1</text><text x="513.2" y="777.2">COMP</text><text x="470.7" y="784.8">COL3A1</text><text x="505.0" y="795.1">GJB2</text><text x="451.8" y="802.6">COL11A1</text><text x="507.1" y="815.8">CST1</text><text x="475.7" y="825.5">SFRP4</text><text x="441.8" y="834.0">SFRP2</text><text x="485.0" y="847.6">MMP7</text><text x="510.0" y="869.0">S100P</text><text x="436.8" y="879.0">CXCL8</text><text x="473.9" y="886.9">SLC6A14</text><text x="374.3" y="892.2">CYP1B1</text><text x="429.6" y="896.9">LCN2</text><text x="487.9" y="904.8">GREM1</text><text x="378.6" y="913.0">CSTA</text><text x="406.8" y="916.9">LY96</text><text x="498.9" y="922.6">MMP1</text><text x="456.1" y="924.4">CEACAM6</text><text x="377.5" y="930.8">TMC5</text><text x="492.9" y="940.1">TCN1</text><text x="432.5" y="945.1">CTSE</text><text x="390.4" y="948.0">C19orf33</text><text x="352.1" y="952.6">BCL2A1</text><text x="465.0" y="958.3">DUOX2</text><text x="380.0" y="969.8">CXCL6</text><text x="413.2" y="975.8">CCL20</text><text x="447.9" y="975.8">MMP12</text><text x="380.7" y="991.2">CCL19</text><text x="434.3" y="993.7">CLDN18</text><text x="377.1" y="1011.9">ANXA10</text><text x="410.0" y="1013.7">TFF1</text><text x="441.8" y="1019.0">OLFM4</text><text x="118.9" y="908.7">TRHDE</text><text x="151.1" y="909.8">ZG16</text><text x="158.9" y="938.0">RNF186</text><text x="88.9" y="949.4">GNMT</text><text x="130.7" y="955.8">RBPJL</text><text x="107.9" y="967.6">TEX11</text><text x="91.8" y="982.2">ALB</text><text x="140.4" y="984.8">EGF</text><text x="75.4" y="998.0">AQP8</text><text x="117.5" y="1005.1">TMED6</text><text x="148.6" y="1012.2">KLK1</text><text x="75.4" y="1015.1">CTRL</text><text x="111.4" y="1023.0">ERP27</text><text x="141.1" y="1029.8">GP2</text><text x="81.8" y="1041.9">SERPINI2</text><text x="152.1" y="1048.0">CELP</text><text x="109.3" y="1059.0">SYCN</text><text x="171.1" y="1065.8">PNLIPRP1</text><text x="127.5" y="1077.2">PNLIPRP2</text></g>
<rect x="60.7" y="622.9" width="511.1" height="493.4" fill="none" stroke="#555" stroke-width="1.3"/>
<path d="M145.7 1116.3v3.3M268.2 1116.3v3.3M390.7 1116.3v3.3M513.2 1116.3v3.3M60.7 1094.3h-3.3M60.7 977.8h-3.3M60.7 861.3h-3.3M60.7 744.8h-3.3M60.7 628.3h-3.3" stroke="#222" stroke-width="1.5" fill="none"/>
<g font-size="11.7" fill="#4d4d4d"><text x="145.7" y="1131.1" text-anchor="middle">−2</text><text x="268.2" y="1131.1" text-anchor="middle">0</text><text x="390.7" y="1131.1" text-anchor="middle">2</text><text x="513.2" y="1131.1" text-anchor="middle">4</text><text x="54.3" y="1097.8" text-anchor="end">0</text><text x="54.3" y="981.3" text-anchor="end">5</text><text x="54.3" y="864.8" text-anchor="end">10</text><text x="54.3" y="748.3" text-anchor="end">15</text><text x="54.3" y="631.8" text-anchor="end">20</text></g>
<text x="316.2" y="1147.3" font-size="14.6" text-anchor="middle">logFC</text>
<text transform="translate(34.2 869.6) rotate(-90)" font-size="14.6" text-anchor="middle">−log10(adj.P.Val)</text>
<text x="593.8" y="837.8" font-size="14.6">Sig</text>
<circle cx="604.3" cy="857.7" r="2.95" fill="#00f000"/>
<text x="623.3" y="861.9" font-size="11.7">Down</text>
<circle cx="604.3" cy="880.0" r="2.95" fill="#000"/>
<text x="623.3" y="884.2" font-size="11.7">Not</text>
<circle cx="604.3" cy="902.2" r="2.95" fill="#f00000"/>
<text x="623.3" y="906.4" font-size="11.7">Up</text>
</g>
<g id="volB">
<rect x="728.2" y="622.9" width="501.1" height="493.4" fill="#fff"/>
<path d="M774.5 622.9V1116.3M882.7 622.9V1116.3M990.9 622.9V1116.3M1099.1 622.9V1116.3M1207.3 622.9V1116.3M728.2 1036.4H1229.3M728.2 920.7H1229.3M728.2 804.9H1229.3M728.2 689.2H1229.3" stroke="#ebebeb" stroke-width="0.6" fill="none"/>
<path d="M828.6 622.9V1116.3M936.8 622.9V1116.3M1045.0 622.9V1116.3M1153.2 622.9V1116.3M728.2 1094.3H1229.3M728.2 978.5H1229.3M728.2 862.8H1229.3M728.2 747.0H1229.3M728.2 631.3H1229.3" stroke="#ebebeb" stroke-width="1.2" fill="none"/>
<path d="M936.9 1095.3 L944.7 1093.4 L955.7 1086.5 L966.8 1073.9 L975.3 1059.9 L982.3 1045.7 L989.4 1028.8 L996.5 1007.6 L1000.7 986.3 L1003.6 965.0 L1003.6 964.8 L1009.3 943.6 L1010.7 922.6 L1006.5 904.8 L997.0 895.3 L983.2 888.4 L969.6 885.7 L963.4 888.1 L958.1 898.9 L953.8 915.7 L949.6 937.0 L946.8 958.3 L946.7 958.4 L942.5 979.7 L939.6 1001.0 L938.9 1009.5 L938.9 1009.6 L938.9 1009.8 L938.8 1009.9 L938.8 1010.0 L938.7 1010.2 L938.6 1010.3 L938.5 1010.4 L938.4 1010.5 L938.3 1010.6 L938.2 1010.7 L938.0 1010.7 L937.9 1010.8 L937.8 1010.8 L937.6 1010.8 L937.5 1010.9 L937.3 1010.9 L937.2 1010.8 L937.1 1010.8 L936.9 1010.8 L936.8 1010.7 L936.7 1010.6 L936.5 1010.6 L936.4 1010.5 L936.3 1010.4 L936.2 1010.2 L936.1 1010.1 L936.1 1010.0 L936.0 1009.9 L936.0 1009.7 L936.0 1009.6 L935.9 1009.4 L935.5 1000.9 L935.5 1000.9 L934.5 979.6 L933.1 958.2 L931.0 936.9 L928.1 915.7 L923.9 898.9 L918.6 888.3 L912.8 887.1 L906.6 890.8 L901.2 901.6 L898.4 918.5 L895.5 938.4 L892.7 958.3 L891.3 979.5 L892.7 1000.7 L895.5 1020.5 L899.7 1040.3 L906.8 1060.0 L915.2 1076.8 L926.3 1089.3 z" fill="#000"/>
<path d="M959.7 899.9h0M981.4 1049.3h0M1002.1 983.9h0M900.8 1056.8h0M917.5 872.8h0M908.9 885.8h0M898.2 900.9h0M998.5 1039.8h0M898.4 927.1h0M1011.5 1016.7h0M931.9 1090.3h0M1005.3 954.7h0M896.6 930.1h0M977.8 872.9h0M948.8 959.2h0M978.2 883.5h0M1008.4 923.0h0M929.6 945.8h0M885.8 942.2h0M905.1 1085.9h0M933.5 966.6h0M893.1 1029.7h0M906.2 1061.3h0M983.5 1060.7h0M890.9 993.8h0M893.7 935.8h0M964.4 872.5h0M902.5 1043.6h0M934.5 991.8h0M989.9 874.8h0M892.6 969.2h0M932.4 985.0h0M906.8 1080.3h0M945.8 970.0h0M946.9 959.5h0M894.7 954.8h0M982.4 1048.2h0M928.7 929.8h0M988.6 874.5h0M946.1 1094.0h0M942.1 991.9h0M1015.3 943.5h0M965.3 888.5h0M975.2 885.8h0M991.9 1013.8h0M967.6 886.3h0M894.3 965.0h0M898.8 1033.8h0M904.4 870.6h0M904.5 1056.5h0M961.7 1081.6h0M892.4 1009.9h0M878.5 1060.4h0M956.8 1082.3h0M868.3 956.6h0M885.8 932.0h0M983.6 1040.6h0M929.4 928.1h0M899.0 894.9h0M909.7 1063.6h0M999.0 1015.3h0M890.9 987.6h0M985.0 887.4h0M924.8 897.1h0M933.2 972.6h0M989.0 890.1h0M995.3 1015.1h0M951.4 939.5h0M935.4 998.1h0M948.1 954.1h0M1012.9 926.7h0M888.5 984.3h0M913.4 886.6h0M891.2 914.4h0M1002.6 967.8h0M890.5 880.2h0M891.4 991.0h0M919.0 1083.4h0M1014.2 937.8h0M906.5 1052.8h0M980.2 1045.3h0M895.1 1010.6h0M897.0 936.6h0M1006.2 913.3h0M941.9 977.8h0M924.5 904.3h0M1008.0 921.7h0M894.9 940.5h0M953.4 925.5h0M917.1 884.5h0M978.8 853.4h0M984.5 885.9h0M997.9 878.8h0M863.0 963.0h0M997.7 1002.5h0M1004.1 964.1h0M955.9 912.3h0M924.9 1086.4h0M901.1 1040.2h0M931.3 954.3h0M971.5 880.5h0M919.4 1081.6h0M933.0 976.1h0M1009.3 925.1h0M1011.4 930.7h0M934.1 997.1h0M942.5 995.4h0M976.4 1059.2h0M990.5 857.1h0M1007.1 987.1h0M1007.1 894.7h0M955.5 914.6h0M957.9 1085.1h0M1004.7 952.2h0M961.7 891.6h0M994.4 1016.6h0M895.8 1010.0h0M918.2 1077.6h0M933.8 964.7h0M979.4 1058.2h0M1018.5 927.3h0M904.8 899.2h0M998.3 988.6h0M978.3 1055.9h0M893.8 994.1h0M887.5 946.6h0M891.5 1003.4h0M918.3 889.4h0M1009.8 918.8h0M909.4 1079.6h0M978.1 1049.9h0M908.0 1080.9h0M1015.2 900.0h0M980.9 886.5h0M923.3 897.2h0M919.9 1082.1h0M930.7 958.5h0M890.6 962.0h0M889.8 949.6h0M950.2 1091.9h0M961.5 1084.8h0M910.7 1069.5h0M954.2 915.8h0M970.0 1084.8h0M1012.3 917.6h0M1007.0 1000.8h0M891.1 965.9h0M981.7 879.2h0M888.6 933.2h0M1012.2 943.9h0M896.5 936.3h0M913.1 1073.6h0M897.5 1048.8h0M907.9 1084.9h0M934.6 960.8h0M897.3 933.9h0M895.1 940.9h0M996.0 1049.8h0M892.0 975.8h0M991.2 1039.1h0M894.2 991.6h0M1008.5 900.4h0M954.3 912.5h0M973.7 1060.3h0M896.6 943.6h0M1007.5 963.5h0M886.7 955.8h0M1003.3 980.2h0M1011.7 939.8h0M899.7 1050.9h0M877.6 987.3h0M990.5 1027.9h0M962.5 887.8h0M900.0 915.7h0M926.4 917.0h0M934.1 979.0h0M893.7 951.0h0M894.7 994.2h0M906.9 895.6h0M1005.1 901.0h0M933.7 990.8h0M1000.6 989.1h0M882.6 903.0h0M943.0 989.5h0M897.2 1033.3h0M945.1 964.1h0M903.7 898.8h0M895.4 911.5h0M959.3 896.9h0M893.4 972.4h0M896.6 946.3h0M989.8 1030.8h0M1002.4 1013.3h0M1002.4 982.3h0M939.5 1003.8h0M1007.1 953.0h0M895.6 922.6h0M933.9 963.5h0M935.4 990.9h0M907.7 1070.7h0M968.5 888.3h0M894.1 903.1h0M1010.1 931.3h0M924.9 907.7h0M897.1 1040.6h0M968.5 1070.9h0M900.4 920.2h0M923.1 1089.5h0M1002.3 969.5h0M976.5 1059.9h0M892.4 998.0h0M928.7 939.1h0M967.6 887.1h0M1004.8 969.3h0M984.8 868.5h0M1014.1 989.1h0M895.1 1028.9h0M1003.9 895.7h0M1012.6 940.0h0M913.0 1070.6h0M967.9 1067.5h0M997.7 1011.3h0M1004.0 979.4h0M971.6 1066.1h0M911.2 890.9h0M1001.9 966.9h0M1009.9 950.7h0M900.6 1050.0h0M1002.7 975.3h0M892.2 992.5h0M892.1 972.5h0M971.5 1083.3h0M933.7 968.8h0M957.0 1088.7h0M884.6 968.4h0M999.1 990.8h0M919.4 894.9h0M973.1 1075.3h0M887.8 981.5h0M1012.7 999.9h0M966.7 878.0h0M909.0 1070.2h0M930.9 940.6h0M986.4 892.5h0M994.3 896.3h0M895.8 1011.3h0M917.9 880.9h0M891.5 947.1h0M905.4 1053.9h0M966.1 1082.1h0M998.3 897.9h0M1007.5 938.4h0M941.3 1009.7h0M975.0 874.3h0M967.7 1075.3h0M965.4 887.0h0M943.1 973.9h0M1011.6 903.0h0M908.9 887.1h0M940.6 1009.2h0M999.9 994.6h0M891.9 981.0h0M899.3 1032.2h0M892.5 1051.5h0M913.4 1079.7h0M964.5 1076.5h0M949.7 1088.3h0M985.6 1051.1h0M967.8 1071.6h0M912.4 880.6h0M970.5 1070.1h0M1003.2 903.1h0M939.3 1092.2h0M917.4 878.7h0M1005.3 899.2h0M986.7 1034.3h0M987.8 891.9h0M896.9 1027.2h0M940.7 1001.7h0M943.7 1092.8h0M950.4 949.0h0M893.7 951.2h0M1008.7 935.4h0M1009.6 917.4h0M903.4 1066.4h0M933.4 988.9h0M1002.9 897.3h0M998.5 991.6h0M931.4 944.3h0M989.5 1031.2h0M923.4 899.0h0M1019.7 925.8h0M892.3 966.0h0M892.4 943.5h0M946.1 960.7h0M897.0 930.0h0M889.5 965.4h0M948.0 959.2h0M900.9 913.3h0M948.7 941.4h0M931.1 946.4h0M954.0 919.5h0M967.3 1069.7h0M943.1 975.1h0M893.9 939.9h0M948.4 952.0h0M977.0 881.7h0M890.2 967.2h0M950.0 1091.0h0M900.6 1034.2h0M935.2 977.1h0M962.6 1086.1h0M1020.5 960.0h0M931.4 940.4h0M931.7 1093.0h0M882.7 1000.1h0M919.3 855.0h0M938.7 1092.8h0M1009.9 938.3h0M892.0 977.5h0M902.9 1057.2h0M941.4 1001.7h0M1019.4 924.4h0M952.0 1087.9h0M893.4 942.8h0M957.0 902.9h0M896.7 901.2h0M1008.8 915.8h0M896.3 920.1h0M975.5 1060.6h0M978.5 880.8h0M892.3 932.9h0M934.5 959.3h0M899.7 1035.2h0M951.4 1091.4h0M902.8 904.4h0M905.1 863.4h0M899.5 900.5h0M1000.8 1001.4h0M1003.4 902.5h0M914.9 887.0h0M888.3 1047.9h0M892.8 963.2h0M1002.3 891.5h0M933.1 951.8h0M1007.3 938.0h0M978.3 1057.7h0M998.7 879.1h0M955.7 1085.5h0M933.4 1008.9h0M987.0 884.5h0M1010.6 931.4h0M951.8 1090.0h0M887.1 1001.7h0M927.2 920.2h0M986.2 1035.3h0M924.6 1086.5h0M948.0 943.4h0M994.8 1024.8h0M934.9 977.7h0M923.8 898.0h0M882.8 983.8h0M1005.7 978.1h0M940.3 995.5h0M970.5 884.6h0M1009.5 941.9h0M1001.9 902.8h0M956.2 910.0h0M884.4 920.2h0M1005.2 904.3h0M1000.5 983.1h0M1005.1 972.5h0M895.9 936.7h0M994.9 895.3h0M997.4 992.0h0M897.5 892.4h0M970.2 885.6h0M1010.3 928.2h0M1014.8 933.8h0M1009.9 930.1h0M962.3 895.9h0M1016.3 982.5h0M899.0 1027.1h0M906.9 888.4h0M898.0 1038.9h0M901.3 1073.9h0M928.2 911.1h0M888.5 947.7h0M987.9 1030.2h0M887.0 928.1h0M912.8 1066.6h0M1016.7 938.6h0M893.3 994.9h0M887.4 978.6h0M874.4 959.9h0M885.6 974.8h0M974.4 1065.7h0M919.5 879.4h0M968.1 864.8h0M1015.6 993.4h0M998.8 984.3h0M954.2 924.6h0M905.3 898.7h0M893.0 965.8h0M895.9 929.6h0M1007.2 1009.1h0M963.2 1078.8h0M903.9 1048.1h0M930.4 938.5h0M996.9 1002.5h0M900.3 1061.7h0M985.7 1038.5h0M994.8 1003.2h0M996.8 994.7h0M990.5 1031.5h0M897.3 927.6h0M1018.4 934.4h0M999.8 901.1h0M1008.3 949.7h0M987.5 880.0h0M1000.5 879.0h0M922.0 1086.7h0M942.9 987.4h0M895.7 1013.4h0M935.0 992.2h0M916.9 1083.0h0M905.3 1052.4h0M999.3 990.6h0M928.4 912.9h0M950.3 933.8h0M913.7 889.3h0M1011.1 893.2h0M950.7 1089.4h0M1005.9 955.0h0M940.6 1093.4h0M954.6 907.0h0M1015.7 950.7h0M903.4 888.0h0M931.4 948.8h0M933.8 982.9h0M928.3 912.6h0M997.8 1002.2h0M957.2 1085.9h0M1000.2 976.7h0M892.2 1004.2h0M963.1 1082.4h0M952.4 925.9h0M879.4 902.1h0M933.1 980.0h0M894.8 961.5h0M894.7 936.3h0M983.4 1036.8h0M982.5 1054.7h0M962.6 1080.0h0M990.1 894.5h0M893.4 969.9h0M1006.7 985.2h0M894.9 961.0h0M1002.3 1003.6h0M894.7 928.8h0M1011.4 927.3h0M1008.2 942.4h0M1013.7 990.6h0M973.0 886.5h0M935.8 1006.9h0M977.3 1053.1h0M868.7 863.0h0M1016.4 926.7h0M971.2 1070.1h0M1008.2 897.4h0M996.7 1007.1h0M894.4 995.9h0M966.7 854.5h0M893.5 974.0h0M987.7 1035.3h0M1017.6 899.8h0M909.3 1060.0h0M892.4 980.7h0M931.6 934.8h0M946.8 966.3h0M967.5 856.1h0M889.3 936.2h0M992.3 1016.2h0M892.0 996.1h0M900.2 1047.9h0M902.3 1062.2h0M904.8 890.4h0M932.0 951.5h0M904.5 889.3h0M903.0 896.6h0M952.0 921.4h0M989.3 1023.7h0M1015.4 928.2h0M1005.7 995.1h0M898.5 1025.4h0M948.4 937.6h0M985.4 1060.7h0M947.7 942.5h0M947.0 964.5h0M920.8 888.2h0M890.9 911.4h0M903.5 1066.6h0M1000.1 975.9h0M1014.5 993.5h0M992.8 1011.1h0M964.4 1076.5h0M995.9 892.5h0M933.8 958.1h0M997.4 1007.2h0M984.7 891.7h0M907.4 1071.4h0M896.3 1021.5h0M936.4 987.8h0M939.7 1010.5h0M906.6 886.5h0M962.6 887.8h0M947.0 953.8h0M897.4 905.8h0M943.8 966.3h0M1020.5 910.9h0M892.7 984.8h0M1011.7 958.0h0M934.7 992.3h0M931.6 962.9h0M890.1 965.0h0M891.7 984.7h0M1000.3 971.4h0M956.8 1084.9h0M865.1 1040.7h0M884.9 973.0h0M891.9 968.4h0M992.7 1020.2h0M885.5 989.4h0M910.2 1065.0h0M1000.0 900.9h0M895.7 1027.0h0M924.2 903.9h0M928.5 920.5h0M981.7 1053.5h0M888.9 1000.2h0M968.5 1077.2h0M976.6 1059.1h0M892.0 976.9h0M899.4 1027.3h0M896.1 1018.6h0M1009.7 931.1h0M951.6 927.9h0M897.7 1025.4h0M885.6 1001.5h0M901.7 897.1h0M949.6 941.1h0M890.1 979.4h0M892.2 982.6h0M907.1 886.1h0M946.2 952.3h0M901.3 1084.8h0M892.4 965.1h0M1012.1 934.3h0M900.7 902.4h0M897.8 911.2h0M946.1 1091.9h0M935.3 996.2h0M1012.9 957.6h0M962.8 882.4h0M924.3 1090.4h0M978.3 889.0h0M876.8 1025.0h0M1007.4 1025.6h0M991.5 1023.9h0M974.7 1064.2h0M970.0 875.9h0M960.5 896.7h0M987.5 1045.2h0M950.9 931.7h0M901.0 1048.7h0M921.4 891.8h0M945.3 966.7h0M987.7 1045.9h0M931.6 946.6h0M927.6 920.6h0M1005.8 957.5h0M1009.7 925.8h0M975.4 1055.2h0M1001.7 980.9h0M999.1 855.3h0M1008.8 980.9h0M889.2 967.4h0M961.6 888.8h0M909.8 885.6h0M868.0 962.2h0M919.7 1083.0h0M998.4 895.4h0M1007.2 1012.8h0M1016.5 956.4h0M951.4 932.6h0M949.7 949.1h0M989.5 886.1h0M976.6 880.4h0M919.7 1082.4h0M1010.9 922.5h0M895.2 905.5h0M944.9 978.6h0M1000.6 898.1h0M894.8 909.2h0M924.5 898.7h0M1011.9 942.9h0M886.8 1017.6h0M998.3 986.0h0M959.4 894.6h0M964.6 889.9h0M895.0 1038.5h0M962.0 1082.1h0M874.6 980.2h0M1004.0 967.3h0M969.3 1071.3h0M887.0 963.1h0M966.1 881.2h0M889.3 979.4h0M1008.3 944.0h0M1009.0 943.5h0M887.1 952.8h0M955.7 907.9h0M1006.5 901.9h0M912.4 1069.0h0M927.4 925.2h0M904.9 1061.0h0M900.9 1035.8h0M914.5 1071.6h0M995.8 1009.1h0M999.9 1001.9h0M1005.7 1004.5h0M948.2 1091.7h0M957.3 1081.6h0M920.2 1083.0h0M905.2 1056.0h0M890.6 954.2h0M892.8 1001.9h0M989.7 873.4h0M990.1 887.9h0M908.2 1087.7h0M908.6 1060.2h0M1009.5 1015.1h0M953.1 930.7h0M934.6 1002.8h0M948.9 958.6h0M897.7 1032.3h0M999.0 1033.6h0M940.8 983.4h0M931.0 955.6h0M989.4 874.8h0M932.5 939.2h0M1009.8 985.7h0M933.0 992.7h0M865.2 937.1h0M1000.0 976.2h0M963.9 879.5h0M988.7 1024.1h0M904.2 1054.3h0M901.2 1039.1h0M1010.0 945.5h0M943.0 983.2h0M1008.2 951.6h0M991.7 1030.4h0M972.5 883.5h0M923.6 1088.5h0M900.8 908.0h0M944.7 963.0h0M897.6 928.5h0M950.8 936.2h0M983.1 1062.7h0M899.6 897.3h0M996.7 1007.1h0M973.9 880.6h0M974.7 883.1h0M896.6 1021.6h0M895.9 1033.0h0M900.9 901.0h0M871.0 1012.3h0M928.6 914.5h0M992.2 857.0h0M995.6 893.8h0M935.8 991.7h0M1000.7 890.1h0M984.8 1049.4h0M962.1 888.6h0M902.0 862.2h0M903.3 1049.6h0M934.6 969.4h0M893.6 957.3h0M892.1 987.6h0M924.1 1086.8h0M929.6 1088.8h0M951.1 1090.6h0M891.8 979.4h0M891.6 908.5h0M984.3 885.4h0M1010.5 919.4h0M919.6 1080.5h0M923.3 1083.9h0M985.9 1044.7h0M955.5 905.5h0M944.2 1093.1h0M928.4 919.7h0M932.6 974.5h0M991.9 854.0h0M942.8 987.3h0M948.8 961.0h0M886.6 1057.3h0M988.8 873.1h0M967.1 884.0h0M981.4 879.4h0M893.3 954.1h0M948.8 936.7h0M913.9 1079.8h0M990.8 888.6h0M997.8 1001.4h0M895.9 1048.0h0M911.6 885.2h0M899.8 915.4h0M900.7 914.6h0M892.8 998.9h0M953.2 1085.8h0M986.4 891.4h0M952.3 1088.1h0M886.0 1006.5h0M926.9 922.3h0M995.6 1000.6h0M943.7 1091.4h0M929.0 933.6h0M952.4 918.1h0M918.1 891.3h0M889.5 906.7h0M924.2 909.1h0M894.4 964.7h0M932.7 948.1h0M901.0 1049.0h0M949.0 949.7h0M898.2 1030.3h0M974.0 888.8h0M1010.4 930.9h0M900.9 910.3h0M953.6 920.5h0M929.2 936.5h0M900.0 1031.7h0M904.4 883.6h0M995.4 1002.5h0M1017.1 925.3h0M964.3 878.2h0M1018.8 964.6h0M950.2 1089.1h0M1018.2 926.3h0M977.8 875.4h0M929.7 927.6h0M969.7 881.8h0M900.2 907.3h0M992.6 1020.7h0M891.9 972.7h0M965.4 1080.9h0M898.1 885.9h0M954.4 1090.7h0M1001.8 895.0h0M908.0 889.2h0M1008.2 939.0h0M910.4 1063.2h0M953.6 1087.4h0M996.3 1010.9h0M875.8 947.7h0M893.6 991.7h0M1002.7 960.4h0M940.2 999.7h0M1001.8 993.7h0M947.5 1089.1h0M918.1 1088.6h0M999.8 900.0h0M993.2 1012.4h0M932.3 977.6h0M907.0 869.6h0M999.1 876.5h0M923.8 902.9h0M997.8 991.8h0M945.3 959.5h0M933.7 974.9h0M962.0 1080.9h0M898.3 1023.6h0M903.4 1046.0h0M892.9 903.6h0M989.6 885.1h0M897.5 937.6h0M899.1 1043.1h0M952.7 931.9h0M893.4 907.7h0M895.5 1019.9h0M963.3 869.1h0M980.3 1056.3h0M980.8 886.7h0M1001.6 997.7h0M1012.1 1003.4h0M952.5 929.2h0M1006.3 1029.0h0M910.0 1072.8h0M1000.4 988.9h0M894.4 942.0h0M976.1 1059.6h0M1010.0 958.9h0M1015.9 950.5h0M1005.8 1003.2h0M995.0 1025.1h0M955.0 913.7h0M893.4 949.7h0M935.3 987.1h0M1018.8 970.4h0M939.7 1000.7h0M903.3 895.6h0M887.2 1035.6h0M1009.6 946.3h0M901.0 913.5h0M1001.1 1022.4h0M1004.5 898.2h0M994.6 1015.3h0M962.9 1077.8h0M894.4 954.6h0M900.9 910.0h0M897.2 1062.0h0M996.4 1010.4h0M910.9 1066.2h0M934.1 984.8h0M907.7 850.6h0M1000.0 981.1h0M892.7 960.1h0M904.5 1061.4h0M904.2 1068.5h0M891.0 948.8h0M1003.3 902.2h0M884.5 973.3h0M929.4 920.2h0M1001.0 898.4h0M928.6 924.1h0M993.0 1030.8h0M999.4 897.5h0M968.4 874.9h0M991.6 1032.5h0M1002.2 998.3h0M1000.9 901.8h0M914.5 888.9h0M1001.4 978.5h0M1005.6 902.1h0M920.1 886.1h0M960.2 1080.5h0M963.8 1074.0h0M908.4 876.2h0M989.5 1026.0h0M885.4 964.1h0M971.0 1084.6h0M971.1 883.5h0M935.9 984.2h0M906.1 1062.1h0M961.8 888.4h0M917.2 886.5h0M912.8 1078.0h0M978.5 872.1h0M1016.8 919.7h0M956.3 1089.7h0M991.0 894.4h0M1014.9 1015.4h0M979.3 1051.7h0M1005.6 905.4h0M992.2 1043.5h0M925.6 1090.5h0M896.5 922.9h0M889.8 972.2h0M882.8 1018.3h0M890.8 980.5h0M901.6 1044.9h0M1009.1 931.2h0M929.8 948.3h0M949.9 937.4h0M893.3 993.5h0M900.4 1060.5h0M897.3 937.2h0M972.2 886.3h0M903.1 896.9h0M894.4 963.6h0M891.8 935.3h0M926.3 1088.9h0M964.3 1081.0h0M904.2 1046.4h0M902.4 888.6h0M998.4 1003.0h0M1002.5 991.7h0M1006.3 966.7h0M979.0 884.3h0M891.9 955.6h0M1008.3 940.9h0M916.3 1075.7h0M981.4 877.4h0M979.0 1049.8h0M922.4 895.1h0M902.7 1046.5h0M1005.1 907.0h0M955.4 916.5h0M990.2 893.9h0M889.6 990.2h0M978.1 887.5h0M950.1 1088.8h0M989.5 1023.8h0M991.8 1037.3h0M912.4 1073.1h0M936.4 1001.8h0M914.0 888.7h0M948.0 954.4h0M1016.3 1019.5h0M901.7 1049.5h0M920.3 1087.0h0M889.5 957.8h0M893.1 965.7h0M1000.6 1016.3h0M942.2 993.3h0M1007.5 917.4h0M937.1 1008.5h0M922.6 1092.3h0M934.9 988.2h0M901.1 889.9h0M930.7 933.0h0M984.3 1048.3h0M895.6 937.5h0M1013.6 917.8h0M1003.8 964.8h0M890.5 995.3h0M959.7 1086.1h0M1010.2 931.7h0M897.7 906.4h0M1022.0 911.5h0M1003.4 903.4h0M889.1 1042.0h0M1010.2 923.6h0M901.4 1042.4h0M958.5 1089.2h0M914.7 883.9h0M1012.6 930.8h0M933.7 993.7h0M903.4 894.2h0M894.6 1020.4h0M926.4 909.9h0M895.6 936.9h0M885.1 913.0h0M1001.2 994.3h0M970.3 1065.5h0M929.3 943.7h0M1008.0 1005.1h0M900.1 871.4h0M1005.2 983.5h0M987.0 1030.1h0M898.2 925.7h0M1001.6 873.6h0M900.8 904.1h0M933.2 997.1h0M909.4 881.6h0M928.8 928.2h0M1012.7 911.8h0M953.1 925.1h0M905.9 1077.4h0M973.9 879.3h0M996.5 1011.0h0M948.3 942.0h0M1004.4 956.9h0M882.1 916.1h0M887.7 976.4h0M891.8 1006.8h0M896.1 1007.8h0M980.5 889.4h0M873.3 1040.6h0M891.7 969.9h0M877.1 1045.0h0M971.4 886.0h0M888.3 1025.6h0M923.0 893.3h0M1008.7 928.6h0M1006.4 995.6h0M983.1 1039.8h0M1017.9 940.9h0M972.0 880.5h0M931.7 969.3h0M892.5 947.6h0M917.9 878.9h0M897.2 921.5h0M1005.5 950.5h0M940.1 1004.2h0M1002.9 1009.2h0M902.7 894.9h0M889.6 971.3h0M998.2 999.2h0M903.3 1058.5h0M1011.5 930.0h0M1003.0 965.3h0M1013.3 924.4h0M972.6 1079.4h0M969.3 886.0h0M961.0 893.0h0M888.3 1028.3h0M998.5 987.1h0M917.4 1076.1h0M913.3 877.1h0M940.1 1006.3h0M969.2 887.1h0M930.2 1092.7h0M941.6 977.8h0M887.2 996.7h0M927.2 912.4h0M894.9 1035.9h0M1015.1 975.3h0M933.2 1000.8h0M972.1 1068.5h0M901.6 899.2h0M923.4 902.6h0M898.2 934.9h0M894.3 1000.0h0M901.9 1050.9h0M896.6 940.7h0M954.4 915.3h0M1008.3 923.2h0M963.0 1075.1h0M1009.5 942.9h0M891.1 888.3h0M912.5 879.2h0M999.1 885.2h0M917.4 1077.3h0M896.7 1057.0h0M901.9 816.0h0M873.2 905.3h0M914.5 825.5h0M877.3 1013.8h0M912.1 837.1h0M913.6 873.7h0M877.4 991.2h0M863.5 1040.4h0M875.3 1022.2h0M913.3 824.1h0M891.1 899.9h0M877.1 1001.0h0M865.7 789.1h0M891.8 861.9h0M915.4 873.9h0M881.8 871.2h0M917.5 861.5h0M898.7 816.0h0M883.6 1043.6h0M870.7 1046.0h0M885.4 1032.7h0M855.1 840.6h0M880.6 851.9h0M875.0 904.9h0M851.4 845.5h0M859.5 1016.8h0M864.7 838.9h0M907.6 808.9h0M869.1 828.9h0M876.1 961.6h0M913.9 809.1h0M883.8 1042.7h0M869.9 838.2h0M903.1 804.4h0M870.2 1007.8h0M884.0 1048.5h0M874.7 844.4h0M885.7 837.3h0M895.5 1057.4h0M856.4 857.1h0M901.2 873.7h0M878.9 935.9h0M898.6 865.5h0M896.3 812.7h0M910.4 877.4h0M863.5 937.9h0M892.4 781.5h0M858.4 966.3h0M887.2 891.8h0M912.5 850.7h0M881.5 1036.2h0M865.9 938.5h0M864.3 955.9h0M881.6 1039.2h0M884.0 877.7h0M858.5 895.0h0M874.2 972.1h0M918.4 885.0h0M871.7 1058.4h0M892.6 1048.8h0M881.1 1000.1h0M903.9 838.3h0M914.3 805.2h0M885.5 781.0h0M862.2 827.8h0M876.3 881.2h0M883.3 860.3h0M887.5 1053.7h0M871.3 827.9h0M861.3 970.7h0M852.3 967.3h0M887.8 900.2h0M880.3 1045.4h0M889.9 1048.8h0M904.7 837.2h0M916.7 885.2h0M908.1 830.0h0M880.1 886.7h0M874.0 925.7h0M871.7 876.4h0M912.7 797.8h0M880.4 1043.9h0M884.5 933.2h0M856.5 933.8h0M885.9 882.8h0M857.3 1028.8h0M877.4 928.2h0M863.2 995.9h0M908.6 843.9h0M891.4 1049.6h0M872.3 963.7h0M872.2 934.6h0M882.7 931.6h0M885.4 1040.1h0M889.6 858.0h0M856.9 965.7h0M913.0 850.8h0M908.4 819.6h0M875.3 917.1h0M889.2 1046.8h0M890.4 1046.3h0M913.8 864.0h0M852.9 999.7h0M881.5 882.6h0M872.9 905.5h0M852.5 900.5h0M885.3 852.9h0M875.8 1043.1h0M859.2 952.8h0M877.2 847.3h0M886.0 1037.2h0M867.4 899.5h0M872.2 1013.6h0M875.9 881.9h0M890.4 1061.8h0M861.0 986.5h0M888.1 851.7h0M882.2 953.2h0M864.4 916.6h0M881.2 858.9h0M881.6 915.8h0M901.9 875.6h0M863.4 838.4h0M917.7 871.8h0M878.1 874.2h0M875.8 885.3h0M881.8 1034.0h0M868.8 900.7h0M889.6 1029.6h0M909.3 825.7h0M875.8 960.8h0M880.0 952.7h0M877.0 992.4h0M857.5 828.5h0M852.0 876.1h0M916.7 874.7h0M861.9 1016.2h0M857.5 1016.4h0M883.6 1060.0h0M888.8 811.0h0M891.1 1033.6h0M863.5 847.2h0M877.7 940.2h0M881.9 828.6h0M882.0 942.6h0M897.8 869.1h0M856.2 995.4h0M889.6 860.7h0M874.7 1063.3h0M878.3 1067.4h0M864.7 982.6h0M903.3 813.2h0M895.4 891.4h0M879.6 969.7h0M864.2 968.4h0M876.7 998.9h0M853.7 866.6h0M904.4 851.7h0M885.5 1047.9h0M876.0 918.2h0M909.9 868.0h0M855.3 993.0h0M909.2 870.0h0M864.7 954.0h0M865.9 1054.9h0M876.8 967.4h0M874.5 1022.6h0M854.3 941.5h0M875.0 944.4h0M857.0 982.7h0M875.6 907.5h0M875.1 835.3h0M887.7 1058.8h0M855.2 861.8h0M879.5 1047.0h0M890.9 888.8h0M885.0 902.5h0M880.4 910.6h0M879.8 825.7h0M867.7 995.0h0M907.1 858.7h0M857.8 1014.4h0M880.8 917.8h0M861.1 846.8h0M875.4 788.2h0M881.3 1034.2h0M864.5 1052.0h0M886.8 900.0h0M878.9 869.3h0M873.2 796.7h0M879.7 830.1h0M889.0 854.7h0M882.7 1006.5h0M884.9 780.0h0M866.0 988.0h0M885.1 866.8h0M879.6 874.6h0M887.3 889.9h0M896.0 1053.3h0M907.3 878.3h0M865.0 936.1h0M871.7 1060.3h0M871.7 876.3h0M890.8 822.6h0M851.0 967.1h0M886.7 1011.0h0M872.8 998.2h0M880.2 969.7h0M885.5 901.1h0M893.1 1060.6h0M897.1 845.0h0M882.0 981.6h0M883.7 1071.2h0M851.0 1017.3h0M852.3 1019.7h0M883.1 857.7h0M871.9 830.6h0M850.8 964.5h0M871.5 852.9h0M883.3 930.4h0M901.9 844.5h0M870.6 897.6h0M869.0 985.6h0M882.6 994.9h0M899.7 888.0h0M902.3 800.8h0M889.6 863.3h0M863.3 1033.7h0M875.8 929.5h0M914.4 867.7h0M892.0 889.8h0M883.6 811.8h0M870.6 1003.2h0M865.4 941.9h0M885.8 1030.2h0M876.4 1045.6h0M915.0 803.9h0M881.3 1066.8h0M880.0 990.4h0M874.0 961.3h0M874.5 890.3h0M905.0 836.0h0M871.8 900.3h0M901.6 860.8h0M890.8 872.0h0M878.3 1030.0h0M873.3 885.0h0M874.1 922.3h0M865.3 872.1h0M895.0 873.4h0M867.1 942.0h0M854.7 1016.0h0M868.8 986.2h0M850.2 927.8h0M863.0 885.1h0M863.5 993.9h0M877.8 866.9h0M855.2 1039.9h0M876.5 960.7h0M908.5 811.0h0M908.8 827.4h0M885.0 847.6h0M898.2 865.8h0M900.2 886.9h0M876.9 1051.9h0M888.5 1041.4h0M867.0 1043.1h0M884.1 1062.5h0M871.5 904.0h0M883.7 875.2h0M883.5 1056.4h0M876.4 959.5h0M887.0 856.6h0M858.7 889.5h0M915.3 884.0h0M905.8 880.1h0M905.4 856.5h0M858.3 937.0h0M864.3 889.4h0M905.6 865.1h0M881.8 915.9h0M883.3 1044.3h0M886.6 879.8h0M859.2 940.3h0M864.0 1044.2h0M894.5 850.4h0M859.2 865.3h0M868.7 983.5h0M869.8 940.7h0M888.8 1044.2h0M868.9 904.6h0M897.9 839.1h0M882.6 1020.4h0M883.0 1024.8h0M877.7 947.0h0M874.8 1060.2h0M898.1 867.8h0M877.2 826.8h0M857.9 1047.3h0M905.2 837.5h0M876.5 882.5h0M868.6 830.5h0M855.2 967.5h0M863.9 887.0h0M869.2 886.1h0M863.0 988.0h0M865.2 882.3h0M899.3 876.5h0M894.4 1044.2h0M877.7 935.7h0M885.6 1034.0h0M857.6 851.5h0M883.6 928.7h0M858.3 982.4h0M853.8 926.4h0M910.7 832.6h0M879.9 905.8h0M871.7 996.0h0M872.9 777.7h0M908.3 875.0h0M885.7 1037.1h0M860.9 1049.0h0M875.7 954.2h0M861.2 961.0h0M883.7 990.5h0M852.3 901.5h0M870.5 967.0h0M882.8 874.4h0M894.2 828.2h0M885.1 1017.4h0M912.2 824.4h0M886.6 883.5h0M895.0 804.4h0M882.3 982.1h0M854.8 841.1h0M893.1 892.4h0M883.8 814.1h0M914.0 864.1h0M892.5 859.5h0M886.0 851.5h0M852.2 896.2h0M860.3 917.0h0M887.8 1038.1h0M887.9 1046.8h0M852.6 886.8h0M882.6 1031.4h0M900.2 807.7h0M911.3 839.9h0M870.7 1054.7h0M850.5 1014.5h0M883.7 1037.1h0M897.0 871.3h0M916.7 849.2h0M878.0 990.5h0M872.2 1030.4h0M872.5 1010.4h0M869.3 935.5h0M864.0 1013.6h0M873.1 898.6h0M853.9 839.9h0M893.7 875.7h0M900.8 885.2h0M877.1 870.2h0M890.7 895.9h0M891.0 867.2h0M876.7 973.6h0M877.5 907.8h0M912.2 882.6h0M886.2 851.2h0M914.9 846.4h0M861.4 893.9h0M905.8 860.7h0M871.3 945.3h0M909.5 851.8h0M855.3 877.8h0M867.9 968.9h0M875.8 808.2h0M861.0 1021.7h0M877.9 1054.1h0M1010.6 888.6h0M972.4 813.7h0M968.6 864.2h0M1000.0 849.1h0M985.0 878.5h0M1015.6 875.9h0M974.4 861.8h0M1010.3 821.8h0M994.4 882.9h0M967.4 884.6h0M1017.9 961.8h0M1020.4 891.9h0M997.1 784.6h0M1008.7 877.8h0M1018.1 900.1h0M1022.9 887.2h0M1005.3 885.4h0M1021.7 824.3h0M1019.3 973.0h0M1000.7 893.1h0M1004.4 883.3h0M968.0 860.8h0M982.4 830.7h0M1022.9 871.0h0M997.3 857.2h0M983.5 875.0h0M979.3 857.4h0M1018.2 916.4h0M997.3 818.1h0M969.8 877.6h0M1000.9 891.1h0M1015.2 858.7h0M986.1 842.0h0M1016.1 994.5h0M968.9 870.9h0M1016.1 905.7h0M1014.2 935.1h0M1012.9 909.5h0M974.4 859.2h0M983.1 813.8h0M994.5 822.2h0M1011.9 985.1h0M987.5 876.3h0M1022.4 932.9h0M1019.3 960.9h0M1008.6 846.6h0M982.9 852.7h0M1017.5 821.6h0M1009.4 1015.8h0M990.3 885.4h0M1004.3 886.0h0M984.6 868.1h0M969.3 861.4h0M976.7 874.6h0M1003.7 897.3h0M1002.0 893.8h0M1012.7 908.1h0M1009.2 880.6h0M1016.6 859.9h0M1015.1 915.3h0M970.2 864.8h0M1003.7 895.0h0M1018.3 847.2h0M994.2 851.6h0M1019.2 1002.2h0M1021.0 846.5h0M1020.4 948.7h0M1014.5 905.1h0M1001.1 897.3h0M994.4 849.4h0M978.1 876.5h0M981.9 848.1h0M1015.0 923.1h0M1014.1 855.2h0M990.5 843.1h0M1015.6 943.2h0M1004.3 785.8h0M990.7 827.9h0M1010.6 1007.1h0M1014.9 966.3h0M984.6 866.9h0M1016.1 891.3h0M965.1 883.8h0M1020.7 978.3h0M1010.8 827.7h0M1007.3 860.7h0M1023.2 919.8h0M1021.5 959.2h0M986.6 828.1h0M999.2 884.6h0M1004.6 900.9h0M985.9 870.5h0M989.3 859.7h0M999.9 868.7h0M1000.7 816.4h0M999.1 889.8h0M970.7 829.3h0M1015.8 901.3h0M1017.3 997.5h0M1011.9 805.6h0M991.0 874.8h0M1017.3 921.9h0M1014.5 872.3h0M991.5 884.7h0M1021.5 832.4h0M967.7 878.2h0M1004.9 848.1h0M999.6 893.7h0M1017.0 968.7h0M1008.5 896.8h0M1019.0 926.3h0M1021.4 971.3h0M1018.2 978.8h0M999.9 840.7h0M974.7 857.6h0M988.3 820.0h0M1000.2 883.6h0M990.2 864.0h0M1001.2 795.9h0M1022.6 878.4h0M1021.7 902.4h0M1015.1 1009.9h0M997.5 855.3h0M999.4 885.8h0M1002.5 860.4h0M1012.7 873.8h0M1006.6 894.0h0M1018.2 893.5h0M987.8 865.5h0M984.2 880.0h0M1019.0 999.9h0M1018.2 936.6h0M1020.8 989.0h0M1003.4 896.9h0M986.6 883.6h0M1016.9 894.7h0M1011.0 836.1h0M1000.8 863.5h0M1003.1 889.4h0M1016.1 901.6h0M1015.5 921.7h0M976.7 836.7h0M976.0 825.0h0M1019.5 873.4h0M1022.2 1000.0h0M1019.1 923.0h0M1019.1 942.9h0M972.6 814.4h0M1009.8 894.1h0M1021.1 949.2h0M1012.8 891.5h0M1012.1 859.6h0M1014.9 932.3h0M991.4 886.5h0M994.1 878.8h0M1016.3 959.6h0M995.5 884.2h0M1005.9 900.2h0M995.5 841.2h0M1003.7 837.9h0M1017.9 966.2h0M969.4 865.6h0M999.6 836.9h0M1022.7 974.8h0M1000.2 886.8h0M1012.0 886.2h0M1001.7 895.0h0M1018.1 974.0h0M984.3 877.0h0M979.5 872.6h0M1012.7 997.5h0M1021.8 934.9h0M1017.5 873.1h0M968.3 831.5h0M1020.5 915.6h0M1018.6 978.2h0M1019.0 905.7h0M1010.6 905.2h0M1000.4 887.7h0M1015.6 991.6h0M997.6 827.2h0M977.9 857.0h0M975.7 877.7h0M971.7 824.0h0M983.9 851.3h0M1000.8 857.0h0M1000.1 841.4h0M1009.4 1006.8h0M972.3 855.2h0M1021.6 913.6h0M971.7 862.1h0M998.8 890.8h0M1008.7 836.7h0M1015.4 916.0h0M1003.9 790.3h0M994.2 831.5h0M1019.6 909.6h0M1020.9 918.5h0M974.4 818.8h0M991.3 863.1h0M1015.2 928.1h0M985.1 846.0h0M975.0 871.7h0M1017.7 883.0h0M996.9 857.5h0M980.4 865.3h0M1019.3 948.7h0M981.4 846.5h0M977.9 821.8h0M1000.6 837.7h0M1002.8 799.3h0M993.8 846.3h0M1021.4 872.2h0M969.3 846.3h0M1005.5 879.8h0M1014.9 872.3h0M1011.4 920.9h0M1012.2 1007.2h0M992.8 880.7h0M1005.0 891.8h0M976.6 866.6h0M972.2 832.8h0M1009.1 856.6h0M1017.4 789.2h0M1020.5 943.5h0M1023.0 976.0h0M1008.0 778.9h0M968.4 832.5h0M1001.8 824.5h0M1007.4 851.9h0M1001.8 894.4h0M1021.3 908.9h0M1020.0 1000.5h0M1021.5 931.4h0M1011.6 894.5h0M1011.2 819.5h0M973.4 880.5h0M976.0 865.2h0M1004.6 884.0h0M1013.2 1006.7h0M1014.3 884.9h0M996.8 853.5h0M972.4 822.1h0M1019.4 941.4h0M1005.5 787.6h0M1017.6 967.2h0M970.8 875.9h0M1016.6 998.5h0M978.3 857.0h0M1016.8 995.4h0M985.6 865.0h0M972.6 813.8h0M987.7 809.3h0M1002.9 854.7h0M1008.6 909.8h0M1014.2 901.7h0M990.1 858.2h0M999.4 881.9h0M992.1 785.7h0M970.8 868.5h0M1015.0 1001.7h0M1015.3 991.2h0M1012.7 870.3h0M999.8 896.9h0M1001.7 879.5h0M1016.6 927.0h0M975.6 833.1h0M1018.3 776.6h0M996.0 846.9h0M1022.3 989.4h0M1007.3 867.8h0M991.2 791.8h0M973.0 854.4h0M1012.4 875.3h0M986.1 826.0h0M1009.1 1007.6h0M1021.8 926.7h0M1016.7 969.0h0M976.8 871.2h0M987.9 853.3h0M1021.1 807.1h0M970.9 858.4h0M979.1 868.6h0M1020.1 842.6h0M1020.5 811.8h0M1001.1 775.4h0M1000.3 878.6h0M1001.4 851.9h0M991.1 849.2h0M998.2 812.4h0M999.7 831.5h0M1010.3 807.6h0M1008.7 863.9h0M1015.0 869.4h0M1012.9 907.4h0M1017.9 960.8h0M1017.2 980.9h0M977.4 827.3h0M1010.2 911.5h0M1000.2 841.2h0M1020.3 772.5h0M985.7 821.3h0M1022.4 911.6h0M966.0 884.7h0M993.3 878.6h0M995.0 777.6h0M1022.4 871.4h0M1021.8 761.1h0M1008.0 831.0h0M1003.9 879.8h0M1019.8 965.4h0M976.2 841.3h0M966.0 881.7h0M1020.9 989.4h0M1020.8 836.0h0M1000.8 854.2h0M972.6 869.4h0M1015.5 901.9h0M1018.1 822.3h0M1017.8 879.4h0M1020.9 923.7h0M1012.2 926.8h0M982.7 860.3h0M1018.2 856.6h0M974.2 871.1h0M974.0 826.5h0M1016.2 833.7h0M1018.7 1004.4h0M978.3 865.8h0M1018.2 803.6h0M868.0 1066.2h0M868.0 1060.7h0M809.4 1040.4h0M846.9 1063.5h0M864.4 1050.3h0M861.5 1062.4h0M869.2 1056.7h0M817.8 1039.1h0M850.9 1040.4h0M859.7 1060.8h0M875.6 1071.7h0M819.0 1049.0h0M848.1 1062.3h0M855.0 1038.7h0M861.5 1059.6h0M870.9 1075.1h0M864.2 1050.9h0M844.3 1045.9h0M855.3 1046.2h0M870.0 1073.2h0M864.0 1052.5h0M853.2 1054.4h0M848.7 1051.7h0M852.7 1050.6h0M820.1 1041.4h0M902.3 748.9h0M854.9 772.9h0M857.7 785.8h0M890.0 793.8h0M911.3 794.0h0M998.7 727.9h0M1003.0 755.7h0M1018.9 771.0h0M1019.5 775.5h0M995.7 781.9h0M975.7 789.4h0M1016.3 787.4h0M967.4 814.6h0M885.7 1076.3h0M885.1 1061.4h0" fill="none" stroke="#000" stroke-width="5.70" stroke-linecap="round"/>
<path d="M793.2 948.5h0M830.8 989.0h0M817.9 992.4h0M838.4 1008.2h0M844.8 949.9h0M820.5 902.2h0M841.6 1003.8h0M760.0 1019.8h0M801.6 916.5h0M843.1 1020.1h0M848.8 906.9h0M847.4 1006.7h0M800.2 1026.0h0M841.8 1021.2h0M837.2 991.9h0M802.7 918.4h0M832.8 1019.0h0M805.2 973.3h0M769.3 960.5h0M842.0 993.5h0M846.7 912.1h0M849.7 965.2h0M846.6 876.5h0M834.3 978.2h0M839.9 963.2h0M836.7 999.3h0M844.9 917.1h0M829.9 1031.3h0M827.5 962.7h0M779.5 991.2h0M848.3 851.9h0M827.8 1001.1h0M834.2 897.3h0M822.6 907.4h0M823.1 995.9h0M809.4 924.1h0M833.4 987.5h0M840.2 926.0h0M821.0 1014.3h0M826.0 917.5h0M843.4 924.3h0M849.7 1030.3h0M829.4 961.9h0M780.3 995.3h0M842.3 888.4h0M827.5 1016.5h0M821.7 1008.5h0M839.5 1025.8h0M836.0 931.9h0M839.5 891.0h0M846.8 994.6h0M822.3 1017.1h0M848.1 969.5h0M766.2 983.3h0M839.2 1031.4h0M821.7 972.7h0M820.0 893.8h0M846.5 999.6h0M816.2 1027.8h0M820.9 1018.8h0M846.3 945.5h0M835.9 946.0h0M837.3 863.8h0M820.7 982.7h0M829.5 1031.7h0M779.7 959.9h0M837.7 861.1h0M847.2 873.6h0M824.6 980.3h0M826.5 986.4h0M790.0 1002.8h0M836.7 1000.2h0M823.0 900.5h0M846.5 895.1h0M836.6 933.3h0M849.5 1016.1h0M837.2 1021.2h0M843.8 990.4h0M769.4 1012.3h0M845.1 982.3h0M826.4 911.4h0M817.0 989.0h0M843.9 965.3h0M843.5 1026.4h0M738.3 988.4h0M831.8 1027.1h0M800.8 917.3h0M843.1 939.4h0M818.6 955.8h0M839.3 939.2h0M829.4 1025.6h0M800.9 924.9h0M844.7 896.3h0M847.5 976.7h0M842.7 1032.2h0M847.4 963.8h0M839.1 959.6h0M847.2 991.3h0M841.0 931.9h0M805.9 950.5h0M847.2 913.5h0M848.6 950.5h0M849.0 1020.2h0M830.1 958.5h0M821.3 1016.8h0M847.3 940.0h0M842.7 889.4h0M830.3 893.4h0M846.7 894.6h0M816.0 919.3h0M843.4 987.7h0M786.0 1020.5h0M839.3 1000.6h0M848.7 976.0h0M848.1 951.9h0M824.6 797.5h0M826.4 805.7h0M845.0 829.3h0M835.0 843.6h0M850.4 847.5h0M803.9 852.5h0M843.6 848.2h0M845.0 847.5h0M791.4 859.3h0M835.0 867.1h0M848.6 862.5h0M845.0 862.5h0M785.4 942.9h0M777.9 955.4h0M757.9 969.6h0M782.9 971.4h0M846.1 975.0h0M802.1 980.4h0M750.4 993.6h0M790.4 988.6h0M843.9 980.4h0M766.4 1007.1h0M838.9 1019.3h0M840.4 998.9h0M763.6 1000.7h0M797.9 1022.5h0M840.7 1028.6h0M775.4 1025.0h0M834.3 1030.4h0M840.7 1028.6h0M834.3 1030.4h0" fill="none" stroke="#00f000" stroke-width="5.70" stroke-linecap="round"/>
<path d="M1083.7 746.0h0M1033.9 957.3h0M1026.8 940.5h0M1087.4 835.3h0M1029.4 805.6h0M1032.7 961.3h0M1072.5 800.2h0M1127.2 874.6h0M1027.7 894.8h0M1079.4 778.3h0M1038.6 953.5h0M1029.6 980.3h0M1065.3 945.5h0M1054.3 895.4h0M1063.3 944.6h0M1036.2 934.4h0M1069.3 884.0h0M1049.2 786.3h0M1024.7 961.9h0M1030.4 911.4h0M1042.4 917.2h0M1075.0 750.3h0M1055.8 919.2h0M1057.3 817.5h0M1043.0 881.5h0M1043.9 961.7h0M1138.0 860.5h0M1025.2 991.3h0M1037.8 845.2h0M1028.0 883.1h0M1028.3 952.3h0M1025.8 927.9h0M1030.6 983.0h0M1037.8 972.3h0M1046.3 777.2h0M1067.5 763.9h0M1036.0 952.6h0M1040.4 845.3h0M1029.5 818.8h0M1028.6 977.1h0M1069.0 917.9h0M1058.5 783.0h0M1084.7 912.1h0M1027.0 912.2h0M1048.5 848.2h0M1028.6 950.1h0M1030.9 883.7h0M1032.5 963.9h0M1030.7 980.1h0M1053.4 955.5h0M1030.6 959.1h0M1025.0 874.0h0M1055.1 840.2h0M1130.7 770.5h0M1087.5 805.3h0M1028.5 945.6h0M1031.7 966.4h0M1039.9 907.5h0M1046.6 938.4h0M1024.1 975.7h0M1023.5 926.5h0M1057.2 952.9h0M1044.7 967.6h0M1047.9 851.6h0M1044.1 838.2h0M1047.5 943.0h0M1034.0 915.9h0M1105.6 792.5h0M1049.4 958.5h0M1077.8 861.2h0M1026.1 993.9h0M1048.8 886.1h0M1024.0 986.0h0M1066.5 831.7h0M1027.7 921.2h0M1028.2 957.3h0M1028.7 853.8h0M1076.2 823.4h0M1113.4 842.0h0M1024.9 886.3h0M1060.5 775.5h0M1059.6 779.7h0M1023.9 917.2h0M1050.1 964.1h0M1054.2 780.5h0M1028.5 850.7h0M1035.8 956.0h0M1040.4 913.2h0M1027.6 990.5h0M1037.0 913.7h0M1038.3 904.6h0M1026.3 943.6h0M1024.7 800.2h0M1064.4 796.6h0M1025.5 942.5h0M1037.7 797.9h0M1044.5 874.2h0M1025.4 853.8h0M1025.7 827.0h0M1025.5 899.3h0M1033.9 929.0h0M1049.5 928.8h0M1036.5 869.6h0M1023.7 990.1h0M1032.9 897.4h0M1043.5 957.8h0M1027.3 931.3h0M1030.4 820.5h0M1056.5 956.2h0M1052.8 946.7h0M1029.7 894.9h0M1024.4 974.4h0M1055.0 810.9h0M1042.2 939.1h0M1030.3 875.6h0M1093.7 809.7h0M1030.9 872.9h0M1043.2 880.6h0M1053.8 802.3h0M1038.2 834.1h0M1032.9 961.4h0M1095.6 899.2h0M1036.1 957.6h0M1030.0 880.4h0M1027.6 907.9h0M1025.9 830.5h0M1060.2 835.8h0M1027.3 982.9h0M1070.3 853.6h0M1024.2 941.1h0M1073.8 878.1h0M1031.6 957.6h0M1036.7 788.5h0M1061.2 903.5h0M1031.5 867.4h0M1075.7 914.8h0M1066.0 888.1h0M1066.6 928.5h0M1024.7 982.8h0M1052.1 917.7h0M1035.7 942.6h0M1049.8 867.9h0M1035.9 963.6h0M1111.8 838.6h0M1026.9 966.5h0M1031.9 905.0h0M1024.0 982.9h0M1030.6 977.7h0M1104.3 883.9h0M1027.0 868.4h0M1119.7 846.4h0M1058.0 791.1h0M1043.4 892.8h0M1023.7 976.3h0M1031.7 971.9h0M1025.2 821.6h0M1043.3 815.2h0M1026.8 976.9h0M1052.0 946.3h0M1023.6 872.9h0M1033.8 862.0h0M1025.8 907.7h0M1062.9 929.6h0M1061.3 778.7h0M1043.0 885.8h0M1033.6 958.2h0M1031.8 927.0h0M1039.0 879.7h0M1040.7 950.2h0M1025.9 992.4h0M1053.8 860.4h0M1031.8 833.3h0M1059.2 910.5h0M1047.7 923.0h0M1040.3 976.8h0M1053.0 960.1h0M1043.1 946.6h0M1037.7 964.5h0M1062.9 921.6h0M1031.9 978.7h0M1055.8 875.5h0M1078.2 813.0h0M1029.8 949.5h0M1048.7 884.7h0M1038.6 955.4h0M1075.3 929.4h0M1063.6 773.4h0M1027.7 827.8h0M1036.3 798.7h0M1029.6 886.0h0M1091.1 645.0h0M1030.4 645.0h0M1128.9 668.9h0M1055.7 680.4h0M1086.1 704.6h0M1112.1 704.6h0M1206.4 704.6h0M1031.4 716.8h0M1120.0 726.8h0M1047.5 728.9h0M1089.6 735.7h0M1025.4 726.8h0M1119.3 742.9h0M1092.1 758.9h0M1103.2 766.8h0M1103.2 766.8h0M1133.2 762.5h0M1133.2 762.5h0M1112.9 779.3h0M1134.6 789.3h0M1111.1 797.5h0M1101.4 810.4h0M1155.7 805.4h0M1096.1 836.8h0M1143.2 822.5h0M1096.8 858.6h0M1123.9 838.2h0M1115.7 876.8h0M1094.3 897.5h0M1135.0 876.8h0M1094.3 897.5h0M1093.2 911.4h0M1035.4 997.1h0" fill="none" stroke="#f00000" stroke-width="5.70" stroke-linecap="round"/>
<path d="M1094.2 642.0L1092.3 643.8M1027.0 646.5L1028.8 645.7M1132.1 665.9L1130.2 667.8M1052.6 677.4L1054.5 679.2M1083.1 701.6L1084.9 703.4M1115.2 701.6L1113.4 703.5M1208.4 701.6L1207.4 703.2M1028.3 713.8L1030.2 715.6M1116.6 723.4L1118.8 725.6M1049.6 725.9L1048.5 727.5M1086.6 732.4L1088.5 734.4M1022.1 729.8L1024.1 728.0M1078.3 756.6L1090.5 758.6M1107.4 761.6L1104.3 765.5M1136.1 759.0L1104.9 766.4M1133.4 765.9L1133.3 764.2M1155.2 768.1L1134.9 762.9M1102.2 778.3L1111.2 779.1M1144.4 789.7L1136.4 789.4M1105.6 811.3L1103.1 810.7M1162.7 808.4L1157.3 806.0M1143.7 825.9L1143.4 824.2M1089.9 855.2L1095.2 857.8M1142.7 844.2L1125.6 838.7M1118.4 873.8L1116.9 875.5M1095.6 891.3L1094.6 895.8M1138.1 879.8L1136.2 878.0M1090.4 898.4L1092.6 897.9M1096.7 914.8L1094.4 912.6M1038.8 1000.5L1036.6 998.3M821.2 794.1L823.4 796.3M831.0 808.4L827.9 806.6M860.6 824.7L846.6 828.8M830.9 840.6L833.6 842.6M853.7 844.5L851.6 846.4M797.8 851.6L802.2 852.3M839.2 850.0L842.0 848.9M853.0 850.5L846.6 848.1M785.8 862.6L790.0 860.2M829.4 869.0L833.4 867.7M854.0 866.6L849.9 863.5M807.5 884.8L843.5 863.4M798.5 921.6L786.3 941.4M779.6 939.5L778.0 953.7M751.1 950.6L757.3 968.0M777.8 968.1L781.4 970.5M850.6 971.6L847.4 974.0M816.9 976.7L803.8 979.9M749.9 987.7L750.2 991.9M850.8 984.4L845.4 981.2M772.8 1005.0L768.1 1006.6M835.2 1016.3L837.6 1018.2M843.7 1002.3L841.6 1000.1M759.3 1010.1L762.9 1002.3M848.5 1028.0L842.4 1028.4M778.0 1033.0L775.9 1026.6M832.1 1037.6L833.8 1032.0M862.1 1037.3L842.3 1029.2M845.1 1055.1L835.0 1031.9" stroke="#000" stroke-width="1.05" fill="none"/>
<path d="M1088.2 628.0h26.5a2.2 2.2 0 0 1 2.2 2.2v9.6a2.2 2.2 0 0 1 -2.2 2.2h-26.5a2.2 2.2 0 0 1 -2.2 -2.2v-9.6a2.2 2.2 0 0 1 2.2 -2.2zM1002.3 645.5h22.5a2.2 2.2 0 0 1 2.2 2.2v9.6a2.2 2.2 0 0 1 -2.2 2.2h-22.5a2.2 2.2 0 0 1 -2.2 -2.2v-9.6a2.2 2.2 0 0 1 2.2 -2.2zM1121.7 651.9h35.9a2.2 2.2 0 0 1 2.2 2.2v9.6a2.2 2.2 0 0 1 -2.2 2.2h-35.9a2.2 2.2 0 0 1 -2.2 -2.2v-9.6a2.2 2.2 0 0 1 2.2 -2.2zM1030.7 663.4h29.4a2.2 2.2 0 0 1 2.2 2.2v9.6a2.2 2.2 0 0 1 -2.2 2.2h-29.4a2.2 2.2 0 0 1 -2.2 -2.2v-9.6a2.2 2.2 0 0 1 2.2 -2.2zM1063.2 687.6h25.8a2.2 2.2 0 0 1 2.2 2.2v9.6a2.2 2.2 0 0 1 -2.2 2.2h-25.8a2.2 2.2 0 0 1 -2.2 -2.2v-9.6a2.2 2.2 0 0 1 2.2 -2.2zM1108.3 687.6h28.3a2.2 2.2 0 0 1 2.2 2.2v9.6a2.2 2.2 0 0 1 -2.2 2.2h-28.3a2.2 2.2 0 0 1 -2.2 -2.2v-9.6a2.2 2.2 0 0 1 2.2 -2.2zM1200.5 687.6h24.7a2.2 2.2 0 0 1 2.2 2.2v9.6a2.2 2.2 0 0 1 -2.2 2.2h-24.7a2.2 2.2 0 0 1 -2.2 -2.2v-9.6a2.2 2.2 0 0 1 2.2 -2.2zM1011.6 699.8h18.9a2.2 2.2 0 0 1 2.2 2.2v9.6a2.2 2.2 0 0 1 -2.2 2.2h-18.9a2.2 2.2 0 0 1 -2.2 -2.2v-9.6a2.2 2.2 0 0 1 2.2 -2.2zM1097.0 709.4h25.3a2.2 2.2 0 0 1 2.2 2.2v9.6a2.2 2.2 0 0 1 -2.2 2.2h-25.3a2.2 2.2 0 0 1 -2.2 -2.2v-9.6a2.2 2.2 0 0 1 2.2 -2.2zM1045.7 711.9h17.8a2.2 2.2 0 0 1 2.2 2.2v9.6a2.2 2.2 0 0 1 -2.2 2.2h-17.8a2.2 2.2 0 0 1 -2.2 -2.2v-9.6a2.2 2.2 0 0 1 2.2 -2.2zM1071.3 718.4h18.2a2.2 2.2 0 0 1 2.2 2.2v9.6a2.2 2.2 0 0 1 -2.2 2.2h-18.2a2.2 2.2 0 0 1 -2.2 -2.2v-9.6a2.2 2.2 0 0 1 2.2 -2.2zM1000.3 729.8h28.7a2.2 2.2 0 0 1 2.2 2.2v9.6a2.2 2.2 0 0 1 -2.2 2.2h-28.7a2.2 2.2 0 0 1 -2.2 -2.2v-9.6a2.2 2.2 0 0 1 2.2 -2.2zM1124.4 730.1h23.3a2.2 2.2 0 0 1 2.2 2.2v9.6a2.2 2.2 0 0 1 -2.2 2.2h-23.3a2.2 2.2 0 0 1 -2.2 -2.2v-9.6a2.2 2.2 0 0 1 2.2 -2.2zM1053.2 747.3h22.9a2.2 2.2 0 0 1 2.2 2.2v9.6a2.2 2.2 0 0 1 -2.2 2.2h-22.9a2.2 2.2 0 0 1 -2.2 -2.2v-9.6a2.2 2.2 0 0 1 2.2 -2.2zM1096.0 747.6h34.5a2.2 2.2 0 0 1 2.2 2.2v9.6a2.2 2.2 0 0 1 -2.2 2.2h-34.5a2.2 2.2 0 0 1 -2.2 -2.2v-9.6a2.2 2.2 0 0 1 2.2 -2.2zM1138.3 747.6h31.9a2.2 2.2 0 0 1 2.2 2.2v9.6a2.2 2.2 0 0 1 -2.2 2.2h-31.9a2.2 2.2 0 0 1 -2.2 -2.2v-9.6a2.2 2.2 0 0 1 2.2 -2.2zM1118.0 765.9h31.9a2.2 2.2 0 0 1 2.2 2.2v9.6a2.2 2.2 0 0 1 -2.2 2.2h-31.9a2.2 2.2 0 0 1 -2.2 -2.2v-9.6a2.2 2.2 0 0 1 2.2 -2.2zM1157.4 765.9h33.0a2.2 2.2 0 0 1 2.2 2.2v9.6a2.2 2.2 0 0 1 -2.2 2.2h-33.0a2.2 2.2 0 0 1 -2.2 -2.2v-9.6a2.2 2.2 0 0 1 2.2 -2.2zM1078.6 770.1h21.5a2.2 2.2 0 0 1 2.2 2.2v9.6a2.2 2.2 0 0 1 -2.2 2.2h-21.5a2.2 2.2 0 0 1 -2.2 -2.2v-9.6a2.2 2.2 0 0 1 2.2 -2.2zM1146.6 783.4h22.5a2.2 2.2 0 0 1 2.2 2.2v9.6a2.2 2.2 0 0 1 -2.2 2.2h-22.5a2.2 2.2 0 0 1 -2.2 -2.2v-9.6a2.2 2.2 0 0 1 2.2 -2.2zM1114.8 790.1h24.7a2.2 2.2 0 0 1 2.2 2.2v9.6a2.2 2.2 0 0 1 -2.2 2.2h-24.7a2.2 2.2 0 0 1 -2.2 -2.2v-9.6a2.2 2.2 0 0 1 2.2 -2.2zM1107.8 807.3h22.2a2.2 2.2 0 0 1 2.2 2.2v9.6a2.2 2.2 0 0 1 -2.2 2.2h-22.2a2.2 2.2 0 0 1 -2.2 -2.2v-9.6a2.2 2.2 0 0 1 2.2 -2.2zM1160.6 808.4h36.6a2.2 2.2 0 0 1 2.2 2.2v9.6a2.2 2.2 0 0 1 -2.2 2.2h-36.6a2.2 2.2 0 0 1 -2.2 -2.2v-9.6a2.2 2.2 0 0 1 2.2 -2.2zM1086.9 821.6h33.3a2.2 2.2 0 0 1 2.2 2.2v9.6a2.2 2.2 0 0 1 -2.2 2.2h-33.3a2.2 2.2 0 0 1 -2.2 -2.2v-9.6a2.2 2.2 0 0 1 2.2 -2.2zM1129.6 825.9h30.1a2.2 2.2 0 0 1 2.2 2.2v9.6a2.2 2.2 0 0 1 -2.2 2.2h-30.1a2.2 2.2 0 0 1 -2.2 -2.2v-9.6a2.2 2.2 0 0 1 2.2 -2.2zM1065.9 841.9h21.8a2.2 2.2 0 0 1 2.2 2.2v9.6a2.2 2.2 0 0 1 -2.2 2.2h-21.8a2.2 2.2 0 0 1 -2.2 -2.2v-9.6a2.2 2.2 0 0 1 2.2 -2.2zM1144.9 843.7h36.6a2.2 2.2 0 0 1 2.2 2.2v9.6a2.2 2.2 0 0 1 -2.2 2.2h-36.6a2.2 2.2 0 0 1 -2.2 -2.2v-9.6a2.2 2.2 0 0 1 2.2 -2.2zM1111.6 859.8h26.2a2.2 2.2 0 0 1 2.2 2.2v9.6a2.2 2.2 0 0 1 -2.2 2.2h-26.2a2.2 2.2 0 0 1 -2.2 -2.2v-9.6a2.2 2.2 0 0 1 2.2 -2.2zM1083.5 877.3h27.2a2.2 2.2 0 0 1 2.2 2.2v9.6a2.2 2.2 0 0 1 -2.2 2.2h-27.2a2.2 2.2 0 0 1 -2.2 -2.2v-9.6a2.2 2.2 0 0 1 2.2 -2.2zM1135.0 879.8h20.7a2.2 2.2 0 0 1 2.2 2.2v9.6a2.2 2.2 0 0 1 -2.2 2.2h-20.7a2.2 2.2 0 0 1 -2.2 -2.2v-9.6a2.2 2.2 0 0 1 2.2 -2.2zM1065.3 894.8h22.9a2.2 2.2 0 0 1 2.2 2.2v9.6a2.2 2.2 0 0 1 -2.2 2.2h-22.9a2.2 2.2 0 0 1 -2.2 -2.2v-9.6a2.2 2.2 0 0 1 2.2 -2.2zM1090.0 914.8h28.0a2.2 2.2 0 0 1 2.2 2.2v9.6a2.2 2.2 0 0 1 -2.2 2.2h-28.0a2.2 2.2 0 0 1 -2.2 -2.2v-9.6a2.2 2.2 0 0 1 2.2 -2.2zM1032.5 1000.5h27.2a2.2 2.2 0 0 1 2.2 2.2v9.6a2.2 2.2 0 0 1 -2.2 2.2h-27.2a2.2 2.2 0 0 1 -2.2 -2.2v-9.6a2.2 2.2 0 0 1 2.2 -2.2zM802.8 780.1h22.2a2.2 2.2 0 0 1 2.2 2.2v9.6a2.2 2.2 0 0 1 -2.2 2.2h-22.2a2.2 2.2 0 0 1 -2.2 -2.2v-9.6a2.2 2.2 0 0 1 2.2 -2.2zM831.4 808.4h23.6a2.2 2.2 0 0 1 2.2 2.2v9.6a2.2 2.2 0 0 1 -2.2 2.2h-23.6a2.2 2.2 0 0 1 -2.2 -2.2v-9.6a2.2 2.2 0 0 1 2.2 -2.2zM862.8 813.4h25.8a2.2 2.2 0 0 1 2.2 2.2v9.6a2.2 2.2 0 0 1 -2.2 2.2h-25.8a2.2 2.2 0 0 1 -2.2 -2.2v-9.6a2.2 2.2 0 0 1 2.2 -2.2zM803.1 826.6h36.6a2.2 2.2 0 0 1 2.2 2.2v9.6a2.2 2.2 0 0 1 -2.2 2.2h-36.6a2.2 2.2 0 0 1 -2.2 -2.2v-9.6a2.2 2.2 0 0 1 2.2 -2.2zM850.0 830.5h22.9a2.2 2.2 0 0 1 2.2 2.2v9.6a2.2 2.2 0 0 1 -2.2 2.2h-22.9a2.2 2.2 0 0 1 -2.2 -2.2v-9.6a2.2 2.2 0 0 1 2.2 -2.2zM773.0 842.6h22.5a2.2 2.2 0 0 1 2.2 2.2v9.6a2.2 2.2 0 0 1 -2.2 2.2h-22.5a2.2 2.2 0 0 1 -2.2 -2.2v-9.6a2.2 2.2 0 0 1 2.2 -2.2zM810.8 849.4h26.2a2.2 2.2 0 0 1 2.2 2.2v9.6a2.2 2.2 0 0 1 -2.2 2.2h-26.2a2.2 2.2 0 0 1 -2.2 -2.2v-9.6a2.2 2.2 0 0 1 2.2 -2.2zM855.2 848.7h23.3a2.2 2.2 0 0 1 2.2 2.2v9.6a2.2 2.2 0 0 1 -2.2 2.2h-23.3a2.2 2.2 0 0 1 -2.2 -2.2v-9.6a2.2 2.2 0 0 1 2.2 -2.2zM757.1 862.6h33.7a2.2 2.2 0 0 1 2.2 2.2v9.6a2.2 2.2 0 0 1 -2.2 2.2h-33.7a2.2 2.2 0 0 1 -2.2 -2.2v-9.6a2.2 2.2 0 0 1 2.2 -2.2zM798.5 867.3h28.7a2.2 2.2 0 0 1 2.2 2.2v9.6a2.2 2.2 0 0 1 -2.2 2.2h-28.7a2.2 2.2 0 0 1 -2.2 -2.2v-9.6a2.2 2.2 0 0 1 2.2 -2.2zM854.1 866.6h18.2a2.2 2.2 0 0 1 2.2 2.2v9.6a2.2 2.2 0 0 1 -2.2 2.2h-18.2a2.2 2.2 0 0 1 -2.2 -2.2v-9.6a2.2 2.2 0 0 1 2.2 -2.2zM785.7 884.8h20.0a2.2 2.2 0 0 1 2.2 2.2v9.6a2.2 2.2 0 0 1 -2.2 2.2h-20.0a2.2 2.2 0 0 1 -2.2 -2.2v-9.6a2.2 2.2 0 0 1 2.2 -2.2zM789.2 907.6h27.2a2.2 2.2 0 0 1 2.2 2.2v9.6a2.2 2.2 0 0 1 -2.2 2.2h-27.2a2.2 2.2 0 0 1 -2.2 -2.2v-9.6a2.2 2.2 0 0 1 2.2 -2.2zM771.6 925.5h17.5a2.2 2.2 0 0 1 2.2 2.2v9.6a2.2 2.2 0 0 1 -2.2 2.2h-17.5a2.2 2.2 0 0 1 -2.2 -2.2v-9.6a2.2 2.2 0 0 1 2.2 -2.2zM731.2 936.6h34.8a2.2 2.2 0 0 1 2.2 2.2v9.6a2.2 2.2 0 0 1 -2.2 2.2h-34.8a2.2 2.2 0 0 1 -2.2 -2.2v-9.6a2.2 2.2 0 0 1 2.2 -2.2zM755.9 954.1h22.5a2.2 2.2 0 0 1 2.2 2.2v9.6a2.2 2.2 0 0 1 -2.2 2.2h-22.5a2.2 2.2 0 0 1 -2.2 -2.2v-9.6a2.2 2.2 0 0 1 2.2 -2.2zM848.0 957.6h24.0a2.2 2.2 0 0 1 2.2 2.2v9.6a2.2 2.2 0 0 1 -2.2 2.2h-24.0a2.2 2.2 0 0 1 -2.2 -2.2v-9.6a2.2 2.2 0 0 1 2.2 -2.2zM819.1 966.6h21.1a2.2 2.2 0 0 1 2.2 2.2v9.6a2.2 2.2 0 0 1 -2.2 2.2h-21.1a2.2 2.2 0 0 1 -2.2 -2.2v-9.6a2.2 2.2 0 0 1 2.2 -2.2zM731.0 973.7h36.6a2.2 2.2 0 0 1 2.2 2.2v9.6a2.2 2.2 0 0 1 -2.2 2.2h-36.6a2.2 2.2 0 0 1 -2.2 -2.2v-9.6a2.2 2.2 0 0 1 2.2 -2.2zM795.5 984.1h29.0a2.2 2.2 0 0 1 2.2 2.2v9.6a2.2 2.2 0 0 1 -2.2 2.2h-29.0a2.2 2.2 0 0 1 -2.2 -2.2v-9.6a2.2 2.2 0 0 1 2.2 -2.2zM847.8 984.4h29.4a2.2 2.2 0 0 1 2.2 2.2v9.6a2.2 2.2 0 0 1 -2.2 2.2h-29.4a2.2 2.2 0 0 1 -2.2 -2.2v-9.6a2.2 2.2 0 0 1 2.2 -2.2zM775.0 993.0h25.8a2.2 2.2 0 0 1 2.2 2.2v9.6a2.2 2.2 0 0 1 -2.2 2.2h-25.8a2.2 2.2 0 0 1 -2.2 -2.2v-9.6a2.2 2.2 0 0 1 2.2 -2.2zM817.5 1002.3h17.8a2.2 2.2 0 0 1 2.2 2.2v9.6a2.2 2.2 0 0 1 -2.2 2.2h-17.8a2.2 2.2 0 0 1 -2.2 -2.2v-9.6a2.2 2.2 0 0 1 2.2 -2.2zM843.2 1002.3h15.0a2.2 2.2 0 0 1 2.2 2.2v9.6a2.2 2.2 0 0 1 -2.2 2.2h-15.0a2.2 2.2 0 0 1 -2.2 -2.2v-9.6a2.2 2.2 0 0 1 2.2 -2.2zM745.2 1010.1h21.7a2.2 2.2 0 0 1 2.2 2.2v9.6a2.2 2.2 0 0 1 -2.2 2.2h-21.7a2.2 2.2 0 0 1 -2.2 -2.2v-9.6a2.2 2.2 0 0 1 2.2 -2.2zM803.0 1019.8h18.2a2.2 2.2 0 0 1 2.2 2.2v9.6a2.2 2.2 0 0 1 -2.2 2.2h-18.2a2.2 2.2 0 0 1 -2.2 -2.2v-9.6a2.2 2.2 0 0 1 2.2 -2.2zM850.7 1019.8h26.5a2.2 2.2 0 0 1 2.2 2.2v9.6a2.2 2.2 0 0 1 -2.2 2.2h-26.5a2.2 2.2 0 0 1 -2.2 -2.2v-9.6a2.2 2.2 0 0 1 2.2 -2.2zM768.7 1033.0h23.3a2.2 2.2 0 0 1 2.2 2.2v9.6a2.2 2.2 0 0 1 -2.2 2.2h-23.3a2.2 2.2 0 0 1 -2.2 -2.2v-9.6a2.2 2.2 0 0 1 2.2 -2.2zM816.0 1037.6h28.0a2.2 2.2 0 0 1 2.2 2.2v9.6a2.2 2.2 0 0 1 -2.2 2.2h-28.0a2.2 2.2 0 0 1 -2.2 -2.2v-9.6a2.2 2.2 0 0 1 2.2 -2.2zM862.1 1037.3h34.5a2.2 2.2 0 0 1 2.2 2.2v9.6a2.2 2.2 0 0 1 -2.2 2.2h-34.5a2.2 2.2 0 0 1 -2.2 -2.2v-9.6a2.2 2.2 0 0 1 2.2 -2.2zM834.6 1055.1h27.2a2.2 2.2 0 0 1 2.2 2.2v9.6a2.2 2.2 0 0 1 -2.2 2.2h-27.2a2.2 2.2 0 0 1 -2.2 -2.2v-9.6a2.2 2.2 0 0 1 2.2 -2.2z" stroke="#111" stroke-width="1.05" fill="#fff"/>
<g font-size="6.50" text-anchor="middle" fill="#1a1a1a"><text x="1101.4" y="637.2">LAMB3</text><text x="1013.6" y="654.8">SDC1</text><text x="1139.6" y="661.2">TMPRSS4</text><text x="1045.4" y="672.6">SLC2A1</text><text x="1076.1" y="696.9">ZG16B</text><text x="1122.5" y="696.9">TRIM29</text><text x="1212.9" y="696.9">S100P</text><text x="1021.1" y="709.0">MET</text><text x="1109.6" y="718.7">KRT19</text><text x="1054.6" y="721.2">HK2</text><text x="1080.4" y="727.6">SFN</text><text x="1014.6" y="739.0">SMAGP</text><text x="1136.1" y="739.4">MSLN</text><text x="1064.6" y="756.5">AGR2</text><text x="1113.2" y="756.9">SDR16C5</text><text x="1154.3" y="756.9">GPRC5A</text><text x="1133.9" y="775.1">C19orf33</text><text x="1173.9" y="775.1">SLC6A14</text><text x="1089.3" y="779.4">GJB2</text><text x="1157.9" y="792.6">CTSE</text><text x="1127.1" y="799.4">KLK10</text><text x="1118.9" y="816.5">DKK1</text><text x="1178.9" y="817.6">CEACAM5</text><text x="1103.6" y="830.8">COL11A1</text><text x="1144.6" y="835.1">CLDN18</text><text x="1076.8" y="851.2">LCN2</text><text x="1163.2" y="853.0">CEACAM6</text><text x="1124.6" y="869.0">CXCL5</text><text x="1097.1" y="886.5">DPCR1</text><text x="1145.4" y="889.0">TFF1</text><text x="1076.8" y="904.0">PSCA</text><text x="1103.9" y="924.0">GABRP</text><text x="1046.1" y="1009.8">DMBT1</text><text x="813.9" y="789.4">PDK4</text><text x="843.2" y="817.6">MT1M</text><text x="875.7" y="822.6">MYRIP</text><text x="821.4" y="835.8">SLC16A10</text><text x="861.4" y="839.8">LMO3</text><text x="784.3" y="851.9">AOX1</text><text x="823.9" y="858.7">AKAP7</text><text x="866.8" y="858.0">MT1G</text><text x="773.9" y="871.9">FAM150B</text><text x="812.9" y="876.5">DIRAS3</text><text x="863.2" y="875.8">DPT</text><text x="795.7" y="894.0">DMD</text><text x="802.9" y="916.9">TMED6</text><text x="780.4" y="934.8">ALB</text><text x="748.6" y="945.8">SERPINI2</text><text x="767.1" y="963.3">AQP8</text><text x="860.0" y="966.9">SCGN</text><text x="829.6" y="975.8">KLK1</text><text x="749.3" y="983.0">PNLIPRP2</text><text x="810.0" y="993.3">LEFTY1</text><text x="862.5" y="993.7">SLC4A4</text><text x="787.9" y="1002.2">ERP27</text><text x="826.4" y="1011.5">SST</text><text x="850.7" y="1011.5">GC</text><text x="756.1" y="1019.4">CPA2</text><text x="812.1" y="1029.0">GP2</text><text x="863.9" y="1029.0">PRSS3</text><text x="780.4" y="1042.2">CTRC</text><text x="830.0" y="1046.9">REG3G</text><text x="879.3" y="1046.5">PRSS3P2</text><text x="848.2" y="1064.4">REG1A</text></g>
<rect x="728.2" y="622.9" width="501.1" height="493.4" fill="none" stroke="#555" stroke-width="1.3"/>
<path d="M828.6 1116.3v3.3M936.8 1116.3v3.3M1045.0 1116.3v3.3M1153.2 1116.3v3.3M728.2 1094.3h-3.3M728.2 978.5h-3.3M728.2 862.8h-3.3M728.2 747.0h-3.3M728.2 631.3h-3.3" stroke="#222" stroke-width="1.5" fill="none"/>
<g font-size="11.7" fill="#4d4d4d"><text x="828.6" y="1131.1" text-anchor="middle">−2.5</text><text x="936.8" y="1131.1" text-anchor="middle">0.0</text><text x="1045.0" y="1131.1" text-anchor="middle">2.5</text><text x="1153.2" y="1131.1" text-anchor="middle">5.0</text><text x="721.8" y="1097.8" text-anchor="end">0.0</text><text x="721.8" y="982.0" text-anchor="end">2.5</text><text x="721.8" y="866.3" text-anchor="end">5.0</text><text x="721.8" y="750.5" text-anchor="end">7.5</text><text x="721.8" y="634.8" text-anchor="end">10.0</text></g>
<text x="978.8" y="1147.3" font-size="14.6" text-anchor="middle">logFC</text>
<text transform="translate(692.7 869.6) rotate(-90)" font-size="14.6" text-anchor="middle">−log10(adj.P.Val)</text>
<text x="1251.3" y="837.8" font-size="14.6">Sig</text>
<circle cx="1261.8" cy="857.7" r="2.95" fill="#00f000"/>
<text x="1280.8" y="861.9" font-size="11.7">Down</text>
<circle cx="1261.8" cy="880.0" r="2.95" fill="#000"/>
<text x="1280.8" y="884.2" font-size="11.7">Not</text>
<circle cx="1261.8" cy="902.2" r="2.95" fill="#f00000"/>
<text x="1280.8" y="906.4" font-size="11.7">Up</text>
</g>
<g id="volC">
<rect x="1400.6" y="622.9" width="517.5" height="493.4" fill="#fff"/>
<path d="M1480.9 622.9V1116.3M1579.5 622.9V1116.3M1678.1 622.9V1116.3M1776.7 622.9V1116.3M1875.4 622.9V1116.3M1400.6 1044.5H1918.1M1400.6 945.0H1918.1M1400.6 845.5H1918.1M1400.6 746.0H1918.1M1400.6 646.5H1918.1" stroke="#ebebeb" stroke-width="0.6" fill="none"/>
<path d="M1431.5 622.9V1116.3M1530.2 622.9V1116.3M1628.8 622.9V1116.3M1727.4 622.9V1116.3M1826.0 622.9V1116.3M1400.6 1094.3H1918.1M1400.6 994.8H1918.1M1400.6 895.3H1918.1M1400.6 795.8H1918.1M1400.6 696.3H1918.1" stroke="#ebebeb" stroke-width="1.2" fill="none"/>
<path d="M1629.0 1094.7 L1646.4 1092.0 L1658.4 1084.0 L1669.3 1073.1 L1678.9 1059.4 L1685.8 1045.6 L1692.6 1031.9 L1696.7 1018.2 L1699.4 1004.7 L1696.7 991.2 L1692.7 977.7 L1683.2 964.1 L1672.4 953.3 L1659.1 946.7 L1647.6 948.0 L1642.7 952.9 L1638.7 963.5 L1635.9 984.1 L1635.2 1004.8 L1635.2 1004.8 L1634.5 1021.4 L1634.5 1021.6 L1633.8 1027.1 L1633.8 1027.2 L1633.8 1027.4 L1633.7 1027.5 L1633.7 1027.6 L1633.6 1027.8 L1633.5 1027.9 L1633.4 1028.0 L1633.3 1028.1 L1633.2 1028.2 L1633.0 1028.2 L1632.9 1028.3 L1632.8 1028.4 L1632.6 1028.4 L1632.5 1028.4 L1632.3 1028.4 L1632.2 1028.4 L1632.0 1028.4 L1631.9 1028.3 L1631.7 1028.3 L1631.6 1028.2 L1631.5 1028.1 L1631.4 1028.0 L1631.3 1027.9 L1631.2 1027.8 L1631.1 1027.7 L1631.0 1027.6 L1631.0 1027.4 L1630.9 1027.3 L1630.9 1027.2 L1630.9 1027.0 L1630.4 1021.5 L1630.4 1021.4 L1630.2 1004.8 L1629.5 984.0 L1627.4 963.5 L1623.5 953.1 L1618.8 950.8 L1608.4 950.8 L1597.7 954.8 L1586.9 961.6 L1577.5 971.0 L1570.7 984.5 L1566.6 998.1 L1565.3 1011.7 L1566.6 1025.2 L1570.7 1038.9 L1576.2 1052.6 L1584.4 1066.2 L1595.3 1079.9 L1606.0 1089.3 z" fill="#000"/>
<path d="M1635.8 1009.9h0M1575.7 1046.7h0M1636.9 982.1h0M1613.9 939.9h0M1568.4 1045.1h0M1564.0 974.5h0M1689.5 948.3h0M1569.1 996.5h0M1684.2 964.4h0M1681.7 963.2h0M1571.7 979.1h0M1580.7 1061.8h0M1612.1 951.4h0M1699.0 999.2h0M1692.5 977.3h0M1690.0 968.6h0M1640.4 963.0h0M1688.2 974.6h0M1696.8 997.3h0M1693.6 963.0h0M1601.9 955.5h0M1661.6 1083.1h0M1580.9 923.9h0M1680.3 957.0h0M1612.1 953.0h0M1648.2 1093.5h0M1578.4 970.1h0M1662.2 929.3h0M1648.0 950.9h0M1701.9 1014.6h0M1621.8 951.2h0M1634.0 1028.1h0M1639.4 961.9h0M1719.8 1008.6h0M1572.3 1044.1h0M1648.8 943.9h0M1686.1 968.4h0M1705.8 1008.5h0M1679.4 1058.8h0M1612.1 1090.2h0M1677.5 960.9h0M1575.9 1073.3h0M1573.1 972.7h0M1608.5 952.4h0M1692.2 1054.5h0M1646.8 948.1h0M1595.5 1085.1h0M1598.7 953.0h0M1700.0 1032.3h0M1562.1 1016.1h0M1574.0 979.6h0M1696.9 990.3h0M1627.1 988.4h0M1675.7 952.2h0M1608.3 934.4h0M1598.1 1088.5h0M1625.5 954.1h0M1561.7 971.3h0M1634.1 1021.7h0M1697.2 990.7h0M1635.7 998.8h0M1566.0 969.7h0M1589.4 951.6h0M1676.6 952.7h0M1649.2 945.2h0M1691.9 951.1h0M1569.6 1046.3h0M1571.7 980.3h0M1693.0 1043.3h0M1583.1 1065.0h0M1605.2 950.8h0M1660.5 1080.1h0M1625.0 964.1h0M1669.2 952.6h0M1592.0 1077.1h0M1555.2 996.6h0M1567.2 1015.0h0M1567.1 1011.8h0M1579.5 1058.4h0M1664.4 948.8h0M1701.4 963.5h0M1645.2 947.4h0M1645.6 933.5h0M1701.3 1012.9h0M1697.2 984.8h0M1612.4 947.6h0M1639.4 969.1h0M1637.4 983.2h0M1689.4 959.0h0M1607.3 953.1h0M1671.1 1071.1h0M1549.8 1040.9h0M1558.8 1069.8h0M1599.8 941.9h0M1677.1 1063.6h0M1691.0 1029.6h0M1624.9 959.4h0M1586.6 964.9h0M1563.6 1012.2h0M1562.6 991.6h0M1693.3 981.1h0M1647.7 949.3h0M1562.1 1015.6h0M1595.1 958.3h0M1636.3 976.0h0M1645.3 1090.5h0M1574.2 1049.2h0M1636.7 980.8h0M1567.6 1011.4h0M1576.6 1052.0h0M1691.7 1026.3h0M1635.6 1014.7h0M1687.7 973.1h0M1672.0 1067.9h0M1666.7 1072.4h0M1690.8 1040.7h0M1682.6 1062.5h0M1712.0 1034.5h0M1566.1 1014.3h0M1683.6 1049.4h0M1702.4 999.5h0M1666.2 1073.1h0M1561.9 1013.5h0M1695.5 993.9h0M1640.9 958.5h0M1637.8 1093.0h0M1696.0 1037.6h0M1570.2 1053.4h0M1686.1 966.8h0M1657.8 945.4h0M1590.0 1078.7h0M1584.5 1063.9h0M1695.7 987.6h0M1659.9 940.9h0M1635.2 1000.6h0M1597.5 956.6h0M1698.5 1008.3h0M1671.8 952.5h0M1670.6 1079.5h0M1582.1 969.6h0M1663.4 1079.5h0M1667.2 1074.1h0M1590.1 1078.6h0M1565.4 1026.2h0M1636.4 1016.0h0M1699.1 990.0h0M1636.5 970.0h0M1689.3 1035.1h0M1581.0 969.9h0M1638.2 968.3h0M1547.9 1044.3h0M1661.9 1080.9h0M1657.0 948.3h0M1607.0 952.7h0M1677.9 954.9h0M1656.4 940.2h0M1710.9 1038.3h0M1658.4 1081.2h0M1653.7 942.1h0M1709.0 1026.1h0M1589.1 961.2h0M1644.5 946.7h0M1692.4 1024.2h0M1666.7 949.7h0M1579.4 1064.3h0M1645.8 1090.5h0M1627.9 1000.1h0M1655.0 938.7h0M1618.8 951.9h0M1586.0 1071.9h0M1693.4 1033.0h0M1566.6 1044.4h0M1571.7 941.7h0M1635.0 1091.5h0M1656.8 949.0h0M1566.2 1023.3h0M1642.4 947.5h0M1669.5 1072.7h0M1568.4 1019.5h0M1698.1 971.5h0M1690.2 1039.0h0M1569.4 993.7h0M1598.9 1083.1h0M1674.5 958.9h0M1690.1 971.6h0M1669.7 1071.2h0M1667.6 1078.1h0M1688.1 972.7h0M1576.4 1050.3h0M1637.3 964.9h0M1625.8 972.6h0M1685.4 967.5h0M1698.3 1012.1h0M1683.6 962.6h0M1689.0 972.8h0M1707.1 1038.2h0M1637.2 994.4h0M1579.1 1063.2h0M1565.7 1044.6h0M1578.4 964.4h0M1679.2 1072.2h0M1668.4 950.8h0M1545.2 1003.2h0M1571.5 1050.9h0M1587.8 1083.3h0M1656.8 1088.3h0M1634.3 1009.7h0M1652.8 949.4h0M1600.2 940.9h0M1597.8 1088.2h0M1635.6 1004.1h0M1566.3 1016.2h0M1697.0 961.7h0M1607.4 952.9h0M1655.5 1085.5h0M1680.7 1058.1h0M1637.4 990.9h0M1682.5 1060.6h0M1567.9 1027.2h0M1590.8 1072.9h0M1636.5 997.1h0M1695.0 975.4h0M1571.1 982.9h0M1688.6 968.6h0M1702.1 1003.8h0M1684.1 1047.5h0M1564.5 1019.0h0M1561.5 1017.7h0M1688.2 1041.6h0M1686.5 967.2h0M1564.7 978.6h0M1573.5 1059.2h0M1612.9 952.6h0M1574.9 1044.3h0M1595.6 1081.7h0M1598.7 950.5h0M1616.0 944.0h0M1556.7 1035.2h0M1575.3 955.2h0M1675.2 1064.7h0M1670.0 939.9h0M1583.7 962.0h0M1586.9 1069.9h0M1573.9 975.8h0M1626.3 972.4h0M1696.5 1017.8h0M1698.6 995.7h0M1684.3 967.8h0M1670.0 927.4h0M1688.6 972.5h0M1635.3 1007.6h0M1684.7 1043.0h0M1613.1 950.3h0M1673.0 1067.3h0M1696.3 1022.5h0M1584.3 964.3h0M1590.9 958.7h0M1558.9 984.2h0M1712.0 1015.6h0M1594.5 953.6h0M1590.7 961.5h0M1579.2 1056.5h0M1570.2 1036.9h0M1593.0 1073.4h0M1696.6 997.4h0M1719.0 996.2h0M1638.8 958.9h0M1583.7 1067.5h0M1616.8 1091.7h0M1594.7 1079.9h0M1570.8 970.4h0M1671.0 1069.2h0M1688.8 1058.8h0M1588.1 1070.2h0M1545.9 1028.2h0M1594.3 957.8h0M1659.2 1080.2h0M1587.8 1081.0h0M1615.8 1092.7h0M1658.8 943.9h0M1683.3 1063.0h0M1672.1 954.1h0M1614.8 1090.2h0M1568.2 1005.2h0M1703.0 1015.4h0M1627.8 976.6h0M1727.7 1023.6h0M1601.6 1093.1h0M1567.0 1043.4h0M1636.1 1015.7h0M1563.1 1014.2h0M1662.5 944.0h0M1624.1 1092.4h0M1563.4 1002.6h0M1637.4 1004.1h0M1563.5 979.3h0M1642.7 959.8h0M1568.2 996.5h0M1577.7 1063.3h0M1588.2 1076.4h0M1609.3 940.7h0M1574.0 1042.2h0M1617.6 1092.0h0M1566.3 982.3h0M1567.9 1012.9h0M1643.7 954.8h0M1577.0 976.9h0M1579.5 1056.3h0M1704.1 969.4h0M1613.5 952.3h0M1698.2 1008.4h0M1573.0 970.7h0M1569.0 1032.9h0M1702.4 1011.1h0M1686.3 1059.3h0M1575.9 1058.9h0M1582.6 957.7h0M1692.5 1032.3h0M1688.2 972.2h0M1629.0 1093.3h0M1694.4 974.6h0M1616.8 1089.7h0M1551.2 1020.2h0M1607.5 1088.6h0M1609.5 950.7h0M1699.7 999.0h0M1595.4 1084.7h0M1689.1 965.5h0M1678.7 1062.9h0M1573.9 975.9h0M1639.2 974.7h0M1653.8 1088.6h0M1604.2 1090.1h0M1626.6 962.0h0M1684.0 1049.3h0M1621.4 952.3h0M1594.5 954.4h0M1576.5 1050.7h0M1667.0 931.3h0M1599.4 952.2h0M1650.8 947.8h0M1604.2 1087.6h0M1627.5 997.2h0M1581.2 963.6h0M1653.4 949.4h0M1692.5 975.5h0M1529.5 1000.1h0M1605.4 1088.6h0M1607.8 950.7h0M1568.1 996.9h0M1558.7 996.4h0M1571.4 974.0h0M1694.6 1039.4h0M1667.5 949.4h0M1577.0 1056.8h0M1567.2 980.3h0M1678.8 1060.6h0M1713.4 1020.2h0M1639.5 967.6h0M1696.2 1017.0h0M1612.1 1093.2h0M1696.7 969.2h0M1622.9 1093.4h0M1569.4 1054.4h0M1648.8 929.2h0M1673.6 1063.0h0M1638.8 967.1h0M1613.3 932.2h0M1682.2 1051.1h0M1652.6 1085.1h0M1608.1 948.9h0M1606.1 951.3h0M1586.1 964.8h0M1699.4 1008.8h0M1639.6 975.2h0M1695.3 1021.0h0M1567.9 998.1h0M1588.3 962.4h0M1574.8 976.1h0M1584.1 966.5h0M1603.4 947.2h0M1561.0 1065.0h0M1567.6 1018.3h0M1721.2 1031.7h0M1594.4 956.8h0M1579.4 968.6h0M1635.9 999.4h0M1697.4 1012.1h0M1676.9 950.7h0M1634.8 1029.6h0M1629.4 1019.8h0M1664.4 1076.2h0M1603.1 1085.9h0M1602.5 1083.9h0M1576.2 1050.3h0M1569.3 1027.4h0M1629.7 1092.9h0M1648.5 1093.9h0M1603.0 1090.3h0M1698.1 1028.6h0M1699.5 975.2h0M1651.5 942.3h0M1693.3 982.5h0M1641.7 1094.1h0M1570.0 985.6h0M1678.6 955.2h0M1627.9 1000.5h0M1643.6 1090.3h0M1578.9 1066.0h0M1606.0 929.5h0M1707.4 992.5h0M1695.7 990.3h0M1635.2 1000.6h0M1581.3 961.5h0M1703.9 1013.0h0M1596.6 1084.0h0M1684.8 958.3h0M1683.7 1066.2h0M1611.3 950.1h0M1634.0 1021.4h0M1701.6 1001.8h0M1579.9 1063.1h0M1628.6 996.4h0M1641.7 1094.3h0M1605.5 922.4h0M1656.3 1090.8h0M1660.0 1084.3h0M1689.7 970.4h0M1602.3 930.6h0M1636.8 966.1h0M1573.6 1055.9h0M1652.4 1091.3h0M1564.9 1015.0h0M1571.8 1039.7h0M1678.9 1072.9h0M1578.5 965.7h0M1627.2 974.5h0M1601.3 1083.3h0M1637.8 971.8h0M1606.8 953.0h0M1587.4 962.9h0M1561.2 1031.9h0M1632.3 1094.2h0M1566.2 1001.8h0M1650.5 1090.6h0M1624.4 956.1h0M1609.4 1093.1h0M1673.1 942.9h0M1623.4 951.3h0M1694.4 910.4h0M1638.3 970.8h0M1626.4 1092.9h0M1656.7 936.1h0M1661.7 1086.0h0M1597.5 1085.9h0M1612.5 1093.2h0M1580.4 1062.3h0M1640.8 953.1h0M1602.0 922.6h0M1696.5 1002.4h0M1569.4 979.1h0M1664.4 937.8h0M1686.3 1051.0h0M1573.5 1042.2h0M1648.6 1089.3h0M1672.4 1086.0h0M1661.6 949.1h0M1635.5 1006.9h0M1623.3 955.7h0M1571.7 1055.5h0M1587.5 1071.8h0M1634.2 1092.1h0M1634.2 1014.9h0M1700.0 985.2h0M1595.4 956.7h0M1622.2 1093.5h0M1641.6 1092.6h0M1635.7 981.1h0M1567.1 1034.9h0M1666.5 1075.4h0M1674.3 1071.0h0M1663.5 943.4h0M1694.4 985.6h0M1567.5 1040.9h0M1619.6 945.5h0M1566.2 1006.5h0M1622.7 1093.7h0M1693.9 984.0h0M1644.4 952.1h0M1724.3 973.7h0M1677.4 1063.7h0M1675.1 1065.9h0M1578.6 1064.8h0M1572.3 986.2h0M1698.3 1007.4h0M1650.4 1089.6h0M1566.8 1044.2h0M1609.3 1089.1h0M1688.7 972.5h0M1694.7 1015.8h0M1671.2 953.4h0M1578.1 1060.0h0M1570.7 1045.7h0M1581.1 1063.7h0M1571.8 1046.1h0M1636.6 993.2h0M1638.6 1092.0h0M1625.7 961.5h0M1592.5 1079.3h0M1554.9 1041.9h0M1692.0 1038.0h0M1583.4 1065.2h0M1669.2 951.8h0M1631.7 1015.0h0M1605.4 943.7h0M1602.4 1088.6h0M1618.2 948.9h0M1717.4 1005.6h0M1654.2 939.2h0M1695.8 1019.5h0M1601.0 956.0h0M1676.8 950.9h0M1683.0 1062.2h0M1566.2 1011.7h0M1568.5 993.0h0M1624.1 953.0h0M1565.3 1007.5h0M1627.9 994.8h0M1693.9 1027.0h0M1565.6 1001.9h0M1690.2 963.4h0M1628.6 994.3h0M1699.4 1005.7h0M1691.2 967.4h0M1570.9 1042.6h0M1547.0 1043.8h0M1658.1 1081.2h0M1628.8 995.5h0M1701.9 1007.5h0M1675.8 1070.7h0M1685.4 1064.5h0M1589.4 961.1h0M1706.5 1017.4h0M1580.7 966.0h0M1682.6 964.1h0M1552.2 992.4h0M1695.6 1030.7h0M1601.7 1091.4h0M1574.2 977.7h0M1700.2 981.7h0M1677.7 960.7h0M1661.2 1080.1h0M1583.8 1073.0h0M1628.3 971.9h0M1678.8 951.4h0M1665.5 946.8h0M1671.3 946.6h0M1572.1 1046.6h0M1629.5 1025.2h0M1696.3 994.4h0M1634.9 1025.6h0M1563.9 1017.1h0M1677.3 959.6h0M1680.3 945.2h0M1634.4 996.1h0M1616.6 947.4h0M1607.2 1090.3h0M1575.5 969.8h0M1617.7 946.8h0M1650.9 1090.9h0M1575.6 1050.7h0M1628.9 997.7h0M1635.0 987.9h0M1593.2 1084.2h0M1683.8 1059.3h0M1564.4 1032.3h0M1684.6 1051.1h0M1661.5 1085.0h0M1621.8 949.3h0M1581.9 1070.5h0M1663.7 947.1h0M1559.6 1026.0h0M1569.4 1033.7h0M1600.0 954.7h0M1568.9 998.0h0M1652.0 936.3h0M1691.6 972.1h0M1665.5 1073.7h0M1602.0 946.8h0M1634.9 981.9h0M1573.3 979.0h0M1647.0 949.7h0M1631.4 1012.4h0M1597.2 1082.7h0M1701.7 1039.4h0M1628.3 976.4h0M1580.0 1060.9h0M1650.2 1086.6h0M1608.8 1087.6h0M1693.4 987.2h0M1577.0 965.2h0M1617.3 927.3h0M1656.2 945.2h0M1679.4 962.8h0M1691.3 1054.6h0M1691.2 1031.0h0M1600.9 1093.8h0M1636.9 980.1h0M1612.2 1092.0h0M1608.3 951.4h0M1687.9 946.4h0M1684.8 1046.8h0M1657.9 949.2h0M1628.5 1025.5h0M1588.5 1069.4h0M1687.9 969.4h0M1691.3 980.8h0M1569.4 1038.6h0M1586.3 1067.6h0M1565.5 995.6h0M1657.9 1081.7h0M1672.7 951.8h0M1669.3 948.0h0M1689.3 977.0h0M1693.6 1049.7h0M1543.2 999.8h0M1624.1 950.1h0M1597.1 948.9h0M1567.8 1012.9h0M1655.9 942.6h0M1590.9 1084.4h0M1575.7 1048.5h0M1700.5 992.2h0M1679.2 1063.7h0M1627.5 987.7h0M1655.7 948.0h0M1660.3 1080.6h0M1578.1 954.5h0M1694.8 1029.5h0M1582.5 1082.1h0M1617.7 948.0h0M1609.0 949.5h0M1582.5 1062.4h0M1593.3 1074.2h0M1677.6 951.8h0M1628.2 971.1h0M1625.8 971.6h0M1612.5 944.6h0M1704.8 981.6h0M1608.2 939.1h0M1560.6 966.4h0M1571.2 957.6h0M1589.9 956.2h0M1614.3 1092.2h0M1654.9 926.7h0M1560.3 987.1h0M1620.2 946.5h0M1676.4 1059.0h0M1695.1 1026.1h0M1567.4 932.5h0M1647.8 1092.0h0M1672.3 1064.7h0M1632.5 1026.2h0M1653.6 1089.0h0M1682.8 1051.5h0M1685.4 1046.4h0M1568.9 972.4h0M1654.8 1088.0h0M1567.2 970.5h0M1674.3 1063.3h0M1699.5 987.6h0M1565.6 1010.2h0M1631.6 1019.4h0M1651.8 943.7h0M1620.1 1090.7h0M1623.9 960.4h0M1709.8 992.1h0M1706.0 980.7h0M1550.7 1063.2h0M1678.6 948.3h0M1583.6 1063.3h0M1637.0 1001.3h0M1709.1 1027.2h0M1673.5 953.0h0M1696.5 1056.2h0M1617.2 944.9h0M1681.0 1061.1h0M1576.4 1063.6h0M1629.0 1021.4h0M1625.2 1093.4h0M1686.9 1048.6h0M1629.6 1027.5h0M1622.6 956.9h0M1563.5 1014.7h0M1628.3 1005.2h0M1691.3 980.2h0M1637.2 988.9h0M1685.3 940.8h0M1584.0 1071.1h0M1567.9 1021.1h0M1637.7 1092.7h0M1676.5 1076.2h0M1587.5 1071.2h0M1581.5 966.5h0M1572.3 1049.3h0M1579.2 969.2h0M1671.8 946.7h0M1645.3 951.5h0M1584.2 1072.8h0M1700.4 945.5h0M1607.7 947.6h0M1663.9 948.2h0M1573.6 983.7h0M1663.2 1078.8h0M1570.9 1032.3h0M1697.4 986.9h0M1580.9 959.9h0M1579.4 1057.0h0M1579.8 1058.2h0M1555.9 977.6h0M1602.7 940.3h0M1699.0 985.3h0M1670.1 1068.3h0M1577.1 1057.3h0M1581.3 1083.1h0M1545.2 1005.3h0M1605.4 953.3h0M1605.9 942.7h0M1568.9 949.2h0M1704.1 999.3h0M1690.9 1039.2h0M1696.0 1025.4h0M1569.9 1030.0h0M1693.2 1025.1h0M1662.2 942.1h0M1641.1 951.0h0M1618.7 950.7h0M1642.4 958.6h0M1644.6 953.8h0M1692.1 1042.2h0M1645.3 919.0h0M1636.0 1008.1h0M1610.5 1090.2h0M1565.8 1034.4h0M1675.4 951.9h0M1703.7 998.9h0M1594.5 955.6h0M1685.6 1045.1h0M1693.9 984.1h0M1636.9 1003.5h0M1533.6 1032.5h0M1523.5 996.3h0M1548.3 978.5h0M1535.0 1004.6h0M1503.6 1027.3h0M1544.1 983.2h0M1515.3 1020.5h0M1511.3 982.8h0M1547.5 1015.7h0M1527.4 1010.1h0M1553.1 1049.1h0M1536.5 991.1h0M1544.7 1042.7h0M1559.9 1070.7h0M1547.0 1062.4h0M1559.5 1033.0h0M1481.3 1034.3h0M1557.1 981.9h0M1550.4 1017.7h0M1481.7 1034.7h0M1544.0 1049.2h0M1541.6 1033.9h0M1567.5 1078.8h0M1553.0 973.3h0M1521.4 1053.0h0M1551.6 976.3h0M1567.4 1044.7h0M1554.8 993.9h0M1565.8 998.2h0M1522.2 1041.9h0M1567.0 1052.3h0M1536.6 997.8h0M1554.2 969.1h0M1565.1 966.4h0M1541.0 1037.7h0M1550.7 1060.3h0M1542.4 1005.9h0M1522.1 1001.8h0M1527.0 1041.7h0M1555.8 1068.9h0M1527.0 1011.4h0M1492.4 1050.5h0M1546.4 980.4h0M1561.6 995.6h0M1567.1 1054.5h0M1555.8 1008.1h0M1541.6 967.7h0M1549.7 1070.8h0M1565.6 1059.8h0M1516.1 985.0h0M1556.2 1021.7h0M1560.8 1074.3h0M1493.1 1018.2h0M1564.7 980.0h0M1559.2 998.7h0M1565.2 1057.1h0M1560.3 1019.3h0M1535.4 1062.1h0M1562.2 1004.4h0M1507.3 1050.1h0M1554.9 1003.0h0M1499.6 1029.9h0M1532.7 986.7h0M1489.9 1052.5h0M1565.7 1046.8h0M1557.8 983.1h0M1568.7 975.9h0M1541.3 969.1h0M1564.9 1034.9h0M1549.3 1046.5h0M1523.0 977.3h0M1553.1 996.9h0M1546.5 1014.9h0M1566.4 1061.2h0M1551.4 1025.3h0M1534.6 1028.3h0M1535.8 1069.8h0M1498.3 1017.6h0M1557.5 1015.0h0M1512.2 987.9h0M1527.8 997.8h0M1561.4 1018.9h0M1548.5 1043.9h0M1541.4 993.2h0M1515.8 971.5h0M1524.2 1032.6h0M1542.9 1016.0h0M1548.2 973.0h0M1524.4 1013.3h0M1552.2 1036.4h0M1524.1 1034.4h0M1535.7 1010.3h0M1533.1 1017.9h0M1546.4 1070.7h0M1565.3 1062.0h0M1491.9 1017.5h0M1564.3 1042.5h0M1522.4 1013.0h0M1526.1 1034.3h0M1537.3 988.6h0M1541.4 1056.6h0M1547.2 997.7h0M1549.0 981.2h0M1566.5 988.1h0M1535.9 1031.7h0M1549.1 1017.0h0M1505.0 1006.3h0M1492.5 1013.0h0M1557.4 1024.6h0M1541.5 1037.3h0M1557.8 991.8h0M1553.0 998.6h0M1551.7 997.5h0M1557.4 1047.9h0M1528.0 1048.5h0M1558.3 1017.8h0M1565.3 1035.9h0M1542.6 977.9h0M1543.0 988.6h0M1571.6 1080.6h0M1555.5 1044.1h0M1551.6 1042.8h0M1560.6 965.9h0M1549.1 1072.1h0M1540.0 980.8h0M1539.4 979.3h0M1541.6 989.6h0M1556.6 1049.9h0M1558.8 1042.4h0M1510.1 990.0h0M1543.6 1055.9h0M1521.1 1023.7h0M1520.0 989.8h0M1519.6 1064.1h0M1572.2 1059.3h0M1561.6 1005.0h0M1530.1 1040.2h0M1567.7 1066.8h0M1564.9 973.1h0M1551.9 993.9h0M1547.2 999.2h0M1556.3 1029.1h0M1526.9 1009.6h0M1569.2 1068.0h0M1572.3 1058.9h0M1532.7 997.1h0M1566.1 1039.5h0M1572.3 1062.4h0M1523.9 994.3h0M1501.0 1038.2h0M1538.4 969.5h0M1556.4 1021.8h0M1553.5 1028.6h0M1565.0 1064.0h0M1533.8 1006.1h0M1507.2 1024.6h0M1534.5 985.2h0M1518.7 1061.8h0M1540.1 1014.4h0M1537.5 1048.3h0M1530.3 1000.6h0M1511.8 1006.2h0M1554.9 1023.4h0M1483.7 1016.4h0M1516.0 1007.4h0M1557.6 1049.9h0M1565.2 1069.5h0M1501.7 1054.8h0M1559.5 1011.6h0M1547.0 1061.1h0M1546.8 999.9h0M1564.7 991.3h0M1522.2 1004.9h0M1548.2 1070.9h0M1533.0 1049.4h0M1531.8 1022.8h0M1538.7 982.0h0M1553.2 1036.7h0M1557.9 1031.7h0M1567.3 1066.9h0M1563.0 1030.6h0M1557.7 1050.5h0M1535.3 1014.5h0M1550.4 968.8h0M1544.6 1015.6h0M1555.6 1038.1h0M1549.1 980.8h0M1555.4 1064.5h0M1573.5 1081.9h0M1558.8 977.9h0M1550.8 1074.8h0M1566.6 1051.5h0M1568.3 1055.5h0M1562.0 1057.1h0M1547.2 1012.2h0M1562.2 972.7h0M1537.4 993.2h0M1563.3 1077.2h0M1568.5 989.7h0M1555.6 1005.7h0M1537.8 988.8h0M1550.6 968.7h0M1551.9 1069.5h0M1565.1 989.9h0M1556.4 1011.5h0M1519.9 993.2h0M1558.3 1040.7h0M1519.8 1037.9h0M1538.9 1021.6h0M1543.2 1065.5h0M1562.2 1079.5h0M1537.5 967.7h0M1543.2 972.5h0M1557.3 1052.8h0M1553.2 971.0h0M1554.2 1034.4h0M1565.7 1068.6h0M1517.7 1055.9h0M1563.8 1004.5h0M1561.0 992.5h0M1540.6 1024.5h0M1569.4 1055.5h0M1536.9 978.0h0M1547.6 1048.8h0M1515.6 1010.7h0M1567.1 991.7h0M1505.6 1041.5h0M1498.6 1032.4h0M1563.7 1054.8h0M1538.3 1039.2h0M1600.2 931.1h0M1617.8 929.1h0M1613.4 914.0h0M1598.5 906.7h0M1557.2 870.9h0M1595.9 817.2h0M1561.3 846.2h0M1579.1 890.8h0M1588.1 896.1h0M1588.5 830.7h0M1600.2 797.3h0M1587.4 904.2h0M1604.1 861.6h0M1602.1 814.3h0M1566.1 898.7h0M1597.6 859.3h0M1616.9 907.9h0M1596.0 895.0h0M1606.8 894.3h0M1579.8 950.6h0M1619.1 921.1h0M1593.4 911.5h0M1617.6 879.5h0M1611.8 807.3h0M1608.5 897.7h0M1602.3 879.2h0M1592.2 928.3h0M1610.2 910.7h0M1595.8 927.0h0M1609.6 929.6h0M1609.7 896.3h0M1609.6 883.5h0M1585.1 935.1h0M1582.3 892.6h0M1611.7 857.2h0M1603.6 890.1h0M1584.2 889.2h0M1581.2 936.8h0M1593.1 895.9h0M1613.6 896.9h0M1576.5 896.7h0M1605.3 934.1h0M1571.9 904.7h0M1590.5 893.3h0M1570.6 874.4h0M1619.0 942.5h0M1615.2 939.5h0M1563.4 840.8h0M1616.3 936.5h0M1589.5 915.5h0M1590.8 882.5h0M1614.9 872.7h0M1596.9 839.4h0M1584.6 945.9h0M1606.5 925.6h0M1576.2 907.4h0M1618.0 942.2h0M1593.1 850.4h0M1611.8 805.4h0M1588.5 892.5h0M1580.6 846.2h0M1580.4 925.2h0M1618.0 914.2h0M1608.0 879.5h0M1558.5 866.2h0M1589.5 917.4h0M1595.7 925.7h0M1607.0 911.5h0M1590.0 909.7h0M1560.3 863.6h0M1617.9 896.4h0M1597.2 927.2h0M1606.2 842.5h0M1576.6 834.8h0M1596.3 873.3h0M1580.2 942.3h0M1608.9 921.3h0M1576.9 884.4h0M1600.9 854.3h0M1580.5 867.0h0M1559.0 847.6h0M1589.9 909.6h0M1589.4 908.1h0M1578.9 926.4h0M1601.1 886.6h0M1607.9 897.0h0M1593.0 882.7h0M1602.6 890.0h0M1596.3 911.3h0M1590.8 908.2h0M1603.0 878.7h0M1582.4 904.8h0M1613.4 914.2h0M1618.1 945.2h0M1604.8 938.4h0M1576.9 868.7h0M1566.1 843.6h0M1596.8 942.2h0M1589.3 921.9h0M1565.9 892.6h0M1572.3 870.9h0M1600.6 941.7h0M1617.7 909.5h0M1584.1 910.2h0M1585.4 886.6h0M1591.7 895.3h0M1590.9 889.4h0M1571.0 857.6h0M1588.7 943.0h0M1574.5 895.0h0M1584.4 943.6h0M1593.5 929.5h0M1597.2 858.6h0M1596.8 856.2h0M1596.4 821.3h0M1589.7 902.7h0M1612.1 924.3h0M1590.1 814.3h0M1558.6 872.0h0M1592.8 905.2h0M1598.5 912.4h0M1593.7 838.0h0M1614.5 864.1h0M1615.8 937.7h0M1590.8 878.2h0M1561.7 888.0h0M1606.5 932.7h0M1603.5 866.2h0M1590.9 933.5h0M1618.3 916.1h0M1556.9 889.3h0M1592.5 938.0h0M1603.4 912.5h0M1614.7 914.4h0M1613.0 918.2h0M1569.6 871.0h0M1558.6 894.9h0M1598.2 943.0h0M1599.5 853.7h0M1609.3 936.8h0M1607.5 894.5h0M1585.6 928.3h0M1592.1 863.5h0M1611.4 924.1h0M1593.6 897.4h0M1615.1 886.5h0M1571.3 881.7h0M1590.7 872.1h0M1592.4 943.2h0M1617.8 853.1h0M1607.9 871.6h0M1608.4 888.4h0M1595.7 922.7h0M1619.2 934.2h0M1584.0 858.6h0M1566.8 897.7h0M1599.3 877.7h0M1579.4 954.4h0M1612.7 940.1h0M1600.7 920.8h0M1615.4 924.1h0M1601.7 926.9h0M1599.5 897.2h0M1618.6 893.9h0M1573.6 839.0h0M1606.2 897.8h0M1577.8 867.4h0M1598.5 800.7h0M1579.5 887.1h0M1608.4 915.8h0M1618.7 940.7h0M1565.7 868.0h0M1580.9 817.8h0M1574.4 851.8h0M1591.3 878.8h0M1582.5 893.4h0M1611.5 940.8h0M1618.5 838.9h0M1565.5 846.4h0M1566.6 864.1h0M1609.1 926.5h0M1595.6 862.4h0M1603.9 943.1h0M1582.8 852.5h0M1601.0 943.1h0M1602.3 851.2h0M1562.3 901.6h0M1583.4 864.8h0M1605.1 903.8h0M1583.9 931.9h0M1593.7 869.9h0M1582.7 934.8h0M1580.1 923.6h0M1586.3 907.5h0M1579.0 954.3h0M1608.2 920.5h0M1587.4 910.4h0M1594.6 928.4h0M1598.4 790.5h0M1594.5 933.7h0M1581.6 927.0h0M1603.3 903.9h0M1581.1 798.5h0M1618.1 919.1h0M1588.1 917.9h0M1581.8 847.0h0M1582.3 934.5h0M1587.1 893.8h0M1617.2 920.1h0M1580.8 914.8h0M1571.4 876.2h0M1603.0 854.2h0M1590.5 857.2h0M1600.9 929.4h0M1613.5 810.4h0M1613.3 905.9h0M1580.2 837.7h0M1617.7 890.9h0M1594.8 932.7h0M1614.1 869.3h0M1579.0 923.0h0M1581.4 939.1h0M1591.3 935.4h0M1586.2 908.2h0M1615.7 891.8h0M1610.0 896.7h0M1607.5 925.2h0M1585.6 949.1h0M1616.4 944.0h0M1611.0 911.1h0M1617.3 934.0h0M1576.9 878.9h0M1574.3 909.1h0M1608.0 891.3h0M1591.4 946.4h0M1602.3 928.8h0M1578.3 865.3h0M1578.1 894.7h0M1576.9 915.1h0M1588.2 893.4h0M1593.9 898.8h0M1598.4 907.7h0M1559.7 897.9h0M1605.2 911.6h0M1618.6 929.5h0M1601.9 935.3h0M1608.5 941.1h0M1574.3 885.1h0M1596.0 934.4h0M1594.0 839.5h0M1558.4 858.9h0M1583.2 952.6h0M1583.7 837.1h0M1595.3 874.8h0M1573.3 905.0h0M1599.2 900.2h0M1606.8 779.6h0M1604.7 934.7h0M1611.4 889.5h0M1610.7 892.5h0M1583.9 847.1h0M1581.6 949.3h0M1608.2 940.1h0M1597.7 870.7h0M1608.5 903.0h0M1577.7 906.6h0M1596.5 840.5h0M1592.3 838.5h0M1605.4 884.8h0M1586.1 849.5h0M1614.4 932.9h0M1584.8 899.4h0M1608.8 865.2h0M1580.5 870.3h0M1597.4 922.4h0M1615.1 937.7h0M1598.1 926.2h0M1617.3 907.7h0M1607.7 926.3h0M1576.6 850.3h0M1603.4 808.2h0M1606.6 916.4h0M1577.2 864.9h0M1590.9 882.4h0M1596.6 909.5h0M1613.5 914.7h0M1608.9 865.4h0M1605.2 916.8h0M1561.9 881.0h0M1602.8 919.2h0M1591.0 944.0h0M1613.0 896.2h0M1613.7 934.0h0M1586.1 930.6h0M1582.8 935.6h0M1608.4 938.5h0M1613.2 937.6h0M1576.4 832.7h0M1582.2 901.7h0M1609.8 935.1h0M1696.1 933.8h0M1703.8 876.9h0M1702.6 917.6h0M1696.1 961.1h0M1653.7 889.3h0M1654.0 916.5h0M1647.9 937.0h0M1684.6 941.1h0M1653.1 805.3h0M1678.7 844.5h0M1691.6 949.7h0M1704.6 956.7h0M1654.6 833.7h0M1643.3 845.4h0M1691.9 889.2h0M1644.7 940.0h0M1641.3 935.3h0M1695.6 930.4h0M1665.8 810.6h0M1657.7 919.9h0M1668.9 926.8h0M1690.7 890.2h0M1694.1 875.9h0M1688.1 947.3h0M1703.6 897.8h0M1701.7 969.9h0M1662.4 890.1h0M1672.1 917.8h0M1706.1 943.8h0M1660.8 879.6h0M1679.7 930.6h0M1677.2 938.6h0M1641.0 936.6h0M1678.4 928.3h0M1643.4 925.5h0M1694.3 933.3h0M1701.4 941.4h0M1682.5 928.0h0M1646.1 913.7h0M1677.3 895.8h0M1680.1 891.9h0M1676.2 833.0h0M1675.3 876.5h0M1694.6 949.2h0M1679.8 924.9h0M1701.8 971.4h0M1684.7 887.5h0M1674.4 917.4h0M1648.0 919.4h0M1683.1 868.8h0M1692.9 862.8h0M1653.1 929.7h0M1680.4 931.4h0M1651.5 872.2h0M1686.8 936.9h0M1645.7 925.9h0M1670.5 820.2h0M1698.2 914.0h0M1652.4 851.4h0M1640.1 905.9h0M1657.3 845.7h0M1686.3 914.9h0M1678.4 895.2h0M1664.5 777.5h0M1701.4 965.3h0M1682.5 918.8h0M1677.4 930.0h0M1695.3 800.7h0M1647.6 887.7h0M1676.5 890.9h0M1659.5 889.6h0M1659.6 837.3h0M1654.2 919.1h0M1649.8 859.7h0M1689.1 951.9h0M1686.7 799.4h0M1676.5 869.1h0M1664.0 918.7h0M1661.3 829.0h0M1697.4 927.1h0M1661.6 875.7h0M1680.3 932.3h0M1662.2 932.9h0M1663.9 920.2h0M1640.6 931.1h0M1679.3 809.7h0M1685.4 910.5h0M1661.6 903.8h0M1690.1 952.6h0M1697.5 940.0h0M1658.1 919.4h0M1660.4 851.8h0M1650.4 924.2h0M1658.8 928.8h0M1648.7 909.6h0M1672.3 888.5h0M1676.6 807.5h0M1659.8 934.6h0M1679.9 931.9h0M1660.9 885.9h0M1640.6 830.0h0M1640.9 895.1h0M1682.2 925.3h0M1677.1 834.8h0M1703.9 802.3h0M1646.1 933.7h0M1680.0 884.3h0M1683.8 904.7h0M1676.7 921.1h0M1645.0 927.2h0M1675.0 911.8h0M1678.8 813.9h0M1661.6 932.1h0M1669.5 897.3h0M1652.4 848.9h0M1643.4 859.3h0M1673.2 839.1h0M1655.3 892.8h0M1685.4 897.4h0M1653.1 927.2h0M1670.4 916.3h0M1695.4 890.3h0M1661.8 896.6h0M1666.1 890.5h0M1661.4 931.3h0M1669.2 925.9h0M1648.5 912.1h0M1649.0 906.0h0M1660.9 921.7h0M1691.6 890.0h0M1657.4 887.5h0M1699.9 886.7h0M1698.7 875.1h0M1698.1 884.0h0M1674.0 902.1h0M1689.0 942.5h0M1706.8 950.2h0M1643.6 911.6h0M1647.5 859.3h0M1686.0 906.6h0M1677.4 821.7h0M1698.2 939.4h0M1650.0 897.7h0M1694.9 970.1h0M1674.7 917.4h0M1644.1 930.7h0M1654.5 925.6h0M1659.1 873.7h0M1665.6 934.5h0M1649.2 864.0h0M1706.9 901.4h0M1646.8 910.3h0M1652.8 866.6h0M1639.8 875.9h0M1650.6 898.0h0M1678.7 917.5h0M1696.5 947.2h0M1679.0 901.4h0M1696.6 957.6h0M1673.1 935.5h0M1676.0 797.8h0M1691.3 869.3h0M1696.2 899.7h0M1685.7 795.9h0M1707.6 927.6h0M1700.1 826.9h0M1693.2 875.2h0M1684.6 902.1h0M1689.9 920.4h0M1684.9 856.5h0M1694.5 971.0h0M1682.2 922.9h0M1700.5 895.7h0M1707.4 858.4h0M1691.8 945.6h0M1670.6 891.2h0M1702.2 917.8h0M1640.1 882.8h0M1675.4 931.4h0M1682.8 873.1h0M1649.6 869.0h0M1649.0 866.9h0M1682.1 901.8h0M1695.5 778.0h0M1661.1 808.6h0M1692.7 890.2h0M1665.5 933.7h0M1675.9 835.2h0M1697.0 967.3h0M1643.7 901.5h0M1694.6 864.6h0M1675.6 860.5h0M1653.0 933.6h0M1702.1 898.5h0M1656.9 813.9h0M1682.4 878.6h0M1644.1 912.8h0M1650.2 935.5h0M1657.6 879.7h0M1702.3 891.3h0M1676.8 779.8h0M1679.5 898.4h0M1664.1 922.5h0M1691.0 891.4h0M1690.7 906.5h0M1675.3 902.1h0M1704.0 912.8h0M1647.2 874.5h0M1701.3 971.0h0M1648.9 865.3h0M1662.0 930.3h0M1707.6 908.3h0M1699.4 882.4h0M1656.4 935.1h0M1680.1 910.5h0M1658.6 868.2h0M1704.8 958.6h0M1670.9 881.1h0M1656.8 932.6h0M1664.5 909.3h0M1655.2 902.9h0M1641.1 923.4h0M1704.2 914.3h0M1704.9 881.2h0M1686.7 928.1h0M1661.8 822.7h0M1643.8 930.5h0M1692.4 902.6h0M1649.7 833.8h0M1651.3 934.2h0M1662.5 874.6h0M1664.7 857.8h0M1650.4 906.5h0M1661.2 889.1h0M1645.3 919.0h0M1707.2 887.3h0M1699.0 841.8h0M1640.4 927.2h0M1677.7 881.7h0M1657.8 897.7h0M1704.8 946.4h0M1693.6 949.1h0M1702.2 816.1h0M1707.1 831.9h0M1658.8 903.9h0M1693.4 959.5h0M1670.1 895.1h0M1649.4 935.2h0M1649.6 872.4h0M1690.8 941.2h0M1693.9 888.1h0M1691.2 941.5h0M1699.3 966.3h0M1705.0 929.5h0M1664.3 910.4h0M1659.7 894.4h0M1675.2 821.0h0M1640.6 845.0h0M1686.7 882.3h0M1695.3 954.8h0M1663.0 822.6h0M1691.2 833.5h0M1666.3 908.5h0M1694.9 849.1h0M1640.9 868.4h0M1686.7 925.0h0M1662.5 902.9h0M1692.0 936.0h0M1677.6 935.2h0M1656.0 901.9h0M1700.4 905.2h0M1669.6 857.1h0M1701.6 888.9h0M1658.9 934.3h0M1706.6 909.2h0M1641.9 939.2h0M1693.6 909.9h0M1701.9 944.3h0M1664.9 884.2h0M1662.7 840.4h0M1702.9 793.0h0M1707.3 885.9h0M1703.0 928.1h0M1642.6 930.6h0M1691.0 837.9h0M1703.6 882.4h0M1667.6 861.5h0M1702.7 929.9h0M1695.1 867.4h0M1647.3 912.8h0M1678.3 845.5h0M1695.3 968.0h0M1646.1 846.7h0M1692.5 956.5h0M1681.7 935.4h0M1699.5 933.9h0M1697.4 904.9h0M1693.1 880.0h0M1700.9 961.8h0M1653.0 909.3h0M1690.1 914.2h0M1650.6 876.5h0M1664.3 867.7h0M1695.6 924.0h0M1664.1 934.2h0M1694.0 954.3h0M1706.9 948.6h0M1658.1 888.9h0M1697.3 937.4h0M1665.0 862.5h0M1652.7 867.1h0M1649.8 907.9h0M1660.9 926.7h0M1648.9 846.9h0M1668.5 897.1h0M1646.0 913.3h0M1654.5 819.4h0M1695.3 873.1h0M1697.2 915.9h0M1689.9 903.8h0M1681.4 925.5h0M1646.3 912.3h0M1667.8 780.4h0M1644.7 926.4h0M1674.2 915.6h0M1652.6 930.8h0M1646.6 902.0h0M1655.1 925.1h0M1668.1 825.4h0M1671.1 916.1h0M1709.9 985.3h0M1741.7 990.5h0M1703.8 1075.7h0M1719.7 1016.7h0M1701.3 983.9h0M1705.2 1067.4h0M1710.1 1034.0h0M1692.2 1056.7h0M1692.1 1068.3h0M1706.1 971.2h0M1697.4 1058.8h0M1697.8 1057.6h0M1741.1 974.4h0M1712.8 998.8h0M1724.8 973.1h0M1699.8 997.3h0M1727.7 1003.2h0M1708.4 1017.2h0M1708.3 1000.2h0M1705.8 1018.5h0M1736.9 1024.0h0M1739.2 998.5h0M1713.8 1041.5h0M1706.8 997.7h0M1687.1 1071.5h0M1710.7 1025.3h0M1704.2 1054.7h0M1695.1 1054.1h0M1721.5 1007.1h0M1698.9 984.7h0M1709.6 1066.1h0M1716.7 1009.0h0M1707.0 1007.0h0M1680.2 1079.9h0M1712.3 1018.3h0M1743.4 975.4h0M1701.1 1018.5h0M1717.3 1028.9h0M1702.7 1006.6h0M1700.3 1013.4h0M1703.8 998.9h0M1709.7 1023.7h0M1765.3 997.6h0M1705.3 1033.9h0M1694.2 1029.7h0M1741.9 978.0h0M1740.2 989.6h0M1701.3 1038.8h0M1701.5 1019.8h0M1716.1 1019.7h0M1708.6 988.5h0M1713.3 1024.5h0M1713.2 1025.8h0M1705.9 1046.1h0M1724.1 972.1h0M1700.1 1032.6h0M1696.9 1036.8h0M1703.7 985.8h0M1714.6 1037.8h0M1725.9 979.4h0M1697.7 992.3h0M1706.7 1048.4h0M1701.9 1041.3h0M1690.3 1046.7h0M1684.1 1066.8h0M1709.8 976.3h0M1726.9 1017.0h0M1702.3 1018.7h0M1713.9 1024.9h0M1707.8 1040.7h0M1705.5 980.3h0M1704.0 1008.4h0M1695.7 1072.9h0M1707.8 1033.2h0M1700.5 1066.8h0M1692.7 1045.7h0M1724.2 1008.2h0M1726.7 986.6h0M1707.6 1014.1h0M1706.4 990.8h0M1709.7 1020.1h0M1703.9 1036.9h0M1703.3 1001.4h0M1712.0 1039.7h0M1711.8 1057.8h0M1704.5 1068.7h0M1705.8 1020.6h0M1705.8 999.4h0M1695.2 1050.4h0M1728.7 981.7h0M1732.7 997.6h0M1718.1 979.8h0M1735.2 979.0h0M1723.6 1023.5h0M1689.7 1068.8h0M1690.9 1071.1h0M1729.8 1007.6h0M1739.4 979.8h0M1713.6 965.6h0M1711.9 996.1h0M1716.8 1016.6h0M1719.7 989.8h0M1717.2 983.4h0M1689.8 1059.9h0M1702.6 1008.6h0M1734.6 975.1h0M1701.9 1043.0h0M1689.3 1059.7h0M1737.2 1020.8h0M1727.9 1013.2h0M1701.8 984.1h0M1703.8 1006.9h0M1704.9 1016.9h0M1703.9 1067.4h0M1744.5 985.7h0M1691.1 1041.5h0M1685.6 1077.9h0M1711.2 1024.5h0M1698.3 1040.9h0M1711.1 1043.7h0M1706.1 995.6h0M1707.4 979.2h0M1712.1 998.2h0M1694.9 1045.0h0M1695.7 1052.4h0M1696.2 1029.1h0M1698.8 994.7h0M1712.9 1047.1h0M1679.7 1084.3h0M1714.5 1044.8h0M1605.3 725.0h0M1582.9 745.8h0M1585.9 750.7h0M1676.1 734.9h0M1674.1 745.8h0M1686.0 745.8h0M1679.1 756.1h0M1606.1 784.4h0M1568.6 787.4h0M1597.8 793.8h0M1604.7 795.3h0M1587.5 797.9h0M1568.6 807.2h0M1605.7 812.6h0M1601.4 816.2h0M1690.0 785.4h0M1660.2 793.8h0M1667.2 797.7h0M1649.9 801.7h0M1677.5 801.7h0M1705.8 798.3h0M1475.9 1031.3h0M1479.8 1032.3h0M1481.8 1039.2h0M1484.8 1041.2h0M1490.7 1040.2h0M1492.7 1045.2h0M1495.7 1050.1h0M1499.7 1047.1h0M1505.6 1045.6h0M1498.7 990.2h0M1504.6 978.1h0M1521.9 985.7h0M1772.7 995.6h0M1748.5 978.7h0M1755.4 982.7h0M1760.4 984.7h0M1751.4 999.6h0M1750.5 1009.9h0M1744.5 1013.4h0M1735.6 965.3h0M1703.5 1076.9h0" fill="none" stroke="#000" stroke-width="5.70" stroke-linecap="round"/>
<path d="M1536.3 889.8h0M1538.8 908.2h0M1528.9 940.2h0M1548.2 947.4h0M1493.9 940.8h0M1537.0 927.3h0M1519.0 951.7h0M1480.5 945.0h0M1546.4 938.3h0M1536.9 949.9h0M1546.0 948.0h0M1540.2 880.6h0M1548.7 850.9h0M1547.0 950.8h0M1536.0 921.1h0M1543.1 937.5h0M1527.3 954.8h0M1549.2 846.8h0M1505.8 913.9h0M1498.6 937.7h0M1492.1 924.2h0M1539.1 899.1h0M1548.9 914.2h0M1527.4 949.2h0M1547.6 868.0h0M1526.2 906.1h0M1549.7 941.5h0M1511.3 938.9h0M1544.7 915.8h0M1545.8 877.0h0M1539.4 948.7h0M1548.6 859.1h0M1528.4 909.3h0M1535.7 947.3h0M1546.1 874.3h0M1519.0 892.2h0M1538.8 912.6h0M1483.0 936.4h0M1547.3 891.4h0M1527.3 925.6h0M1549.6 913.3h0M1549.0 891.9h0M1506.9 952.9h0M1547.5 894.9h0M1545.8 945.2h0M1501.6 729.3h0M1468.1 765.0h0M1503.8 772.5h0M1423.8 785.4h0M1510.9 805.4h0M1528.1 806.8h0M1430.9 801.8h0M1497.4 814.6h0M1541.6 814.3h0M1548.1 852.1h0M1533.1 889.6h0M1538.8 889.6h0M1472.0 904.6h0M1517.0 901.1h0M1517.0 912.5h0M1490.6 917.5h0M1477.4 930.4h0M1481.6 929.6h0M1510.9 951.8h0M1496.3 955.4h0M1541.6 953.6h0M1491.3 960.7h0M1544.1 957.1h0" fill="none" stroke="#00f000" stroke-width="5.70" stroke-linecap="round"/>
<path d="M1733.0 783.3h0M1754.5 765.5h0M1711.5 889.7h0M1741.0 802.8h0M1746.6 824.4h0M1738.9 813.4h0M1713.4 950.6h0M1757.3 879.4h0M1806.4 921.8h0M1730.1 954.6h0M1734.3 769.9h0M1823.9 767.1h0M1719.1 793.7h0M1740.2 860.3h0M1798.9 831.8h0M1710.1 908.5h0M1809.8 804.6h0M1723.8 786.6h0M1776.7 803.1h0M1723.8 912.9h0M1710.3 856.4h0M1711.0 936.8h0M1710.4 881.8h0M1729.8 883.1h0M1807.7 832.9h0M1730.8 951.8h0M1723.2 932.8h0M1733.4 879.9h0M1769.3 932.6h0M1725.6 886.3h0M1814.8 896.5h0M1718.9 851.9h0M1711.9 962.6h0M1725.0 830.2h0M1770.7 768.4h0M1708.3 899.3h0M1756.2 817.3h0M1764.3 931.2h0M1744.2 826.7h0M1749.9 788.8h0M1726.1 928.9h0M1710.9 820.9h0M1721.9 946.7h0M1787.8 803.9h0M1730.1 955.9h0M1720.8 941.1h0M1723.3 803.4h0M1792.9 918.0h0M1713.1 835.2h0M1714.3 955.0h0M1730.2 951.5h0M1721.1 866.7h0M1759.8 854.9h0M1708.5 834.8h0M1764.2 928.7h0M1718.6 940.3h0M1708.5 934.8h0M1718.3 832.2h0M1718.2 939.0h0M1731.9 862.0h0M1749.0 842.6h0M1813.7 842.9h0M1732.9 845.4h0M1728.2 904.8h0M1725.0 881.7h0M1721.6 787.3h0M1781.2 815.5h0M1711.7 831.7h0M1731.4 902.4h0M1725.0 868.0h0M1709.4 943.2h0M1715.7 811.7h0M1718.8 874.4h0M1745.8 948.8h0M1715.6 920.2h0M1735.4 881.6h0M1739.7 855.9h0M1738.0 816.1h0M1867.7 748.7h0M1740.8 881.7h0M1757.7 937.7h0M1750.9 942.5h0M1725.1 801.1h0M1862.4 674.4h0M1712.0 822.6h0M1722.9 866.5h0M1719.6 875.1h0M1712.6 815.8h0M1732.0 915.4h0M1719.4 819.9h0M1718.0 927.8h0M1721.5 845.3h0M1788.0 934.5h0M1730.5 836.7h0M1707.9 885.4h0M1712.0 862.3h0M1731.8 870.9h0M1758.0 753.2h0M1745.3 768.2h0M1724.2 891.1h0M1725.3 841.6h0M1744.7 871.7h0M1755.4 839.5h0M1744.5 849.8h0M1717.1 793.3h0M1720.6 904.4h0M1788.8 818.5h0M1719.7 924.9h0M1724.0 874.3h0M1749.9 881.4h0M1736.7 897.0h0M1726.4 943.1h0M1726.1 866.4h0M1766.8 926.9h0M1718.6 798.0h0M1716.0 802.4h0M1723.8 818.4h0M1708.1 949.2h0M1710.9 785.4h0M1798.9 888.6h0M1733.5 837.6h0M1810.9 850.2h0M1765.9 847.6h0M1741.4 897.8h0M1755.8 858.4h0M1718.6 844.6h0M1710.5 959.7h0M1727.9 929.1h0M1749.2 877.4h0M1708.1 828.8h0M1719.4 845.2h0M1708.8 906.3h0M1720.3 823.6h0M1717.4 953.4h0M1808.5 839.8h0M1708.3 812.1h0M1779.8 806.3h0M1712.1 912.9h0M1732.0 851.7h0M1713.4 847.6h0M1816.7 820.0h0M1718.1 805.7h0M1724.6 873.7h0M1764.8 804.1h0M1733.1 950.8h0M1782.2 758.7h0M1758.6 798.7h0M1857.1 756.5h0M1713.5 945.3h0M1741.9 936.7h0M1717.5 813.3h0M1766.7 903.2h0M1753.9 938.0h0M1735.2 835.5h0M1709.4 824.9h0M1726.6 855.4h0M1756.3 797.2h0M1719.7 797.5h0M1711.0 837.2h0M1715.3 889.7h0M1728.2 955.3h0M1811.3 719.3h0M1772.1 737.6h0M1722.5 946.5h0M1718.1 959.0h0M1792.8 848.5h0M1708.5 814.7h0M1717.1 785.3h0M1760.9 926.1h0M1767.8 902.1h0M1712.2 954.5h0M1707.9 933.2h0M1713.7 949.0h0M1715.8 800.8h0M1710.1 869.7h0M1730.6 937.7h0M1730.6 942.4h0M1712.2 865.0h0M1710.1 859.2h0M1707.9 952.0h0M1810.4 725.1h0M1714.0 947.8h0M1744.8 922.7h0M1786.9 932.7h0M1709.3 820.2h0M1711.6 785.8h0M1714.0 785.8h0M1719.1 785.8h0M1727.6 785.8h0M1731.5 785.8h0M1736.0 785.8h0M1744.8 785.8h0M1750.4 785.8h0M1755.8 785.8h0M1760.6 785.8h0M1766.7 785.8h0M1772.2 785.8h0M1776.1 785.8h0M1784.6 785.8h0M1851.6 645.0h0M1882.4 645.0h0M1739.9 660.4h0M1777.0 660.4h0M1855.6 676.4h0M1753.1 720.7h0M1793.1 725.0h0M1820.2 728.9h0M1894.5 735.4h0M1751.3 735.4h0M1770.2 742.1h0M1808.4 735.0h0M1736.3 756.1h0M1818.8 750.7h0M1760.2 745.7h0M1784.5 752.5h0M1802.0 764.6h0M1713.1 764.6h0M1755.6 764.6h0M1792.0 784.6h0M1821.3 798.2h0M1816.6 824.6h0M1860.2 811.4h0M1748.4 844.6h0M1775.9 846.1h0M1855.9 831.4h0M1789.1 851.1h0M1836.6 831.4h0M1783.4 867.9h0M1802.4 867.5h0M1809.1 867.9h0M1784.9 890.7h0M1830.2 876.4h0M1798.4 903.2h0M1827.7 893.6h0M1779.9 926.8h0M1832.7 913.2h0M1798.4 903.2h0M1793.4 951.8h0M1783.4 959.3h0M1772.0 975.0h0M1803.1 963.2h0" fill="none" stroke="#f00000" stroke-width="5.70" stroke-linecap="round"/>
<path d="M1848.3 642.0L1850.4 643.9M1885.6 642.0L1883.6 643.8M1736.6 657.4L1738.6 659.2M1780.4 663.7L1778.2 661.6M1858.7 673.4L1856.8 675.2M1756.3 717.7L1754.3 719.5M1795.8 720.6L1794.0 723.5M1825.2 725.9L1821.7 728.1M1896.8 732.0L1895.5 733.9M1748.0 734.3L1749.7 734.8M1770.1 738.1L1770.2 740.4M1806.6 738.4L1807.6 736.5M1731.7 753.4L1734.8 755.2M1706.5 767.3L1711.5 765.3M1760.8 768.4L1757.0 765.6M1799.1 786.4L1793.7 785.1M1825.3 800.9L1822.7 799.2M1811.7 821.6L1815.2 823.8M1865.4 814.4L1861.7 812.3M1751.9 841.6L1749.7 843.5M1780.9 843.1L1777.4 845.2M1875.4 835.3L1857.6 831.8M1811.5 844.8L1790.8 850.6M1850.6 841.6L1838.0 832.4M1778.6 863.4L1782.2 866.7M1804.3 864.5L1803.3 866.1M1827.5 867.0L1810.9 867.8M1789.4 887.4L1786.2 889.7M1780.9 903.2L1796.7 903.2M1831.5 895.9L1829.2 894.5M1857.3 918.2L1834.4 913.6M1823.7 916.6L1799.9 904.0M1797.6 948.4L1794.8 950.7M1780.4 956.3L1782.2 958.1M1806.4 966.6L1804.3 964.4M1506.9 769.5L1505.0 771.3M1420.6 782.4L1422.5 784.2M1507.7 802.4L1509.7 804.2M1531.5 803.4L1529.3 805.6M1434.5 805.5L1432.1 803.0M1493.5 818.4L1496.1 815.8M1545.0 817.6L1542.9 815.5M1553.3 849.5L1549.6 851.4M1530.0 886.6L1531.8 888.5M1468.8 901.6L1470.7 903.5M1513.0 900.2L1515.3 900.7M1486.2 917.0L1488.9 917.3M1470.2 931.1L1475.7 930.5M1514.4 948.4L1512.2 950.6M1489.9 953.6L1494.6 954.9M1536.5 955.9L1540.1 954.3M1487.8 964.1L1490.1 961.9M1548.3 960.5L1545.5 958.2" stroke="#000" stroke-width="1.05" fill="none"/>
<path d="M1824.6 628.0h31.9a2.2 2.2 0 0 1 2.2 2.2v9.6a2.2 2.2 0 0 1 -2.2 2.2h-31.9a2.2 2.2 0 0 1 -2.2 -2.2v-9.6a2.2 2.2 0 0 1 2.2 -2.2zM1881.4 628.0h23.3a2.2 2.2 0 0 1 2.2 2.2v9.6a2.2 2.2 0 0 1 -2.2 2.2h-23.3a2.2 2.2 0 0 1 -2.2 -2.2v-9.6a2.2 2.2 0 0 1 2.2 -2.2zM1710.5 643.4h37.4a2.2 2.2 0 0 1 2.2 2.2v9.6a2.2 2.2 0 0 1 -2.2 2.2h-37.4a2.2 2.2 0 0 1 -2.2 -2.2v-9.6a2.2 2.2 0 0 1 2.2 -2.2zM1771.4 663.7h31.9a2.2 2.2 0 0 1 2.2 2.2v9.6a2.2 2.2 0 0 1 -2.2 2.2h-31.9a2.2 2.2 0 0 1 -2.2 -2.2v-9.6a2.2 2.2 0 0 1 2.2 -2.2zM1848.0 659.4h35.9a2.2 2.2 0 0 1 2.2 2.2v9.6a2.2 2.2 0 0 1 -2.2 2.2h-35.9a2.2 2.2 0 0 1 -2.2 -2.2v-9.6a2.2 2.2 0 0 1 2.2 -2.2zM1751.1 703.7h25.3a2.2 2.2 0 0 1 2.2 2.2v9.6a2.2 2.2 0 0 1 -2.2 2.2h-25.3a2.2 2.2 0 0 1 -2.2 -2.2v-9.6a2.2 2.2 0 0 1 2.2 -2.2zM1784.2 706.6h31.9a2.2 2.2 0 0 1 2.2 2.2v9.6a2.2 2.2 0 0 1 -2.2 2.2h-31.9a2.2 2.2 0 0 1 -2.2 -2.2v-9.6a2.2 2.2 0 0 1 2.2 -2.2zM1823.7 711.9h26.5a2.2 2.2 0 0 1 2.2 2.2v9.6a2.2 2.2 0 0 1 -2.2 2.2h-26.5a2.2 2.2 0 0 1 -2.2 -2.2v-9.6a2.2 2.2 0 0 1 2.2 -2.2zM1889.3 718.0h24.7a2.2 2.2 0 0 1 2.2 2.2v9.6a2.2 2.2 0 0 1 -2.2 2.2h-24.7a2.2 2.2 0 0 1 -2.2 -2.2v-9.6a2.2 2.2 0 0 1 2.2 -2.2zM1713.9 721.2h31.9a2.2 2.2 0 0 1 2.2 2.2v9.6a2.2 2.2 0 0 1 -2.2 2.2h-31.9a2.2 2.2 0 0 1 -2.2 -2.2v-9.6a2.2 2.2 0 0 1 2.2 -2.2zM1756.4 724.1h26.9a2.2 2.2 0 0 1 2.2 2.2v9.6a2.2 2.2 0 0 1 -2.2 2.2h-26.9a2.2 2.2 0 0 1 -2.2 -2.2v-9.6a2.2 2.2 0 0 1 2.2 -2.2zM1789.6 738.4h26.2a2.2 2.2 0 0 1 2.2 2.2v9.6a2.2 2.2 0 0 1 -2.2 2.2h-26.2a2.2 2.2 0 0 1 -2.2 -2.2v-9.6a2.2 2.2 0 0 1 2.2 -2.2zM1708.7 739.4h21.7a2.2 2.2 0 0 1 2.2 2.2v9.6a2.2 2.2 0 0 1 -2.2 2.2h-21.7a2.2 2.2 0 0 1 -2.2 -2.2v-9.6a2.2 2.2 0 0 1 2.2 -2.2zM1823.0 747.3h22.9a2.2 2.2 0 0 1 2.2 2.2v9.6a2.2 2.2 0 0 1 -2.2 2.2h-22.9a2.2 2.2 0 0 1 -2.2 -2.2v-9.6a2.2 2.2 0 0 1 2.2 -2.2zM1737.3 747.6h22.2a2.2 2.2 0 0 1 2.2 2.2v9.6a2.2 2.2 0 0 1 -2.2 2.2h-22.2a2.2 2.2 0 0 1 -2.2 -2.2v-9.6a2.2 2.2 0 0 1 2.2 -2.2zM1771.2 755.5h25.8a2.2 2.2 0 0 1 2.2 2.2v9.6a2.2 2.2 0 0 1 -2.2 2.2h-25.8a2.2 2.2 0 0 1 -2.2 -2.2v-9.6a2.2 2.2 0 0 1 2.2 -2.2zM1806.6 764.8h30.0a2.2 2.2 0 0 1 2.2 2.2v9.6a2.2 2.2 0 0 1 -2.2 2.2h-30.0a2.2 2.2 0 0 1 -2.2 -2.2v-9.6a2.2 2.2 0 0 1 2.2 -2.2zM1670.3 767.3h37.6a2.2 2.2 0 0 1 2.2 2.2v9.6a2.2 2.2 0 0 1 -2.2 2.2h-37.6a2.2 2.2 0 0 1 -2.2 -2.2v-9.6a2.2 2.2 0 0 1 2.2 -2.2zM1757.7 768.4h25.8a2.2 2.2 0 0 1 2.2 2.2v9.6a2.2 2.2 0 0 1 -2.2 2.2h-25.8a2.2 2.2 0 0 1 -2.2 -2.2v-9.6a2.2 2.2 0 0 1 2.2 -2.2zM1801.3 782.6h21.5a2.2 2.2 0 0 1 2.2 2.2v9.6a2.2 2.2 0 0 1 -2.2 2.2h-21.5a2.2 2.2 0 0 1 -2.2 -2.2v-9.6a2.2 2.2 0 0 1 2.2 -2.2zM1825.0 800.9h21.8a2.2 2.2 0 0 1 2.2 2.2v9.6a2.2 2.2 0 0 1 -2.2 2.2h-21.8a2.2 2.2 0 0 1 -2.2 -2.2v-9.6a2.2 2.2 0 0 1 2.2 -2.2zM1783.0 807.6h34.5a2.2 2.2 0 0 1 2.2 2.2v9.6a2.2 2.2 0 0 1 -2.2 2.2h-34.5a2.2 2.2 0 0 1 -2.2 -2.2v-9.6a2.2 2.2 0 0 1 2.2 -2.2zM1860.8 814.4h33.0a2.2 2.2 0 0 1 2.2 2.2v9.6a2.2 2.2 0 0 1 -2.2 2.2h-33.0a2.2 2.2 0 0 1 -2.2 -2.2v-9.6a2.2 2.2 0 0 1 2.2 -2.2zM1748.4 827.6h22.9a2.2 2.2 0 0 1 2.2 2.2v9.6a2.2 2.2 0 0 1 -2.2 2.2h-22.9a2.2 2.2 0 0 1 -2.2 -2.2v-9.6a2.2 2.2 0 0 1 2.2 -2.2zM1778.9 829.1h26.9a2.2 2.2 0 0 1 2.2 2.2v9.6a2.2 2.2 0 0 1 -2.2 2.2h-26.9a2.2 2.2 0 0 1 -2.2 -2.2v-9.6a2.2 2.2 0 0 1 2.2 -2.2zM1877.6 832.3h36.6a2.2 2.2 0 0 1 2.2 2.2v9.6a2.2 2.2 0 0 1 -2.2 2.2h-36.6a2.2 2.2 0 0 1 -2.2 -2.2v-9.6a2.2 2.2 0 0 1 2.2 -2.2zM1813.7 833.7h25.1a2.2 2.2 0 0 1 2.2 2.2v9.6a2.2 2.2 0 0 1 -2.2 2.2h-25.1a2.2 2.2 0 0 1 -2.2 -2.2v-9.6a2.2 2.2 0 0 1 2.2 -2.2zM1846.8 841.6h26.9a2.2 2.2 0 0 1 2.2 2.2v9.6a2.2 2.2 0 0 1 -2.2 2.2h-26.9a2.2 2.2 0 0 1 -2.2 -2.2v-9.6a2.2 2.2 0 0 1 2.2 -2.2zM1757.3 849.4h27.2a2.2 2.2 0 0 1 2.2 2.2v9.6a2.2 2.2 0 0 1 -2.2 2.2h-27.2a2.2 2.2 0 0 1 -2.2 -2.2v-9.6a2.2 2.2 0 0 1 2.2 -2.2zM1796.1 850.5h25.3a2.2 2.2 0 0 1 2.2 2.2v9.6a2.2 2.2 0 0 1 -2.2 2.2h-25.3a2.2 2.2 0 0 1 -2.2 -2.2v-9.6a2.2 2.2 0 0 1 2.2 -2.2zM1829.7 859.4h21.8a2.2 2.2 0 0 1 2.2 2.2v9.6a2.2 2.2 0 0 1 -2.2 2.2h-21.8a2.2 2.2 0 0 1 -2.2 -2.2v-9.6a2.2 2.2 0 0 1 2.2 -2.2zM1788.8 873.4h20.0a2.2 2.2 0 0 1 2.2 2.2v9.6a2.2 2.2 0 0 1 -2.2 2.2h-20.0a2.2 2.2 0 0 1 -2.2 -2.2v-9.6a2.2 2.2 0 0 1 2.2 -2.2zM1835.0 878.0h22.5a2.2 2.2 0 0 1 2.2 2.2v9.6a2.2 2.2 0 0 1 -2.2 2.2h-22.5a2.2 2.2 0 0 1 -2.2 -2.2v-9.6a2.2 2.2 0 0 1 2.2 -2.2zM1749.6 896.2h29.1a2.2 2.2 0 0 1 2.2 2.2v9.6a2.2 2.2 0 0 1 -2.2 2.2h-29.1a2.2 2.2 0 0 1 -2.2 -2.2v-9.6a2.2 2.2 0 0 1 2.2 -2.2zM1832.7 895.9h20.7a2.2 2.2 0 0 1 2.2 2.2v9.6a2.2 2.2 0 0 1 -2.2 2.2h-20.7a2.2 2.2 0 0 1 -2.2 -2.2v-9.6a2.2 2.2 0 0 1 2.2 -2.2zM1784.6 913.4h29.8a2.2 2.2 0 0 1 2.2 2.2v9.6a2.2 2.2 0 0 1 -2.2 2.2h-29.8a2.2 2.2 0 0 1 -2.2 -2.2v-9.6a2.2 2.2 0 0 1 2.2 -2.2zM1859.5 913.7h20.7a2.2 2.2 0 0 1 2.2 2.2v9.6a2.2 2.2 0 0 1 -2.2 2.2h-20.7a2.2 2.2 0 0 1 -2.2 -2.2v-9.6a2.2 2.2 0 0 1 2.2 -2.2zM1821.9 916.6h30.1a2.2 2.2 0 0 1 2.2 2.2v9.6a2.2 2.2 0 0 1 -2.2 2.2h-30.1a2.2 2.2 0 0 1 -2.2 -2.2v-9.6a2.2 2.2 0 0 1 2.2 -2.2zM1795.2 934.4h22.2a2.2 2.2 0 0 1 2.2 2.2v9.6a2.2 2.2 0 0 1 -2.2 2.2h-22.2a2.2 2.2 0 0 1 -2.2 -2.2v-9.6a2.2 2.2 0 0 1 2.2 -2.2zM1759.3 942.3h28.3a2.2 2.2 0 0 1 2.2 2.2v9.6a2.2 2.2 0 0 1 -2.2 2.2h-28.3a2.2 2.2 0 0 1 -2.2 -2.2v-9.6a2.2 2.2 0 0 1 2.2 -2.2zM1758.4 963.0h27.2a2.2 2.2 0 0 1 2.2 2.2v9.6a2.2 2.2 0 0 1 -2.2 2.2h-27.2a2.2 2.2 0 0 1 -2.2 -2.2v-9.6a2.2 2.2 0 0 1 2.2 -2.2zM1799.5 966.6h28.0a2.2 2.2 0 0 1 2.2 2.2v9.6a2.2 2.2 0 0 1 -2.2 2.2h-28.0a2.2 2.2 0 0 1 -2.2 -2.2v-9.6a2.2 2.2 0 0 1 2.2 -2.2zM1475.8 731.2h33.0a2.2 2.2 0 0 1 2.2 2.2v9.6a2.2 2.2 0 0 1 -2.2 2.2h-33.0a2.2 2.2 0 0 1 -2.2 -2.2v-9.6a2.2 2.2 0 0 1 2.2 -2.2zM1466.4 749.1h21.8a2.2 2.2 0 0 1 2.2 2.2v9.6a2.2 2.2 0 0 1 -2.2 2.2h-21.8a2.2 2.2 0 0 1 -2.2 -2.2v-9.6a2.2 2.2 0 0 1 2.2 -2.2zM1504.9 755.5h18.6a2.2 2.2 0 0 1 2.2 2.2v9.6a2.2 2.2 0 0 1 -2.2 2.2h-18.6a2.2 2.2 0 0 1 -2.2 -2.2v-9.6a2.2 2.2 0 0 1 2.2 -2.2zM1406.0 768.4h14.2a2.2 2.2 0 0 1 2.2 2.2v9.6a2.2 2.2 0 0 1 -2.2 2.2h-14.2a2.2 2.2 0 0 1 -2.2 -2.2v-9.6a2.2 2.2 0 0 1 2.2 -2.2zM1484.2 788.4h31.9a2.2 2.2 0 0 1 2.2 2.2v9.6a2.2 2.2 0 0 1 -2.2 2.2h-31.9a2.2 2.2 0 0 1 -2.2 -2.2v-9.6a2.2 2.2 0 0 1 2.2 -2.2zM1525.7 789.4h26.2a2.2 2.2 0 0 1 2.2 2.2v9.6a2.2 2.2 0 0 1 -2.2 2.2h-26.2a2.2 2.2 0 0 1 -2.2 -2.2v-9.6a2.2 2.2 0 0 1 2.2 -2.2zM1430.6 805.5h21.5a2.2 2.2 0 0 1 2.2 2.2v9.6a2.2 2.2 0 0 1 -2.2 2.2h-21.5a2.2 2.2 0 0 1 -2.2 -2.2v-9.6a2.2 2.2 0 0 1 2.2 -2.2zM1477.2 818.4h18.2a2.2 2.2 0 0 1 2.2 2.2v9.6a2.2 2.2 0 0 1 -2.2 2.2h-18.2a2.2 2.2 0 0 1 -2.2 -2.2v-9.6a2.2 2.2 0 0 1 2.2 -2.2zM1540.5 817.6h22.9a2.2 2.2 0 0 1 2.2 2.2v9.6a2.2 2.2 0 0 1 -2.2 2.2h-22.9a2.2 2.2 0 0 1 -2.2 -2.2v-9.6a2.2 2.2 0 0 1 2.2 -2.2zM1553.6 835.5h26.9a2.2 2.2 0 0 1 2.2 2.2v9.6a2.2 2.2 0 0 1 -2.2 2.2h-26.9a2.2 2.2 0 0 1 -2.2 -2.2v-9.6a2.2 2.2 0 0 1 2.2 -2.2zM1510.2 872.6h25.0a2.2 2.2 0 0 1 2.2 2.2v9.6a2.2 2.2 0 0 1 -2.2 2.2h-25.0a2.2 2.2 0 0 1 -2.2 -2.2v-9.6a2.2 2.2 0 0 1 2.2 -2.2zM1543.8 877.6h22.2a2.2 2.2 0 0 1 2.2 2.2v9.6a2.2 2.2 0 0 1 -2.2 2.2h-22.2a2.2 2.2 0 0 1 -2.2 -2.2v-9.6a2.2 2.2 0 0 1 2.2 -2.2zM1449.8 887.6h22.9a2.2 2.2 0 0 1 2.2 2.2v9.6a2.2 2.2 0 0 1 -2.2 2.2h-22.9a2.2 2.2 0 0 1 -2.2 -2.2v-9.6a2.2 2.2 0 0 1 2.2 -2.2zM1488.2 890.1h22.5a2.2 2.2 0 0 1 2.2 2.2v9.6a2.2 2.2 0 0 1 -2.2 2.2h-22.5a2.2 2.2 0 0 1 -2.2 -2.2v-9.6a2.2 2.2 0 0 1 2.2 -2.2zM1520.0 899.1h26.9a2.2 2.2 0 0 1 2.2 2.2v9.6a2.2 2.2 0 0 1 -2.2 2.2h-26.9a2.2 2.2 0 0 1 -2.2 -2.2v-9.6a2.2 2.2 0 0 1 2.2 -2.2zM1457.1 908.4h26.9a2.2 2.2 0 0 1 2.2 2.2v9.6a2.2 2.2 0 0 1 -2.2 2.2h-26.9a2.2 2.2 0 0 1 -2.2 -2.2v-9.6a2.2 2.2 0 0 1 2.2 -2.2zM1436.8 925.9h31.2a2.2 2.2 0 0 1 2.2 2.2v9.6a2.2 2.2 0 0 1 -2.2 2.2h-31.2a2.2 2.2 0 0 1 -2.2 -2.2v-9.6a2.2 2.2 0 0 1 2.2 -2.2zM1485.7 925.9h21.8a2.2 2.2 0 0 1 2.2 2.2v9.6a2.2 2.2 0 0 1 -2.2 2.2h-21.8a2.2 2.2 0 0 1 -2.2 -2.2v-9.6a2.2 2.2 0 0 1 2.2 -2.2zM1507.5 934.4h28.3a2.2 2.2 0 0 1 2.2 2.2v9.6a2.2 2.2 0 0 1 -2.2 2.2h-28.3a2.2 2.2 0 0 1 -2.2 -2.2v-9.6a2.2 2.2 0 0 1 2.2 -2.2zM1467.7 943.4h20.0a2.2 2.2 0 0 1 2.2 2.2v9.6a2.2 2.2 0 0 1 -2.2 2.2h-20.0a2.2 2.2 0 0 1 -2.2 -2.2v-9.6a2.2 2.2 0 0 1 2.2 -2.2zM1505.4 955.9h31.1a2.2 2.2 0 0 1 2.2 2.2v9.6a2.2 2.2 0 0 1 -2.2 2.2h-31.1a2.2 2.2 0 0 1 -2.2 -2.2v-9.6a2.2 2.2 0 0 1 2.2 -2.2zM1463.7 964.1h33.7a2.2 2.2 0 0 1 2.2 2.2v9.6a2.2 2.2 0 0 1 -2.2 2.2h-33.7a2.2 2.2 0 0 1 -2.2 -2.2v-9.6a2.2 2.2 0 0 1 2.2 -2.2zM1543.2 960.5h27.6a2.2 2.2 0 0 1 2.2 2.2v9.6a2.2 2.2 0 0 1 -2.2 2.2h-27.6a2.2 2.2 0 0 1 -2.2 -2.2v-9.6a2.2 2.2 0 0 1 2.2 -2.2z" stroke="#111" stroke-width="1.05" fill="#fff"/>
<g font-size="6.50" text-anchor="middle" fill="#1a1a1a"><text x="1840.6" y="637.2">C19orf33</text><text x="1893.1" y="637.2">MSLN</text><text x="1729.1" y="652.6">SERPINB5</text><text x="1787.4" y="673.0">C15orf48</text><text x="1865.9" y="668.7">TMPRSS4</text><text x="1763.8" y="713.0">KRT19</text><text x="1800.2" y="715.8">C1orf106</text><text x="1837.0" y="721.2">LAMB3</text><text x="1901.6" y="727.2">S100P</text><text x="1729.9" y="730.5">S100A14</text><text x="1769.9" y="733.3">LAMC2</text><text x="1802.7" y="747.6">FXYD3</text><text x="1719.5" y="748.7">RTP4</text><text x="1834.5" y="756.5">AGR2</text><text x="1748.4" y="756.9">MAL2</text><text x="1784.1" y="764.8">RAB25</text><text x="1821.6" y="774.0">TSPAN1</text><text x="1689.1" y="776.5">LINC01133</text><text x="1770.6" y="777.6">PVRL4</text><text x="1812.0" y="791.9">GJB2</text><text x="1835.9" y="810.1">CST1</text><text x="1800.2" y="816.9">SDR16C5</text><text x="1877.4" y="823.7">SLC6A14</text><text x="1759.9" y="836.9">CDH3</text><text x="1792.4" y="838.3">LEMD1</text><text x="1895.9" y="841.5">CEACAM6</text><text x="1826.3" y="843.0">ARL14</text><text x="1860.2" y="850.8">CAPN8</text><text x="1770.9" y="858.7">GCNT3</text><text x="1808.8" y="859.8">KRT23</text><text x="1840.6" y="868.7">LCN2</text><text x="1798.8" y="882.6">NMU</text><text x="1846.3" y="887.2">CTSE</text><text x="1764.1" y="905.5">EPS8L3</text><text x="1843.1" y="905.1">TFF1</text><text x="1799.5" y="922.6">LGALS4</text><text x="1869.9" y="923.0">TFF2</text><text x="1837.0" y="925.8">ANXA10</text><text x="1806.3" y="943.7">TCN1</text><text x="1773.4" y="951.5">S100A2</text><text x="1772.0" y="972.2">DPCR1</text><text x="1813.4" y="975.8">GABRP</text><text x="1492.4" y="740.5">BRE-AS1</text><text x="1477.4" y="758.3">SELE</text><text x="1514.1" y="764.8">IL1B</text><text x="1413.1" y="777.6">IL6</text><text x="1500.2" y="797.6">S100A12</text><text x="1538.8" y="798.7">NR4A3</text><text x="1441.3" y="814.8">PTX3</text><text x="1486.3" y="827.6">DPT</text><text x="1552.0" y="826.9">OSR1</text><text x="1567.0" y="844.8">LILRB2</text><text x="1522.7" y="881.9">LYVE1</text><text x="1554.9" y="886.9">HAS2</text><text x="1461.3" y="896.9">FOSB</text><text x="1499.5" y="899.4">GPX3</text><text x="1533.4" y="908.3">RASD1</text><text x="1470.6" y="917.6">ACKR1</text><text x="1452.4" y="935.1">CHRDL1</text><text x="1496.6" y="935.1">CCL2</text><text x="1521.6" y="943.7">C2orf40</text><text x="1477.7" y="952.6">OGN</text><text x="1520.9" y="965.1">GGTA1P</text><text x="1480.6" y="973.3">FAM150B</text><text x="1557.0" y="969.8">CCDC3</text></g>
<rect x="1400.6" y="622.9" width="517.5" height="493.4" fill="none" stroke="#555" stroke-width="1.3"/>
<path d="M1431.5 1116.3v3.3M1530.2 1116.3v3.3M1628.8 1116.3v3.3M1727.4 1116.3v3.3M1826.0 1116.3v3.3M1400.6 1094.3h-3.3M1400.6 994.8h-3.3M1400.6 895.3h-3.3M1400.6 795.8h-3.3M1400.6 696.3h-3.3" stroke="#222" stroke-width="1.5" fill="none"/>
<g font-size="11.7" fill="#4d4d4d"><text x="1431.5" y="1131.1" text-anchor="middle">−5.0</text><text x="1530.2" y="1131.1" text-anchor="middle">−2.5</text><text x="1628.8" y="1131.1" text-anchor="middle">0.0</text><text x="1727.4" y="1131.1" text-anchor="middle">2.5</text><text x="1826.0" y="1131.1" text-anchor="middle">5.0</text><text x="1394.2" y="1097.8" text-anchor="end">0</text><text x="1394.2" y="998.3" text-anchor="end">1</text><text x="1394.2" y="898.8" text-anchor="end">2</text><text x="1394.2" y="799.3" text-anchor="end">3</text><text x="1394.2" y="699.8" text-anchor="end">4</text></g>
<text x="1659.3" y="1147.3" font-size="14.6" text-anchor="middle">logFC</text>
<text transform="translate(1381.6 869.6) rotate(-90)" font-size="14.6" text-anchor="middle">−log10(adj.P.Val)</text>
<text x="1940.1" y="837.8" font-size="14.6">Sig</text>
<circle cx="1950.6" cy="857.7" r="2.95" fill="#00f000"/>
<text x="1969.6" y="861.9" font-size="11.7">Down</text>
<circle cx="1950.6" cy="880.0" r="2.95" fill="#000"/>
<text x="1969.6" y="884.2" font-size="11.7">Not</text>
<circle cx="1950.6" cy="902.2" r="2.95" fill="#f00000"/>
<text x="1969.6" y="906.4" font-size="11.7">Up</text>
</g>
</svg>
</body></html>
